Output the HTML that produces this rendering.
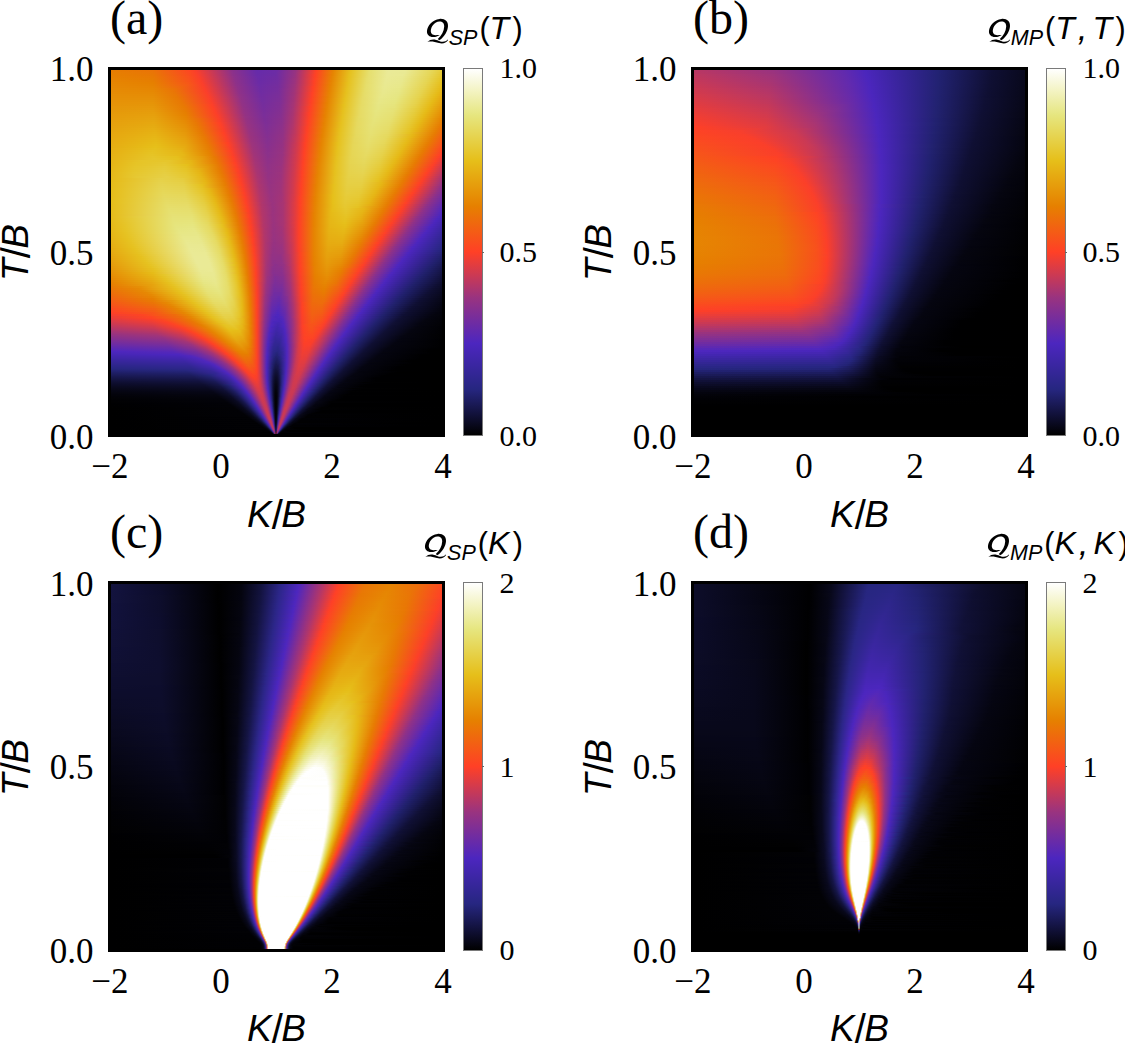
<!DOCTYPE html><html><head><meta charset="utf-8"><style>
*{margin:0;padding:0}
html,body{width:1125px;height:1044px;overflow:hidden;background:#fff}
body{position:relative;font-family:"Liberation Serif",serif;color:#000}
.hm{position:absolute;width:333px;height:368px;display:flex;flex-direction:column;filter:blur(0.5px)}
.hm i{display:block;height:2px;flex:none}
.fr{position:absolute;border:3.2px solid #000;box-sizing:border-box}
.cb{position:absolute;width:19.8px;box-sizing:border-box;border:1px solid #7a7a7a;background:linear-gradient(180deg,#ffffff 0%,#e6e680 12.5%,#e6bf1a 25%,#e68000 37.5%,#ff4026 50%,#993380 62.5%,#4c26bf 75%,#262680 87.5%,#000000 100%)}
.t{position:absolute;white-space:nowrap;line-height:1}
.yt{font-size:35px}
.xt{font-size:35px}
.ct{font-size:30px}
.pl{font-size:48px}
.al{font-family:"Liberation Sans",sans-serif;font-style:italic;font-size:37px}
.sl{font-style:normal;font-size:40px;line-height:0;position:relative;top:2px;margin:0 -1.5px 0 0}
.ti{font-family:"Liberation Sans",sans-serif;font-size:32px}
.ti i{font-style:italic}
.ti .sb{font-style:italic;font-size:21.5px;position:relative;top:6px;margin-right:2px}
.ti .pa{font-size:30.5px}
.ti .pc{font-size:30.5px;margin-left:3.5px}
.ti .cm{font-style:italic;font-size:35px;line-height:0;position:relative;top:1.5px;margin-left:3px;margin-right:5px}
.q{position:absolute}
</style></head><body><div class="hm" style="left:110px;top:68px"><i style="background:linear-gradient(90deg,#e77c02 0px,#eb7208 43px,#fd4523 80px,#f93f2c 85px,#8c318a 121px,#662aaa 146px,#6a2ba6 166px,#973381 186px,#ff4026 206px,#e68201 223px,#e6c11f 241px,#e6df6e 260px,#ebeb99 279px,#eaea96 296px,#e6d657 323px,#e6cb3a 332px)"></i><i style="background:linear-gradient(90deg,#e67d01 0px,#ea7407 43px,#fc4722 80px,#f93f2b 86px,#8c318a 122px,#662baa 147px,#6d2ca5 167px,#983380 186px,#fe4125 206px,#e68302 223px,#e6c221 241px,#e6e070 260px,#eaea98 278px,#eaea95 295px,#e6d657 322px,#e6ca35 332px)"></i><i style="background:linear-gradient(90deg,#e67f01 0px,#e97606 43px,#fb4921 80px,#fa3f2b 87px,#8b318b 123px,#672ba9 147px,#6c2ca5 166px,#963382 185px,#fe4324 206px,#e68502 223px,#e6c11e 240px,#e6df6e 259px,#eaea97 278px,#e9e993 295px,#e6d656 321px,#e6c831 332px)"></i><i style="background:linear-gradient(90deg,#e68000 0px,#e87804 43px,#fa4b1f 80px,#fa3f2b 88px,#8d3189 123px,#682ba8 147px,#6d2ca4 166px,#973381 185px,#ff4026 205px,#e68201 222px,#e6c220 240px,#e6df6f 259px,#eaea96 277px,#eaea94 293px,#e6d758 319px,#e6c62d 332px)"></i><i style="background:linear-gradient(90deg,#e68101 0px,#e87a03 43px,#f94f1d 79px,#fa3f2b 89px,#8d318a 124px,#692ba8 148px,#6f2ca2 167px,#983380 185px,#fe4125 205px,#e68402 222px,#e6c01d 239px,#e6de6d 258px,#eaea95 277px,#e9e991 293px,#e6d555 319px,#e6c528 332px)"></i><i style="background:linear-gradient(90deg,#e68301 0px,#e77c02 43px,#f8511c 79px,#fa3f2a 90px,#8c318a 125px,#692ba7 149px,#712ca0 168px,#9e347b 186px,#fe4325 205px,#e68502 222px,#e6c11f 239px,#e6de6b 257px,#eaea94 276px,#e9e990 292px,#e6d657 317px,#e6c323 332px)"></i><i style="background:linear-gradient(90deg,#e68402 0px,#e67e01 43px,#f7531a 79px,#fb3f2a 91px,#8e3189 125px,#6a2ba6 149px,#722da0 168px,#9b337e 185px,#ff4026 204px,#e68201 221px,#e6c221 239px,#e6de6c 257px,#e9e993 276px,#e8e88e 292px,#e5d553 317px,#e6c11f 332px)"></i><i style="background:linear-gradient(90deg,#e68602 0px,#e68000 43px,#f65718 78px,#fb3f2a 92px,#8d3189 126px,#6b2ba6 149px,#732d9f 168px,#9c337d 185px,#fe4125 204px,#e68402 221px,#e6c11d 238px,#e6dd69 256px,#e9e992 275px,#e8e88d 291px,#e6d552 316px,#e6bf1a 332px)"></i><i style="background:linear-gradient(90deg,#e68703 0px,#e68201 43px,#f55a17 78px,#fb3f2a 93px,#8f3188 126px,#6c2ca5 149px,#742d9e 168px,#9e347b 185px,#fe4225 204px,#e68101 220px,#e6c11f 238px,#e6de6b 256px,#e9e991 275px,#e8e88b 291px,#e6d452 315px,#e6bc18 332px)"></i><i style="background:linear-gradient(90deg,#e68804 0px,#e68402 43px,#f06510 72px,#fb3f2a 94px,#8f3188 127px,#6d2ca4 150px,#762d9c 169px,#9f347a 185px,#ff4026 203px,#e68301 220px,#e6c221 238px,#e6de6b 256px,#e9e990 274px,#e8e88a 290px,#e6d451 314px,#e6bc18 331px,#e6b917 332px)"></i><i style="background:linear-gradient(90deg,#e68a04 0px,#e68603 43px,#eb7208 65px,#fb3f2a 95px,#8e3189 128px,#6e2ca3 150px,#762d9d 168px,#a13479 185px,#ff4126 203px,#e68402 220px,#e6c11e 237px,#e6dd69 255px,#e9e98f 274px,#e7e787 290px,#e6d450 313px,#e6bb18 330px,#e6b616 332px)"></i><i style="background:linear-gradient(90deg,#e68b05 0px,#e68803 43px,#ea7506 64px,#fb3f2a 96px,#903187 128px,#6f2ca2 150px,#772d9c 168px,#9e347b 184px,#fe4225 203px,#e68101 219px,#e6c220 237px,#e6de6a 255px,#e8e88e 273px,#e7e786 289px,#e6d34f 312px,#e6bb18 329px,#e6b315 332px)"></i><i style="background:linear-gradient(90deg,#e68c05 0px,#e68a04 43px,#e97606 65px,#fb3f2a 97px,#8f3188 129px,#702ca2 151px,#792e9a 169px,#a33476 185px,#ff4027 202px,#e68301 219px,#e6c01d 236px,#e6dd68 254px,#e8e88d 273px,#e6e684 289px,#e6d34f 311px,#e6ba17 328px,#e6b013 332px)"></i><i style="background:linear-gradient(90deg,#e68e06 0px,#e68c05 43px,#e97705 66px,#fb3f2a 98px,#913286 129px,#712ca1 151px,#7a2e99 169px,#a03479 184px,#ff4126 202px,#e68402 219px,#e6c11f 236px,#e6dd69 254px,#e8e88b 272px,#e6e683 288px,#e6d34e 310px,#e6bc18 326px,#e6ad12 332px)"></i><i style="background:linear-gradient(90deg,#e68f06 0px,#e68e06 43px,#e87804 67px,#fb3f2a 99px,#913287 130px,#722ca0 151px,#7b2e99 169px,#a23478 184px,#fe4225 202px,#e68101 218px,#e6c220 236px,#e6dc67 253px,#e8e88a 271px,#e6e682 287px,#e6d34d 309px,#e6bb18 325px,#e6a911 332px)"></i><i style="background:linear-gradient(90deg,#e69007 0px,#e69007 43px,#e87904 68px,#fb3f2a 100px,#903287 131px,#722da0 152px,#7d2e97 170px,#a33477 184px,#fe4027 201px,#e68301 218px,#e6c11d 235px,#e6db65 252px,#e7e788 270px,#e6e681 286px,#e6d34f 307px,#e6ba18 324px,#e6a60f 332px)"></i><i style="background:linear-gradient(90deg,#e69207 0px,#e59208 43px,#e87904 70px,#fb3f2a 101px,#923286 131px,#732d9f 152px,#7e2f96 170px,#a43475 184px,#ff4026 201px,#e68402 218px,#e6c11f 235px,#e6dc66 252px,#e7e787 270px,#e6e57e 286px,#e6d24b 307px,#e6ba17 323px,#e6a30e 332px)"></i><i style="background:linear-gradient(90deg,#e69308 0px,#e69408 43px,#e87804 72px,#fb3f2a 102px,#913286 132px,#742d9e 153px,#812f94 171px,#a63574 184px,#fe4125 201px,#e68101 217px,#e6c221 235px,#e6dc66 252px,#e7e786 269px,#e6e57d 285px,#e6d24b 306px,#e6bc18 321px,#e69f0d 332px)"></i><i style="background:linear-gradient(90deg,#e69408 0px,#e59609 43px,#e87904 73px,#fe4027 102px,#933285 132px,#752d9d 153px,#802f94 170px,#a73573 184px,#fe4325 201px,#e68301 217px,#e6c11d 234px,#e6db64 251px,#e6e684 268px,#e6e47c 284px,#e6d14a 305px,#e6bb18 320px,#e69c0b 332px)"></i><i style="background:linear-gradient(90deg,#e69609 0px,#e6980a 43px,#e87a03 74px,#fe4027 103px,#923285 133px,#762d9d 153px,#812f94 170px,#a43476 183px,#ff4026 200px,#e68402 217px,#e6c11f 234px,#e6dc65 251px,#e6e683 268px,#e6e379 285px,#e6cf42 306px,#e6ba18 319px,#e5980a 332px)"></i><i style="background:linear-gradient(90deg,#e59709 0px,#e69a0b 43px,#e87904 76px,#fe4027 104px,#943284 133px,#772d9c 153px,#822f93 170px,#a53575 183px,#ff4126 200px,#e68101 216px,#e6c221 234px,#e6dc66 251px,#e6e682 268px,#e6e174 286px,#e5ca37 308px,#e6ba17 318px,#e69508 332px)"></i><i style="background:linear-gradient(90deg,#e5980a 0px,#e69c0c 43px,#e67d01 75px,#fd4028 105px,#933284 134px,#782d9b 154px,#843091 171px,#a73574 183px,#fe4225 200px,#e68301 216px,#e6c11d 233px,#e6db64 250px,#e6e680 266px,#e6e277 283px,#e6ce41 304px,#e6bc18 316px,#e69107 332px)"></i><i style="background:linear-gradient(90deg,#e59a0a 0px,#e69e0c 44px,#e67e01 76px,#fd3f28 106px,#953283 134px,#792e9a 154px,#853090 171px,#a83572 183px,#fe4027 199px,#e68402 216px,#e6c11f 233px,#e6db64 250px,#e6e57f 266px,#e6e174 283px,#e5cc3c 304px,#e6bb18 315px,#e68d06 332px)"></i><i style="background:linear-gradient(90deg,#e69b0b 0px,#e6a00d 44px,#e68000 76px,#fd3f28 107px,#943283 135px,#7a2e9a 154px,#86308f 171px,#a93571 183px,#ff4026 199px,#e68101 215px,#e6c221 233px,#e6db65 250px,#e6e57e 266px,#e6e072 283px,#e6cb38 304px,#e6ba17 314px,#e68a04 332px)"></i><i style="background:linear-gradient(90deg,#e69c0b 0px,#e6a20e 44px,#e68301 76px,#fc3f29 108px,#963382 135px,#7b2e99 154px,#87308f 171px,#ab3570 183px,#fe4225 199px,#e68201 215px,#e6c11d 232px,#e6db63 249px,#e6e47d 265px,#e6e071 282px,#e6ca37 303px,#e6ba17 313px,#e68603 332px)"></i><i style="background:linear-gradient(90deg,#e69d0c 0px,#e6a40f 44px,#e68502 76px,#ee690d 91px,#fc3f29 109px,#953282 136px,#7b2e98 155px,#8a308c 172px,#ac356f 183px,#fe4325 199px,#e68402 215px,#e6c11f 232px,#e5da60 248px,#e6e47b 264px,#e6e070 281px,#e5ca36 302px,#e6b917 312px,#e68201 332px)"></i><i style="background:linear-gradient(90deg,#e69f0c 0px,#e5a610 44px,#e68a04 75px,#e97606 86px,#fb3f2a 110px,#973381 136px,#7c2e97 155px,#8a318c 172px,#ad366e 183px,#ff4026 198px,#e68502 215px,#e6c221 232px,#e5da61 248px,#e6e47a 264px,#e6df6d 281px,#e6c831 302px,#e6bb18 310px,#e67f01 332px)"></i><i style="background:linear-gradient(90deg,#e6a00d 0px,#e6a810 44px,#e68c05 75px,#e97705 87px,#ff4027 110px,#963382 137px,#7d2e97 156px,#8b318b 172px,#ae366d 183px,#ff4126 198px,#e68201 214px,#e6c11d 231px,#e6d95f 247px,#e6e379 263px,#e6de6c 280px,#e6c830 301px,#e6ba17 309px,#e77b03 332px)"></i><i style="background:linear-gradient(90deg,#e6a10d 0px,#e5aa11 44px,#e68f06 75px,#e87904 87px,#fe4027 111px,#983380 137px,#7e2f96 156px,#8c318a 172px,#b0366c 183px,#fe4225 198px,#e68302 214px,#e6c11f 231px,#e6d95f 247px,#e6e378 262px,#e6de6b 279px,#e6c72f 300px,#e6b917 308px,#e77d02 330px,#e97705 332px)"></i><i style="background:linear-gradient(90deg,#e6a20e 0px,#e5ac12 44px,#e69107 75px,#e87a04 88px,#fd4028 112px,#973381 138px,#7f2f95 156px,#8d318a 172px,#b1366b 183px,#fe4027 197px,#e68502 214px,#e6c220 231px,#e5da60 247px,#e6e277 262px,#e6dd68 279px,#e6c62b 300px,#e6b917 307px,#e77c02 329px,#eb7308 332px)"></i><i style="background:linear-gradient(90deg,#e6a30e 0px,#e6ae13 44px,#e69408 75px,#e87a03 89px,#fc3f28 113px,#99337f 138px,#802f94 156px,#8e3189 172px,#b23669 183px,#ff4026 197px,#e68201 213px,#e6c11d 230px,#e5d95d 246px,#e6e275 261px,#e6dd68 278px,#e6c52a 299px,#e6b817 306px,#e77b03 328px,#ec6f0a 332px)"></i><i style="background:linear-gradient(90deg,#e5a50f 0px,#e6b013 45px,#e59508 76px,#e87804 91px,#fc3f29 114px,#983380 139px,#812f94 157px,#903287 173px,#bd3860 185px,#fe4125 197px,#e68301 213px,#e6c11e 230px,#e6d95e 246px,#e6e174 261px,#e6db65 278px,#e6c425 299px,#e6b515 306px,#e77d02 326px,#ee6b0c 332px)"></i><i style="background:linear-gradient(90deg,#e6a60f 0px,#e6b214 45px,#e6990a 75px,#e77b03 91px,#ff4026 114px,#9a337e 139px,#822f93 157px,#913286 173px,#be385f 185px,#fe4225 197px,#e68402 213px,#e6c220 230px,#e6d95e 246px,#e6e173 261px,#e6da62 278px,#e6c220 299px,#e77c02 325px,#ef670f 332px)"></i><i style="background:linear-gradient(90deg,#e6a710 0px,#e6b415 45px,#e69b0b 75px,#e87904 93px,#fe4027 115px,#99337f 140px,#832f92 157px,#923285 173px,#c53859 186px,#fe4027 196px,#e68101 212px,#e6c221 230px,#e5d95e 246px,#e6e072 261px,#e6d95e 278px,#e6b817 302px,#e77b03 324px,#f16311 332px)"></i><i style="background:linear-gradient(90deg,#e6a810 0px,#e6b616 45px,#e69e0c 75px,#e87a04 94px,#fd4028 116px,#9b337d 140px,#842f91 157px,#933285 173px,#c63958 186px,#ff4026 196px,#e68201 212px,#e6c11e 229px,#e6d85c 245px,#e6e070 260px,#e5d95d 277px,#e6ba18 300px,#e77d02 322px,#f25f13 332px)"></i><i style="background:linear-gradient(90deg,#e6a911 0px,#e6b817 45px,#e6a10d 75px,#e87a03 95px,#fc3f29 117px,#9a337e 141px,#843091 158px,#963282 174px,#d23a4e 188px,#fe4125 196px,#e68402 212px,#e6c11f 229px,#e5d75a 244px,#e6df6f 259px,#e6d95f 275px,#e6c01d 296px,#e77c02 321px,#f45b16 332px)"></i><i style="background:linear-gradient(90deg,#e6aa11 0px,#e6ba17 46px,#e6a20e 76px,#e87a03 96px,#fb3f2a 118px,#9c337d 141px,#853090 157px,#923285 172px,#be385f 184px,#fe4225 196px,#e68502 212px,#e6c221 229px,#e6d75a 244px,#e6df6d 259px,#e6d85b 275px,#e6b917 298px,#e77b03 320px,#f65718 332px)"></i><i style="background:linear-gradient(90deg,#e6ab11 0px,#e6bc18 46px,#e6a40f 76px,#e87a03 97px,#ff4026 118px,#9e347b 141px,#86308f 157px,#933284 172px,#c53859 185px,#fe4027 195px,#e68201 211px,#e6c11d 228px,#e6d657 243px,#e6de6c 258px,#e6d85a 274px,#e6bb18 296px,#e77d02 318px,#f7531b 332px)"></i><i style="background:linear-gradient(90deg,#e6ac12 0px,#e6be19 46px,#e6a710 76px,#e77b03 98px,#fe4027 119px,#9d347c 142px,#87308f 158px,#963282 173px,#d03a4f 187px,#ff4026 195px,#e68301 211px,#e6c11e 228px,#e6d758 243px,#e6de6a 258px,#e5d657 274px,#e6ba17 295px,#e77c02 317px,#f94f1d 332px)"></i><i style="background:linear-gradient(90deg,#e5ad12 0px,#e6c01a 46px,#e6ab11 75px,#e77b03 99px,#fc3f29 120px,#9f347a 142px,#88308e 157px,#943283 172px,#c73957 185px,#fe4125 195px,#e68402 211px,#e6c220 228px,#e6d758 243px,#e6dd69 258px,#e6d554 274px,#e6b917 294px,#e77b03 316px,#fb4b20 332px)"></i><i style="background:linear-gradient(90deg,#e6ae13 0px,#e6c11e 45px,#e6b014 73px,#e77b03 100px,#fb3f2a 121px,#9e347b 143px,#89308d 158px,#973381 173px,#d33a4d 187px,#fe4225 195px,#e68502 211px,#e6c221 228px,#e6d758 243px,#e6dc67 258px,#e6d450 274px,#e6b917 293px,#e77d02 314px,#fc4622 332px)"></i><i style="background:linear-gradient(90deg,#e6af13 0px,#e6c221 43px,#e6b516 71px,#e68301 98px,#ff4027 121px,#a03479 143px,#8a308c 158px,#983380 173px,#d43a4c 187px,#fe4027 194px,#e68201 210px,#e6c11d 227px,#e6d655 242px,#e6dc66 257px,#e6d34f 273px,#e6ba18 291px,#e77b02 313px,#fe4225 332px)"></i><i style="background:linear-gradient(90deg,#e6b013 0px,#e6c323 42px,#e6b716 72px,#e68301 99px,#fd4028 122px,#a23477 143px,#8b318b 157px,#973382 172px,#ca3954 185px,#ff4026 194px,#e68301 210px,#e6c11e 227px,#e6d655 242px,#e6db64 257px,#e6d24b 273px,#e6ba17 290px,#e87a03 312px,#fc3f29 332px)"></i><i style="background:linear-gradient(90deg,#e6b114 0px,#e6c426 42px,#e6b817 73px,#e68301 100px,#fc3f29 123px,#a13478 144px,#8b318b 158px,#99337f 173px,#d63b4a 187px,#ff4126 194px,#e68402 210px,#e6c11f 227px,#e6d655 242px,#e6db62 256px,#e6d24a 272px,#e6b917 289px,#e77c02 310px,#ff4026 330px,#f63f2e 332px)"></i><i style="background:linear-gradient(90deg,#e6b214 0px,#e6c529 43px,#e6c01c 67px,#e69a0a 92px,#e77b03 104px,#ff4026 123px,#a33477 144px,#8c318a 158px,#983380 172px,#cd3952 185px,#fe4225 194px,#e68502 210px,#e6c221 227px,#e6d553 241px,#e6da61 255px,#e6d149 271px,#e6bb18 287px,#e77b02 309px,#fd3f28 329px,#ef3e34 332px)"></i><i style="background:linear-gradient(90deg,#e6b314 0px,#e6c62c 44px,#e6c11e 68px,#e69c0c 92px,#e77b03 105px,#fe4027 124px,#a53475 144px,#8e3189 157px,#993380 172px,#d33a4d 186px,#fe4225 194px,#e68201 209px,#e6c222 227px,#e6d552 241px,#e5d95f 255px,#e5d045 271px,#e6ba17 286px,#e87a03 308px,#fb3f2a 328px,#e83d3a 332px)"></i><i style="background:linear-gradient(90deg,#e6b415 0px,#e6c529 32px,#e6c62c 59px,#e6b515 81px,#e87a03 106px,#fc3f29 125px,#a43476 145px,#8e3189 158px,#99337f 172px,#d43a4c 186px,#fe4027 193px,#e68301 209px,#e6c11e 226px,#e6d450 240px,#e6d95d 254px,#e5cf44 270px,#e6b917 285px,#e77c02 306px,#fe4027 326px,#e13c40 332px)"></i><i style="background:linear-gradient(90deg,#e6b415 0px,#e6c426 26px,#e6c831 55px,#e6b716 81px,#e87a03 107px,#ff4026 125px,#a63575 145px,#8f3188 158px,#9a337f 172px,#d53b4b 186px,#ff4026 193px,#e68402 209px,#e6c11f 226px,#e6d450 240px,#e6d85b 254px,#e6ce40 270px,#e6b917 284px,#e77b02 305px,#fc3f29 325px,#da3b46 332px)"></i><i style="background:linear-gradient(90deg,#e6b515 0px,#e6c427 25px,#e6c934 55px,#e6c01b 77px,#e68c05 102px,#e97705 109px,#fe4028 126px,#a73573 145px,#903287 157px,#983380 171px,#cc3953 184px,#ff4126 193px,#e68502 209px,#e6c220 226px,#e6d34f 240px,#e5d759 254px,#e6cc3c 270px,#e6ba18 282px,#e87a03 304px,#fe4027 323px,#d43a4c 332px)"></i><i style="background:linear-gradient(90deg,#e6b616 0px,#e6c529 25px,#e6cb38 55px,#e6c221 76px,#e6990a 98px,#e87a04 109px,#fc3f29 127px,#a63574 146px,#903287 158px,#9c337d 172px,#d23a4e 185px,#fe4225 193px,#e68201 208px,#e6c221 226px,#e6d34f 240px,#e6d657 254px,#e6cb38 270px,#e6ba17 281px,#e77d02 302px,#fc3f29 322px,#cd3952 332px)"></i><i style="background:linear-gradient(90deg,#e6b716 0px,#e6c52a 24px,#e6cc3b 54px,#e6c425 76px,#e6ab11 92px,#e77c02 109px,#ff4026 127px,#a83573 146px,#913286 158px,#9a337f 171px,#cd3a52 184px,#fe4225 193px,#e68301 208px,#e6c221 226px,#e6d34e 240px,#e6d555 254px,#e6c934 270px,#e6b917 280px,#e77b02 301px,#ff4026 320px,#c63958 332px)"></i><i style="background:linear-gradient(90deg,#e6b716 0px,#e6c62b 24px,#e6cd3e 54px,#e6c529 76px,#e6b415 89px,#e77c02 110px,#fd4028 128px,#aa3571 146px,#933285 157px,#9a337e 171px,#ce3a51 184px,#fe4027 192px,#e68402 208px,#e6c11e 225px,#e6d24c 239px,#e5d553 253px,#e6c933 269px,#e6bb18 278px,#e87a03 300px,#fd3f28 319px,#bf385e 332px)"></i><i style="background:linear-gradient(90deg,#e6b817 0px,#e6c72d 24px,#e6ce41 55px,#e6c72d 76px,#e6b515 90px,#e77b02 111px,#fb3f2a 129px,#a83572 147px,#923285 159px,#9e347b 172px,#d53a4b 185px,#ff4026 192px,#e68402 208px,#e6c11e 225px,#e6d24b 239px,#e6d451 253px,#e6c72e 269px,#e6b716 278px,#e77d02 298px,#ff4026 317px,#b83764 332px)"></i><i style="background:linear-gradient(90deg,#e6b817 0px,#e6c72f 24px,#e6cf44 55px,#e6c831 76px,#e6b816 90px,#e77b03 112px,#fe4027 129px,#aa3571 147px,#933284 158px,#9c337d 171px,#d03a4f 184px,#ff4126 192px,#e68101 207px,#e6c11f 225px,#e6d24a 239px,#e6d34e 253px,#e6c52a 269px,#e6b716 277px,#e77b02 297px,#fe4027 316px,#b1366a 332px)"></i><i style="background:linear-gradient(90deg,#e6b917 0px,#e6c934 27px,#e6d047 57px,#e6c831 78px,#e6b616 92px,#e87a03 113px,#fc3f29 130px,#ac356f 147px,#943284 158px,#9c337d 171px,#d13a4e 184px,#fe4125 192px,#e68201 207px,#e6c220 225px,#e6d148 238px,#e6d24d 252px,#e6c528 268px,#e6b616 276px,#e87a03 296px,#fc3f29 315px,#aa3570 332px)"></i><i style="background:linear-gradient(90deg,#e6ba17 0px,#e6d149 51px,#e6cd3e 73px,#e6b716 93px,#e87a04 114px,#ff4026 130px,#ad366e 147px,#953283 158px,#9d337c 171px,#d23a4e 184px,#fe4225 192px,#e68301 207px,#e6c220 225px,#e6d047 238px,#e6d14a 252px,#e6c324 268px,#e6b013 277px,#e77d02 294px,#fe4027 313px,#a33476 332px)"></i><i style="background:linear-gradient(90deg,#e6ba17 0px,#e6d24b 51px,#e6ce42 73px,#e6b515 95px,#e77c02 114px,#fd3f28 131px,#ac356f 148px,#953283 159px,#9e347c 171px,#d33a4d 184px,#fe4324 192px,#e68402 207px,#e6c221 225px,#e6d046 238px,#e6d047 252px,#e6c11f 268px,#e77b02 293px,#fc3f29 312px,#9c337c 332px)"></i><i style="background:linear-gradient(90deg,#e6bb18 0px,#e6d34e 51px,#e6d046 73px,#e6b817 95px,#e77c02 115px,#ff4026 131px,#aa3571 149px,#953283 160px,#a13479 172px,#d93b47 185px,#fe4027 191px,#e68402 207px,#e6c221 225px,#e6d045 238px,#e6cf44 252px,#e6b817 271px,#e87a03 292px,#ff4026 310px,#963382 332px)"></i><i style="background:linear-gradient(90deg,#e6bb18 0px,#e6d451 52px,#e6d148 74px,#e6c11e 92px,#e67e01 115px,#fe4027 132px,#af366c 148px,#963382 159px,#9f347b 171px,#cf3a50 183px,#ff4026 191px,#e68101 206px,#e6c11d 224px,#e6cf43 237px,#e6cf43 251px,#e6b816 270px,#e77d02 290px,#fd4028 309px,#913286 332px)"></i><i style="background:linear-gradient(90deg,#e6bb18 0px,#e6d553 52px,#e6d24c 74px,#e6c222 92px,#e68804 113px,#eb7208 119px,#fb3f2a 133px,#ad356e 149px,#963382 160px,#9f347a 171px,#cf3a50 183px,#ff4026 191px,#e68201 206px,#e6c11e 224px,#e6ce42 237px,#e6ce40 251px,#e6b716 269px,#e77c02 289px,#fb3f2a 308px,#8f3187 331px,#8c318a 332px)"></i><i style="background:linear-gradient(90deg,#e6bc18 0px,#e6d655 52px,#e6d34f 74px,#e6c427 92px,#e6b415 100px,#e77d02 117px,#fe4027 133px,#ae366d 149px,#973381 160px,#a0347a 171px,#d03a4f 183px,#fe4125 191px,#e68301 206px,#e6c11e 224px,#e6ce40 237px,#e6cc3d 251px,#e6b817 267px,#e87a03 288px,#fe4027 306px,#8e3189 330px,#87308e 332px)"></i><i style="background:linear-gradient(90deg,#e6bc18 0px,#e6d758 53px,#e6d452 75px,#e6c528 93px,#e6b716 100px,#e77c02 118px,#fb3f2a 134px,#b0366b 149px,#973381 160px,#a03479 171px,#d13a4f 183px,#fe4225 191px,#e68302 206px,#e6c11e 224px,#e5cd3f 237px,#e6cb39 251px,#e6b716 266px,#e77d02 286px,#fc3f29 305px,#8f3188 328px,#822f93 332px)"></i><i style="background:linear-gradient(90deg,#e6bc18 0px,#e6d85a 53px,#e6d655 75px,#e6c62c 93px,#e6b716 101px,#e87a03 119px,#fe4027 134px,#b2366a 149px,#983381 160px,#a03479 171px,#d13a4e 183px,#fe4225 191px,#e68402 206px,#e6c11e 224px,#e6cd3e 237px,#e6ca36 251px,#e6b716 265px,#e77c02 285px,#ff4026 303px,#8d3189 327px,#7d2e97 332px)"></i><i style="background:linear-gradient(90deg,#e6bc18 0px,#e6d95d 54px,#e6d759 75px,#e6c934 92px,#e6ba18 101px,#e67d01 119px,#fb3f2a 135px,#af366c 150px,#983381 161px,#a33477 172px,#d83b49 184px,#fe4324 191px,#e68502 206px,#e6c01b 223px,#e6cc3b 236px,#e6ca36 249px,#e6b616 264px,#e87a03 284px,#fd3f28 302px,#8f3188 325px,#782d9b 332px)"></i><i style="background:linear-gradient(90deg,#e6bc18 0px,#e6d95f 54px,#e6d85c 75px,#e6cb39 92px,#e6b816 103px,#e77c02 120px,#fe4027 135px,#b1366b 150px,#983380 161px,#a43476 172px,#d83b48 184px,#fe4027 190px,#e68101 205px,#e6c01b 223px,#e6cb39 236px,#e6c933 249px,#e6b515 263px,#e77d02 282px,#ff4026 300px,#8d318a 324px,#732d9f 332px)"></i><i style="background:linear-gradient(90deg,#e6bd18 0px,#e5da62 55px,#e6d95f 76px,#e6cb3a 93px,#e6b816 104px,#e77b03 121px,#fb3f2a 136px,#b2366a 150px,#993380 161px,#a43476 172px,#d93b48 184px,#ff4027 190px,#e68201 205px,#e6c01b 223px,#e6cb38 236px,#e6c72f 249px,#e6b616 261px,#e77c02 281px,#fe4027 299px,#8e3189 322px,#6e2ca3 332px)"></i><i style="background:linear-gradient(90deg,#e6bd18 0px,#e6db64 56px,#e5da61 77px,#e6cc3b 94px,#e6b816 105px,#e67d01 121px,#fe4027 136px,#b43668 150px,#993380 161px,#a43476 172px,#d93b47 184px,#ff4026 190px,#e68201 205px,#e6c01a 223px,#e6ca35 235px,#e6c72d 248px,#e6b315 261px,#e87a03 280px,#fb3f29 298px,#903187 320px,#692ba8 332px)"></i><i style="background:linear-gradient(90deg,#e6bd18 0px,#e6dc66 56px,#e6db64 77px,#e5ce40 94px,#e6bb18 105px,#e77c02 122px,#ff4126 136px,#ad366e 152px,#993380 163px,#aa3570 174px,#e63d3c 186px,#ff4026 190px,#e68301 205px,#e6c01a 223px,#e6c934 235px,#e6c52a 248px,#e6b515 259px,#e77d02 278px,#ff4027 296px,#8e3189 319px,#642aac 332px)"></i><i style="background:linear-gradient(90deg,#e6bc18 0px,#e6dd69 57px,#e6dc67 78px,#e6ce41 95px,#e6bb18 106px,#e87a03 123px,#fd4028 137px,#b23669 151px,#99337f 162px,#a73573 173px,#e03c41 185px,#ff4126 190px,#e68302 205px,#e6bf1a 223px,#e6c832 235px,#e6c426 248px,#e6ac12 261px,#e77c02 277px,#fc3f29 295px,#8f3188 317px,#5f29b0 332px)"></i><i style="background:linear-gradient(90deg,#e6bc18 0px,#e6de6b 58px,#e6dd6a 78px,#e6d045 95px,#e6ba18 107px,#e77d02 123px,#ff4126 137px,#b0366c 152px,#993380 163px,#a73573 173px,#e03c41 185px,#fe4125 190px,#e68402 205px,#e6bf1a 223px,#e6c830 235px,#e6c222 248px,#e6970a 267px,#e77b03 276px,#ff4026 293px,#8d3189 316px,#5a29b4 332px)"></i><i style="background:linear-gradient(90deg,#e6bc18 0px,#e6df6e 59px,#e6de6c 79px,#e6d149 95px,#e6ba17 108px,#e77b03 124px,#fd3f28 138px,#b1366b 152px,#99337f 163px,#a73573 173px,#e13c41 185px,#fe4125 190px,#e68402 205px,#e6bd19 222px,#e6c72e 236px,#e6b616 254px,#e77d02 274px,#fd4028 292px,#8f3188 314px,#5528b8 332px)"></i><i style="background:linear-gradient(90deg,#e6bc18 0px,#e6e070 60px,#e6df6e 80px,#e6d24a 96px,#e6ba17 109px,#e87a04 125px,#ff4026 138px,#b2366a 152px,#99337f 163px,#a73573 173px,#e13c40 185px,#fe4225 190px,#e68502 205px,#e6bd18 222px,#e6c62b 236px,#e6b516 253px,#e77c02 273px,#fb3f2a 291px,#8d318a 313px,#5027bc 332px)"></i><i style="background:linear-gradient(90deg,#e6bc18 0px,#e6e172 61px,#e6e070 81px,#e6d24b 97px,#e6b917 110px,#e77c02 125px,#fb3f29 139px,#b33669 152px,#9a337f 163px,#a73573 173px,#e13c40 185px,#fe4225 190px,#e68101 204px,#e6ba17 221px,#e6c529 236px,#e6b415 252px,#e77b03 272px,#fe4027 289px,#8f3188 311px,#4c26bf 332px)"></i><i style="background:linear-gradient(90deg,#e6bb18 0px,#e6e175 62px,#e6e172 82px,#e6d24c 98px,#e6bc18 110px,#e87a03 126px,#fe4027 139px,#b43668 152px,#9a337e 162px,#a43476 172px,#d53b4b 183px,#fe4225 190px,#e68201 204px,#e6ba17 221px,#e6c426 236px,#e6b315 251px,#e77d02 270px,#fc3f29 288px,#8d318a 310px,#4b26bd 331px,#4a26bb 332px)"></i><i style="background:linear-gradient(90deg,#e6bb18 0px,#e6cd3f 26px,#e6e277 63px,#e6e275 82px,#e6d450 98px,#e6bc18 111px,#e77d02 126px,#ff4126 139px,#b1366b 153px,#9a337f 163px,#a73573 173px,#e23c40 185px,#fe4325 190px,#e68201 204px,#e6b917 221px,#e6c323 236px,#e6b013 251px,#e77c02 269px,#ff4026 286px,#8e3188 308px,#4c26be 329px,#4726b7 332px)"></i><i style="background:linear-gradient(90deg,#e6ba18 0px,#e6c933 20px,#e6e378 63px,#e6e378 82px,#e6d555 98px,#e6bb18 112px,#e77b03 127px,#fc3f29 140px,#b2366a 153px,#9a337f 163px,#a73574 173px,#e23c40 185px,#fe4324 190px,#e68201 204px,#e6b716 220px,#e6c221 235px,#e6ad12 251px,#e77b03 268px,#fd4028 285px,#903187 306px,#4c26be 327px,#4526b3 332px)"></i><i style="background:linear-gradient(90deg,#e6ba17 0px,#e6c72f 18px,#e6e379 63px,#e6e47b 82px,#e6d85c 97px,#e6ba17 113px,#e67d01 127px,#ff4026 140px,#b33669 153px,#9a337f 163px,#a63574 173px,#dc3b45 184px,#fd4028 189px,#e68301 204px,#e6b616 220px,#e6c11e 235px,#e6a710 252px,#e87904 267px,#fb3f2a 284px,#8e3189 305px,#4c26bf 325px,#4326af 332px)"></i><i style="background:linear-gradient(90deg,#e6b917 0px,#e6c52a 16px,#e6e47b 64px,#e6e57d 83px,#e5d95d 98px,#e6b917 114px,#e77b03 128px,#fe4125 140px,#af366c 154px,#99337f 164px,#a93571 174px,#e93d3a 186px,#fe4028 189px,#e68301 204px,#e6b616 220px,#e6c01b 235px,#e6a10d 253px,#e77c02 265px,#fe4027 282px,#903187 303px,#4b26bd 324px,#4126ab 332px)"></i><i style="background:linear-gradient(90deg,#e6b817 0px,#e6c427 15px,#e6e57d 65px,#e6e680 83px,#e6da61 98px,#e6c221 112px,#e67d01 128px,#fd3f28 141px,#b43668 153px,#99337f 163px,#a63574 173px,#dc3b45 184px,#fe4027 189px,#e68301 204px,#e6b516 220px,#e6be19 235px,#e69d0c 253px,#e77b03 264px,#fc3f29 281px,#8e3189 302px,#4c26be 322px,#3e26a8 332px)"></i><i style="background:linear-gradient(90deg,#e6b816 0px,#e6c426 15px,#e6e57f 66px,#e6e683 83px,#e6da62 99px,#e6c11f 113px,#e77b03 129px,#ff4026 141px,#b53667 153px,#99337f 163px,#a23477 172px,#d53b4b 183px,#fe4027 189px,#e68302 204px,#e6b515 220px,#e6bc18 235px,#e5990a 253px,#e87904 263px,#ff4026 279px,#8f3188 300px,#4c26bf 320px,#3c26a4 332px)"></i><i style="background:linear-gradient(90deg,#e6b716 0px,#e6c426 16px,#e6e681 67px,#e7e785 84px,#e6da62 100px,#e6ba17 116px,#e67d01 129px,#fe4125 141px,#ad356e 155px,#983380 164px,#a53475 173px,#db3b45 184px,#fe4027 189px,#e68402 204px,#e6b214 219px,#e6ba18 234px,#e6980a 252px,#e77c02 261px,#fd4028 278px,#8d3189 299px,#4b26bd 319px,#3a26a0 332px)"></i><i style="background:linear-gradient(90deg,#e6b616 0px,#e6c425 16px,#e6e684 69px,#e7e787 85px,#e6db62 101px,#e6b917 117px,#e77b03 130px,#fc3f28 142px,#b2366a 154px,#993380 163px,#a13478 172px,#d53a4b 183px,#fe4027 189px,#e68402 204px,#e6b214 219px,#e6b817 234px,#e69408 252px,#e77b03 260px,#fb3f2a 277px,#8f3188 297px,#4c26be 317px,#38269d 332px)"></i><i style="background:linear-gradient(90deg,#e6b515 0px,#e6c323 16px,#e7e786 70px,#e7e789 86px,#e5db63 102px,#e6bc18 117px,#e67d01 130px,#ff4026 142px,#b23669 154px,#983380 163px,#a03479 172px,#d53a4b 183px,#fe4027 189px,#e68402 204px,#e6b114 219px,#e6b616 234px,#e69007 252px,#e87904 259px,#ff4027 275px,#8d3189 296px,#4c26bf 315px,#362699 332px)"></i><i style="background:linear-gradient(90deg,#e6b415 0px,#e6c323 17px,#e7e789 72px,#e7e789 88px,#e6db63 103px,#e6ba17 118px,#e87a03 131px,#fe4125 142px,#ae366d 155px,#973381 164px,#a33477 173px,#db3b46 184px,#fe4027 189px,#e68402 204px,#e6b013 219px,#e6b415 233px,#e68f06 251px,#e87804 258px,#fc3f29 274px,#8f3188 294px,#4d26bf 313px,#342696 332px)"></i><i style="background:linear-gradient(90deg,#e6b315 0px,#e6c323 18px,#e8e88b 73px,#e8e88c 88px,#e6db63 104px,#e6b917 119px,#e77d02 131px,#fb3f29 143px,#b33669 154px,#983381 163px,#9f347a 172px,#ce3a52 182px,#fe4027 189px,#e68402 204px,#e6af13 219px,#e6b214 233px,#e68b05 251px,#e97705 257px,#ff4026 272px,#8d318a 293px,#4c26be 312px,#322692 332px)"></i><i style="background:linear-gradient(90deg,#e6b214 0px,#e6c221 18px,#e8e88d 74px,#e8e88d 89px,#e6dc67 104px,#e6c221 117px,#e67f00 131px,#fd4028 143px,#b43668 154px,#973381 163px,#9e347b 172px,#cd3a52 182px,#fe4027 189px,#e68402 204px,#e6ae13 219px,#e6b013 233px,#e68703 251px,#ee6b0c 259px,#fe4027 271px,#8f3188 291px,#4c26be 310px,#30268f 332px)"></i><i style="background:linear-gradient(90deg,#e6b014 0px,#e6c220 19px,#e9e98f 76px,#e8e88d 91px,#e6db62 106px,#e6ba17 120px,#e77c02 132px,#ff4026 143px,#af366c 155px,#963382 164px,#a03479 173px,#da3b47 184px,#fe4027 189px,#e68402 204px,#e6ac12 218px,#e6ae13 232px,#e68502 250px,#ef670f 259px,#fb3f29 270px,#8d318a 290px,#4d26bf 308px,#2e268c 332px)"></i><i style="background:linear-gradient(90deg,#e6af13 0px,#e6c222 21px,#e9e991 77px,#e8e88e 92px,#e6da62 107px,#e6bc18 120px,#e67e01 132px,#fe4125 143px,#aa3570 156px,#953282 164px,#9f347a 173px,#d23a4d 183px,#fe4027 189px,#e68402 204px,#e6ab11 218px,#e6ac12 232px,#e68101 250px,#ff4026 268px,#8f3188 288px,#4b26be 307px,#2c2689 332px)"></i><i style="background:linear-gradient(90deg,#e6ad12 0px,#e6c221 22px,#e9e992 78px,#e9e991 92px,#e6dc65 107px,#e6ba18 121px,#e77b03 133px,#fb3f29 144px,#af366c 155px,#963282 163px,#9b337e 172px,#cb3954 182px,#fd4028 189px,#e68402 204px,#e6aa11 218px,#e6a911 232px,#e87904 251px,#fd3f28 267px,#8c318a 287px,#4c26be 305px,#2a2685 332px)"></i><i style="background:linear-gradient(90deg,#e6ac12 0px,#e6c220 23px,#e9e993 79px,#e9e992 93px,#e6db65 108px,#e6b817 122px,#e67d01 133px,#fd4028 144px,#af366c 155px,#953283 163px,#9a337f 172px,#ca3954 182px,#fd4028 189px,#e68402 204px,#e6a810 218px,#e6a60f 232px,#e77c02 249px,#ff4126 265px,#8e3188 285px,#4c26bf 303px,#282682 332px)"></i><i style="background:linear-gradient(90deg,#e6aa11 0px,#e6c11f 24px,#eaea94 80px,#e9e993 94px,#e6db64 109px,#e6bb18 122px,#e67f00 133px,#ff4026 144px,#af366c 155px,#943283 163px,#993380 172px,#ca3955 182px,#fd3f28 189px,#e68402 204px,#e5a710 218px,#e6a30e 232px,#e87a03 248px,#fe4027 264px,#8c318a 284px,#4b26bd 302px,#26267f 332px)"></i><i style="background:linear-gradient(90deg,#e6a910 0px,#e6c220 26px,#eaea95 81px,#e9e993 95px,#e6db63 110px,#e6b917 123px,#e77c02 134px,#fe4125 144px,#aa3571 156px,#943284 163px,#9a337e 173px,#d03a50 183px,#fc3f29 189px,#e68302 204px,#e6a60f 218px,#e6a00d 232px,#e87904 247px,#fc3f29 263px,#8e3188 282px,#4c26be 300px,#242479 332px)"></i><i style="background:linear-gradient(90deg,#e6a710 0px,#e6c221 28px,#eaea96 82px,#eaea94 96px,#e6dc66 110px,#e6bb18 123px,#e67e01 134px,#fe4225 144px,#aa3571 156px,#933285 163px,#99337f 173px,#cf3a50 183px,#fe4324 190px,#e68301 204px,#e6a30e 217px,#e69f0d 231px,#e77b03 245px,#ff4026 261px,#8c318a 281px,#4c26bf 298px,#232373 332px)"></i><i style="background:linear-gradient(90deg,#e6a50f 0px,#e6c11f 29px,#eaea96 83px,#eaea95 96px,#e6dd6a 110px,#e6b917 124px,#e87a03 135px,#fc3f29 145px,#af366c 155px,#933284 162px,#943284 171px,#b43668 179px,#fe4325 190px,#e68301 204px,#e6a20e 217px,#e69c0b 231px,#e87a03 244px,#fe4027 260px,#8e3188 279px,#4b26bd 297px,#21216e 332px)"></i><i style="background:linear-gradient(90deg,#e6a30e 0px,#e6c11f 31px,#eaea97 84px,#eaea96 97px,#e6dd68 111px,#e6bb18 124px,#e77c02 135px,#fd4028 145px,#af366d 155px,#933285 162px,#923285 171px,#b33669 179px,#fe4225 190px,#e68201 204px,#e6a10d 217px,#e6990a 231px,#e87904 243px,#fb3f29 259px,#8c318a 278px,#4c26be 295px,#20206b 331px,#1f1f68 332px)"></i><i style="background:linear-gradient(90deg,#e6a10d 0px,#e6c220 33px,#eaea97 85px,#eaea96 98px,#e6de6b 111px,#e6c427 122px,#e6b917 125px,#e67e01 135px,#ff4026 145px,#ae366d 155px,#923286 162px,#913286 171px,#b1366a 179px,#fe4225 190px,#e68201 204px,#e69f0d 217px,#e59509 231px,#e77b03 241px,#ff4026 257px,#8e3188 276px,#4d26bf 293px,#20206b 329px,#1e1e63 332px)"></i><i style="background:linear-gradient(90deg,#e69f0c 0px,#e6c220 35px,#eaea97 86px,#eaea95 99px,#e6dd6a 112px,#e6c323 123px,#e69f0d 130px,#e87a03 136px,#ff4126 145px,#a83572 156px,#8f3188 163px,#923285 172px,#b63766 180px,#fe4225 190px,#e68201 204px,#e69d0c 217px,#e69207 231px,#e87a03 240px,#fd4028 256px,#8c318a 275px,#4b26bd 292px,#20206b 327px,#1c1c5e 332px)"></i><i style="background:linear-gradient(90deg,#e69c0c 0px,#e6c220 37px,#eaea97 87px,#eaea95 100px,#e6dd68 113px,#e6b817 126px,#e77c02 136px,#fe4225 145px,#a73573 156px,#8e3189 163px,#913287 172px,#af366d 179px,#fe4125 190px,#e68101 204px,#e69c0b 217px,#e68f06 231px,#e87904 239px,#fb3f2a 255px,#8e3188 273px,#4c26be 290px,#20206b 325px,#1b1b59 332px)"></i><i style="background:linear-gradient(90deg,#e69a0b 0px,#e6c220 39px,#eaea96 88px,#eaea96 100px,#e6de6b 113px,#e6c323 124px,#e6a40e 130px,#e67e01 136px,#fe4325 145px,#a13479 157px,#8a308c 165px,#943283 174px,#c93956 183px,#ff4126 190px,#e68100 204px,#e69a0b 217px,#e68b05 231px,#e97705 238px,#ff4026 253px,#8c318a 272px,#4d26bf 288px,#20206b 323px,#191954 332px)"></i><i style="background:linear-gradient(90deg,#e6970a 0px,#e6c220 41px,#eaea96 89px,#eaea95 101px,#e6dd69 114px,#e6b716 127px,#e68000 136px,#fb3f2a 146px,#a63574 156px,#8b318b 163px,#8e3189 172px,#ab356f 179px,#ff4126 190px,#e68302 205px,#e6980a 217px,#e68703 231px,#eb7308 238px,#fd3f28 252px,#8f3188 270px,#4c26be 287px,#20206b 321px,#18184f 332px)"></i><i style="background:linear-gradient(90deg,#e69509 0px,#e6c11f 43px,#eaea95 90px,#eaea94 102px,#e6dc66 115px,#e6ba17 127px,#e77b03 137px,#fc3f29 146px,#a53575 156px,#8a308c 163px,#8c318a 172px,#aa3571 179px,#ff4026 190px,#e68301 205px,#e69609 217px,#e68302 231px,#ff4126 250px,#8c318a 269px,#4c26bf 285px,#20206b 319px,#16164b 332px)"></i><i style="background:linear-gradient(90deg,#e59207 0px,#e6c11f 45px,#e9e993 90px,#eaea95 102px,#e6df6e 114px,#e6c72e 124px,#e6b616 128px,#e77d02 137px,#fe4028 146px,#a43476 156px,#88308d 163px,#8a318c 172px,#a83572 179px,#ff4026 190px,#e68201 205px,#e69408 217px,#e67f00 231px,#ff4027 249px,#8a318c 268px,#4b26bd 284px,#20206b 317px,#151546 332px)"></i><i style="background:linear-gradient(90deg,#e68f06 0px,#e6bc18 43px,#e9e993 92px,#e9e991 104px,#e6dc66 116px,#e6b817 128px,#e67e01 137px,#ff4026 146px,#a33476 156px,#87308f 163px,#89308d 172px,#a63574 179px,#fe4027 190px,#e68101 205px,#e59207 217px,#e77b02 231px,#fc3f29 248px,#8d318a 266px,#4c26be 282px,#20206b 315px,#141442 332px)"></i><i style="background:linear-gradient(90deg,#e68c05 0px,#e6b817 43px,#e6c528 53px,#e9e990 92px,#e9e992 104px,#e6dd69 116px,#e6c324 126px,#e6a810 131px,#e68000 137px,#ff4026 146px,#a23477 156px,#842f91 164px,#8a308c 173px,#ab356f 180px,#fd4028 190px,#e68000 205px,#e69006 217px,#e87a03 230px,#ff4126 246px,#8a318c 265px,#4c26bf 280px,#20206b 313px,#13133e 332px)"></i><i style="background:linear-gradient(90deg,#e68904 0px,#e6b415 43px,#e6c222 53px,#e8e88d 92px,#e9e991 104px,#e6de6b 116px,#e6c427 126px,#e6b114 130px,#e77b03 138px,#fe4125 146px,#9a337e 157px,#802f94 165px,#88308e 173px,#aa3571 180px,#fc3f28 190px,#e67f00 205px,#e68d05 217px,#e87904 229px,#fe4027 245px,#8d318a 263px,#4b26bd 279px,#20206b 311px,#11113a 332px)"></i><i style="background:linear-gradient(90deg,#e68603 0px,#e6af13 42px,#e6c221 55px,#e8e88b 93px,#e9e98f 105px,#e6dd68 117px,#e6c222 127px,#e59207 135px,#e77c02 138px,#fe4225 146px,#993380 157px,#7f2f96 165px,#86308f 173px,#a83573 180px,#fc3f29 190px,#e67e01 205px,#e68b04 217px,#e97805 228px,#fc3f29 244px,#8b318b 262px,#4c26be 277px,#20206b 309px,#101036 332px)"></i><i style="background:linear-gradient(90deg,#e68301 0px,#e6ab11 42px,#e6c220 57px,#e7e787 93px,#e8e88e 105px,#e6df6e 116px,#e6c72d 126px,#e6bb18 129px,#e67e01 138px,#fe4325 146px,#983380 157px,#7d2e97 165px,#842f91 173px,#a63574 180px,#fe4325 191px,#e77b03 204px,#e68904 216px,#e97606 227px,#ff4126 242px,#8d3189 260px,#4d26bf 275px,#20206b 307px,#0f0f32 332px)"></i><i style="background:linear-gradient(90deg,#e68000 0px,#e6a610 42px,#e6c11e 59px,#e6e684 94px,#e8e88c 106px,#e6de6b 117px,#e6c830 126px,#e6b716 130px,#e68000 138px,#fe4324 146px,#d73b49 150px,#973381 157px,#7b2e99 165px,#822f93 173px,#a43476 180px,#fe4225 191px,#e87a03 204px,#e68703 215px,#ea7506 226px,#fe4027 241px,#8b318b 259px,#4b26be 274px,#20206b 305px,#0f0f32 330px,#0e0e2f 332px)"></i><i style="background:linear-gradient(90deg,#e77c02 0px,#e6a20e 42px,#e6c220 62px,#e6e57f 94px,#e8e88a 106px,#e6de6c 117px,#e6c933 126px,#e6b817 130px,#e87a03 139px,#fd4424 146px,#ee3e35 148px,#9c337d 156px,#7a2e99 164px,#7d2e97 172px,#a23478 180px,#fe4125 191px,#e87904 204px,#e68402 215px,#ed6e0b 227px,#fc3f29 240px,#8e3189 257px,#4c26bf 272px,#20206b 303px,#0f0f33 327px,#0d0d2b 332px)"></i><i style="background:linear-gradient(90deg,#e87904 0px,#e69006 31px,#e6c11f 64px,#e6e47d 95px,#e7e787 107px,#e6dd69 118px,#e6c72d 127px,#e6ba17 130px,#e77b03 139px,#fb3f2a 147px,#9b337e 156px,#782e9b 164px,#7b2e99 172px,#a0347a 180px,#ff4126 191px,#e97805 204px,#e68201 215px,#f16311 229px,#ff4126 238px,#8b318b 256px,#4b26bd 271px,#20206b 301px,#0f0f33 325px,#0c0c28 332px)"></i><i style="background:linear-gradient(90deg,#ea7506 0px,#e68904 29px,#e6c11d 66px,#e6e37a 96px,#e6e684 108px,#e6dd6a 118px,#e6c72f 127px,#e6b616 131px,#e77d02 139px,#fb3f29 147px,#99337f 156px,#762d9d 164px,#782e9b 172px,#9e347b 180px,#ff4026 191px,#ea7407 203px,#e68000 214px,#f16212 228px,#fe4027 237px,#89308d 255px,#4c26be 269px,#20206b 299px,#0f0f32 323px,#0b0b25 332px)"></i><i style="background:linear-gradient(90deg,#eb7109 0px,#e68904 33px,#e6c11f 69px,#e6e277 97px,#e6e681 109px,#e6dc66 119px,#e6c529 128px,#e6b716 131px,#e67e01 139px,#fc3f29 147px,#983380 156px,#742d9f 164px,#762d9d 172px,#9c337d 180px,#ff4026 191px,#eb7308 203px,#e77d02 214px,#f35d15 228px,#fc3f29 236px,#8c318a 253px,#4d26bf 267px,#20206b 297px,#0f0f33 320px,#0a0a22 332px)"></i><i style="background:linear-gradient(90deg,#ed6d0b 0px,#e68803 37px,#e6c11d 71px,#e6e174 98px,#e6e57e 110px,#e6dc66 119px,#e6c62b 128px,#e6b917 131px,#e68000 139px,#fd3f28 147px,#973381 156px,#712ca1 164px,#712ca1 171px,#99337f 180px,#fe4027 191px,#eb7208 203px,#e87a03 214px,#f55818 228px,#ff4126 234px,#8a308c 252px,#4b26bd 266px,#20206c 295px,#0f0f33 318px,#090920 332px)"></i><i style="background:linear-gradient(90deg,#ee690d 0px,#e68803 41px,#e6c11f 74px,#e6e071 99px,#e6e47a 111px,#e6da62 120px,#e6c324 129px,#e6ad12 133px,#e68101 139px,#fd4028 147px,#953282 156px,#6f2ca3 164px,#6f2ca3 171px,#983381 180px,#fd4028 191px,#ec7009 203px,#e97705 214px,#f7531b 228px,#fe4027 233px,#8d318a 250px,#4c26bf 264px,#20206c 293px,#0f0f32 316px,#09091d 332px)"></i><i style="background:linear-gradient(90deg,#f06510 0px,#e68502 43px,#e6c01d 76px,#e6e070 101px,#e6e277 112px,#e6d95d 121px,#e6bc18 131px,#e87a03 140px,#fe4027 147px,#9c337c 155px,#722da0 162px,#692ba8 169px,#842f91 177px,#b0366b 183px,#fc3f29 191px,#ec6f0a 203px,#ea7407 214px,#f94e1e 228px,#fc3f29 232px,#8a318c 249px,#4b26bd 263px,#20206c 291px,#101034 313px,#08081a 332px)"></i><i style="background:linear-gradient(90deg,#f26113 0px,#e67f00 43px,#e6be19 77px,#e6de6c 102px,#e6e173 113px,#e5d758 122px,#e6b716 132px,#e77b02 140px,#ff4026 147px,#9b337e 155px,#702ca2 162px,#662aaa 169px,#822f93 177px,#ae366d 183px,#fb3f29 191px,#ed6e0b 203px,#eb7109 214px,#fb4921 228px,#fa3f2b 231px,#88308e 248px,#4c26be 261px,#20206c 289px,#0f0f33 311px,#070718 332px)"></i><i style="background:linear-gradient(90deg,#f45c15 0px,#e87a04 43px,#e5990a 63px,#e6c220 82px,#e6dd68 103px,#e6df6f 114px,#e6d553 123px,#e6b817 132px,#e77d02 140px,#ff4026 147px,#99337f 155px,#6a2ba7 163px,#642aab 170px,#863090 178px,#b63766 184px,#fa3f2a 191px,#ed6d0b 203px,#ed6e0b 214px,#fe4027 229px,#8b318b 246px,#4d26bf 259px,#20206c 287px,#0f0f33 309px,#070716 332px)"></i><i style="background:linear-gradient(90deg,#f65718 0px,#ea7407 43px,#e68803 57px,#e6c11e 84px,#e6db64 104px,#e6de6b 115px,#e6d34d 124px,#e6b917 132px,#e67e01 140px,#ff4026 147px,#983381 155px,#6b2ba6 162px,#602aaf 169px,#7d2e96 177px,#ab3570 183px,#fe4225 192px,#ee690d 202px,#ed6e0b 212px,#fc4622 226px,#f63f2f 229px,#89308d 245px,#4c26be 258px,#21216d 285px,#0f0f32 307px,#060614 332px)"></i><i style="background:linear-gradient(90deg,#f7531b 0px,#ec6f0a 44px,#e68603 60px,#e6c220 87px,#e6da61 106px,#e6dc67 116px,#e6d34d 124px,#e6ba17 132px,#e67f00 140px,#ff4126 147px,#963382 155px,#682ba8 162px,#5d29b1 169px,#7b2e98 177px,#a93571 183px,#fe4125 192px,#ef680e 202px,#ee6a0d 212px,#ff4126 226px,#87308f 244px,#4d26bf 256px,#21216d 283px,#101034 304px,#050512 332px)"></i><i style="background:linear-gradient(90deg,#f94e1e 0px,#ef690e 44px,#e68502 63px,#e6c11e 89px,#e6d85d 107px,#e6da62 117px,#e6d047 125px,#e6bb18 132px,#e68000 140px,#ff4126 147px,#953283 155px,#652aab 162px,#5a29b4 169px,#732d9f 176px,#a73573 183px,#ff4126 192px,#f0660f 202px,#ef670f 212px,#ff4026 225px,#8a308c 242px,#4b26bd 255px,#21216d 281px,#0f0f33 302px,#050510 332px)"></i><i style="background:linear-gradient(90deg,#fb4921 0px,#f16311 45px,#e68602 67px,#e6c220 92px,#e6d75a 109px,#e5d85c 119px,#e6cc3b 127px,#e6bb18 132px,#e68101 140px,#fe4125 147px,#933284 155px,#622aad 162px,#5728b7 169px,#712ca1 176px,#a63574 183px,#ff4026 192px,#f06510 202px,#f16411 212px,#fd3f28 224px,#88308e 241px,#4c26bf 253px,#21216d 279px,#0f0f33 300px,#050510 330px,#04040f 332px)"></i><i style="background:linear-gradient(90deg,#fd4424 0px,#f35d15 45px,#e68703 71px,#e6c11d 94px,#e6d655 110px,#e6d758 119px,#e5cb3a 127px,#e6bc18 132px,#e68201 140px,#fe4225 147px,#923285 155px,#6029af 162px,#5327ba 168px,#682ba8 175px,#a43476 183px,#ff4026 192px,#f16311 202px,#f26013 212px,#fb3f2a 223px,#863090 240px,#4b26bd 252px,#20206a 278px,#0f0f31 299px,#04040e 330px,#04040d 332px)"></i><i style="background:linear-gradient(90deg,#fd3f28 0px,#f65519 44px,#e68602 74px,#e6c11f 97px,#e6d452 112px,#e6d451 121px,#e6c62c 129px,#e6b616 133px,#e87a03 141px,#fe4225 147px,#903287 155px,#5d29b2 162px,#4f27bd 168px,#662aaa 175px,#a23477 183px,#fe4027 192px,#f16212 202px,#f35d15 212px,#ff4026 221px,#89308d 238px,#4c26bf 250px,#20206a 276px,#0f0f32 296px,#04040f 326px,#03030c 332px)"></i><i style="background:linear-gradient(90deg,#f43e30 0px,#fd4523 33px,#ee6b0c 65px,#e68703 78px,#e6c01d 99px,#e6d24c 113px,#e6d24b 122px,#e6c62c 129px,#e6b616 133px,#e77b03 141px,#fe4225 147px,#8f3188 155px,#5928b5 162px,#4c26bf 168px,#632aac 175px,#a13479 183px,#fd4028 192px,#f26013 202px,#f55917 212px,#fd4028 220px,#87308f 237px,#4e26be 248px,#21216e 273px,#0f0f34 293px,#050510 322px,#03030a 332px)"></i><i style="background:linear-gradient(90deg,#eb3d37 0px,#fd4523 41px,#ec6f0a 71px,#e68603 81px,#e6c11e 102px,#e6d148 115px,#e6cf45 123px,#e6c324 130px,#e69508 138px,#e77b02 141px,#fe4225 147px,#8d3189 155px,#5628b7 162px,#4b26bc 166px,#5127bb 172px,#853091 180px,#fc3f29 192px,#f35e14 202px,#f65519 212px,#fb3f2a 219px,#843091 236px,#4c26be 247px,#20206b 272px,#0f0f31 292px,#04040f 321px,#030309 332px)"></i><i style="height:1px;background:linear-gradient(90deg,#e53c3d 0px,#fe4027 40px,#f06510 69px,#e68502 83px,#e6c11e 104px,#e5cf44 116px,#e6cd3f 124px,#e6b616 133px,#e77c02 141px,#fe4225 147px,#8c318b 155px,#5427b9 162px,#4a26ba 169px,#5327ba 173px,#943284 182px,#fc3f29 192px,#f35d15 202px,#f8521b 212px,#fb3f2a 218px,#843091 235px,#4c26be 246px,#21216d 270px,#101034 289px,#050510 317px,#020208 332px)"></i><i style="height:1px;background:linear-gradient(90deg,#e03c41 0px,#f83f2c 40px,#fc4722 52px,#e87904 80px,#e69b0b 92px,#e6c221 106px,#e6ce41 117px,#e6cc3a 125px,#e6b616 133px,#e77c02 141px,#fe4325 147px,#8b318b 155px,#5227bb 162px,#4926b9 169px,#5227bb 173px,#943284 182px,#fb3f29 192px,#f45c15 202px,#f9501d 212px,#fd4028 217px,#86308f 234px,#4c26bf 245px,#21216d 269px,#101034 288px,#050510 316px,#020208 332px)"></i><i style="height:1px;background:linear-gradient(90deg,#db3b46 0px,#f43e30 41px,#fd4424 53px,#ea7506 80px,#e68803 87px,#e6c220 107px,#e6cd3f 118px,#e6ca35 126px,#e6b616 133px,#e77d02 141px,#fe4325 147px,#8a318c 155px,#5027bc 162px,#4926b9 170px,#5027bc 173px,#933285 182px,#fb3f2a 192px,#f45b16 202px,#f94e1e 212px,#ff4026 216px,#822f93 234px,#4d26bf 244px,#21216e 268px,#0f0f33 287px,#05050f 315px,#020207 332px)"></i><i style="height:1px;background:linear-gradient(90deg,#d73b4a 0px,#ee3e35 41px,#fd4424 56px,#e87804 83px,#e68f06 91px,#e6c11e 108px,#e5cc3c 119px,#e6c830 127px,#e6b616 133px,#e77d02 141px,#fe4324 147px,#943283 154px,#5528b8 161px,#4926ba 164px,#4926ba 171px,#5428b9 174px,#9c337d 183px,#fb3f2a 192px,#f55a17 202px,#fa4c1f 212px,#fc3f29 216px,#842f91 233px,#4e27be 243px,#21216e 267px,#0f0f33 286px,#050510 313px,#020207 332px)"></i><i style="height:1px;background:linear-gradient(90deg,#d23a4e 0px,#ea3d39 42px,#fe4225 58px,#e97606 84px,#e68b04 91px,#e6c221 110px,#e6cb39 120px,#e6c52a 128px,#e6b616 133px,#e67d01 141px,#fe4324 147px,#933284 154px,#5327ba 161px,#4a26bb 163px,#4626b4 169px,#4d26bf 173px,#923286 182px,#fa3f2a 192px,#f55917 202px,#fb4920 212px,#fe4027 215px,#802f94 233px,#4b26bd 243px,#21216e 266px,#101035 284px,#050510 311px,#020206 332px)"></i><i style="height:1px;background:linear-gradient(90deg,#cd3952 0px,#e43c3e 42px,#fe4225 61px,#e87a03 87px,#e6b515 106px,#e6ca36 120px,#e6c528 128px,#e6b013 134px,#e67d01 141px,#fe4324 147px,#b0366b 152px,#732da0 157px,#4c26be 162px,#4426b2 168px,#5127bb 174px,#9b337e 183px,#fa3f2b 192px,#f65718 201px,#fb4a20 211px,#fa3f2b 215px,#822f93 232px,#4c26be 242px,#21216e 265px,#101035 283px,#050511 309px,#020206 332px)"></i><i style="height:1px;background:linear-gradient(90deg,#c83956 0px,#de3c43 42px,#fe4324 64px,#e67e01 90px,#e6c221 113px,#e6c933 122px,#e6c322 129px,#e6a40f 136px,#e67e01 141px,#fe4324 147px,#c0385d 151px,#87308f 155px,#5027bd 161px,#4326b0 168px,#5027bd 174px,#9a337f 183px,#fa3f2b 192px,#fa4d1e 196px,#f65519 205px,#fc3f29 214px,#832f91 231px,#4d26bf 241px,#21216f 264px,#101035 282px,#050511 308px,#020205 332px)"></i><i style="height:1px;background:linear-gradient(90deg,#c3385b 0px,#d93b47 43px,#fe4324 67px,#e68000 92px,#e6c11f 114px,#e6c72f 123px,#e6b917 132px,#e68603 140px,#ee6b0c 143px,#fe4324 147px,#c0385d 151px,#863090 155px,#4e27be 161px,#4226ae 168px,#4e27be 174px,#9a337f 183px,#f13e33 191px,#ff4126 193px,#f65519 201px,#fd4623 211px,#f83f2d 214px,#802f95 231px,#4e27be 240px,#20206b 264px,#0f0f32 282px,#05050f 309px,#020205 332px)"></i><i style="height:1px;background:linear-gradient(90deg,#be385f 0px,#d33a4c 43px,#fe4225 69px,#e68101 94px,#e6c221 116px,#e6c62b 124px,#e6b817 132px,#e68603 140px,#ed6c0c 143px,#fe4324 147px,#d13a4f 150px,#913287 154px,#4c26bf 161px,#4126ad 167px,#4d26bf 174px,#993380 183px,#f13e33 191px,#ff4126 193px,#f7541a 201px,#fd4424 211px,#f43e30 214px,#812f93 230px,#4b26bd 240px,#20206b 263px,#0f0f32 281px,#04040f 308px,#010105 332px)"></i><i style="height:1px;background:linear-gradient(90deg,#b93763 0px,#ce3a51 44px,#f93f2b 68px,#fb4921 75px,#e68301 96px,#e6c11f 117px,#e6c427 125px,#e6b315 133px,#e67e01 141px,#fe4324 147px,#d13a4f 150px,#903187 154px,#5227bb 160px,#4826b8 162px,#4026ab 168px,#4c26be 174px,#993380 183px,#f03e33 191px,#ff4026 193px,#f7531b 201px,#fc3f29 212px,#7d2e97 230px,#4c26be 239px,#20206b 262px,#0f0f32 280px,#05050f 306px,#010104 332px)"></i><i style="height:1px;background:linear-gradient(90deg,#b43668 0px,#c83956 44px,#f23e32 68px,#fd4523 75px,#e68502 98px,#e6c01c 118px,#e6c323 126px,#e6b314 133px,#e67e01 141px,#fe4324 147px,#d03a4f 150px,#8f3188 154px,#5027bc 160px,#3f26a9 167px,#4826b8 173px,#5127bc 175px,#a53475 184px,#f83f2c 192px,#fd4424 194px,#f8521b 202px,#fe4027 211px,#7f2f95 229px,#4d26bf 238px,#20206b 261px,#0f0f32 279px,#05050f 305px,#010104 332px)"></i><i style="height:1px;background:linear-gradient(90deg,#af366c 0px,#c3385a 45px,#ee3e36 69px,#fe4225 76px,#e68302 99px,#e6bf1a 119px,#e6c11e 127px,#e6a810 135px,#e67e01 141px,#fe4324 147px,#d03a4f 150px,#8e3188 154px,#4f27bd 160px,#3e26a8 167px,#4726b7 173px,#4f27bd 175px,#a43476 184px,#f83f2c 192px,#fd4424 194px,#f8511c 202px,#ff4026 210px,#a23478 223px,#4e27be 237px,#20206c 260px,#101034 277px,#050510 302px,#010104 332px)"></i><i style="height:1px;background:linear-gradient(90deg,#aa3571 0px,#bd3860 45px,#e63d3c 69px,#fe4125 78px,#e68502 101px,#e6be19 120px,#e6bb18 130px,#e69609 138px,#e67e01 141px,#fe4324 147px,#e23c40 149px,#8e3189 154px,#4d26bf 160px,#3e26a7 166px,#4426b0 172px,#4e27be 175px,#a43476 184px,#f03e34 191px,#ff4026 193px,#f9501d 201px,#fc3f29 210px,#7d2e97 228px,#4b26bd 237px,#20206c 259px,#0f0f34 276px,#050510 301px,#010103 332px)"></i><i style="height:1px;background:linear-gradient(90deg,#a43476 0px,#b83764 46px,#e23c40 70px,#fe4125 80px,#e68402 102px,#e6bb18 120px,#e6ba17 130px,#e69509 138px,#e67e01 141px,#fe4324 147px,#e13c40 149px,#8d318a 154px,#4c26be 160px,#3d26a5 166px,#4326af 172px,#4d26bf 175px,#b0366b 185px,#f73f2d 192px,#fe4324 194px,#f94e1e 202px,#fe4027 209px,#792e9a 228px,#4c26bf 236px,#20206c 258px,#0f0f33 275px,#050510 300px,#010103 332px)"></i><i style="height:1px;background:linear-gradient(90deg,#9f347a 0px,#b2366a 46px,#da3b47 70px,#fe4324 83px,#e68201 103px,#e6b917 121px,#e6b817 130px,#e59509 138px,#e67e01 141px,#fe4324 147px,#e13c40 149px,#8c318a 154px,#5327ba 159px,#4726b6 161px,#3b26a2 167px,#4526b3 173px,#4c26be 175px,#a33476 184px,#ef3e34 191px,#fe4027 193px,#fa4d1e 201px,#fa3f2b 209px,#7b2e99 227px,#4d26bf 235px,#21216d 257px,#0f0f33 274px,#050510 299px,#010103 332px)"></i><i style="height:1px;background:linear-gradient(90deg,#9a337f 0px,#ac356e 47px,#d53b4b 71px,#fe4324 85px,#e68502 105px,#e6b816 122px,#e6b415 131px,#e68e06 139px,#e67e01 141px,#fd4424 147px,#e13c40 149px,#8b318b 154px,#5127bb 159px,#3b26a1 166px,#4126ac 172px,#4b26bd 175px,#973381 183px,#ef3e34 191px,#fe4225 194px,#fa4b1f 202px,#fc3f29 208px,#772d9c 227px,#4e27be 234px,#21216d 256px,#0f0f33 273px,#05050f 298px,#010103 332px)"></i><i style="height:1px;background:linear-gradient(90deg,#953282 0px,#a53575 46px,#cb3954 70px,#fe4324 87px,#e68302 106px,#e6b415 122px,#e6b314 131px,#e68e06 139px,#e67e01 141px,#fd4424 147px,#e13c40 149px,#8b318c 154px,#5027bc 159px,#3a26a0 166px,#4026ab 172px,#4b26bc 175px,#642aac 178px,#bc3761 186px,#f63f2e 192px,#fd4523 195px,#fc4821 203px,#f83f2c 208px,#792e9a 226px,#4b26be 234px,#21216d 255px,#0f0f33 272px,#05050f 297px,#010102 332px)"></i><i style="height:1px;background:linear-gradient(90deg,#913286 0px,#a13479 48px,#c93956 72px,#ff4126 88px,#e68201 107px,#e6b314 123px,#e6af13 132px,#e68603 140px,#ed6d0b 143px,#fd4424 147px,#e13c41 149px,#8a308c 154px,#4e27be 159px,#38269e 166px,#3f26a9 172px,#5027bc 176px,#b0366b 185px,#f63f2e 192px,#fd4523 195px,#fc4722 203px,#fa3f2b 207px,#a33477 219px,#4c26bf 233px,#21216e 254px,#101035 270px,#050510 294px,#010102 332px)"></i><i style="height:1px;background:linear-gradient(90deg,#8d3189 0px,#9d347c 51px,#c63958 74px,#fe4125 90px,#e68402 109px,#e6b114 124px,#e6aa11 133px,#e68602 140px,#ed6d0b 143px,#fd4424 147px,#e13c41 149px,#89308d 154px,#4d26bf 159px,#39269e 165px,#3c26a3 171px,#4f27bd 176px,#b0366b 185px,#ee3e35 191px,#fe4125 194px,#fc4722 202px,#fc3f29 206px,#ae366d 217px,#4d26bf 232px,#21216e 253px,#101035 269px,#050511 292px,#010102 332px)"></i><i style="height:1px;background:linear-gradient(90deg,#89308d 0px,#993380 53px,#c1385c 75px,#fe4225 92px,#e68301 110px,#e6ae12 124px,#e6a911 133px,#e68502 140px,#f16311 144px,#fd4424 147px,#e13c41 149px,#88308d 154px,#4c26be 159px,#37269c 165px,#3b26a2 171px,#4e27be 176px,#b0366b 185px,#ee3e35 191px,#ff4126 194px,#fd4523 202px,#f83f2c 206px,#a13479 218px,#4f27bd 231px,#21216e 252px,#101035 268px,#050511 291px,#010102 332px)"></i><i style="height:1px;background:linear-gradient(90deg,#853090 0px,#953283 54px,#b93763 75px,#f93f2b 92px,#fa4c1f 97px,#e68201 111px,#e5ac12 125px,#e5a710 133px,#e68502 140px,#f16311 144px,#fd4424 147px,#e13c41 149px,#88308e 154px,#5428b9 158px,#4b26bd 159px,#36269a 165px,#38269d 170px,#4d26bf 176px,#b0366b 185px,#ee3e35 191px,#ff4126 194px,#fd4424 202px,#fa3f2b 205px,#ac356f 216px,#5027bc 230px,#4126ac 235px,#20206a 252px,#0f0f32 268px,#04040f 292px,#010102 332px)"></i><i style="height:1px;background:linear-gradient(90deg,#812f94 0px,#903287 55px,#af366c 74px,#ec3d37 91px,#fe4324 96px,#e68402 113px,#e6aa11 126px,#e5a30e 134px,#e67d01 141px,#fd4424 147px,#e13c41 149px,#87308f 154px,#5327ba 158px,#4a26bb 159px,#352698 165px,#37269b 170px,#4c26bf 176px,#b0366b 185px,#ee3e35 191px,#fe4225 195px,#fb3f2a 204px,#b83765 214px,#6a2ba7 225px,#4c26bf 230px,#21216f 250px,#101034 266px,#050510 289px,#000002 332px)"></i><i style="height:1px;background:linear-gradient(90deg,#7c2e97 0px,#8b318b 55px,#a73573 74px,#e33c3f 91px,#fe4125 97px,#e68301 114px,#e5a810 127px,#e69e0c 135px,#e77d02 141px,#fd4424 147px,#e13c41 149px,#86308f 154px,#5227bb 158px,#4026aa 161px,#332695 166px,#38269d 171px,#4c26be 176px,#b0366b 185px,#ee3e35 191px,#fe4225 195px,#fc3f29 203px,#c3385b 212px,#782e9b 222px,#4e26be 229px,#21216f 249px,#101034 265px,#050510 288px,#000001 332px)"></i><i style="height:1px;background:linear-gradient(90deg,#782e9b 0px,#87308e 56px,#a43476 76px,#e33c3f 93px,#fe4225 99px,#e68201 115px,#e5a40f 127px,#e69d0c 135px,#e77d02 141px,#fd4424 147px,#e03c41 149px,#863090 154px,#5027bc 158px,#332695 165px,#352698 170px,#4b26bd 176px,#b1366b 185px,#ee3e35 191px,#fe4125 195px,#f93f2b 203px,#be385f 212px,#6e2ca3 223px,#4b26bd 229px,#20206b 249px,#0f0f31 265px,#04040f 288px,#000001 332px)"></i><i style="height:1px;background:linear-gradient(90deg,#742d9e 0px,#822f93 56px,#a13478 78px,#df3c42 94px,#ff4026 100px,#e68502 117px,#e6a20e 128px,#e6980a 136px,#e77c02 141px,#fd4424 147px,#e03c41 149px,#853090 154px,#4f27bd 158px,#322693 165px,#342696 170px,#4b26bd 176px,#973382 183px,#dd3c44 189px,#fd4028 194px,#fa3f2a 202px,#c1385c 211px,#762d9c 221px,#4c26be 228px,#20206b 248px,#0f0f34 263px,#050510 285px,#000001 332px)"></i><i style="height:1px;background:linear-gradient(90deg,#702ca2 0px,#7e2e96 57px,#9f347a 80px,#e03c42 96px,#fe4125 102px,#e68302 118px,#e6a00d 129px,#e69308 137px,#e77c02 141px,#fd4424 147px,#e03c41 149px,#843091 154px,#4d26be 158px,#332694 164px,#312691 169px,#4526b3 175px,#4a26bc 176px,#6a2ba7 179px,#de3c43 189px,#fd3f28 194px,#fb3f2a 201px,#cc3953 209px,#792e9b 220px,#4d26bf 227px,#20206c 247px,#0f0f33 262px,#050510 284px,#000001 332px)"></i><i style="height:1px;background:linear-gradient(90deg,#6b2ba6 0px,#792e9a 58px,#99337f 81px,#dc3b45 97px,#fe4027 103px,#e68201 119px,#e69d0c 130px,#e69107 137px,#e77b03 141px,#fd4424 147px,#e03c41 149px,#842f91 154px,#4c26bf 158px,#322692 164px,#30268f 169px,#4526b2 175px,#5227ba 177px,#de3c43 189px,#fc3f29 194px,#fc3f29 200px,#cf3a50 208px,#742d9e 220px,#4e27be 226px,#20206c 246px,#0f0f33 261px,#050510 283px,#000001 332px)"></i><i style="height:1px;background:linear-gradient(90deg,#672ba9 0px,#752d9e 59px,#983381 83px,#d73b49 98px,#fe4125 105px,#e68502 121px,#e69b0b 131px,#e68c05 138px,#e77b03 141px,#fd4424 147px,#e03c41 149px,#832f92 154px,#4c26be 158px,#312691 164px,#2f268e 169px,#4426b2 175px,#5227bb 177px,#de3c43 189px,#fb3f2a 194px,#f93f2c 200px,#cb3954 208px,#762d9c 219px,#4b26bd 226px,#21216d 245px,#0f0f33 260px,#05050f 282px,#000001 332px)"></i><i style="height:1px;background:linear-gradient(90deg,#622aad 0px,#6f2ca2 59px,#913286 83px,#c3385b 96px,#fe4027 106px,#e68302 122px,#e6980a 132px,#e68603 139px,#ee6b0c 143px,#fd4424 147px,#e03c41 149px,#822f92 154px,#4b26bd 158px,#322693 163px,#2c268a 168px,#3f26a8 174px,#5127bb 177px,#de3c43 189px,#fa3f2b 194px,#f63f2e 200px,#c63958 208px,#722da0 219px,#4c26bf 225px,#21216d 244px,#0f0f33 259px,#05050f 281px,#000001 332px)"></i><i style="height:1px;background:linear-gradient(90deg,#5e29b1 0px,#6b2ba6 60px,#8d3189 84px,#b53667 95px,#fe4125 108px,#e68201 123px,#e69509 132px,#e68502 139px,#ee6a0d 143px,#fd4424 147px,#e03c41 149px,#822f93 154px,#5628b8 157px,#4a26bc 158px,#312692 163px,#2b2688 168px,#3a26a0 173px,#5127bc 177px,#de3c43 189px,#f93f2c 194px,#f33e30 200px,#c1385d 208px,#6e2ca4 219px,#4e26be 224px,#21216d 243px,#0f0f33 258px,#050510 279px,#000001 329px,#000001 332px)"></i><i style="height:1px;background:linear-gradient(90deg,#5a28b4 0px,#662baa 61px,#89308d 85px,#b0366b 96px,#ff4027 109px,#e68101 124px,#e69207 133px,#e67e01 140px,#fd4424 147px,#e03c41 149px,#812f93 154px,#5428b9 157px,#4a26ba 158px,#302690 163px,#2a2686 168px,#39269e 173px,#5027bc 177px,#d63b4a 188px,#f53f2f 193px,#f43e30 199px,#c4385a 207px,#772d9c 217px,#4b26bd 224px,#21216e 242px,#101035 256px,#050510 277px,#000001 325px,#000001 332px)"></i><i style="height:1px;background:linear-gradient(90deg,#5528b8 0px,#622aad 62px,#822f92 85px,#a63574 96px,#fe4225 111px,#e68301 126px,#e68f06 134px,#e97805 141px,#fd4424 147px,#e03c41 149px,#812f94 154px,#5327ba 157px,#4926b9 158px,#2f268e 163px,#292684 168px,#38269d 173px,#5027bc 177px,#d63b4a 188px,#f53e2f 193px,#f23e32 199px,#bf385e 207px,#652aab 219px,#4c26be 223px,#21216f 241px,#101035 255px,#050511 275px,#000001 321px,#000000 332px)"></i><i style="height:1px;background:linear-gradient(90deg,#5127bc 0px,#5d29b2 62px,#7e2f96 86px,#a73574 98px,#ff4026 112px,#e68201 127px,#e68b05 135px,#e97705 141px,#fd4424 147px,#e03c41 149px,#802f94 154px,#5227ba 157px,#4226ad 159px,#2b2687 164px,#2a2685 169px,#4226ae 175px,#5027bd 177px,#d63b4a 188px,#f43e30 193px,#ef3e34 199px,#ba3762 207px,#672ba9 218px,#4d26bf 222px,#21216f 240px,#101035 254px,#050511 274px,#000001 320px,#000000 332px)"></i><i style="height:1px;background:linear-gradient(90deg,#4c26bf 0px,#5828b6 63px,#782d9b 86px,#a23478 99px,#fd4028 113px,#e68000 128px,#e68803 136px,#e97606 141px,#fd4424 147px,#e03c41 149px,#802f94 154px,#5127bb 157px,#2d268a 163px,#272681 168px,#37269b 173px,#4f27bd 177px,#d73b49 188px,#f33e31 193px,#ec3d37 199px,#b53767 207px,#4f27bd 221px,#212170 239px,#101035 253px,#050511 273px,#000001 319px,#000000 332px)"></i><i style="height:1px;background:linear-gradient(90deg,#4a26bb 0px,#5327ba 63px,#732d9f 87px,#a33477 101px,#fe4225 115px,#e68101 130px,#e68402 137px,#ef680e 143px,#fd4424 147px,#e03c41 149px,#802f95 154px,#5027bc 157px,#2c2689 163px,#25257c 167px,#322692 172px,#4f27bd 177px,#d73b49 188px,#f23e32 193px,#e93d3a 199px,#b0366b 207px,#5127bc 220px,#4226ae 224px,#20206b 239px,#0f0f32 253px,#05050f 273px,#000001 322px,#000000 332px)"></i><i style="height:1px;background:linear-gradient(90deg,#4826b8 0px,#5127bb 68px,#742d9e 90px,#a43476 103px,#ff4026 116px,#e67d01 130px,#e68201 137px,#ef670e 143px,#fe4324 147px,#e03c41 149px,#7f2f95 154px,#4f27bd 157px,#2b2687 163px,#242478 167px,#362699 173px,#4f27bd 177px,#ce3a51 187px,#ef3e34 192px,#ee3e35 197px,#c53859 204px,#6e2ca3 215px,#4c26bf 220px,#20206b 238px,#0f0f31 252px,#04040f 272px,#000001 321px,#000000 332px)"></i><i style="height:1px;background:linear-gradient(90deg,#4626b4 0px,#4c26bf 68px,#6d2ca4 90px,#a03479 104px,#fe4027 117px,#e77b02 131px,#e67d01 138px,#f25f13 144px,#fe4324 147px,#e03c41 149px,#7f2f95 154px,#4e27be 157px,#2a2685 163px,#232374 167px,#352698 173px,#4f27bd 177px,#cf3a50 187px,#ee3e35 192px,#eb3d38 197px,#c0385d 204px,#622aad 216px,#4e26be 219px,#20206c 237px,#101034 250px,#050511 269px,#000001 313px,#000000 332px)"></i><i style="height:1px;background:linear-gradient(90deg,#4326b0 0px,#4a26bb 69px,#5327ba 80px,#7e2f96 98px,#a83572 107px,#fe4324 119px,#e87a04 132px,#e87904 139px,#f65719 145px,#fe4324 147px,#e13c41 149px,#7e2f96 154px,#4d26bf 157px,#292683 163px,#222271 167px,#3a26a1 174px,#4f27bd 177px,#d03a50 187px,#ed3e36 192px,#e93d3a 197px,#bb3762 204px,#5e29b1 216px,#4b26bd 219px,#20206c 236px,#101034 249px,#050510 268px,#000001 312px,#000000 332px)"></i><i style="height:1px;background:linear-gradient(90deg,#4126ac 0px,#4726b7 70px,#5027bc 82px,#7e2f96 100px,#ab356f 109px,#fe4125 120px,#e97606 132px,#e97705 139px,#f65619 145px,#fe4324 147px,#e13c41 149px,#7e2f96 154px,#4c26bf 157px,#2c2689 162px,#21216d 166px,#242476 169px,#4726b6 176px,#4f27bd 177px,#d13a4f 187px,#ec3d36 192px,#e63d3c 197px,#ad366e 205px,#4c26be 218px,#21216d 235px,#101034 248px,#050510 267px,#000001 312px,#000000 332px)"></i><i style="height:1px;background:linear-gradient(90deg,#3f26a9 0px,#4526b3 71px,#5127bc 86px,#832f92 103px,#af366c 111px,#ff4026 121px,#ea7407 133px,#eb7208 140px,#fa4d1e 146px,#fe4324 147px,#e13c41 149px,#6d2ca4 155px,#4c26be 157px,#2b2687 162px,#202069 166px,#232373 169px,#4726b6 176px,#4f27bd 177px,#d13a4e 187px,#ec3d37 192px,#e33c3f 197px,#a83573 205px,#4d26bf 217px,#21216d 234px,#0f0f34 247px,#050510 266px,#000001 311px,#000000 332px)"></i><i style="height:1px;background:linear-gradient(90deg,#3d26a5 0px,#4326af 72px,#5027bc 89px,#842f91 105px,#b33669 113px,#fe4027 122px,#eb7208 134px,#ec7009 140px,#fa4d1f 146px,#fe4324 147px,#e13c41 149px,#6d2ca5 155px,#4c26be 157px,#222271 164px,#1e1e65 167px,#2e268c 172px,#4f27bd 177px,#c83956 186px,#e93d3a 191px,#e43c3e 196px,#b53667 203px,#4f27bd 216px,#21216e 233px,#0f0f33 246px,#05050f 265px,#000001 310px,#000000 332px)"></i><i style="height:1px;background:linear-gradient(90deg,#3a26a1 0px,#4126ab 73px,#5127bc 92px,#853090 107px,#b0366b 114px,#fd3f28 123px,#ec6e0a 134px,#ec6e0a 140px,#fa4c1f 146px,#fe4324 147px,#e13c40 149px,#6c2ca5 155px,#4b26bd 157px,#21216e 164px,#1d1d62 167px,#242478 170px,#5027bd 177px,#c93955 186px,#e83d3a 191px,#e23c40 196px,#b0366c 203px,#4c26be 216px,#21216f 232px,#0f0f33 245px,#050510 263px,#000001 305px,#000000 332px)"></i><i style="height:1px;background:linear-gradient(90deg,#38269d 0px,#3e26a8 74px,#4f27bd 94px,#87308f 109px,#be385f 117px,#fb3f2a 124px,#ed6c0c 135px,#ee6a0d 141px,#fe4324 147px,#e13c40 149px,#6c2ca5 155px,#4b26bd 157px,#20206a 164px,#1c1c5e 167px,#232375 170px,#5027bc 177px,#ca3955 186px,#e53c3d 190px,#e33c3f 195px,#b43668 202px,#4d26bf 215px,#21216f 231px,#101036 243px,#050511 261px,#000001 301px,#000000 332px)"></i><i style="height:1px;background:linear-gradient(90deg,#36269a 0px,#3c26a4 75px,#5027bc 97px,#89308d 111px,#c4385a 119px,#fe4225 126px,#ee6a0d 136px,#f06410 142px,#fe4325 147px,#e13c40 149px,#6c2ba5 155px,#4b26bc 157px,#222272 163px,#1b1b5a 166px,#1f1f67 169px,#4026aa 175px,#5127bc 177px,#cb3954 186px,#e43c3e 190px,#e03c41 195px,#ae366d 202px,#4f27bd 214px,#222270 230px,#101036 242px,#050512 259px,#000001 297px,#000000 332px)"></i><i style="height:1px;background:linear-gradient(90deg,#342696 0px,#3a26a0 76px,#4f27bd 99px,#8c318b 113px,#d43a4c 122px,#fe4125 127px,#ef670f 136px,#f16311 142px,#fe4225 147px,#e23c40 149px,#5a28b4 156px,#4a26bc 157px,#21216f 163px,#1a1a57 166px,#1e1e64 169px,#38269e 174px,#5127bb 177px,#cc3953 186px,#e43c3e 190px,#de3c44 195px,#a93571 202px,#4b26bd 214px,#20206a 230px,#0f0f33 242px,#05050f 260px,#000001 303px,#000000 332px)"></i><i style="height:1px;background:linear-gradient(90deg,#322693 0px,#37269c 77px,#4a26bb 99px,#5528b8 103px,#953283 116px,#ff4126 128px,#f06510 137px,#f35d15 143px,#fe4225 147px,#e23c40 149px,#5a28b4 156px,#4a26bb 157px,#20206b 163px,#191953 166px,#1d1d61 169px,#38269e 174px,#4726b7 176px,#5227bb 177px,#c3385b 185px,#e03c41 189px,#df3c42 194px,#ad366e 201px,#4c26bf 213px,#20206b 229px,#0f0f33 241px,#04040f 259px,#000001 303px,#000000 332px)"></i><i style="height:1px;background:linear-gradient(90deg,#30268f 0px,#352699 78px,#4726b6 99px,#5127bb 104px,#933284 117px,#ff4026 129px,#f16211 138px,#f65718 144px,#fe4225 147px,#cf3a50 150px,#5928b4 156px,#4a26bb 157px,#1f1f68 163px,#18184f 166px,#1c1c5e 169px,#38269e 174px,#4826b7 176px,#5327ba 177px,#c4385a 185px,#e03c41 189px,#dc3b45 194px,#a83573 201px,#4f27bd 212px,#222272 227px,#101036 239px,#050511 256px,#000001 294px,#000000 332px)"></i><i style="height:1px;background:linear-gradient(90deg,#2d268b 0px,#332695 79px,#4526b2 100px,#4e26be 105px,#913286 118px,#ff4026 130px,#f35f14 138px,#f65619 144px,#fe4225 147px,#d03a50 150px,#5928b5 156px,#4a26bb 157px,#232375 162px,#181850 165px,#181851 168px,#38269e 174px,#4826b8 176px,#5427b9 177px,#c63958 185px,#e03c41 189px,#da3b47 194px,#a23477 201px,#4b26bd 212px,#21216c 227px,#0f0f32 239px,#05050f 256px,#000001 297px,#000000 332px)"></i><i style="height:1px;background:linear-gradient(90deg,#2b2688 0px,#312691 80px,#4326af 101px,#4e27be 107px,#963282 120px,#fe4027 131px,#f35d15 139px,#f7551a 144px,#fe4225 147px,#d03a4f 150px,#5928b5 156px,#4a26ba 157px,#222273 162px,#17174c 165px,#17174e 168px,#38269e 174px,#4826b8 176px,#5528b8 177px,#c73957 185px,#e03c42 189px,#d73b4a 194px,#4c26bf 211px,#21216d 226px,#101036 237px,#050511 253px,#000001 289px,#000000 332px)"></i><i style="height:1px;background:linear-gradient(90deg,#292684 0px,#2f268e 81px,#4126ac 102px,#4f27bd 109px,#9c337d 122px,#fe4028 132px,#f45a16 140px,#f94f1d 145px,#fe4125 147px,#d13a4f 150px,#5928b4 156px,#4926ba 157px,#222270 162px,#161649 165px,#17174b 168px,#312691 173px,#4926b9 176px,#5628b7 177px,#c83956 185px,#df3c42 189px,#d33a4c 194px,#4e27be 210px,#21216e 225px,#101035 236px,#050511 252px,#000001 288px,#000000 332px)"></i><i style="height:1px;background:linear-gradient(90deg,#272681 0px,#2d268a 82px,#3d26a6 102px,#4c26bf 110px,#933285 122px,#fd4028 133px,#f65718 140px,#f94e1e 145px,#ff4126 147px,#d13a4e 150px,#5a28b4 156px,#4926ba 157px,#21216d 162px,#151545 165px,#161648 168px,#312691 173px,#4926ba 176px,#5728b6 177px,#bf385e 184px,#dc3b45 188px,#da3b46 192px,#af366c 198px,#5127bc 209px,#4326b0 212px,#21216f 224px,#101035 235px,#050511 251px,#000001 287px,#000000 332px)"></i><i style="height:1px;background:linear-gradient(90deg,#25257c 0px,#2a2686 82px,#3b26a3 103px,#4d26be 112px,#99337f 124px,#fd3f28 134px,#f7551a 141px,#fc4722 146px,#ff4026 147px,#d23a4e 150px,#5a28b4 156px,#4926ba 157px,#272680 161px,#16164b 164px,#13133e 166px,#181850 169px,#312691 173px,#4a26bb 176px,#692ba7 178px,#c1385d 184px,#dc3b45 188px,#d83b49 192px,#aa3571 198px,#4c26bf 209px,#212170 223px,#101035 234px,#050510 250px,#000001 287px,#000000 332px)"></i><i style="height:1px;background:linear-gradient(90deg,#232375 0px,#26267e 75px,#342697 100px,#5027bd 114px,#983380 125px,#fc3f28 135px,#f8521b 142px,#ff4026 147px,#bf385e 151px,#5a29b4 156px,#4a26ba 157px,#26267f 161px,#151547 164px,#12123b 166px,#141442 168px,#222271 171px,#4b26bc 176px,#c2385b 184px,#dc3b45 188px,#d53b4b 192px,#a53475 198px,#4e27be 208px,#222271 222px,#101035 233px,#050511 248px,#000001 282px,#000000 332px)"></i><i style="height:1px;background:linear-gradient(90deg,#21216f 0px,#242478 77px,#352698 103px,#4d26bf 115px,#973381 126px,#fc3f29 136px,#f94f1d 143px,#ff4026 147px,#c0385d 151px,#5b29b3 156px,#4a26bb 157px,#25257d 161px,#151544 164px,#111137 166px,#131340 168px,#222270 171px,#4b26bd 176px,#c4385a 184px,#db3b46 188px,#cc3953 193px,#5127bc 207px,#4326af 210px,#20206a 222px,#0f0f31 233px,#04040e 249px,#000001 289px,#000000 332px)"></i><i style="height:1px;background:linear-gradient(90deg,#1f1f68 0px,#222271 78px,#342697 105px,#5027bc 117px,#a13479 128px,#fc3f29 137px,#fa4d1e 143px,#fe4027 147px,#c1385c 151px,#5c29b3 156px,#4a26bb 157px,#25257b 161px,#141441 164px,#101034 166px,#12123d 168px,#21216f 171px,#4c26be 176px,#bb3762 183px,#d93b48 187px,#d43a4c 191px,#a43476 197px,#4c26be 207px,#20206b 221px,#0f0f31 232px,#04040e 248px,#000000 288px,#000000 332px)"></i><i style="height:1px;background:linear-gradient(90deg,#1d1d62 0px,#20206a 79px,#322694 106px,#4e26be 118px,#a13479 129px,#fc3f29 138px,#fb4920 144px,#fd3f28 147px,#d53a4b 150px,#5c29b2 156px,#4a26bb 157px,#242479 161px,#13133e 164px,#0f0f31 166px,#11113a 168px,#21216f 171px,#4326b0 175px,#4d26bf 176px,#bd3760 183px,#d93b48 187px,#d23a4e 191px,#4e27be 206px,#20206c 220px,#101034 230px,#050510 245px,#000001 280px,#000000 332px)"></i><i style="height:1px;background:linear-gradient(90deg,#1c1c5c 0px,#1e1e64 80px,#2b2688 103px,#4626b5 117px,#4c26be 119px,#a13479 130px,#fc3f29 139px,#fd4623 145px,#fc3f29 147px,#d53b4b 150px,#5d29b1 156px,#4a26bc 157px,#242478 161px,#12123b 164px,#0e0e2e 166px,#111138 168px,#21216e 171px,#4426b1 175px,#4f27bd 176px,#bf385e 183px,#d63b4a 186px,#d43a4c 190px,#a33477 196px,#5127bb 205px,#4226af 208px,#21216d 219px,#101034 229px,#050510 244px,#000001 279px,#000000 332px)"></i><i style="height:1px;background:linear-gradient(90deg,#1a1a56 0px,#1c1c5e 81px,#242479 99px,#4026aa 116px,#5027bc 121px,#a13478 131px,#f43e30 139px,#fe4324 142px,#fb3f2a 147px,#d63b4a 150px,#4b26bc 157px,#242477 161px,#161648 163px,#0e0e2f 165px,#0e0e2d 167px,#141443 169px,#292684 172px,#5127bc 176px,#b43667 182px,#d13a4e 185px,#d53b4b 189px,#b23669 194px,#4c26be 205px,#21216e 218px,#101034 228px,#050511 242px,#000001 274px,#000000 332px)"></i><i style="height:1px;background:linear-gradient(90deg,#181850 0px,#1b1b58 83px,#232373 100px,#4126ac 118px,#4e27be 122px,#a23478 132px,#f43e30 140px,#fe4225 143px,#fa3f2b 147px,#d73b49 150px,#4b26bd 157px,#232376 161px,#151546 163px,#0d0d2c 165px,#0d0d2a 167px,#141442 169px,#292684 172px,#4626b4 175px,#5327ba 176px,#b73765 182px,#d23a4d 185px,#d33a4d 189px,#ad356e 194px,#4e27be 204px,#21216f 217px,#101034 227px,#050510 241px,#000001 273px,#000000 332px)"></i><i style="height:1px;background:linear-gradient(90deg,#16164b 0px,#191953 84px,#21216d 101px,#4026aa 119px,#4d26bf 123px,#a33477 133px,#ed3d36 140px,#ff4026 144px,#f83f2c 147px,#d83b49 150px,#4c26be 157px,#232375 161px,#141444 163px,#0c0c29 165px,#0c0c28 167px,#131340 169px,#292685 172px,#4726b6 175px,#5528b8 176px,#b93763 182px,#d33a4d 185px,#d13a4f 189px,#a73573 194px,#5127bb 203px,#4626b5 205px,#222270 216px,#111138 225px,#060613 238px,#000002 266px,#000000 332px)"></i><i style="height:1px;background:linear-gradient(90deg,#151545 0px,#17174d 85px,#1f1f68 102px,#3f26a9 120px,#4c26bf 124px,#a43476 134px,#ed3e36 141px,#fd3f28 145px,#f03e34 148px,#c83956 151px,#4c26bf 157px,#232374 161px,#141442 163px,#0c0c26 165px,#0b0b25 167px,#13133e 169px,#2a2685 172px,#4826b8 175px,#5828b6 176px,#bc3761 182px,#d33a4c 185px,#ce3a51 189px,#4c26be 203px,#222271 215px,#111138 224px,#060613 237px,#000001 265px,#000000 332px)"></i><i style="height:1px;background:linear-gradient(90deg,#131340 0px,#151547 86px,#1d1d62 103px,#3e26a7 121px,#4c26be 125px,#99337f 134px,#e63d3c 141px,#f93f2c 145px,#ef3e34 148px,#ca3955 151px,#4e26be 157px,#232373 161px,#131340 163px,#0b0b24 165px,#0a0a23 167px,#12123d 169px,#2a2686 172px,#4926b9 175px,#5a29b4 176px,#be385f 182px,#d43a4c 185px,#cb3954 189px,#4e27be 202px,#20206a 215px,#0f0f33 224px,#050511 237px,#000001 267px,#000000 332px)"></i><i style="height:1px;background:linear-gradient(90deg,#12123b 0px,#141443 88px,#1c1c5d 104px,#3a26a0 121px,#4b26bd 126px,#9b337e 135px,#e73d3b 142px,#f53f2f 146px,#e63d3d 149px,#b93763 152px,#4f27bd 157px,#232373 161px,#13133e 163px,#0a0a21 165px,#0a0a21 167px,#12123c 169px,#2b2687 172px,#4a26bb 175px,#b43668 181px,#d03a4f 184px,#d23a4d 187px,#ac356f 192px,#5227bb 201px,#4626b4 203px,#20206b 214px,#0f0f33 223px,#050510 236px,#000001 266px,#000000 332px)"></i><i style="height:1px;background:linear-gradient(90deg,#101036 0px,#12123e 89px,#1a1a57 105px,#36269a 121px,#4b26bd 127px,#752d9d 132px,#e83d3b 143px,#f13e33 147px,#db3b46 150px,#a63574 153px,#5127bb 157px,#2d268a 160px,#12123d 163px,#09091f 165px,#09091e 167px,#12123b 169px,#2b2688 172px,#4c26be 175px,#b73765 181px,#d13a4e 184px,#d03a4f 187px,#a63574 192px,#4c26be 201px,#20206c 213px,#0f0f33 222px,#050510 235px,#000001 266px,#000000 332px)"></i><i style="height:1px;background:linear-gradient(90deg,#0f0f31 0px,#111139 90px,#191952 106px,#322694 121px,#4b26bc 128px,#6d2ca5 132px,#e13c40 143px,#ef3e35 147px,#db3b46 150px,#a93572 153px,#5327ba 157px,#4426b1 158px,#232373 161px,#12123b 163px,#09091d 165px,#09091c 167px,#11113a 169px,#2c2689 172px,#4d26bf 175px,#ab356f 180px,#cd3a52 183px,#d23a4e 186px,#b73765 190px,#4f27bd 200px,#232376 211px,#12123d 219px,#060615 231px,#010102 255px,#000000 332px)"></i><i style="height:1px;background:linear-gradient(90deg,#0d0d2d 0px,#101034 91px,#17174e 107px,#352697 123px,#4b26bc 129px,#642aac 132px,#bb3761 140px,#e83d3a 145px,#ea3d39 148px,#cf3a50 151px,#5528b8 157px,#4526b3 158px,#232374 161px,#11113a 163px,#08081a 165px,#08081a 167px,#11113a 169px,#2d268a 172px,#5027bc 175px,#af366c 180px,#ce3a51 183px,#d03a4f 186px,#b2366a 190px,#5227ba 199px,#4626b4 201px,#21216e 211px,#0f0f33 220px,#05050f 233px,#000001 264px,#000000 332px)"></i><i style="height:1px;background:linear-gradient(90deg,#0c0c29 0px,#0e0e30 93px,#161649 108px,#242479 118px,#4b26bc 130px,#6f2ca3 134px,#dc3b44 144px,#e93d39 147px,#dc3b45 150px,#ae366d 153px,#5728b6 157px,#4626b4 158px,#232374 161px,#111139 163px,#070718 165px,#070719 167px,#111139 169px,#2d268b 172px,#4526b2 174px,#5327b9 175px,#b23669 180px,#cf3a50 183px,#ce3a51 186px,#a03479 191px,#4c26bf 199px,#21216f 210px,#111137 218px,#050512 230px,#000001 256px,#000000 332px)"></i><i style="height:1px;background:linear-gradient(90deg,#0b0b25 0px,#0d0d2c 94px,#151545 109px,#21216f 118px,#4b26bd 131px,#7b2e98 136px,#de3c43 145px,#e63d3c 148px,#d23a4e 151px,#87308f 155px,#5a28b4 157px,#4726b6 158px,#232375 161px,#111138 163px,#070716 165px,#070717 167px,#111139 169px,#2e268d 172px,#4626b4 174px,#5728b7 175px,#b63766 180px,#d03a4f 183px,#cc3953 186px,#853090 193px,#4f27bd 198px,#222270 209px,#111137 217px,#050511 229px,#000001 255px,#000000 332px)"></i><i style="height:1px;background:linear-gradient(90deg,#0a0a21 0px,#0c0c28 95px,#131340 110px,#20206b 119px,#4b26bd 132px,#9f347a 140px,#d83b48 145px,#e43c3e 148px,#d33a4d 151px,#9e347b 154px,#5d29b2 157px,#4826b8 158px,#242477 161px,#111137 163px,#060615 165px,#060615 167px,#111139 169px,#242478 171px,#4826b7 174px,#5a29b4 175px,#b93763 180px,#d03a4f 183px,#c93956 186px,#5327ba 197px,#4b26bc 198px,#222272 208px,#111137 216px,#060613 227px,#000001 251px,#000000 332px)"></i><i style="height:1px;background:linear-gradient(90deg,#09091d 0px,#0b0b25 97px,#131340 112px,#21216f 121px,#4c26be 133px,#b0366b 142px,#da3b47 146px,#e13c41 149px,#c83957 152px,#6029af 157px,#4a26ba 158px,#242478 161px,#101037 163px,#060613 165px,#060614 167px,#111139 169px,#25257a 171px,#4926ba 174px,#742d9e 176px,#bc3761 180px,#d13a4f 183px,#c63958 186px,#4c26bf 197px,#202069 208px,#0f0f32 216px,#04040f 228px,#000001 257px,#000000 332px)"></i><i style="height:1px;background:linear-gradient(90deg,#08081a 0px,#0a0a21 98px,#12123c 113px,#21216c 122px,#4c26bf 134px,#b53667 143px,#db3b46 147px,#dc3b45 150px,#ba3763 153px,#4b26bd 158px,#25257a 161px,#101037 163px,#050511 165px,#060613 167px,#111139 169px,#26267d 171px,#4b26bd 174px,#b1366a 179px,#cf3a51 182px,#c93955 185px,#5027bc 196px,#232375 206px,#12123d 213px,#070716 223px,#010102 243px,#000000 332px)"></i><i style="height:1px;background:linear-gradient(90deg,#070717 0px,#09091e 99px,#101035 113px,#1e1e62 122px,#3a26a1 131px,#4e26be 135px,#cf3a50 146px,#dd3c44 149px,#cb3953 152px,#7e2e96 156px,#4d26bf 158px,#25257c 161px,#101037 163px,#050510 165px,#03030c 166px,#0a0a21 168px,#1b1b5a 170px,#272680 171px,#4d26be 174px,#a43476 178px,#cb3954 181px,#cc3952 184px,#a63574 188px,#5427b9 195px,#4b26bc 196px,#20206c 206px,#0f0f32 214px,#050510 225px,#000001 252px,#000000 332px)"></i><i style="height:1px;background:linear-gradient(90deg,#060614 0px,#08081b 101px,#101035 115px,#1d1d60 123px,#36269a 131px,#5027bc 136px,#d23a4e 147px,#db3b46 150px,#bf385e 153px,#5027bc 158px,#26267f 161px,#101037 163px,#04040f 165px,#03030a 166px,#050510 167px,#12123b 169px,#282682 171px,#4226ad 173px,#5127bb 174px,#a83572 178px,#cc3952 181px,#ca3955 184px,#88308e 190px,#4d26bf 195px,#21216d 205px,#101037 212px,#060613 222px,#000001 244px,#000000 332px)"></i><i style="height:1px;background:linear-gradient(90deg,#050512 0px,#070718 102px,#0f0f32 116px,#1c1c5e 124px,#322693 131px,#4a26bb 136px,#5e29b1 138px,#cc3953 147px,#d93b47 150px,#c2385b 153px,#6e2ca4 157px,#5427b9 158px,#4226ae 159px,#272681 161px,#111137 163px,#09091d 164px,#04040e 165px,#030309 166px,#05050f 167px,#12123c 169px,#292684 171px,#4426b1 173px,#5628b8 174px,#ad366e 178px,#ce3a51 181px,#c73957 184px,#5127bc 194px,#282683 202px,#12123d 210px,#060615 220px,#010102 240px,#000000 332px)"></i><i style="height:1px;background:linear-gradient(90deg,#05050f 0px,#060615 103px,#0e0e30 117px,#1c1c5c 125px,#2e268d 131px,#4b26bd 137px,#923286 143px,#cf3a50 148px,#d63b4a 151px,#c53859 153px,#722ca0 157px,#5728b6 158px,#4426b1 159px,#282682 161px,#111138 163px,#09091d 164px,#04040d 165px,#020208 166px,#04040f 167px,#0a0a21 168px,#1d1d62 170px,#2a2686 171px,#4626b4 173px,#5a29b4 174px,#b2366a 178px,#ca3955 180px,#cb3954 183px,#a0347a 187px,#5528b8 193px,#4b26bd 194px,#222270 203px,#101037 210px,#050512 220px,#000001 242px,#000000 332px)"></i><i style="height:1px;background:linear-gradient(90deg,#04040d 0px,#060614 105px,#0d0d2d 118px,#1b1b5a 126px,#2e268d 132px,#4c26bf 138px,#ca3954 148px,#d63b4a 151px,#c83957 153px,#8d3189 156px,#5c29b3 158px,#4626b4 159px,#292684 161px,#111139 163px,#09091d 164px,#03030c 165px,#020207 166px,#04040e 167px,#0a0a21 168px,#2b2688 171px,#4826b8 173px,#5f29b0 174px,#b63766 178px,#cc3953 180px,#c83956 183px,#4d26be 193px,#222272 202px,#101036 209px,#050511 219px,#000001 241px,#000000 332px)"></i><i style="height:1px;background:linear-gradient(90deg,#03030b 0px,#050511 106px,#0d0d2a 119px,#1b1b59 127px,#2f268d 133px,#4f27bd 139px,#ce3a51 149px,#d23a4e 152px,#bc3761 154px,#6029af 158px,#4826b8 159px,#2a2686 161px,#11113a 163px,#09091d 164px,#03030b 165px,#020206 166px,#04040d 167px,#0a0a22 168px,#2d268b 171px,#4a26bb 173px,#a83572 177px,#c63958 179px,#cc3953 182px,#ae366d 185px,#5227bb 192px,#4326b0 194px,#232373 201px,#101036 208px,#060613 217px,#000001 237px,#000000 332px)"></i><i style="height:1px;background:linear-gradient(90deg,#030309 0px,#05050f 107px,#0c0c28 120px,#1a1a57 128px,#2f268e 134px,#4926ba 139px,#5227ba 140px,#c93955 149px,#d23a4d 152px,#c0385e 154px,#652aab 158px,#4a26bb 159px,#2c2689 161px,#12123b 163px,#09091d 164px,#03030a 165px,#010105 166px,#04040d 167px,#0a0a22 168px,#2f268d 171px,#4d26bf 173px,#ae366d 177px,#c93956 179px,#c93955 182px,#8c318b 187px,#4b26bd 192px,#232375 200px,#12123d 206px,#060615 215px,#010102 233px,#000000 332px)"></i><i style="height:1px;background:linear-gradient(90deg,#020208 0px,#04040e 109px,#0b0b26 121px,#17174e 128px,#2f268f 135px,#4b26bc 140px,#8c318a 145px,#cd3952 150px,#d23a4d 152px,#c3385b 154px,#842f91 157px,#4c26bf 159px,#2d268b 161px,#09091d 164px,#03030a 165px,#010104 166px,#04040d 167px,#0a0a23 168px,#302690 171px,#5227bb 173px,#b33669 177px,#cb3954 179px,#c63958 182px,#4e27be 191px,#20206b 200px,#101036 206px,#050512 215px,#000001 235px,#000000 332px)"></i><i style="height:1px;background:linear-gradient(90deg,#020206 0px,#04040c 110px,#0b0b24 122px,#17174d 129px,#302690 136px,#4d26bf 141px,#c83956 150px,#d23a4e 152px,#c63958 154px,#89308d 157px,#5127bc 159px,#2f268e 161px,#09091e 164px,#030309 165px,#010103 166px,#04040d 167px,#0b0b24 168px,#232375 170px,#4226ae 172px,#5728b7 173px,#a33477 176px,#c53959 178px,#ce3a51 180px,#b63766 183px,#5327ba 190px,#4926ba 191px,#21216c 199px,#101036 205px,#050511 214px,#000001 234px,#000000 332px)"></i><i style="height:1px;background:linear-gradient(90deg,#020205 0px,#03030b 111px,#0a0a22 123px,#17174c 130px,#312691 137px,#5127bc 142px,#c3385a 150px,#d13a4f 152px,#c93956 154px,#a63574 156px,#5628b7 159px,#4126ac 160px,#21216f 162px,#141441 163px,#09091e 164px,#030309 165px,#010103 166px,#04040c 167px,#0b0b25 168px,#25257a 170px,#4526b2 172px,#5c29b2 173px,#a93571 176px,#c83956 178px,#cd3952 180px,#b0366b 183px,#4b26be 190px,#21216e 198px,#101036 204px,#050511 213px,#000001 233px,#000000 332px)"></i><i style="height:1px;background:linear-gradient(90deg,#010104 0px,#03030a 113px,#0a0a21 124px,#17174b 131px,#322693 138px,#4a26bb 142px,#642aac 144px,#c83956 151px,#d03a4f 153px,#bf385e 155px,#792e9a 158px,#5b29b3 159px,#4426b0 160px,#232373 162px,#141444 163px,#09091f 164px,#030309 165px,#010102 166px,#04040d 167px,#0c0c27 168px,#26267f 170px,#4726b7 172px,#622aad 173px,#af366c 176px,#cb3954 178px,#cb3954 180px,#a93572 183px,#4f27bd 189px,#222270 197px,#101036 203px,#060612 211px,#000001 229px,#000000 332px)"></i><i style="height:1px;background:linear-gradient(90deg,#010103 0px,#030309 114px,#09091f 125px,#16164b 132px,#332694 139px,#4c26bf 143px,#c4385a 151px,#d03a50 153px,#c3385b 155px,#7f2f95 158px,#612aae 159px,#4626b5 160px,#242478 162px,#151547 163px,#0a0a20 164px,#030309 165px,#010102 166px,#04040d 167px,#0c0c28 168px,#282682 170px,#4a26bb 172px,#9d347c 175px,#c4385a 177px,#cd3a52 179px,#b1366a 182px,#5528b8 188px,#4926ba 189px,#222272 196px,#101035 202px,#050512 210px,#000001 228px,#000000 332px)"></i><i style="height:1px;background:linear-gradient(90deg,#010103 0px,#030309 116px,#0a0a22 127px,#16164a 133px,#2e268d 139px,#5127bc 144px,#c93956 152px,#ce3a51 154px,#b73766 156px,#672ba9 159px,#4926b9 160px,#26267e 162px,#16164a 163px,#0a0a22 164px,#030309 165px,#000001 166px,#04040d 167px,#0d0d2a 168px,#2a2685 170px,#4d26be 172px,#a43476 175px,#c83957 177px,#cc3953 179px,#aa3571 182px,#4c26be 188px,#232374 195px,#12123d 200px,#070717 207px,#010103 221px,#000000 332px)"></i><i style="height:1px;background:linear-gradient(90deg,#010102 0px,#020208 117px,#0a0a21 128px,#16164a 134px,#2f268f 140px,#4a26ba 144px,#5628b8 145px,#c53859 152px,#cf3a51 154px,#bc3761 156px,#6d2ca4 159px,#4c26be 160px,#282682 162px,#0b0b23 164px,#030309 165px,#000001 166px,#04040e 167px,#0d0d2c 168px,#2c2689 170px,#3e26a7 171px,#5427b9 172px,#ab3570 175px,#ca3954 177px,#ca3955 179px,#a13478 182px,#5127bc 187px,#232376 194px,#12123d 199px,#070716 206px,#010103 220px,#000000 332px)"></i><i style="height:1px;background:linear-gradient(90deg,#000002 0px,#020207 118px,#0a0a20 129px,#16164a 135px,#302691 141px,#4c26be 145px,#bf385e 152px,#ce3a51 154px,#c1385d 156px,#913286 158px,#5227bb 160px,#2a2685 162px,#0b0b25 164px,#030309 165px,#000001 166px,#04040e 167px,#0e0e2f 168px,#2e268d 170px,#4126ac 171px,#5a29b4 172px,#b1366a 175px,#cc3953 177px,#c73958 179px,#5728b7 186px,#4a26ba 187px,#20206a 194px,#101035 199px,#060613 206px,#000001 222px,#000000 332px)"></i><i style="height:1px;background:linear-gradient(90deg,#000001 0px,#020207 120px,#09091f 130px,#16164a 136px,#2c2689 141px,#5127bb 146px,#c63958 153px,#cd3a52 155px,#b33669 157px,#5828b5 160px,#3f26a9 161px,#2c2689 162px,#0c0c27 164px,#030309 165px,#000001 166px,#04040f 167px,#0f0f31 168px,#312691 170px,#4426b1 171px,#612aae 172px,#b83765 175px,#cd3a52 177px,#c2385b 179px,#4c26bf 186px,#20206c 193px,#101035 198px,#050512 205px,#000001 221px,#000000 332px)"></i><i style="height:1px;background:linear-gradient(90deg,#000001 0px,#020206 121px,#09091e 131px,#16164a 137px,#2d268b 142px,#4926ba 146px,#5728b6 147px,#c1385d 153px,#ce3a51 155px,#c83956 156px,#b93764 157px,#5f29b0 160px,#4226ae 161px,#2e268d 162px,#0c0c2a 164px,#03030a 165px,#000001 166px,#050510 167px,#101034 168px,#20206a 169px,#4726b6 171px,#682ba8 172px,#bd3860 175px,#cd3a52 177px,#bd3760 179px,#5227ba 185px,#3f26a9 187px,#21216e 192px,#101034 197px,#050511 204px,#000001 220px,#000000 332px)"></i><i style="height:1px;background:linear-gradient(90deg,#000001 0px,#020207 123px,#09091d 132px,#16164b 138px,#2e268d 143px,#4c26bf 147px,#c73957 154px,#cb3954 156px,#be385f 157px,#89308d 159px,#662baa 160px,#4626b4 161px,#312691 162px,#0d0d2c 164px,#03030a 165px,#000000 166px,#050510 167px,#111138 168px,#222271 169px,#4b26bc 171px,#ad366e 174px,#c2385b 175px,#cc3953 177px,#b63767 179px,#5928b5 184px,#4a26bb 185px,#222270 191px,#101034 196px,#050510 203px,#000001 219px,#000000 332px)"></i><i style="height:1px;background:linear-gradient(90deg,#000000 0px,#020206 124px,#08081c 133px,#131340 138px,#30268f 144px,#4726b5 147px,#5227ba 148px,#c2385b 154px,#cd3952 156px,#c4385a 157px,#903187 159px,#4926ba 161px,#342696 162px,#1f1f67 163px,#0e0e2f 164px,#03030b 165px,#000000 166px,#050512 167px,#12123b 168px,#242478 169px,#5027bc 171px,#973381 173px,#b43667 174px,#c73957 175px,#cd3a52 176px,#bf385f 178px,#4e26be 184px,#222272 190px,#12123d 194px,#070716 200px,#010102 212px,#000000 332px)"></i><i style="height:1px;background:linear-gradient(90deg,#000000 0px,#020205 125px,#08081b 134px,#131340 139px,#312692 145px,#4a26ba 148px,#5928b5 149px,#bc3761 154px,#ce3a51 156px,#c83957 157px,#b63767 158px,#762d9d 160px,#4d26bf 161px,#21216e 163px,#0f0f32 164px,#03030b 165px,#000000 166px,#060613 167px,#13133f 168px,#26267f 169px,#3c26a4 170px,#5828b6 171px,#9f347a 173px,#bb3762 174px,#ca3954 175px,#cd3a52 176px,#b73765 178px,#5428b9 183px,#4726b6 184px,#232375 189px,#12123d 193px,#060615 199px,#010102 211px,#000000 332px)"></i><i style="height:1px;background:linear-gradient(90deg,#000000 0px,#020206 127px,#08081a 135px,#131340 140px,#2c2689 145px,#4d26bf 149px,#c4385a 155px,#cd3952 156px,#cb3954 157px,#bc3761 158px,#7e2e96 160px,#5528b8 161px,#3a26a0 162px,#232376 163px,#101036 164px,#04040c 165px,#000000 166px,#060614 167px,#141444 168px,#292684 169px,#4026aa 170px,#6029af 171px,#a83572 173px,#c1385c 174px,#cc3952 175px,#c1385d 177px,#5c29b2 182px,#4a26bc 183px,#242478 188px,#12123d 192px,#070719 197px,#010103 207px,#000000 332px)"></i><i style="height:1px;background:linear-gradient(90deg,#000000 0px,#020205 128px,#080819 136px,#131340 141px,#2d268b 146px,#4626b5 149px,#5428b9 150px,#be385f 155px,#cb3954 156px,#cd3952 157px,#c2385b 158px,#86308f 160px,#5d29b1 161px,#3d26a6 162px,#26267e 163px,#11113a 164px,#04040d 165px,#000000 166px,#060616 167px,#161649 168px,#2b2688 169px,#4326b0 170px,#682ba8 171px,#b1366b 173px,#c63958 174px,#cd3a52 175px,#ba3763 177px,#4f27bd 182px,#1f1f68 188px,#0f0f33 192px,#050510 198px,#000001 212px,#000000 332px)"></i><i style="height:1px;background:linear-gradient(90deg,#000000 0px,#020206 130px,#09091e 138px,#131341 142px,#2f268e 147px,#4a26bb 150px,#722da0 152px,#c73958 156px,#cd3a52 157px,#c73957 158px,#b2366a 159px,#662baa 161px,#4126ad 162px,#282683 163px,#13133e 164px,#04040e 165px,#000000 166px,#070717 167px,#2e268d 169px,#4826b7 170px,#973381 172px,#b83764 173px,#ca3954 174px,#cd3952 175px,#b0366b 177px,#5728b7 181px,#4726b7 182px,#20206a 187px,#0f0f33 191px,#05050f 197px,#000001 211px,#000000 332px)"></i><i style="height:1px;background:linear-gradient(90deg,#000000 0px,#020205 131px,#09091d 139px,#131341 143px,#312691 148px,#4f27bd 151px,#c0385d 156px,#cc3953 157px,#cb3954 158px,#ba3763 159px,#6f2ca2 161px,#4526b4 162px,#2b2688 163px,#141443 164px,#050510 165px,#000000 166px,#080819 167px,#322693 169px,#4c26be 170px,#a13479 172px,#c0385e 173px,#cd3952 174px,#ca3954 175px,#a53575 177px,#4b26bd 181px,#21216d 186px,#0f0f32 190px,#050512 195px,#000001 207px,#000000 332px)"></i><i style="height:1px;background:linear-gradient(90deg,#000000 0px,#020206 133px,#08081c 140px,#131341 144px,#332694 149px,#4626b5 151px,#5728b6 152px,#b83764 156px,#c93956 157px,#cd3a52 158px,#c1385d 159px,#792e9a 161px,#4a26bb 162px,#2f268e 163px,#161649 164px,#050511 165px,#000000 166px,#08081c 167px,#352699 169px,#5528b9 170px,#ab3570 172px,#c63958 173px,#cd3a52 174px,#c63958 175px,#5127bb 180px,#222270 185px,#13133e 188px,#060615 193px,#010102 203px,#000000 332px)"></i><i style="height:1px;background:linear-gradient(90deg,#000000 0px,#020205 134px,#08081b 141px,#141441 145px,#2c2689 149px,#4a26bc 152px,#7a2e9a 154px,#c3385b 157px,#cd3a52 158px,#c73957 159px,#ac356f 160px,#5127bb 162px,#322694 163px,#060613 165px,#000000 166px,#09091e 167px,#1e1e64 168px,#3926a0 169px,#5e29b0 170px,#b53667 172px,#ca3954 173px,#cc3953 174px,#bf385f 175px,#5a29b4 179px,#4726b7 180px,#232373 184px,#13133e 187px,#080819 191px,#010104 199px,#000000 332px)"></i><i style="height:1px;background:linear-gradient(90deg,#000000 0px,#020206 136px,#08081a 142px,#141441 146px,#2e268c 150px,#5127bc 153px,#bb3762 157px,#cb3954 158px,#cb3954 159px,#b63766 160px,#5b29b3 162px,#36269a 163px,#060614 165px,#000000 166px,#0a0a21 167px,#21216d 168px,#3e26a7 169px,#692ba7 170px,#bd3860 172px,#cd3952 173px,#c83956 174px,#983380 176px,#4c26be 179px,#242477 183px,#13133e 186px,#070718 190px,#010103 198px,#000000 332px)"></i><i style="height:1px;background:linear-gradient(90deg,#000000 0px,#020205 137px,#070719 143px,#141442 147px,#302690 151px,#4626b5 153px,#5b29b3 154px,#c63958 158px,#cd3a52 159px,#bf385e 160px,#662baa 162px,#3b26a2 163px,#1d1d5f 164px,#070716 165px,#000000 166px,#0b0b25 167px,#242477 168px,#4326af 169px,#742d9e 170px,#a33477 171px,#c53859 172px,#cd3a52 173px,#c1385c 174px,#5427b9 178px,#4326b0 179px,#25257b 182px,#13133e 185px,#070717 189px,#010103 197px,#000000 332px)"></i><i style="height:1px;background:linear-gradient(90deg,#000000 0px,#010104 138px,#070717 144px,#0f0f33 147px,#20206b 150px,#4b26bd 154px,#be385f 158px,#cd3952 159px,#c63958 160px,#a43476 161px,#722da0 162px,#4026aa 163px,#1f1f69 164px,#070719 165px,#000001 166px,#0c0c29 167px,#272681 168px,#4826b8 169px,#af366c 171px,#ca3954 172px,#cb3954 173px,#b73765 174px,#5f29b0 177px,#4826b7 178px,#26267f 181px,#13133e 184px,#070716 188px,#010102 196px,#000000 332px)"></i><i style="height:1px;background:linear-gradient(90deg,#000000 0px,#020205 140px,#09091d 146px,#141443 149px,#352698 153px,#5427b9 155px,#b2366a 158px,#c93956 159px,#cb3954 160px,#b1366b 161px,#7e2f96 162px,#4526b3 163px,#232374 164px,#08081c 165px,#000001 166px,#0e0e2d 167px,#2b2688 168px,#4f27bd 169px,#8c318b 170px,#ba3762 171px,#cd3a52 172px,#c53859 173px,#4c26bf 177px,#282682 180px,#13133e 183px,#08081b 186px,#010105 192px,#000000 332px)"></i><i style="height:1px;background:linear-gradient(90deg,#000000 0px,#010104 141px,#060615 146px,#0f0f33 149px,#1a1a58 151px,#38269e 154px,#4626b5 155px,#6029af 156px,#c1385c 159px,#cd3a52 160px,#bc3761 161px,#8b318b 162px,#4b26be 163px,#262680 164px,#09091f 165px,#000001 166px,#0f0f33 167px,#30268f 168px,#5c29b2 169px,#983381 170px,#c4385a 171px,#cd3952 172px,#bb3762 173px,#5828b6 176px,#4326af 177px,#20206c 180px,#13133f 182px,#08081a 185px,#010104 191px,#000000 332px)"></i><i style="height:1px;background:linear-gradient(90deg,#000000 0px,#020205 143px,#08081b 148px,#141444 151px,#2f268e 154px,#4c26be 156px,#b53667 159px,#cc3953 160px,#c53959 161px,#983380 162px,#5828b6 163px,#2b2687 164px,#0b0b23 165px,#000001 166px,#111139 167px,#352698 168px,#6a2ba7 169px,#a73573 170px,#ca3954 171px,#c83956 172px,#652aab 175px,#4826b7 176px,#222270 179px,#13133f 181px,#070719 184px,#010103 190px,#000000 332px)"></i><i style="height:1px;background:linear-gradient(90deg,#000000 0px,#010104 144px,#080819 149px,#141444 152px,#26267d 154px,#4126ac 156px,#5828b6 157px,#c53959 160px,#cc3953 161px,#a83572 162px,#672ba9 163px,#302690 164px,#0c0c28 165px,#000001 166px,#131341 167px,#3b26a1 168px,#792e9a 169px,#b53767 170px,#cd3a52 171px,#bf385f 172px,#4f27bd 175px,#232375 178px,#13133f 180px,#070717 183px,#010103 189px,#000000 332px)"></i><i style="height:1px;background:linear-gradient(90deg,#000000 0px,#020205 146px,#070718 150px,#0f0f31 152px,#1d1d60 154px,#282682 155px,#4626b5 157px,#672ba9 158px,#b93764 160px,#cd3a52 161px,#b73765 162px,#772d9c 163px,#36269a 164px,#0e0e2e 165px,#000001 166px,#16164a 167px,#4126ad 168px,#89308d 169px,#c2385c 170px,#cb3953 171px,#af366c 172px,#5d29b2 174px,#4226ae 175px,#25257a 177px,#13133f 179px,#060615 182px,#010102 188px,#000000 332px)"></i><i style="height:1px;background:linear-gradient(90deg,#000000 0px,#010104 147px,#070716 151px,#0e0e30 153px,#1e1e64 155px,#3a26a0 157px,#4e26be 158px,#c93955 161px,#c4385a 162px,#87308e 163px,#3d26a5 164px,#101036 165px,#000001 166px,#1a1a55 167px,#4926ba 168px,#983380 169px,#ca3954 170px,#c3385b 171px,#6e2ca3 173px,#4826b8 174px,#272680 176px,#131340 178px,#09091d 180px,#020206 184px,#000000 278px,#000000 332px)"></i><i style="height:1px;background:linear-gradient(90deg,#000000 0px,#020205 149px,#060614 152px,#0e0e2f 154px,#151547 155px,#2d268b 157px,#3f26a9 158px,#5e29b0 159px,#bd3860 161px,#cc3953 162px,#993380 163px,#4526b3 164px,#13133f 165px,#000001 166px,#1e1e64 167px,#5828b6 168px,#ad356e 169px,#cd3a52 170px,#b33669 171px,#5327ba 173px,#292685 175px,#131340 177px,#08081c 179px,#010105 183px,#000000 332px)"></i><i style="height:1px;background:linear-gradient(90deg,#000000 0px,#010104 150px,#050512 153px,#0e0e2e 155px,#161648 156px,#312692 158px,#4626b5 159px,#732d9f 160px,#a83573 161px,#cd3952 162px,#af366d 163px,#5127bb 164px,#16164b 165px,#000002 166px,#232375 167px,#6c2ca5 168px,#be385f 169px,#c83956 170px,#662aaa 172px,#4126ab 173px,#1e1e63 175px,#131340 176px,#08081a 178px,#010103 182px,#000000 332px)"></i><i style="height:1px;background:linear-gradient(90deg,#000000 0px,#020205 152px,#08081b 155px,#0d0d2d 156px,#161649 157px,#232375 158px,#5227bb 160px,#c3385b 162px,#c1385c 163px,#672ba9 164px,#1b1b5a 165px,#010102 166px,#2a2686 167px,#832f92 168px,#cb3954 169px,#b83765 170px,#7d2e97 171px,#4826b9 172px,#1f1f68 174px,#131341 175px,#070717 177px,#010104 180px,#000000 332px)"></i><i style="height:1px;background:linear-gradient(90deg,#000000 0px,#010104 153px,#070718 156px,#0d0d2b 157px,#17174b 158px,#26267e 159px,#3d26a5 160px,#6a2ba7 161px,#ab356f 162px,#cc3953 163px,#802f94 164px,#21216e 165px,#010103 166px,#332694 167px,#9a337e 168px,#cd3952 169px,#993380 170px,#5a28b4 171px,#36269a 172px,#141442 174px,#0b0b25 175px,#03030b 177px,#000000 184px,#000000 332px)"></i><i style="height:1px;background:linear-gradient(90deg,#000000 0px,#020205 155px,#060615 157px,#0c0c29 158px,#17174d 159px,#2a2685 160px,#4626b5 161px,#88308e 162px,#ca3955 163px,#9b337e 164px,#292685 165px,#010103 166px,#3e26a7 167px,#b73765 168px,#bf385f 169px,#762d9d 170px,#3e26a7 171px,#242479 172px,#141442 173px,#0a0a23 174px,#030309 176px,#000000 185px,#000000 332px)"></i><i style="height:1px;background:linear-gradient(90deg,#000000 0px,#010103 156px,#050512 158px,#0c0c27 159px,#181851 160px,#2f268f 161px,#5b29b3 162px,#b1366a 163px,#bb3762 164px,#352698 165px,#010104 166px,#4d26bf 167px,#cb3954 168px,#9a337f 169px,#4926ba 170px,#282683 171px,#141444 172px,#0a0a20 173px,#020206 175px,#000000 195px,#000000 332px)"></i><i style="height:1px;background:linear-gradient(90deg,#000000 0px,#010102 157px,#04040e 159px,#0b0b24 160px,#1a1a55 161px,#38269d 162px,#822f93 163px,#cd3a52 164px,#4526b2 165px,#020206 166px,#732d9f 167px,#c83956 168px,#682ba8 169px,#2e268d 170px,#151545 171px,#09091c 172px,#03030b 173px,#000000 177px,#000000 332px)"></i><i style="height:1px;background:linear-gradient(90deg,#000000 0px,#010103 159px,#03030a 160px,#090920 161px,#1c1c5d 162px,#4626b4 163px,#bb3762 164px,#692ba7 165px,#030309 166px,#a0347a 167px,#9b337e 168px,#39269e 169px,#151548 170px,#070718 171px,#020207 172px,#000000 180px,#000000 332px)"></i><i style="height:1px;background:linear-gradient(90deg,#000000 0px,#000001 160px,#020206 161px,#08081a 162px,#20206a 163px,#742d9e 164px,#a33477 165px,#050510 166px,#cc3953 167px,#4c26bf 168px,#17174c 169px,#050512 170px,#010104 171px,#000000 332px)"></i><i style="height:1px;background:linear-gradient(90deg,#000000 0px,#010102 162px,#050512 163px,#282682 164px,#cc3953 165px,#0a0a20 166px,#9e347b 167px,#191954 168px,#03030a 169px,#000000 171px,#000000 332px)"></i><i style="height:1px;background:linear-gradient(90deg,#000000 0px,#000000 163px,#020207 164px,#4526b3 165px,#1c1c5d 166px,#20206c 167px,#010102 168px,#000000 332px)"></i><i style="height:1px;background:linear-gradient(90deg,#000000 0px,#000000 165px,#c3385b 166px,#000000 167px,#000000 332px)"></i></div><div class="fr" style="left:108.25px;top:66.80px;width:336.25px;height:370.60px"></div><div class="cb" style="left:463.10px;top:67.90px;height:368.20px"></div><div class="t yt" style="right:1031.5px;top:419.6px">0.0</div><div class="t yt" style="right:1031.5px;top:235.9px">0.5</div><div class="t yt" style="right:1031.5px;top:52.2px">1.0</div><div class="t xt" style="left:9.8px;width:200px;text-align:center;top:449.0px">−2</div><div class="t xt" style="left:120.9px;width:200px;text-align:center;top:449.0px">0</div><div class="t xt" style="left:231.9px;width:200px;text-align:center;top:449.0px">2</div><div class="t xt" style="left:342.9px;width:200px;text-align:center;top:449.0px">4</div><div class="t ct" style="left:499.5px;top:420.8px">0.0</div><div style="position:absolute;left:481.6px;top:251.6px;width:2px;height:1px;background:#666"></div><div class="t ct" style="left:499.5px;top:237.1px">0.5</div><div class="t ct" style="left:499.5px;top:53.4px">1.0</div><div class="t pl" style="left:110.0px;top:-6.5px">(a)</div><div class="t al" style="left:247.0px;top:495.5px">K<span class="sl">/</span>B</div><div class="t al" style="left:-13.5px;top:234.0px;transform:rotate(-90deg);transform-origin:50% 50%">T<span class="sl">/</span>B</div><svg class="q" style="left:424.0px;top:14.0px" width="28" height="34" viewBox="0 0 28 34"><path d="M15.8,21.0C13.5,22.6 10.5,23.4 7.6,22.9C4.5,22.4 2.6,20 3.0,16.8C3.4,11.5 8.5,5.6 15.5,4.9C20.8,4.4 24.3,7.5 24.0,12.2C23.7,17 20.6,22.6 15.3,26.3L13.8,25.1C17.6,21.9 20.0,17.3 20.2,12.6C20.4,9 18.3,7.3 15.3,7.4C10.5,7.6 7.0,12.5 6.8,16.6C6.6,19.6 8.6,21.2 11.3,21.2C12.8,21.2 14.4,21.0 15.8,21.0Z"/><path d="M3.4,27.9C6.5,24.8 10.5,24.7 15.0,26.9C18.5,28.6 21.6,28.0 23.8,25.6L24.1,26.0C22.2,29.0 18.8,30.2 15.0,29.1C10.8,27.8 7.0,27.1 3.4,27.9Z"/></svg><div class="t ti" style="left:448.7px;top:11.5px"><span class="sb">SP</span><span class="pa">(</span><i>T</i><span class="pc">)</span></div><div class="hm" style="left:693px;top:68px"><i style="background:linear-gradient(90deg,#b73765 0px,#943283 86px,#5a28b4 157px,#4b26bc 172px,#222273 245px,#0f0f33 300px,#09091e 332px)"></i><i style="background:linear-gradient(90deg,#b93763 0px,#993380 81px,#612aae 151px,#4b26bd 172px,#222273 245px,#0f0f34 299px,#09091e 332px)"></i><i style="background:linear-gradient(90deg,#bb3761 0px,#9b337d 80px,#612aae 152px,#4b26bc 173px,#222273 245px,#0f0f33 299px,#09091e 332px)"></i><i style="background:linear-gradient(90deg,#be385f 0px,#9e347b 80px,#612aae 153px,#4b26bd 173px,#222272 245px,#0f0f34 298px,#09091d 332px)"></i><i style="background:linear-gradient(90deg,#c0385d 0px,#a13479 79px,#612aae 154px,#4b26bd 174px,#222272 245px,#0f0f33 298px,#09091d 332px)"></i><i style="background:linear-gradient(90deg,#c3385b 0px,#a33477 79px,#612aae 155px,#4b26bc 175px,#222272 245px,#0f0f33 298px,#09091d 332px)"></i><i style="background:linear-gradient(90deg,#c53859 0px,#a53575 79px,#612aae 156px,#4b26bd 175px,#222272 245px,#0f0f33 297px,#08081c 332px)"></i><i style="background:linear-gradient(90deg,#c73957 0px,#a83572 78px,#622aae 156px,#4b26bc 176px,#222272 245px,#0f0f33 297px,#08081c 332px)"></i><i style="background:linear-gradient(90deg,#ca3955 0px,#aa3570 78px,#622aae 157px,#4b26bd 176px,#222272 245px,#0f0f33 296px,#08081c 332px)"></i><i style="background:linear-gradient(90deg,#cc3953 0px,#ad356e 78px,#612aae 158px,#4b26bd 177px,#222271 245px,#0f0f33 296px,#08081b 332px)"></i><i style="background:linear-gradient(90deg,#cf3a51 0px,#b0366c 77px,#622aad 158px,#4b26bd 177px,#222271 245px,#0f0f33 295px,#08081b 332px)"></i><i style="background:linear-gradient(90deg,#d13a4e 0px,#b23669 77px,#632aac 158px,#4b26bd 178px,#222271 245px,#0f0f33 295px,#08081a 332px)"></i><i style="background:linear-gradient(90deg,#d33a4c 0px,#b53667 77px,#632aac 159px,#4b26bd 178px,#222271 245px,#0f0f32 295px,#08081a 332px)"></i><i style="background:linear-gradient(90deg,#d63b4a 0px,#b73765 77px,#632aad 160px,#4b26bd 179px,#222270 245px,#0f0f33 294px,#08081a 332px)"></i><i style="background:linear-gradient(90deg,#d83b48 0px,#ba3763 76px,#652aab 159px,#4b26bd 179px,#222272 244px,#0f0f33 293px,#080819 332px)"></i><i style="background:linear-gradient(90deg,#db3b46 0px,#bc3760 76px,#652aab 160px,#4b26bd 180px,#222271 244px,#101034 292px,#080819 332px)"></i><i style="background:linear-gradient(90deg,#dd3c44 0px,#bf385e 76px,#662aaa 160px,#4b26bd 180px,#222271 244px,#0f0f33 292px,#070719 332px)"></i><i style="background:linear-gradient(90deg,#e03c41 0px,#c1385c 76px,#6b2ba6 157px,#4b26bc 181px,#222271 244px,#0f0f33 292px,#070718 332px)"></i><i style="background:linear-gradient(90deg,#e23c3f 0px,#c53859 75px,#742d9e 151px,#4b26bd 181px,#222271 244px,#0f0f33 291px,#070718 332px)"></i><i style="background:linear-gradient(90deg,#e53c3d 0px,#c73957 75px,#7a2e99 147px,#4b26be 181px,#222270 244px,#0f0f33 291px,#070718 332px)"></i><i style="background:linear-gradient(90deg,#e83d3b 0px,#ca3955 75px,#7f2f95 144px,#4b26bd 182px,#222270 244px,#0f0f32 291px,#070717 332px)"></i><i style="background:linear-gradient(90deg,#ea3d39 0px,#cc3953 75px,#863090 140px,#4b26bd 182px,#222271 243px,#0f0f34 289px,#070717 332px)"></i><i style="background:linear-gradient(90deg,#ed3d36 0px,#cf3a50 74px,#923285 131px,#4b26bc 183px,#222271 243px,#0f0f33 289px,#070716 332px)"></i><i style="background:linear-gradient(90deg,#ef3e34 0px,#d23a4e 74px,#9b337e 125px,#4b26bd 183px,#222270 243px,#0f0f33 288px,#070716 332px)"></i><i style="background:linear-gradient(90deg,#f23e32 0px,#d43a4c 74px,#9e347b 124px,#4b26bd 183px,#222270 243px,#0f0f33 288px,#070716 332px)"></i><i style="background:linear-gradient(90deg,#f43e30 0px,#d73b49 74px,#a13479 124px,#4b26bd 184px,#212170 243px,#0f0f32 288px,#060615 332px)"></i><i style="background:linear-gradient(90deg,#f73f2d 0px,#da3b46 73px,#a43476 123px,#4b26bd 184px,#21216f 243px,#0f0f33 287px,#060615 332px)"></i><i style="background:linear-gradient(90deg,#fa3f2b 0px,#dd3b44 73px,#a83573 122px,#4b26bd 184px,#222271 242px,#0f0f33 286px,#060615 332px)"></i><i style="background:linear-gradient(90deg,#fc3f29 0px,#df3c42 73px,#aa3571 122px,#4c26be 184px,#222270 242px,#0f0f33 286px,#060614 332px)"></i><i style="background:linear-gradient(90deg,#ff4026 0px,#e23c40 73px,#ac356f 122px,#4b26bd 185px,#212170 242px,#0f0f33 285px,#060614 332px)"></i><i style="background:linear-gradient(90deg,#fe4125 0px,#eb3d38 64px,#ba3763 114px,#4b26bd 185px,#21216f 242px,#0f0f32 285px,#060613 332px)"></i><i style="background:linear-gradient(90deg,#fe4324 0px,#f63f2e 48px,#cc3953 102px,#4c26be 185px,#21216f 242px,#0f0f32 285px,#060613 332px)"></i><i style="background:linear-gradient(90deg,#fd4423 0px,#f83f2c 48px,#ce3a51 102px,#4c26be 185px,#222270 241px,#0f0f33 283px,#060613 332px)"></i><i style="background:linear-gradient(90deg,#fc4622 0px,#f93f2b 52px,#ce3a51 104px,#4b26bd 186px,#21216f 241px,#0f0f33 283px,#060612 332px)"></i><i style="background:linear-gradient(90deg,#fc4821 0px,#fa3f2b 56px,#cd3952 107px,#4b26bd 186px,#21216f 241px,#0f0f32 283px,#050512 332px)"></i><i style="background:linear-gradient(90deg,#fb4920 0px,#fa3f2a 60px,#cd3952 109px,#4c26be 186px,#21216e 241px,#0f0f32 282px,#050512 332px)"></i><i style="background:linear-gradient(90deg,#fb4b20 0px,#fa3f2b 65px,#ca3955 113px,#4c26be 186px,#212170 240px,#0f0f33 281px,#050511 332px)"></i><i style="background:linear-gradient(90deg,#fa4d1f 0px,#fb3f2a 68px,#c93956 115px,#4b26bd 187px,#21216f 240px,#0f0f33 280px,#050511 332px)"></i><i style="background:linear-gradient(90deg,#f94e1e 0px,#fa3f2a 72px,#c73958 118px,#4b26bd 187px,#222270 239px,#0f0f34 279px,#050511 332px)"></i><i style="background:linear-gradient(90deg,#f9501d 0px,#fb3f2a 75px,#c63958 120px,#4b26bd 187px,#222270 239px,#0f0f33 279px,#050510 332px)"></i><i style="background:linear-gradient(90deg,#f8511c 0px,#fa3f2a 79px,#c3385b 123px,#4c26be 187px,#21216f 239px,#0f0f33 278px,#050510 332px)"></i><i style="background:linear-gradient(90deg,#f7531b 0px,#fa3f2a 82px,#c2385c 125px,#4c26be 187px,#222270 238px,#0f0f34 277px,#050510 331px,#05050f 332px)"></i><i style="background:linear-gradient(90deg,#f7551a 0px,#fa3f2a 85px,#c0385d 127px,#4c26be 187px,#222270 238px,#0f0f33 277px,#05050f 331px,#05050f 332px)"></i><i style="background:linear-gradient(90deg,#f65619 0px,#fb3f2a 87px,#be385f 129px,#4b26bd 188px,#21216f 238px,#0f0f33 276px,#050510 329px,#04040f 332px)"></i><i style="background:linear-gradient(90deg,#f55818 0px,#fe4125 83px,#d53a4b 118px,#4b26bd 188px,#21216e 238px,#0f0f33 276px,#05050f 329px,#04040e 332px)"></i><i style="background:linear-gradient(90deg,#f55917 0px,#fe4324 83px,#f13e32 100px,#ac356f 140px,#4b26bd 188px,#212170 237px,#0f0f33 275px,#05050f 328px,#04040e 332px)"></i><i style="background:linear-gradient(90deg,#f45b16 0px,#fd4423 83px,#f63f2e 98px,#b2366a 138px,#4b26bd 188px,#21216f 237px,#0f0f33 274px,#050510 326px,#04040e 332px)"></i><i style="background:linear-gradient(90deg,#f35d15 0px,#fc4622 83px,#f93f2c 98px,#b63766 137px,#4b26bd 188px,#21216e 237px,#0f0f33 274px,#05050f 326px,#04040d 332px)"></i><i style="background:linear-gradient(90deg,#f35e14 0px,#fc4821 83px,#fa3f2a 99px,#b63766 138px,#4c26be 188px,#21216f 236px,#0f0f33 273px,#05050f 325px,#04040d 332px)"></i><i style="background:linear-gradient(90deg,#f26013 0px,#fb4a20 82px,#fa3f2a 101px,#b53767 139px,#4c26be 188px,#21216f 236px,#0f0f33 272px,#050510 323px,#04040d 332px)"></i><i style="background:linear-gradient(90deg,#f26112 0px,#fa4c1f 82px,#fa3f2b 103px,#b23669 141px,#4c26be 188px,#21216e 236px,#0f0f32 272px,#05050f 323px,#04040c 332px)"></i><i style="background:linear-gradient(90deg,#f16311 0px,#fa4d1e 82px,#fb3f2a 104px,#b43668 141px,#4c26be 188px,#21216f 235px,#0f0f33 271px,#050510 321px,#04040c 332px)"></i><i style="background:linear-gradient(90deg,#f06410 0px,#f94f1d 82px,#fb3f2a 106px,#b1366a 143px,#4c26be 188px,#21216e 235px,#0f0f32 271px,#05050f 321px,#03030c 332px)"></i><i style="background:linear-gradient(90deg,#f0660f 0px,#f8501c 82px,#fa3f2b 108px,#ae366d 145px,#4c26be 188px,#21216f 234px,#0f0f34 269px,#050510 318px,#03030b 332px)"></i><i style="background:linear-gradient(90deg,#ef670f 0px,#f8521b 82px,#fb3f2a 109px,#af366c 145px,#4c26be 188px,#21216e 234px,#0f0f33 269px,#05050f 318px,#03030b 332px)"></i><i style="background:linear-gradient(90deg,#ef690e 0px,#f7541a 82px,#fc3f29 110px,#ae366d 146px,#4c26be 188px,#21216d 234px,#0f0f32 269px,#04040f 318px,#03030b 332px)"></i><i style="background:linear-gradient(90deg,#ee6a0d 0px,#f65519 82px,#fb3f2a 112px,#aa3570 148px,#4c26be 188px,#21216f 233px,#0f0f33 267px,#050510 315px,#03030a 332px)"></i><i style="background:linear-gradient(90deg,#ed6c0c 0px,#f65719 82px,#fb3f29 113px,#a93571 149px,#4c26be 188px,#21216e 233px,#0f0f32 267px,#05050f 315px,#03030a 332px)"></i><i style="background:linear-gradient(90deg,#ed6d0b 0px,#f55818 82px,#fc3f29 114px,#ab3570 149px,#4c26be 188px,#21216d 233px,#0f0f32 267px,#04040f 315px,#03030a 332px)"></i><i style="background:linear-gradient(90deg,#ec6e0a 0px,#f55a17 82px,#fb3f2a 116px,#a63574 151px,#4c26be 188px,#21216e 232px,#0f0f33 265px,#050510 312px,#030309 332px)"></i><i style="background:linear-gradient(90deg,#ec7009 0px,#f45b16 82px,#fb3f2a 117px,#a53475 152px,#4c26be 188px,#21216d 232px,#0f0f32 265px,#05050f 312px,#030309 332px)"></i><i style="background:linear-gradient(90deg,#eb7109 0px,#f35d15 82px,#fb3f2a 118px,#a33477 153px,#4c26be 188px,#21216e 231px,#0f0f33 264px,#05050f 311px,#030309 332px)"></i><i style="background:linear-gradient(90deg,#eb7208 0px,#f35e14 82px,#fb3f29 119px,#a43476 153px,#4c26be 188px,#212170 230px,#101034 262px,#050510 307px,#020208 332px)"></i><i style="background:linear-gradient(90deg,#ea7407 0px,#f26013 82px,#fb3f29 120px,#a23477 154px,#4c26be 188px,#21216e 230px,#0f0f33 262px,#050510 307px,#020208 332px)"></i><i style="background:linear-gradient(90deg,#ea7506 0px,#f26112 82px,#fb3f29 121px,#a03479 155px,#4c26be 188px,#222270 229px,#0f0f33 261px,#050510 306px,#020208 332px)"></i><i style="background:linear-gradient(90deg,#e97606 0px,#f16211 82px,#fb3f29 122px,#9e347b 156px,#4c26be 188px,#20206c 230px,#0f0f31 262px,#04040e 308px,#020207 332px)"></i><i style="background:linear-gradient(90deg,#e97705 0px,#f16411 82px,#fb3f2a 123px,#9c337d 157px,#4b26bd 188px,#21216d 229px,#0f0f33 260px,#050510 304px,#020207 332px)"></i><i style="background:linear-gradient(90deg,#e87804 0px,#f06510 82px,#fb3f2a 124px,#9d337c 157px,#4b26bd 188px,#21216e 228px,#0f0f33 259px,#050510 303px,#020207 332px)"></i><i style="background:linear-gradient(90deg,#e87a04 0px,#f0660f 82px,#fb3f2a 125px,#4f27bd 186px,#222270 227px,#101035 257px,#050510 300px,#020207 332px)"></i><i style="background:linear-gradient(90deg,#e77b03 0px,#ef680e 82px,#fc3f29 125px,#4f27bd 186px,#222271 226px,#101035 256px,#050511 298px,#020206 332px)"></i><i style="background:linear-gradient(90deg,#e77c02 0px,#ef690e 82px,#fc3f29 126px,#5427b9 184px,#4926ba 189px,#21216d 227px,#0f0f33 257px,#05050f 300px,#020206 332px)"></i><i style="background:linear-gradient(90deg,#e77d02 0px,#ee6a0d 82px,#fb3f2a 127px,#5928b5 182px,#4b26bc 188px,#21216e 226px,#0f0f33 256px,#050510 298px,#020206 332px)"></i><i style="background:linear-gradient(90deg,#e67e01 0px,#ee6b0c 82px,#fe4324 124px,#ed3e36 133px,#6a2ba7 176px,#4c26be 187px,#21216d 226px,#0f0f32 256px,#04040f 299px,#020206 332px)"></i><i style="background:linear-gradient(90deg,#e67e01 0px,#ed6c0b 82px,#fd4424 124px,#f73f2d 130px,#612aae 179px,#4c26be 187px,#21216e 225px,#0f0f33 254px,#050510 295px,#020205 332px)"></i><i style="background:linear-gradient(90deg,#e67f00 0px,#ed6e0b 82px,#fd4523 124px,#f63f2e 131px,#642aac 178px,#4b26bd 187px,#21216d 225px,#0f0f32 254px,#04040f 296px,#020205 332px)"></i><i style="background:linear-gradient(90deg,#e68000 0px,#ec6f0a 82px,#fd4623 124px,#fa3f2b 130px,#612aaf 179px,#4b26bd 187px,#21216e 224px,#0f0f32 253px,#05050f 294px,#010105 332px)"></i><i style="background:linear-gradient(90deg,#e68101 0px,#ec700a 82px,#fc4821 123px,#f93f2c 131px,#662baa 177px,#4b26bc 187px,#20206c 224px,#0f0f33 252px,#05050f 293px,#010105 332px)"></i><i style="background:linear-gradient(90deg,#e68101 0px,#ec7009 83px,#fc4821 124px,#fa3f2b 131px,#662aaa 177px,#4c26be 186px,#21216d 223px,#0f0f33 251px,#050510 291px,#010104 332px)"></i><i style="background:linear-gradient(90deg,#e68201 0px,#eb7109 83px,#fb4921 124px,#f93f2c 132px,#692ba8 176px,#4c26be 186px,#20206c 223px,#0f0f32 251px,#04040f 291px,#010104 332px)"></i><i style="background:linear-gradient(90deg,#e68301 0px,#eb7208 83px,#fa4b1f 123px,#fa3f2b 132px,#682ba8 176px,#4b26bd 186px,#21216d 222px,#0f0f32 250px,#04040f 290px,#010104 332px)"></i><i style="background:linear-gradient(90deg,#e68301 0px,#eb7308 83px,#fa4c1f 123px,#fb3f2a 132px,#682ba8 176px,#4b26bd 186px,#21216e 221px,#0f0f34 248px,#050510 287px,#010104 332px)"></i><i style="background:linear-gradient(90deg,#e68402 0px,#ea7307 83px,#fa4d1e 123px,#fc3f29 132px,#672ba9 176px,#4c26bf 185px,#21216d 221px,#0f0f32 248px,#05050f 287px,#010104 332px)"></i><i style="background:linear-gradient(90deg,#e68402 0px,#ea7307 84px,#fa4c1f 124px,#fa3f2a 133px,#6a2ba7 175px,#4c26be 185px,#21216e 220px,#0f0f32 247px,#05050f 285px,#010103 332px)"></i><i style="background:linear-gradient(90deg,#e68402 0px,#ea7407 84px,#f94e1e 123px,#fb3f2a 133px,#6a2ba7 175px,#4b26bd 185px,#21216f 219px,#101034 245px,#050510 282px,#010103 332px)"></i><i style="background:linear-gradient(90deg,#e68502 0px,#ea7507 84px,#f94f1d 123px,#fc3f29 133px,#692ba7 175px,#4b26bd 185px,#21216d 219px,#0f0f33 245px,#050510 282px,#010103 332px)"></i><i style="background:linear-gradient(90deg,#e68502 0px,#ea7506 84px,#f94f1d 123px,#fd3f28 133px,#692ba8 175px,#4c26bf 184px,#20206b 219px,#0f0f31 245px,#04040f 283px,#010103 332px)"></i><i style="background:linear-gradient(90deg,#e68502 0px,#ea7506 85px,#f94e1d 124px,#fb3f2a 134px,#6b2ba6 174px,#4c26be 184px,#21216f 217px,#101035 242px,#050510 278px,#010103 332px)"></i><i style="background:linear-gradient(90deg,#e68502 0px,#ea7506 85px,#f8501c 123px,#fb3f2a 134px,#6b2ba6 174px,#4b26bd 184px,#21216d 217px,#0f0f33 242px,#050510 278px,#010103 332px)"></i><i style="background:linear-gradient(90deg,#e68502 0px,#e97606 85px,#f8511c 123px,#fc3f29 134px,#6a2ba7 174px,#4b26bc 184px,#21216f 216px,#0f0f34 241px,#050510 277px,#010102 332px)"></i><i style="background:linear-gradient(90deg,#e68402 0px,#e97606 85px,#f8511c 123px,#fc3f29 134px,#692ba7 174px,#4c26be 183px,#21216c 216px,#0f0f32 241px,#04040f 277px,#010102 332px)"></i><i style="background:linear-gradient(90deg,#e68402 0px,#ea7506 86px,#f9501d 124px,#fd3f28 134px,#682ba8 174px,#4b26bd 183px,#21216e 215px,#0f0f32 240px,#05050f 275px,#010102 332px)"></i><i style="background:linear-gradient(90deg,#e68402 0px,#ea7506 86px,#f8521b 123px,#fd3f28 134px,#642aac 175px,#4b26bc 183px,#21216f 214px,#101034 238px,#050510 272px,#010102 332px)"></i><i style="background:linear-gradient(90deg,#e68302 0px,#ea7506 87px,#f8501c 124px,#fd4028 134px,#632aac 175px,#4c26be 182px,#21216d 214px,#0f0f32 238px,#05050f 273px,#010102 332px)"></i><i style="background:linear-gradient(90deg,#e68301 0px,#ea7507 87px,#f8501c 124px,#fa3f2b 135px,#622aad 175px,#4b26bd 182px,#21216e 213px,#0f0f33 237px,#05050f 271px,#010102 332px)"></i><i style="background:linear-gradient(90deg,#e68201 0px,#ea7407 87px,#f8501c 124px,#fd4028 134px,#612aae 175px,#4b26bc 182px,#21216f 212px,#101034 235px,#050510 268px,#000002 332px)"></i><i style="background:linear-gradient(90deg,#e68101 0px,#ea7307 88px,#f8501c 124px,#fd3f28 134px,#602aaf 175px,#4c26be 181px,#21216c 212px,#0f0f33 235px,#050510 268px,#000001 332px)"></i><i style="background:linear-gradient(90deg,#e68000 0px,#eb7308 88px,#f8501c 124px,#fd3f28 134px,#5f29b0 175px,#4b26bd 181px,#21216d 211px,#0f0f33 234px,#05050f 267px,#000001 332px)"></i><i style="background:linear-gradient(90deg,#e68000 0px,#eb7208 89px,#f94e1e 125px,#fc3f29 134px,#5a29b4 176px,#4a26bc 181px,#21216e 210px,#0f0f33 233px,#050510 265px,#000001 332px)"></i><i style="background:linear-gradient(90deg,#e67e01 0px,#eb7109 89px,#f94e1e 125px,#fc3f29 134px,#5528b8 177px,#4a26bb 181px,#20206c 210px,#0f0f31 233px,#04040f 266px,#000001 332px)"></i><i style="background:linear-gradient(90deg,#e67d01 0px,#ec7009 90px,#f94e1e 125px,#fb3f2a 134px,#5427b9 177px,#4b26bc 180px,#222271 208px,#101035 230px,#050511 261px,#000001 332px)"></i><i style="background:linear-gradient(90deg,#e77c02 0px,#ec6f0a 90px,#fa4d1e 125px,#fa3f2a 134px,#5227ba 177px,#4826b8 181px,#21216e 208px,#0f0f33 230px,#050510 261px,#000001 332px)"></i><i style="background:linear-gradient(90deg,#e87a03 0px,#ed6d0b 91px,#fb4b20 126px,#fd3f28 133px,#a13479 156px,#4d26bf 178px,#21216f 207px,#0f0f33 229px,#050510 260px,#000001 332px)"></i><i style="background:linear-gradient(90deg,#e87904 0px,#ed6c0c 91px,#fb4a20 126px,#fb3f29 133px,#9f347a 156px,#4c26be 178px,#222270 206px,#101035 227px,#050511 257px,#000001 327px,#000001 332px)"></i><i style="background:linear-gradient(90deg,#e97705 0px,#ee6b0d 92px,#fb4921 126px,#fa3f2a 133px,#9e347b 156px,#4b26bd 178px,#21216d 206px,#0f0f33 227px,#050510 257px,#000001 330px,#000001 332px)"></i><i style="background:linear-gradient(90deg,#ea7506 0px,#ee690d 92px,#fc4821 126px,#fc3f29 132px,#a63574 154px,#4c26bf 177px,#21216e 205px,#0f0f33 226px,#050510 256px,#000001 329px,#000001 332px)"></i><i style="background:linear-gradient(90deg,#ea7307 0px,#ef670f 93px,#fd4623 127px,#f73f2d 133px,#9f347a 155px,#4b26bd 177px,#21216f 204px,#0f0f33 225px,#050510 254px,#000001 324px,#000001 332px)"></i><i style="background:linear-gradient(90deg,#eb7109 0px,#f06510 94px,#fd4523 127px,#f93f2c 132px,#a23478 154px,#4c26bf 176px,#222270 203px,#101035 223px,#050511 251px,#000001 316px,#000001 332px)"></i><i style="background:linear-gradient(90deg,#ec6f0a 0px,#f16311 94px,#fe4324 127px,#f43e30 133px,#9b337d 155px,#4b26bd 176px,#21216d 203px,#0f0f33 223px,#050510 252px,#000001 323px,#000000 332px)"></i><i style="background:linear-gradient(90deg,#ed6c0c 0px,#f26112 95px,#fa3f2a 130px,#ac356f 151px,#4c26bf 175px,#21216e 202px,#0f0f33 222px,#050510 250px,#000001 318px,#000000 332px)"></i><i style="background:linear-gradient(90deg,#ee6a0d 0px,#f35e14 96px,#fb3f2a 129px,#ae366d 150px,#4b26bd 175px,#21216f 201px,#0f0f33 221px,#050510 249px,#000001 317px,#000000 332px)"></i><i style="background:linear-gradient(90deg,#ef670f 0px,#f45c15 96px,#fb3f2a 128px,#b1366b 149px,#4c26be 174px,#212170 200px,#0f0f33 220px,#05050f 248px,#000001 316px,#000000 332px)"></i><i style="background:linear-gradient(90deg,#f06410 0px,#f55917 97px,#fb3f2a 127px,#b73765 147px,#4d26bf 173px,#222270 199px,#101035 218px,#050511 245px,#000001 308px,#000000 332px)"></i><i style="background:linear-gradient(90deg,#f26112 0px,#f65619 98px,#fc3f29 125px,#bd3760 145px,#4c26be 173px,#21216d 199px,#0f0f33 218px,#050510 245px,#000001 311px,#000000 332px)"></i><i style="background:linear-gradient(90deg,#f35e14 0px,#f7531b 99px,#fb3f2a 124px,#be385f 144px,#4d26bf 172px,#222272 197px,#101035 216px,#050511 242px,#000001 303px,#000000 332px)"></i><i style="background:linear-gradient(90deg,#f45b16 0px,#f9501d 100px,#fc3f29 122px,#c3385b 142px,#4b26bd 172px,#21216f 197px,#0f0f33 216px,#050510 242px,#000001 306px,#000000 332px)"></i><i style="background:linear-gradient(90deg,#f65718 0px,#fa4d1e 100px,#fb3f29 120px,#c3385b 141px,#4c26bf 171px,#21216f 196px,#0f0f32 215px,#05050f 241px,#000001 305px,#000000 332px)"></i><i style="background:linear-gradient(90deg,#f7531b 0px,#fb4921 101px,#fa3f2a 118px,#c73958 139px,#4d26bf 170px,#222270 195px,#101035 213px,#050511 238px,#000001 297px,#000000 332px)"></i><i style="background:linear-gradient(90deg,#f94f1d 0px,#fd4523 102px,#f93f2c 116px,#c93955 137px,#4c26be 170px,#222271 194px,#101034 212px,#050510 237px,#000001 296px,#000000 332px)"></i><i style="background:linear-gradient(90deg,#fa4b1f 0px,#fe4125 103px,#e63d3c 124px,#ad356e 144px,#4c26bf 169px,#222271 193px,#101034 211px,#050510 236px,#000001 295px,#000000 332px)"></i><i style="background:linear-gradient(90deg,#fc4722 0px,#fa3f2a 105px,#d73b49 129px,#842f91 154px,#4d26bf 168px,#222272 192px,#101034 210px,#050510 234px,#000001 291px,#000000 332px)"></i><i style="background:linear-gradient(90deg,#fe4324 0px,#fa3f2b 97px,#da3b46 125px,#a43476 144px,#4b26bd 168px,#222273 191px,#101036 208px,#050512 231px,#000001 283px,#000000 332px)"></i><i style="background:linear-gradient(90deg,#fd3f28 0px,#f23e31 98px,#d53a4b 125px,#a0347a 144px,#4c26be 167px,#21216e 191px,#0f0f33 208px,#050510 232px,#000001 290px,#000000 332px)"></i><i style="background:linear-gradient(90deg,#f53f2f 0px,#eb3d38 99px,#cd3a52 126px,#8b318b 149px,#4c26bf 166px,#21216f 190px,#0f0f33 207px,#050510 230px,#000001 285px,#000000 332px)"></i><i style="background:linear-gradient(90deg,#ed3e36 0px,#e33c3e 100px,#c63959 127px,#772d9c 154px,#4d26bf 165px,#21216f 189px,#0f0f33 206px,#050510 229px,#000001 285px,#000000 332px)"></i><i style="background:linear-gradient(90deg,#e53d3d 0px,#dc3b45 101px,#bd3860 128px,#692ba8 157px,#4b26bd 165px,#222270 188px,#0f0f33 205px,#05050f 228px,#000001 284px,#000000 332px)"></i><i style="background:linear-gradient(90deg,#dd3b44 0px,#d33a4c 102px,#b53767 129px,#652aab 157px,#4b26bd 164px,#232375 186px,#101035 203px,#050511 225px,#000001 276px,#000000 332px)"></i><i style="background:linear-gradient(90deg,#d43a4c 0px,#cb3954 103px,#af366d 129px,#692ba8 155px,#4c26be 163px,#232375 185px,#111137 201px,#050512 222px,#000001 268px,#000000 332px)"></i><i style="background:linear-gradient(90deg,#cb3954 0px,#c2385b 104px,#a63574 130px,#682ba8 154px,#4c26be 162px,#232376 184px,#101037 200px,#050512 221px,#000001 268px,#000000 332px)"></i><i style="background:linear-gradient(90deg,#c2385c 0px,#b93764 106px,#9b337e 132px,#672ba9 153px,#4c26be 161px,#232376 183px,#101036 199px,#050511 220px,#000001 267px,#000000 332px)"></i><i style="background:linear-gradient(90deg,#b83764 0px,#b0366c 107px,#8e3189 136px,#5528b8 157px,#4a26ba 161px,#232376 182px,#101036 198px,#050511 219px,#000001 266px,#000000 332px)"></i><i style="background:linear-gradient(90deg,#af366d 0px,#a63574 108px,#832f92 139px,#4b26bd 159px,#232376 181px,#101035 197px,#050511 217px,#000001 262px,#000000 332px)"></i><i style="background:linear-gradient(90deg,#a53475 0px,#9c337d 109px,#802f95 138px,#4b26bd 158px,#232376 180px,#101035 196px,#050511 216px,#000001 262px,#000000 332px)"></i><i style="background:linear-gradient(90deg,#9a337e 0px,#923285 115px,#742d9e 141px,#4c26bf 156px,#232376 179px,#101034 195px,#050510 215px,#000001 261px,#000000 332px)"></i><i style="background:linear-gradient(90deg,#923285 0px,#8a318c 116px,#6f2ca3 141px,#4b26bd 155px,#232375 178px,#101034 194px,#05050f 214px,#000001 261px,#000000 332px)"></i><i style="background:linear-gradient(90deg,#8a318c 0px,#822f93 118px,#652aab 143px,#4b26bc 154px,#232375 177px,#0f0f33 193px,#04040f 213px,#000001 261px,#000000 332px)"></i><i style="background:linear-gradient(90deg,#822f93 0px,#7a2e99 119px,#5d29b2 144px,#4b26bd 152px,#232374 176px,#0f0f32 192px,#04040e 212px,#000001 261px,#000000 332px)"></i><i style="background:linear-gradient(90deg,#7a2e9a 0px,#722da0 120px,#5528b8 145px,#4a26ba 151px,#242479 174px,#101035 190px,#050510 209px,#000001 252px,#000000 332px)"></i><i style="background:linear-gradient(90deg,#712ca1 0px,#692ba7 122px,#4a26bc 148px,#242478 173px,#101034 189px,#05050f 208px,#000001 252px,#000000 332px)"></i><i style="background:linear-gradient(90deg,#692ba8 0px,#612aae 123px,#4b26bc 145px,#25257c 171px,#0f0f33 188px,#04040f 207px,#000001 252px,#000000 332px)"></i><i style="background:linear-gradient(90deg,#6029af 0px,#5828b6 125px,#4b26bc 141px,#2d268a 165px,#20206b 173px,#0d0d2c 189px,#03030b 209px,#000000 269px,#000000 332px)"></i><i style="background:linear-gradient(90deg,#5728b6 0px,#5027bd 126px,#4726b5 142px,#272681 167px,#0f0f31 186px,#04040e 204px,#000001 248px,#000000 332px)"></i><i style="background:linear-gradient(90deg,#4e27be 0px,#4926ba 129px,#38269c 154px,#242477 168px,#0e0e30 185px,#04040e 203px,#000000 249px,#000000 332px)"></i><i style="background:linear-gradient(90deg,#4926b9 0px,#4526b2 131px,#342696 155px,#232375 167px,#0d0d2c 185px,#03030b 204px,#000000 262px,#000000 332px)"></i><i style="background:linear-gradient(90deg,#4426b2 0px,#4026ab 133px,#2e268d 157px,#222272 166px,#0d0d2b 184px,#03030b 203px,#000000 264px,#000000 332px)"></i><i style="background:linear-gradient(90deg,#4026aa 0px,#3c26a4 134px,#2a2686 158px,#1c1c5d 169px,#0a0a21 186px,#020207 207px,#000000 332px)"></i><i style="background:linear-gradient(90deg,#3c26a3 0px,#37269c 136px,#262680 159px,#0b0b25 183px,#020208 203px,#000000 306px,#000000 332px)"></i><i style="background:linear-gradient(90deg,#37269c 0px,#332695 137px,#25257b 158px,#0b0b24 182px,#020207 202px,#000000 326px,#000000 332px)"></i><i style="background:linear-gradient(90deg,#332694 0px,#2f268e 139px,#242478 156px,#09091e 183px,#010105 205px,#000000 332px)"></i><i style="background:linear-gradient(90deg,#2e268d 0px,#2a2686 141px,#232375 154px,#08081a 183px,#010104 206px,#000000 332px)"></i><i style="background:linear-gradient(90deg,#2a2686 0px,#262680 142px,#1b1b5a 160px,#070717 183px,#010102 208px,#000000 332px)"></i><i style="background:linear-gradient(90deg,#26267f 0px,#242479 136px,#1c1c5c 156px,#060614 183px,#000002 210px,#000000 332px)"></i><i style="background:linear-gradient(90deg,#222272 0px,#20206c 138px,#18184f 158px,#050511 183px,#000001 213px,#000000 332px)"></i><i style="background:linear-gradient(90deg,#1e1e65 0px,#1c1c5f 140px,#141442 160px,#04040d 184px,#000000 221px,#000000 332px)"></i><i style="background:linear-gradient(90deg,#1b1b59 0px,#191953 142px,#101036 162px,#03030a 185px,#000000 237px,#000000 332px)"></i><i style="background:linear-gradient(90deg,#17174d 0px,#151547 144px,#0c0c26 166px,#020206 188px,#000000 332px)"></i><i style="background:linear-gradient(90deg,#141442 0px,#12123c 146px,#060614 173px,#000002 198px,#000000 332px)"></i><i style="background:linear-gradient(90deg,#111138 0px,#0f0f33 148px,#010104 188px,#000000 332px)"></i><i style="background:linear-gradient(90deg,#0e0e2f 0px,#0c0c29 151px,#010103 188px,#000000 332px)"></i><i style="background:linear-gradient(90deg,#0c0c27 0px,#0a0a21 153px,#010102 189px,#000000 332px)"></i><i style="background:linear-gradient(90deg,#09091f 0px,#080819 155px,#000001 191px,#000000 332px)"></i><i style="background:linear-gradient(90deg,#070719 0px,#060612 158px,#000000 195px,#000000 332px)"></i><i style="background:linear-gradient(90deg,#060613 0px,#04040d 161px,#000000 203px,#000000 332px)"></i><i style="background:linear-gradient(90deg,#04040e 0px,#020208 164px,#000000 235px,#000000 332px)"></i><i style="background:linear-gradient(90deg,#03030a 0px,#010104 168px,#000000 332px)"></i><i style="background:linear-gradient(90deg,#020207 0px,#000001 179px,#000000 332px)"></i><i style="background:linear-gradient(90deg,#010105 0px,#000000 332px)"></i><i style="background:linear-gradient(90deg,#010103 0px,#000000 332px)"></i><i style="background:linear-gradient(90deg,#010102 0px,#000000 332px)"></i><i style="background:linear-gradient(90deg,#000001 0px,#000000 332px)"></i><i style="background:linear-gradient(90deg,#000000 0px,#000000 332px)"></i><i style="background:linear-gradient(90deg,#000000 0px,#000000 332px)"></i><i style="background:linear-gradient(90deg,#000000 0px,#000000 332px)"></i><i style="background:linear-gradient(90deg,#000000 0px,#000000 332px)"></i><i style="background:linear-gradient(90deg,#000000 0px,#000000 332px)"></i><i style="background:linear-gradient(90deg,#000000 0px,#000000 332px)"></i><i style="background:linear-gradient(90deg,#000000 0px,#000000 332px)"></i><i style="background:linear-gradient(90deg,#000000 0px,#000000 332px)"></i><i style="background:linear-gradient(90deg,#000000 0px,#000000 332px)"></i><i style="background:linear-gradient(90deg,#000000 0px,#000000 332px)"></i><i style="background:linear-gradient(90deg,#000000 0px,#000000 332px)"></i><i style="background:linear-gradient(90deg,#000000 0px,#000000 332px)"></i><i style="background:linear-gradient(90deg,#000000 0px,#000000 332px)"></i><i style="background:linear-gradient(90deg,#000000 0px,#000000 332px)"></i><i style="background:linear-gradient(90deg,#000000 0px,#000000 332px)"></i></div><div class="fr" style="left:691.25px;top:66.80px;width:336.25px;height:370.60px"></div><div class="cb" style="left:1046.10px;top:67.90px;height:368.20px"></div><div class="t yt" style="right:448.5px;top:419.6px">0.0</div><div class="t yt" style="right:448.5px;top:235.9px">0.5</div><div class="t yt" style="right:448.5px;top:52.2px">1.0</div><div class="t xt" style="left:592.9px;width:200px;text-align:center;top:449.0px">−2</div><div class="t xt" style="left:703.9px;width:200px;text-align:center;top:449.0px">0</div><div class="t xt" style="left:814.9px;width:200px;text-align:center;top:449.0px">2</div><div class="t xt" style="left:925.9px;width:200px;text-align:center;top:449.0px">4</div><div class="t ct" style="left:1082.5px;top:420.8px">0.0</div><div style="position:absolute;left:1064.6px;top:251.6px;width:2px;height:1px;background:#666"></div><div class="t ct" style="left:1082.5px;top:237.1px">0.5</div><div class="t ct" style="left:1082.5px;top:53.4px">1.0</div><div class="t pl" style="left:693.0px;top:-6.5px">(b)</div><div class="t al" style="left:830.0px;top:495.5px">K<span class="sl">/</span>B</div><div class="t al" style="left:569.5px;top:234.0px;transform:rotate(-90deg);transform-origin:50% 50%">T<span class="sl">/</span>B</div><svg class="q" style="left:986.1px;top:14.0px" width="28" height="34" viewBox="0 0 28 34"><path d="M15.8,21.0C13.5,22.6 10.5,23.4 7.6,22.9C4.5,22.4 2.6,20 3.0,16.8C3.4,11.5 8.5,5.6 15.5,4.9C20.8,4.4 24.3,7.5 24.0,12.2C23.7,17 20.6,22.6 15.3,26.3L13.8,25.1C17.6,21.9 20.0,17.3 20.2,12.6C20.4,9 18.3,7.3 15.3,7.4C10.5,7.6 7.0,12.5 6.8,16.6C6.6,19.6 8.6,21.2 11.3,21.2C12.8,21.2 14.4,21.0 15.8,21.0Z"/><path d="M3.4,27.9C6.5,24.8 10.5,24.7 15.0,26.9C18.5,28.6 21.6,28.0 23.8,25.6L24.1,26.0C22.2,29.0 18.8,30.2 15.0,29.1C10.8,27.8 7.0,27.1 3.4,27.9Z"/></svg><div class="t ti" style="left:1010.8px;top:11.5px"><span class="sb">MP</span><span class="pa">(</span><i>T</i><span class="cm">,</span><i>T</i><span class="pc">)</span></div><div class="hm" style="left:110px;top:582.5px"><i style="background:linear-gradient(90deg,#13133f 0px,#0c0c28 53px,#000000 108px,#05050f 132px,#131341 152px,#2b2688 170px,#4e26be 189px,#b43668 213px,#ff4126 229px,#e97606 255px,#e68301 281px,#ef670f 313px,#fb4920 332px)"></i><i style="background:linear-gradient(90deg,#13133f 0px,#0c0c28 53px,#000000 108px,#04040e 131px,#13133e 151px,#2d268b 171px,#4f27bd 189px,#b2366a 212px,#ff4026 228px,#e97606 254px,#e68402 280px,#ed6d0b 308px,#fc4821 332px)"></i><i style="background:linear-gradient(90deg,#13133f 0px,#0c0c28 53px,#000000 108px,#04040e 131px,#13133f 151px,#2c2689 170px,#4d26bf 188px,#b0366b 211px,#ff4026 227px,#e97606 253px,#e68402 279px,#eb7109 305px,#fc4722 332px)"></i><i style="background:linear-gradient(90deg,#13133f 0px,#0c0c29 52px,#000000 108px,#04040e 131px,#12123c 150px,#2b2687 169px,#4f27bd 188px,#b33669 211px,#fe4225 227px,#e97805 253px,#e68502 279px,#eb7109 304px,#fd4523 332px)"></i><i style="background:linear-gradient(90deg,#13133f 0px,#0c0c2a 52px,#000000 108px,#04040e 131px,#12123d 150px,#2b2688 169px,#4c26bf 187px,#b1366a 210px,#ff4126 226px,#e97805 252px,#e68603 277px,#ea7407 301px,#fd4424 332px)"></i><i style="background:linear-gradient(90deg,#13133e 0px,#0c0c2a 52px,#000000 108px,#04040e 131px,#12123d 150px,#2c2689 169px,#4e27be 187px,#af366c 209px,#ff4026 225px,#e87804 251px,#e68703 276px,#ea7506 300px,#fe4225 332px)"></i><i style="background:linear-gradient(90deg,#13133e 0px,#0d0d2a 52px,#000000 108px,#04040f 131px,#13133e 150px,#2b2687 168px,#5027bc 187px,#b2366a 209px,#ff4027 224px,#e87804 250px,#e68703 275px,#e97606 299px,#ff4126 332px)"></i><i style="background:linear-gradient(90deg,#13133e 0px,#0d0d2a 52px,#000000 108px,#04040f 131px,#13133f 150px,#2b2688 168px,#4e26be 186px,#b0366b 208px,#fe4225 224px,#e87904 249px,#e68803 274px,#e97705 298px,#fe4027 332px)"></i><i style="background:linear-gradient(90deg,#13133e 0px,#0d0d2b 51px,#000000 108px,#04040f 131px,#13133f 150px,#2c2689 168px,#4f27bd 186px,#b33669 208px,#ff4126 223px,#e87904 248px,#e68904 273px,#e97606 298px,#fb3f2a 332px)"></i><i style="background:linear-gradient(90deg,#13133e 0px,#0d0d2b 51px,#000000 108px,#05050f 131px,#131340 150px,#2c268a 168px,#4d26bf 185px,#b1366b 207px,#ff4026 222px,#e87904 247px,#e68a04 271px,#e97705 297px,#fc3f29 331px,#f93f2c 332px)"></i><i style="background:linear-gradient(90deg,#12123d 0px,#0d0d2b 51px,#000000 109px,#05050f 131px,#131341 150px,#2b2688 167px,#4f27bd 185px,#af366d 206px,#fe4027 221px,#e87904 246px,#e68b04 270px,#e97605 297px,#fc3f29 330px,#f63f2e 332px)"></i><i style="background:linear-gradient(90deg,#12123d 0px,#0d0d2b 51px,#000000 109px,#05050f 131px,#13133e 149px,#2c2689 167px,#4c26bf 184px,#b2366a 206px,#fe4225 221px,#e77b03 246px,#e68b05 270px,#e97705 296px,#fd3f28 329px,#f33e31 332px)"></i><i style="background:linear-gradient(90deg,#12123d 0px,#0d0d2b 51px,#000000 109px,#050510 131px,#13133f 149px,#2c268a 167px,#4e27be 184px,#b0366c 205px,#ff4126 220px,#e77c02 245px,#e68c05 269px,#e87804 295px,#fd4028 328px,#f03e33 332px)"></i><i style="background:linear-gradient(90deg,#12123d 0px,#0d0d2b 51px,#000000 109px,#050510 131px,#131340 149px,#2b2688 166px,#4c26bf 183px,#ad366e 204px,#ff4026 219px,#e77c02 244px,#e68d05 268px,#e97805 295px,#fe4027 327px,#ee3e36 332px)"></i><i style="background:linear-gradient(90deg,#12123d 0px,#0d0d2b 51px,#000000 109px,#050510 131px,#131340 149px,#2c2689 166px,#4d26be 183px,#b1366b 204px,#fe4027 218px,#e77c02 243px,#e68e06 266px,#e87804 294px,#fb3f2a 327px,#eb3d38 332px)"></i><i style="background:linear-gradient(90deg,#12123c 0px,#0d0d2c 51px,#000000 109px,#050510 131px,#141441 149px,#2c2689 166px,#4f27bd 183px,#ae366d 203px,#fe4225 218px,#e77c02 242px,#e68f06 265px,#e87904 293px,#fb3f29 326px,#e83d3b 332px)"></i><i style="background:linear-gradient(90deg,#12123c 0px,#0d0d2c 50px,#000000 109px,#050510 131px,#141442 149px,#2b2687 165px,#4d26bf 182px,#b2366a 203px,#ff4126 217px,#e77d02 241px,#e69006 264px,#e77b02 291px,#fc3f29 325px,#e53c3d 332px)"></i><i style="background:linear-gradient(90deg,#12123c 0px,#0d0d2d 50px,#000000 109px,#04040f 130px,#13133f 148px,#2c2688 165px,#4f27bd 182px,#af366c 202px,#ff4026 216px,#e77d02 240px,#e69107 263px,#e77c02 290px,#fc3f29 324px,#e23c40 332px)"></i><i style="background:linear-gradient(90deg,#12123c 0px,#0d0d2d 50px,#000000 109px,#04040f 130px,#131340 148px,#2c2689 165px,#4c26bf 181px,#ad356e 201px,#fe4027 215px,#e67f00 240px,#e69207 263px,#e77c02 290px,#fd3f28 323px,#df3c43 332px)"></i><i style="background:linear-gradient(90deg,#12123b 0px,#0d0d2d 50px,#000000 109px,#05050f 130px,#131340 148px,#2d268a 165px,#4e27be 181px,#b1366b 201px,#fe4125 215px,#e67f00 239px,#e69208 262px,#e77d02 289px,#fd4028 322px,#db3b45 332px)"></i><i style="background:linear-gradient(90deg,#12123b 0px,#0d0d2d 50px,#000000 109px,#05050f 130px,#12123d 147px,#2b2688 164px,#4c26be 180px,#ae366d 200px,#ff4126 214px,#e68000 238px,#e59308 260px,#e68100 286px,#fb3f2a 322px,#d83b48 332px)"></i><i style="background:linear-gradient(90deg,#12123b 0px,#0d0d2d 50px,#000000 109px,#05050f 130px,#13133e 147px,#2c2689 164px,#4d26bf 180px,#b2366a 200px,#ff4026 213px,#e68000 237px,#e59408 259px,#e68201 285px,#fb3f2a 321px,#d53a4b 332px)"></i><i style="background:linear-gradient(90deg,#12123a 0px,#0d0d2d 50px,#000000 109px,#050510 130px,#13133f 147px,#2d268a 164px,#4f27bd 180px,#af366c 199px,#fe4225 213px,#e68000 236px,#e69509 258px,#e68301 284px,#fc3f29 320px,#d23a4e 332px)"></i><i style="background:linear-gradient(90deg,#11113a 0px,#0e0e2d 50px,#000000 109px,#050510 130px,#131340 147px,#2b2688 163px,#4d26bf 179px,#ac356e 198px,#fe4125 212px,#e68000 235px,#e69609 257px,#e68502 282px,#f16212 302px,#fc3f29 319px,#ce3a51 332px)"></i><i style="background:linear-gradient(90deg,#11113a 0px,#0e0e2d 50px,#000000 109px,#050510 130px,#131341 147px,#2c2689 163px,#4f27bd 179px,#b0366b 198px,#ff4026 211px,#e68101 234px,#e6970a 256px,#e68603 281px,#ed6d0b 296px,#fd3f28 318px,#cb3954 332px)"></i><i style="background:linear-gradient(90deg,#111139 0px,#0e0e2d 50px,#000000 109px,#04040e 129px,#12123d 146px,#2c268a 163px,#4c26bf 178px,#ad366e 197px,#fe4027 210px,#e68101 233px,#e6980a 254px,#e68804 279px,#ea7506 291px,#fd4028 317px,#c73957 332px)"></i><i style="background:linear-gradient(90deg,#111139 0px,#0e0e2d 50px,#000000 110px,#050510 130px,#141442 147px,#2b2688 162px,#4e26be 178px,#b1366a 197px,#fe4225 210px,#e68101 232px,#e6990a 253px,#e68b05 277px,#e97606 290px,#fe4027 316px,#c4385a 332px)"></i><i style="background:linear-gradient(90deg,#111139 0px,#0e0e2d 50px,#000000 110px,#050511 130px,#141443 147px,#2c2689 162px,#5027bc 178px,#af366d 196px,#ff4126 209px,#e68201 231px,#e69a0b 252px,#e68c05 276px,#e97705 289px,#fb3f2a 316px,#c0385d 332px)"></i><i style="background:linear-gradient(90deg,#111138 0px,#0e0e2d 50px,#000000 110px,#050511 130px,#141444 147px,#2c268a 162px,#4d26bf 177px,#ac356f 195px,#ff4026 208px,#e68201 230px,#e69b0b 251px,#e68d05 275px,#e87804 288px,#fc3f29 315px,#bd3760 332px)"></i><i style="background:linear-gradient(90deg,#111138 0px,#0e0e2d 50px,#000000 110px,#050511 130px,#131341 146px,#2d268b 162px,#4f27bd 177px,#b0366c 195px,#fd4028 207px,#e68201 229px,#e69c0b 250px,#e68e06 274px,#e87904 287px,#fc3f29 314px,#b93763 332px)"></i><i style="background:linear-gradient(90deg,#111138 0px,#0e0e2e 49px,#000000 110px,#050511 130px,#141441 146px,#2c2688 161px,#4c26bf 176px,#ad356e 194px,#fe4125 207px,#e68201 228px,#e69d0c 248px,#e69207 271px,#e87a03 286px,#fd3f28 313px,#b53767 332px)"></i><i style="background:linear-gradient(90deg,#111137 0px,#0e0e2e 49px,#000000 110px,#050511 130px,#141442 146px,#2c2689 161px,#4e27be 176px,#b1366b 194px,#ff4026 206px,#e68301 227px,#e69e0c 247px,#e69308 270px,#e87904 286px,#fd4028 312px,#b2366a 332px)"></i><i style="background:linear-gradient(90deg,#101037 0px,#0e0e2e 49px,#000000 110px,#050510 129px,#13133f 145px,#2d268a 161px,#4c26be 175px,#ae366d 193px,#fe4027 205px,#e68301 226px,#e69f0d 246px,#e69609 268px,#e87a03 285px,#fe4027 311px,#ae366d 332px)"></i><i style="background:linear-gradient(90deg,#101037 0px,#0e0e2e 49px,#000000 110px,#050510 129px,#131340 145px,#2b2688 160px,#4e26be 175px,#ab3570 192px,#fe4225 205px,#e68301 225px,#e6a00d 245px,#e69709 267px,#e87904 285px,#fb3f2a 311px,#aa3571 332px)"></i><i style="background:linear-gradient(90deg,#101036 0px,#0e0e2e 49px,#000000 110px,#050510 129px,#131341 145px,#2c2689 160px,#5027bd 175px,#af366c 192px,#fe4125 204px,#e68301 224px,#e6a10d 244px,#e5980a 266px,#e87a03 284px,#fb3f29 310px,#a63574 332px)"></i><i style="background:linear-gradient(90deg,#101036 0px,#0e0e2e 49px,#000000 110px,#050510 129px,#141441 145px,#2d268a 160px,#4d26bf 174px,#ac356f 191px,#ff4026 203px,#e68302 223px,#e6a20e 243px,#e69a0b 265px,#e87904 284px,#fc3f29 309px,#a23477 332px)"></i><i style="background:linear-gradient(90deg,#101035 0px,#0e0e2e 49px,#000000 110px,#050510 129px,#141442 145px,#2d268b 160px,#4f27bd 174px,#b0366b 191px,#fd4028 202px,#e68101 221px,#e6a20e 240px,#e69f0c 261px,#e87a03 283px,#fd3f28 308px,#9e347b 332px)"></i><i style="background:linear-gradient(90deg,#101035 0px,#0e0e2e 50px,#000000 110px,#050511 129px,#141443 145px,#2c2689 159px,#4c26bf 173px,#ad366e 190px,#fe4225 202px,#e68402 221px,#e6a40f 240px,#e69f0d 261px,#e87904 283px,#fd4028 307px,#9a337e 332px)"></i><i style="background:linear-gradient(90deg,#101034 0px,#0e0e2e 50px,#000000 110px,#050511 129px,#131340 144px,#2c268a 159px,#4e27be 173px,#aa3571 189px,#ff4026 201px,#e68101 219px,#e6a40f 238px,#e6a10e 259px,#e87a03 282px,#fe4027 306px,#973381 332px)"></i><i style="background:linear-gradient(90deg,#101034 0px,#0e0e2e 50px,#000000 110px,#050511 129px,#131341 144px,#2d268b 159px,#4c26be 172px,#a73574 188px,#fe4027 200px,#e68101 218px,#e6a50f 237px,#e6a40f 257px,#e87904 282px,#fb3f2a 306px,#943284 332px)"></i><i style="background:linear-gradient(90deg,#0f0f33 0px,#0e0e2e 50px,#000000 111px,#050511 129px,#141442 144px,#2c2688 158px,#4d26bf 172px,#ab3570 188px,#fe4225 200px,#e68101 217px,#e6a710 236px,#e6a50f 256px,#e87a03 281px,#fb3f29 305px,#913286 332px)"></i><i style="background:linear-gradient(90deg,#0f0f33 0px,#0e0e2e 50px,#000000 111px,#050511 129px,#141442 144px,#2c2689 158px,#4f27bd 172px,#af366c 188px,#ff4126 199px,#e68101 216px,#e6a810 235px,#e5a710 255px,#e77b02 280px,#fc3f29 304px,#8e3189 332px)"></i><i style="background:linear-gradient(90deg,#0f0f32 0px,#0e0e2e 50px,#000000 111px,#050512 129px,#141443 144px,#2d268b 158px,#4c26bf 171px,#ac356f 187px,#ff4026 198px,#e68101 215px,#e6a810 233px,#e6aa11 252px,#e68101 277px,#fd3f28 303px,#8e3189 331px,#8b318b 332px)"></i><i style="background:linear-gradient(90deg,#0f0f32 0px,#0e0e2e 50px,#000000 111px,#050512 129px,#141444 144px,#2b2688 157px,#4f27be 171px,#a93572 186px,#fd3f28 197px,#e68101 214px,#e6a911 232px,#e6ac12 251px,#e68201 276px,#fe4028 302px,#8d3189 330px,#88308e 332px)"></i><i style="background:linear-gradient(90deg,#0f0f31 0px,#0e0e2e 50px,#000000 111px,#050512 129px,#151545 144px,#2c2689 157px,#4c26be 170px,#ad366e 186px,#fe4125 197px,#e68101 213px,#e6aa11 231px,#e6ad12 250px,#e68402 275px,#fe4027 301px,#8d318a 329px,#843091 332px)"></i><i style="background:linear-gradient(90deg,#0f0f31 0px,#0e0e2d 50px,#000000 111px,#050512 129px,#151546 144px,#2b2687 156px,#4e26be 170px,#aa3571 185px,#ff4026 196px,#e68101 212px,#e6ab11 230px,#e6af13 249px,#e68703 273px,#ec6e0a 283px,#ff4026 300px,#8d318a 328px,#812f93 332px)"></i><i style="background:linear-gradient(90deg,#0f0f30 0px,#0e0e2d 50px,#000000 111px,#060613 129px,#141442 143px,#2d268b 157px,#5027bc 170px,#ae366d 185px,#fd4028 195px,#e68101 211px,#e6ac12 229px,#e6b114 248px,#e68904 272px,#ea7506 280px,#fb3f29 300px,#8c318a 327px,#7e2e96 332px)"></i><i style="background:linear-gradient(90deg,#0e0e30 0px,#0e0e2d 50px,#000000 111px,#060613 129px,#141443 143px,#2c2689 156px,#4d26bf 169px,#ab3570 184px,#fe4225 195px,#e68101 210px,#e6ae12 228px,#e6b315 246px,#e68f06 269px,#e87904 278px,#fc3f29 299px,#8c318a 326px,#7b2e99 332px)"></i><i style="background:linear-gradient(90deg,#0e0e2f 0px,#0e0e2d 50px,#000000 111px,#050511 128px,#131340 142px,#2c268a 156px,#4f27bd 169px,#af366c 184px,#ff4026 194px,#e68101 209px,#e6af13 227px,#e6b515 245px,#e69007 268px,#e87a03 277px,#fd3f28 298px,#8f3188 324px,#772d9b 332px)"></i><i style="background:linear-gradient(90deg,#0e0e2f 0px,#0e0e2d 50px,#000000 111px,#050511 128px,#131341 142px,#2b2687 155px,#4c26bf 168px,#ac356f 183px,#fe4027 193px,#e68101 208px,#e6ae13 225px,#e6b716 243px,#e69709 265px,#e77b03 276px,#fe4027 297px,#8e3188 323px,#742d9e 332px)"></i><i style="background:linear-gradient(90deg,#0e0e2e 0px,#0e0e2d 50px,#000000 111px,#050511 128px,#141441 142px,#2e268c 156px,#4e26be 168px,#a83572 182px,#fe4225 193px,#e68402 208px,#e6b114 225px,#e6b917 243px,#e69609 265px,#e87a04 276px,#ff4027 296px,#8e3189 322px,#712ca1 332px)"></i><i style="background:linear-gradient(90deg,#0e0e2e 0px,#0d0d2d 51px,#000000 111px,#050511 128px,#141442 142px,#2c268a 155px,#4c26be 167px,#a43476 181px,#ff4126 192px,#e68402 207px,#e6b214 224px,#e6bb18 241px,#e69a0b 263px,#e77b03 275px,#ff4026 295px,#8e3189 321px,#6e2ca4 332px)"></i><i style="background:linear-gradient(90deg,#0e0e2d 0px,#0d0d2c 51px,#000000 111px,#050512 128px,#141443 142px,#2b2687 154px,#4d26bf 167px,#a93572 181px,#fe4027 191px,#e68402 206px,#e6b415 223px,#e6bd19 240px,#e69e0c 261px,#e87904 275px,#fc3f29 295px,#8e3189 320px,#6a2ba7 332px)"></i><i style="background:linear-gradient(90deg,#0d0d2d 0px,#0d0d2c 51px,#000000 112px,#060614 129px,#161649 143px,#2b2688 154px,#4f27bd 167px,#ae366d 181px,#fb3f29 190px,#e68402 205px,#e6b515 222px,#e6bf19 239px,#e6a00d 260px,#e77b03 274px,#fc3f29 294px,#8d3189 319px,#672ba9 332px)"></i><i style="background:linear-gradient(90deg,#0d0d2c 0px,#0d0d2c 51px,#000000 112px,#060615 129px,#151545 142px,#2c2689 154px,#4c26bf 166px,#aa3571 180px,#fe4125 190px,#e68402 204px,#e6b616 221px,#e6c01c 238px,#e5a40f 258px,#e87904 274px,#fd4028 293px,#8d3189 318px,#632aac 332px)"></i><i style="background:linear-gradient(90deg,#0d0d2b 0px,#0d0d2c 51px,#000000 112px,#060612 128px,#141441 141px,#2d268a 154px,#4e27be 166px,#af366d 180px,#fe4027 189px,#e68302 203px,#e6b716 220px,#e6c220 237px,#e6aa11 255px,#e87a03 273px,#fe4027 292px,#8d318a 317px,#602aaf 332px)"></i><i style="background:linear-gradient(90deg,#0d0d2b 0px,#0d0d2c 51px,#000000 112px,#060613 128px,#141442 141px,#2b2687 153px,#4c26be 165px,#ab3570 179px,#fb3f29 188px,#e68301 202px,#e6b716 218px,#e6c324 234px,#e6b314 251px,#e77c02 272px,#ff4026 291px,#903187 315px,#5d29b2 332px)"></i><i style="background:linear-gradient(90deg,#0d0d2a 0px,#0d0d2b 52px,#000000 112px,#060613 128px,#141443 141px,#2c2689 153px,#4d26bf 165px,#a73574 178px,#fe4125 188px,#e68301 201px,#e6b817 217px,#e6c427 234px,#e6b515 250px,#e87a03 272px,#fb3f2a 291px,#8f3187 314px,#5928b5 332px)"></i><i style="background:linear-gradient(90deg,#0c0c29 0px,#0d0d2b 52px,#000000 112px,#060613 128px,#141444 141px,#2c268a 153px,#5027bd 165px,#ac356f 178px,#ff4027 187px,#e68201 200px,#e6b917 216px,#e6c62b 232px,#e6b716 249px,#e77c02 271px,#fc3f29 290px,#8f3188 313px,#5628b7 332px)"></i><i style="background:linear-gradient(90deg,#0c0c29 0px,#0d0d2b 52px,#000000 112px,#060613 128px,#151545 141px,#2b2687 152px,#4c26bf 164px,#a73573 177px,#fb3f29 186px,#e68201 199px,#e6ba18 215px,#e6c72e 230px,#e6c01b 244px,#e68302 268px,#fd3f28 289px,#8f3188 312px,#5327ba 332px)"></i><i style="background:linear-gradient(90deg,#0c0c28 0px,#0d0d2b 52px,#000000 112px,#060614 128px,#151546 141px,#2b2688 152px,#4e27be 164px,#ac356e 177px,#fe4125 186px,#e68101 198px,#e6bc18 214px,#e6c831 228px,#e6c324 241px,#e5a810 255px,#e77b03 270px,#fe4027 288px,#8f3188 311px,#4f27bd 332px)"></i><i style="background:linear-gradient(90deg,#0c0c28 0px,#0d0d2b 52px,#000000 112px,#060614 128px,#151547 141px,#2c2689 152px,#4c26be 163px,#a83572 176px,#ff4027 185px,#e68101 197px,#e6bd19 213px,#e6ca35 227px,#e6c528 240px,#e6b214 251px,#e77d02 269px,#ff4027 287px,#8e3188 310px,#4c26bf 332px)"></i><i style="background:linear-gradient(90deg,#0c0c27 0px,#0d0d2a 53px,#000000 112px,#060614 128px,#161649 141px,#2d268b 152px,#4d26bf 163px,#ad366e 176px,#fb3f29 184px,#e68000 196px,#e6be19 212px,#e6cb38 225px,#e6c72e 238px,#e6b515 250px,#e77b03 269px,#ff4026 286px,#8e3189 309px,#4c26be 331px,#4a26bc 332px)"></i><i style="background:linear-gradient(90deg,#0b0b26 0px,#0d0d2a 53px,#000000 112px,#060614 128px,#16164a 141px,#2b2688 151px,#5027bd 163px,#a93572 175px,#fe4125 184px,#e68502 196px,#e6bf1a 211px,#e6cc3a 223px,#e6c934 236px,#e6b415 250px,#e77c02 268px,#fb3f2a 286px,#8e3189 308px,#4b26bd 330px,#4926b9 332px)"></i><i style="background:linear-gradient(90deg,#0b0b26 0px,#0d0d2a 53px,#000000 112px,#050512 127px,#151545 140px,#2c2689 151px,#4c26bf 162px,#a43476 174px,#fe4027 183px,#e68402 195px,#e6c01c 210px,#e6cc3d 221px,#e6cc3c 233px,#e6b716 249px,#e87a03 268px,#fc3f29 285px,#8e3189 307px,#4c26bf 328px,#4726b6 332px)"></i><i style="background:linear-gradient(90deg,#0b0b25 0px,#0c0c2a 53px,#000000 112px,#060612 127px,#131341 139px,#2d268a 151px,#4e27be 162px,#aa3571 174px,#fb3f2a 182px,#e68302 194px,#e6c11e 209px,#e6ce40 220px,#e6ce40 232px,#e6b616 249px,#e77c02 267px,#fd4028 284px,#8d3189 306px,#4c26be 327px,#4526b3 332px)"></i><i style="background:linear-gradient(90deg,#0b0b24 0px,#0c0c29 54px,#000000 112px,#060613 127px,#141442 139px,#2b2687 150px,#4b26bd 161px,#a53475 173px,#fe4125 182px,#e68301 193px,#e6c01b 207px,#e6ce42 218px,#e6d046 230px,#e6c220 244px,#e67d01 266px,#fe4027 283px,#913286 304px,#4c26be 326px,#4426b0 332px)"></i><i style="background:linear-gradient(90deg,#0b0b23 0px,#0c0c29 54px,#000000 113px,#060616 128px,#161649 140px,#2b2688 150px,#4d26bf 161px,#aa3570 173px,#fe4027 181px,#e68201 192px,#e6c01c 206px,#e5d045 217px,#e6d14a 229px,#e6c324 243px,#e6af13 251px,#e77b02 266px,#ff4026 282px,#913287 303px,#4d26bf 324px,#4226ae 332px)"></i><i style="background:linear-gradient(90deg,#0a0a23 0px,#0c0c29 54px,#000000 113px,#070716 128px,#16164a 140px,#2c2689 150px,#5027bd 161px,#a63575 172px,#fa3f2a 180px,#f16311 186px,#e68101 191px,#e6c11e 205px,#e6d149 216px,#e6d450 227px,#e6c831 240px,#e6b817 248px,#e77d02 265px,#ff4126 281px,#8d318a 303px,#4c26bf 323px,#4026ab 332px)"></i><i style="background:linear-gradient(90deg,#0a0a22 0px,#0c0c28 55px,#000000 113px,#070716 128px,#16164b 140px,#2d268b 150px,#4c26be 160px,#ab3570 172px,#fe4125 180px,#e68000 190px,#e6c220 204px,#e6d24d 215px,#e6d554 226px,#e6ca35 239px,#e6b816 248px,#e77b03 265px,#fc3f29 281px,#903287 301px,#4c26be 322px,#3f26a8 332px)"></i><i style="background:linear-gradient(90deg,#0a0a21 0px,#0c0c28 55px,#000000 113px,#070716 128px,#17174c 140px,#2b2687 149px,#4e27be 160px,#a63574 171px,#fd4028 179px,#e67f00 189px,#e6c01c 202px,#e6d34e 213px,#e6d75a 224px,#e6cd3e 237px,#e6ba17 247px,#e77c02 264px,#fd3f28 280px,#903187 300px,#4b26bd 321px,#3d26a5 332px)"></i><i style="background:linear-gradient(90deg,#0a0a21 0px,#0c0c28 55px,#000000 113px,#060614 127px,#151547 139px,#2c2689 149px,#4b26bd 159px,#a13479 170px,#f93f2b 178px,#f8511c 181px,#e68402 189px,#e6c11d 201px,#e6d451 212px,#e6d95e 223px,#e6d046 235px,#e6ba17 247px,#e87a03 264px,#fe4027 279px,#903187 299px,#4c26bf 319px,#3b26a3 332px)"></i><i style="background:linear-gradient(90deg,#0a0a20 0px,#0c0c27 56px,#000000 113px,#060614 127px,#161648 139px,#2d268a 149px,#4d26bf 159px,#a73574 170px,#ff4126 178px,#e68301 188px,#e6c11f 200px,#e6d655 211px,#e6db63 222px,#e6d24b 234px,#e6b917 247px,#e77c02 263px,#ff4026 278px,#8f3188 298px,#4c26be 318px,#3a26a0 332px)"></i><i style="background:linear-gradient(90deg,#09091f 0px,#0c0c27 56px,#000000 113px,#060615 127px,#141444 138px,#2d268b 149px,#4f27bd 159px,#ac356e 170px,#fc3f29 177px,#e68201 187px,#e6c220 199px,#e6d655 209px,#e6dd68 219px,#e6d657 231px,#e6bc18 246px,#e67e01 262px,#ff4126 277px,#8f3188 297px,#4c26be 317px,#38269d 332px)"></i><i style="background:linear-gradient(90deg,#09091e 0px,#0c0c26 56px,#000000 113px,#060615 127px,#151545 138px,#2b2688 148px,#4c26be 158px,#a73573 169px,#fe4325 177px,#e68101 186px,#e6c221 198px,#e6d759 208px,#e6df6d 218px,#e6d95f 229px,#e6c323 243px,#e6b013 249px,#e77b03 262px,#fb3f2a 277px,#8f3188 296px,#4d26bf 315px,#36269a 332px)"></i><i style="background:linear-gradient(90deg,#09091e 0px,#0b0b26 57px,#000000 113px,#060615 127px,#151546 138px,#2c2689 148px,#4e26be 158px,#ad366e 169px,#ff4026 176px,#e68000 185px,#e6c323 197px,#e6d85d 207px,#e6e173 217px,#e6db65 228px,#e6c528 242px,#e6b616 247px,#e77d02 261px,#fc3f29 276px,#8f3188 295px,#4c26bf 314px,#352698 332px)"></i><i style="background:linear-gradient(90deg,#09091d 0px,#0b0b25 57px,#000000 113px,#060615 127px,#151547 138px,#2d268b 148px,#4b26bc 157px,#792e9a 163px,#b33669 169px,#fb3f2a 175px,#e67e01 184px,#e6c01c 195px,#e6d85c 205px,#e6e277 215px,#e6df6d 226px,#e5cb38 239px,#e6b917 246px,#e87a03 261px,#fe4028 275px,#8e3188 294px,#4c26be 313px,#332695 332px)"></i><i style="background:linear-gradient(90deg,#08081c 0px,#0b0b25 58px,#000000 113px,#070716 127px,#161648 138px,#2b2687 147px,#4c26bf 157px,#a23478 167px,#fe4225 175px,#e68402 184px,#e6c01d 194px,#e6d95f 204px,#e6e47c 214px,#e6e173 225px,#e6cd3e 238px,#e6bc18 245px,#e77c02 260px,#ff4026 274px,#923285 292px,#4b26bd 312px,#312692 332px)"></i><i style="background:linear-gradient(90deg,#08081c 0px,#0b0b25 58px,#000000 113px,#070716 127px,#161649 138px,#2c2688 147px,#4f27bd 157px,#a83573 167px,#fe4027 174px,#e68201 183px,#e6c11e 193px,#e5db63 203px,#e6e682 213px,#e6e47c 223px,#e6d34e 235px,#e6bb18 245px,#e67e01 259px,#ff4026 273px,#8e3189 292px,#4c26bf 310px,#302690 332px)"></i><i style="background:linear-gradient(90deg,#08081b 0px,#0b0b24 58px,#000000 113px,#070716 127px,#16164b 138px,#2c268a 147px,#4b26bd 156px,#a23478 166px,#f93f2c 173px,#fa4c1f 175px,#e68101 182px,#e6c11e 192px,#e6dc66 202px,#e7e789 212px,#e7e785 221px,#e6d554 234px,#e6ba17 245px,#e77b02 259px,#fe4125 272px,#8e3189 291px,#4c26bf 309px,#2e268d 332px)"></i><i style="background:linear-gradient(90deg,#08081a 0px,#0b0b24 59px,#000000 113px,#070717 127px,#17174c 138px,#2d268b 147px,#4d26bf 156px,#a83572 166px,#ff4126 173px,#e67f00 181px,#e6c11f 191px,#e6dd6a 201px,#e9e990 211px,#e8e88d 220px,#e6d75a 233px,#e6bd19 244px,#e67d01 258px,#fc3f29 272px,#923285 289px,#4c26be 308px,#2d268a 332px)"></i><i style="background:linear-gradient(90deg,#080819 0px,#0b0b23 59px,#000000 113px,#060614 126px,#151546 137px,#2b2688 146px,#5027bc 156px,#a23478 165px,#fc3f29 172px,#e67d01 180px,#e6c11f 190px,#e6df6d 200px,#eaea97 210px,#eaea95 219px,#e6d85a 233px,#e6bc18 244px,#e87a03 258px,#fd4028 271px,#923286 288px,#4b26bd 307px,#2b2688 332px)"></i><i style="background:linear-gradient(90deg,#070719 0px,#0a0a23 60px,#000000 113px,#060614 126px,#151548 137px,#2c2689 146px,#4c26be 155px,#a83572 165px,#fe4325 172px,#e68302 180px,#e6c220 189px,#e6e071 199px,#ebeb9c 208px,#ececa1 216px,#e6e57f 226px,#e6c72e 240px,#e6ba17 244px,#e77c02 257px,#ff4027 270px,#923286 287px,#4c26bf 305px,#2a2685 332px)"></i><i style="background:linear-gradient(90deg,#070718 0px,#0a0a22 60px,#000000 113px,#060614 126px,#141442 136px,#2d268a 146px,#4e27be 155px,#a23478 164px,#fe4027 171px,#e68101 179px,#e6c220 188px,#e6df6e 197px,#ededa3 207px,#eeeeaa 215px,#e8e88d 224px,#e6c62c 240px,#e6b917 244px,#e67e01 256px,#ff4026 269px,#913286 286px,#4c26be 304px,#282683 332px)"></i><i style="background:linear-gradient(90deg,#070717 0px,#0a0a22 61px,#000000 113px,#060615 126px,#141443 136px,#2e268c 146px,#4b26bc 154px,#6b2ba6 158px,#a83572 164px,#f93f2c 170px,#fa4d1e 172px,#e68000 178px,#e6c220 187px,#e6e071 196px,#ededa7 205px,#f0f0b3 213px,#ebeb9a 222px,#e6c832 239px,#e6bc18 243px,#e77b02 256px,#fe4125 268px,#913286 285px,#4c26be 303px,#272680 332px)"></i><i style="background:linear-gradient(90deg,#070716 0px,#0a0a21 61px,#000001 114px,#070718 127px,#17174b 137px,#2b2688 145px,#4c26bf 154px,#a13478 163px,#fe4125 170px,#e67d01 177px,#e6c220 186px,#e6e174 195px,#efefae 204px,#f2f2bc 212px,#ededa4 221px,#e6cd3f 237px,#e6ba17 243px,#e67d01 255px,#fb3f29 268px,#913286 284px,#4d26bf 301px,#25257c 332px)"></i><i style="background:linear-gradient(90deg,#060616 0px,#0a0a21 62px,#000001 114px,#070719 127px,#17174d 137px,#2c2689 145px,#4f27bd 154px,#a83573 163px,#fc3f29 169px,#e68402 177px,#e6c220 185px,#e6e378 194px,#efefb1 202px,#f3f3c5 210px,#f0f0b6 218px,#e6dd69 231px,#e6be19 242px,#e87a03 255px,#fd3f28 267px,#913286 283px,#4c26bf 300px,#242477 332px)"></i><i style="background:linear-gradient(90deg,#060615 0px,#0a0a20 62px,#000001 114px,#070719 127px,#17174e 137px,#2d268b 145px,#4b26bd 153px,#8b318c 160px,#fe4324 169px,#e68201 176px,#e6c11f 184px,#e6e684 194px,#f1f1b8 201px,#f5f5ce 209px,#f2f2c0 217px,#e7e785 227px,#e6bc18 242px,#e77c02 254px,#fe4027 266px,#913286 282px,#4c26be 299px,#222272 332px)"></i><i style="background:linear-gradient(90deg,#060614 0px,#0a0a20 63px,#000001 114px,#070716 126px,#161648 136px,#2e268c 145px,#4d26bf 153px,#a83573 162px,#fe4027 168px,#e67f00 175px,#e6c11f 183px,#e9e992 194px,#f3f3c5 201px,#f7f7d8 208px,#f4f4ca 216px,#e8e88e 226px,#e6bf19 241px,#e67e01 253px,#ff4026 265px,#913287 281px,#4c26be 298px,#21216e 332px)"></i><i style="background:linear-gradient(90deg,#060613 0px,#09091f 64px,#000001 114px,#070716 126px,#161649 136px,#2b2688 144px,#5027bd 153px,#a03479 161px,#f83f2d 167px,#f94e1e 169px,#e77d02 174px,#e6c11e 182px,#eaea97 193px,#f5f5cc 200px,#f9f9e1 207px,#f7f7d5 215px,#ececa0 224px,#e6c11f 240px,#e77b03 253px,#fe4125 264px,#903287 280px,#4d26bf 296px,#20206c 331px,#202069 332px)"></i><i style="background:linear-gradient(90deg,#060613 0px,#09091f 64px,#000001 114px,#070716 126px,#16164b 136px,#2c2689 144px,#4b26bd 152px,#993380 160px,#ff4126 167px,#e68302 174px,#e6c11d 181px,#ebeb9b 192px,#f6f6d4 199px,#fbfbeb 206px,#f9f9e0 214px,#eeeeab 223px,#e6d148 235px,#e6bb18 241px,#e67d01 252px,#fb3f2a 264px,#903287 279px,#4c26bf 295px,#21216d 329px,#1e1e65 332px)"></i><i style="background:linear-gradient(90deg,#050512 0px,#09091e 65px,#000001 114px,#070717 126px,#17174c 136px,#2d268b 144px,#4d26bf 152px,#9f347a 160px,#fa3f2b 166px,#f16411 170px,#e68100 173px,#e6c01c 180px,#ececa0 191px,#f8f8dc 198px,#fdfdf5 205px,#fbfbeb 213px,#f0f0b6 222px,#e5d657 233px,#e6bf19 240px,#e67f00 251px,#fc3f29 263px,#903287 278px,#4c26be 294px,#20206b 328px,#1d1d60 332px)"></i><i style="background:linear-gradient(90deg,#050511 0px,#09091e 65px,#000001 114px,#070717 126px,#151546 135px,#2e268c 144px,#5127bc 152px,#a63574 160px,#fe4225 166px,#e67e01 172px,#e6c01a 179px,#ebeb99 189px,#f8f8dd 196px,#fffffe 203px,#fefefa 211px,#f6f6d0 219px,#e6d95f 232px,#e6bd18 240px,#e77c02 251px,#fe4027 262px,#903187 277px,#4b26be 293px,#20206c 326px,#1c1c5c 332px)"></i><i style="background:linear-gradient(90deg,#050511 0px,#09091d 66px,#000001 114px,#070717 126px,#151547 135px,#2f268e 144px,#4b26be 151px,#9e347b 159px,#fc3f29 165px,#e68502 172px,#e6bf19 178px,#ebeb9d 188px,#fafae5 195px,#ffffff 200px,#fefefa 213px,#f1f1bb 222px,#e6d95d 232px,#e6c01b 239px,#e67e01 250px,#ff4026 261px,#903187 276px,#4d26bf 291px,#21216d 324px,#1a1a58 332px)"></i><i style="background:linear-gradient(90deg,#050510 0px,#08081c 67px,#000001 114px,#070718 126px,#161648 135px,#2c268a 143px,#4e26be 151px,#a53575 159px,#f53e2f 164px,#fd4424 165px,#e68201 171px,#e6bd19 177px,#ececa1 187px,#fbfbed 194px,#ffffff 197px,#fefefc 214px,#f0f0b4 223px,#e5d85b 232px,#e6be19 239px,#e87a03 250px,#fe4125 260px,#903187 275px,#4c26bf 290px,#20206b 323px,#191953 332px)"></i><i style="background:linear-gradient(90deg,#05050f 0px,#08081c 67px,#000001 114px,#070718 126px,#16164a 135px,#2a2685 142px,#4a26bb 150px,#5b29b3 152px,#ad356e 159px,#fe4027 164px,#e67e01 170px,#e6bc18 176px,#eaea96 185px,#fbfbec 192px,#ffffff 195px,#fefefc 215px,#ececa1 225px,#e6c832 236px,#e6bb18 239px,#e77d02 249px,#fe4225 259px,#8f3188 274px,#4c26be 289px,#20206c 321px,#18184f 332px)"></i><i style="background:linear-gradient(90deg,#04040f 0px,#08081b 68px,#000001 114px,#070718 126px,#16164b 135px,#2e268c 143px,#4c26be 150px,#a43476 158px,#f63f2e 163px,#fd4523 164px,#e77b03 169px,#e6ba17 175px,#ebeb99 184px,#fdfdf3 191px,#ffffff 193px,#fefefa 216px,#eaea96 226px,#e6bf19 238px,#e67f00 248px,#fc3f29 259px,#953283 272px,#4c26be 288px,#21216d 319px,#17174b 332px)"></i><i style="background:linear-gradient(90deg,#04040e 0px,#08081a 69px,#000001 114px,#070719 126px,#17174c 135px,#2f268e 143px,#4e27be 150px,#9b337d 157px,#ff4026 163px,#e68201 169px,#e6c11f 175px,#ebeb9c 183px,#fefefa 190px,#ffffff 216px,#eaea96 226px,#e6bd18 238px,#e77b03 248px,#fd4028 258px,#943283 271px,#4e26be 286px,#20206b 318px,#151548 332px)"></i><i style="background:linear-gradient(90deg,#04040d 0px,#08081a 69px,#000001 114px,#080819 126px,#17174d 135px,#2c2689 142px,#4a26bb 149px,#5c29b3 151px,#a33477 157px,#f83f2c 162px,#f8521c 164px,#e67f01 168px,#e6c01c 174px,#ecec9e 182px,#fdfdf6 188px,#ffffff 190px,#fefefb 217px,#e6dc67 230px,#e6c01b 237px,#e67d01 247px,#ff4026 257px,#943283 270px,#4d26bf 285px,#20206c 316px,#141444 332px)"></i><i style="background:linear-gradient(90deg,#04040d 0px,#080819 70px,#000001 114px,#060616 125px,#151547 134px,#2d268b 142px,#4c26be 149px,#9a337f 156px,#fe4125 162px,#e77b03 167px,#e6bf19 173px,#ececa0 181px,#fffffd 187px,#ffffff 217px,#e6db65 230px,#e6be19 237px,#e68000 246px,#fe4125 256px,#8f3188 270px,#4c26bf 284px,#20206a 315px,#131340 332px)"></i><i style="background:linear-gradient(90deg,#04040c 0px,#070719 71px,#000001 114px,#070716 125px,#161648 134px,#2a2686 141px,#4e27be 149px,#a13479 156px,#f93f2b 161px,#f35f14 164px,#e68201 167px,#e6bd18 172px,#e9e98f 179px,#fdfdf5 185px,#ffffff 187px,#ffffff 217px,#ececa0 225px,#e6c11d 236px,#e77c02 246px,#fe4225 255px,#8f3188 269px,#4c26be 283px,#20206b 313px,#12123d 332px)"></i><i style="background:linear-gradient(90deg,#03030b 0px,#070718 72px,#000001 114px,#070716 125px,#161649 134px,#2f268e 142px,#4a26bb 148px,#5c29b2 150px,#a83572 156px,#fe4225 161px,#e67e01 166px,#e6ba17 171px,#e9e990 178px,#fefefb 184px,#fefefa 218px,#e6de6b 229px,#e6bf19 236px,#e67e01 245px,#fb3f2a 255px,#943284 267px,#4e26be 281px,#20206c 311px,#111139 332px)"></i><i style="background:linear-gradient(90deg,#03030b 0px,#070718 72px,#000001 114px,#070716 125px,#16164a 134px,#2c2689 141px,#4c26be 148px,#9f347b 155px,#fa3f2b 160px,#ed6d0b 164px,#e68603 166px,#e6c220 171px,#e9e990 177px,#ffffff 183px,#fffffd 218px,#e6dd68 229px,#e6bb18 236px,#e68101 244px,#fd3f28 254px,#943284 266px,#4d26bf 280px,#21216e 309px,#101036 332px)"></i><i style="background:linear-gradient(90deg,#03030a 0px,#070717 73px,#000001 114px,#070717 125px,#141444 133px,#2d268b 141px,#4e27be 148px,#a63574 155px,#fe4324 160px,#e68201 165px,#e6c01b 170px,#e9e98f 176px,#fdfdf4 181px,#ffffff 182px,#ffffff 218px,#e6db64 229px,#e6bf1a 235px,#e77c02 244px,#ff4026 253px,#943284 265px,#4c26bf 279px,#20206b 308px,#101034 331px,#0f0f32 332px)"></i><i style="background:linear-gradient(90deg,#03030a 0px,#070716 74px,#000001 114px,#070717 125px,#151545 133px,#2a2686 140px,#4a26ba 147px,#5d29b2 149px,#9c337d 154px,#fb3f2a 159px,#e77d02 164px,#e6bd19 169px,#e9e98f 175px,#fefef8 180px,#ffffff 183px,#ffffff 218px,#e6df6d 228px,#e6bc18 235px,#e67f00 243px,#ff4126 252px,#943284 264px,#4c26be 278px,#21216d 306px,#101034 329px,#0e0e2f 332px)"></i><i style="background:linear-gradient(90deg,#030309 0px,#060615 75px,#000001 114px,#070717 125px,#151546 133px,#2b2687 140px,#4b26bd 147px,#933284 153px,#fe4324 159px,#e68502 164px,#e6ba17 168px,#e8e88d 174px,#fefefc 179px,#ffffff 218px,#e6dd69 228px,#e6c01b 234px,#e68201 242px,#fe4225 251px,#8e3189 264px,#4b26bd 277px,#20206a 305px,#0f0f33 328px,#0d0d2c 332px)"></i><i style="background:linear-gradient(90deg,#030309 0px,#060615 75px,#010102 115px,#08081c 126px,#181850 134px,#30268f 141px,#4e26be 147px,#993380 153px,#fb3f2a 158px,#e68000 163px,#e6c221 168px,#ededa4 174px,#ffffff 178px,#ffffff 218px,#e6dc65 228px,#e6bc18 234px,#e77d02 242px,#fe4324 250px,#e53d3d 253px,#8e3189 263px,#4e26be 275px,#20206c 303px,#101034 325px,#0c0c29 332px)"></i><i style="background:linear-gradient(90deg,#020208 0px,#060614 76px,#010102 115px,#070718 125px,#161648 133px,#2c268a 140px,#4926ba 146px,#5127bb 147px,#a03479 153px,#f03e33 157px,#fd4424 158px,#e87a03 162px,#e6c01b 167px,#ededa3 173px,#ffffff 177px,#ffffff 218px,#e6df6f 227px,#e6c01c 233px,#e67f00 241px,#fc3f29 250px,#943284 261px,#4d26bf 274px,#21216d 301px,#101034 323px,#0c0c27 332px)"></i><i style="background:linear-gradient(90deg,#020208 0px,#060613 77px,#010102 115px,#070718 125px,#161649 133px,#2d268b 140px,#4b26bc 146px,#7b2e99 150px,#a83572 153px,#fb3f2a 157px,#e68301 162px,#e6bc18 166px,#ececa1 172px,#fbfbed 175px,#ffffff 176px,#ffffff 218px,#e6de6a 227px,#e6bd19 233px,#e87a03 241px,#fe4027 249px,#943284 260px,#4c26be 273px,#20206b 300px,#0f0f33 322px,#0b0b24 332px)"></i><i style="background:linear-gradient(90deg,#020207 0px,#060613 78px,#010102 115px,#070718 125px,#16164b 133px,#2a2686 139px,#4d26bf 146px,#9d337c 152px,#ef3e34 156px,#fd4424 157px,#e77d02 161px,#e6b816 165px,#e6cc3d 167px,#ecec9e 171px,#fcfcee 174px,#ffffff 175px,#ffffff 218px,#e6dc66 227px,#e6c11d 232px,#e67d01 240px,#ff4026 248px,#943284 259px,#4b26be 272px,#20206c 298px,#101035 319px,#0a0a21 332px)"></i><i style="background:linear-gradient(90deg,#020207 0px,#050512 79px,#010102 115px,#070719 125px,#17174c 133px,#2b2687 139px,#5027bc 146px,#a53475 152px,#fa3f2b 156px,#e97605 160px,#e69408 162px,#e6c11e 165px,#ebeb9a 170px,#fcfcee 173px,#ffffff 174px,#ffffff 218px,#e6df6f 226px,#e6bd19 232px,#e68000 239px,#fe4225 247px,#943284 258px,#4e27be 270px,#21216d 296px,#101035 317px,#09091f 332px)"></i><i style="background:linear-gradient(90deg,#020206 0px,#050512 79px,#010102 115px,#070719 125px,#17174d 133px,#2c2689 139px,#4a26bb 145px,#602aaf 147px,#993380 151px,#fe4324 156px,#e67f00 160px,#e6bd19 164px,#eaea96 169px,#fbfbed 172px,#ffffff 173px,#ffffff 218px,#e6dd6a 226px,#e6c11e 231px,#e87a03 239px,#fe4324 246px,#d73b49 250px,#8d318a 258px,#4d26bf 269px,#20206b 295px,#0f0f33 316px,#09091d 332px)"></i><i style="background:linear-gradient(90deg,#020206 0px,#050511 80px,#010102 115px,#080819 125px,#151545 132px,#312692 140px,#4c26be 145px,#a03479 151px,#f83f2c 155px,#f55917 157px,#e87804 159px,#e6a810 162px,#e6b817 163px,#e6ce41 165px,#efefb0 169px,#fbfbec 171px,#ffffff 172px,#ffffff 218px,#e6e174 225px,#e6bd19 231px,#e67d01 238px,#fb3f2a 246px,#933284 256px,#4c26bf 268px,#21216d 293px,#101035 313px,#08081a 332px)"></i><i style="background:linear-gradient(90deg,#020205 0px,#050510 81px,#010102 115px,#080819 125px,#151546 132px,#2e268c 139px,#4f27bd 145px,#a83572 151px,#fe4325 155px,#e68101 159px,#e6c11f 163px,#e8e88b 167px,#fbfbe9 170px,#ffffff 171px,#fefefc 218px,#e6df6f 225px,#e6c11e 230px,#e68000 237px,#fd4028 245px,#933284 255px,#4c26be 267px,#20206a 292px,#0f0f33 312px,#070718 332px)"></i><i style="background:linear-gradient(90deg,#010105 0px,#05050f 82px,#010102 115px,#08081a 125px,#151547 132px,#2a2686 138px,#4926ba 144px,#5227ba 145px,#9b337e 150px,#f63f2e 154px,#fb4a20 155px,#e87a04 158px,#e6bd19 162px,#e6e683 166px,#fafae6 169px,#ffffff 170px,#ffffff 217px,#fefef9 218px,#e6dd68 225px,#e6bd19 230px,#e87a03 237px,#ff4026 244px,#933284 254px,#4f27bd 265px,#212170 289px,#111137 308px,#070716 332px)"></i><i style="height:1px;background:linear-gradient(90deg,#010105 0px,#04040f 83px,#010102 115px,#08081a 125px,#161648 132px,#2b2687 138px,#4a26bc 144px,#632aad 146px,#a13478 150px,#ff4027 154px,#e68000 158px,#e6b415 161px,#e6c323 162px,#eaea97 166px,#fefefc 169px,#ffffff 217px,#fdfdf6 218px,#e6e175 224px,#e6c220 229px,#e67f00 236px,#fe4324 243px,#8e3189 254px,#4b26bd 265px,#20206b 289px,#0f0f33 309px,#060615 332px)"></i><i style="height:1px;background:linear-gradient(90deg,#010104 0px,#04040f 83px,#010102 115px,#08081a 125px,#161649 132px,#2b2688 138px,#4b26bd 144px,#923285 149px,#fe4324 154px,#e68502 158px,#e6b917 161px,#e6dc65 164px,#fbfbe9 168px,#ffffff 169px,#ffffff 217px,#fdfdf4 218px,#e6e071 224px,#e6c01c 229px,#e77c02 236px,#ff4026 243px,#993380 252px,#4c26bf 264px,#20206b 288px,#101035 307px,#060614 332px)"></i><i style="height:1px;background:linear-gradient(90deg,#010104 0px,#04040e 84px,#010102 115px,#08081a 125px,#161649 132px,#2c2688 138px,#4c26bf 144px,#953283 149px,#f13e33 153px,#fc4722 154px,#e87804 157px,#e6ad12 160px,#e6bf19 161px,#e9e98f 165px,#fefef8 168px,#ffffff 171px,#ffffff 217px,#f8f8db 219px,#e6df6e 224px,#e6be19 229px,#e68201 235px,#fd4423 242px,#ed3e36 244px,#953283 252px,#4e27be 263px,#20206c 287px,#101035 306px,#060613 332px)"></i><i style="height:1px;background:linear-gradient(90deg,#010104 0px,#04040e 84px,#010102 115px,#08081a 125px,#16164a 132px,#2c2689 138px,#4d26be 144px,#983381 149px,#f63f2e 153px,#fb4a20 154px,#e77d02 157px,#e6b214 160px,#e6c222 161px,#ebeb9d 165px,#fafae4 167px,#ffffff 168px,#ffffff 217px,#f3f3c1 220px,#e6de6a 224px,#e6bb18 229px,#e67f00 235px,#fe4125 242px,#913286 252px,#4c26be 263px,#21216d 286px,#101035 305px,#050512 332px)"></i><i style="height:1px;background:linear-gradient(90deg,#010104 0px,#04040e 84px,#010102 115px,#08081a 125px,#16164a 132px,#2c268a 138px,#4f27bd 144px,#9b337e 149px,#fc3f29 153px,#e68201 157px,#e6b817 160px,#e6d149 162px,#eeeeaa 165px,#fdfdf3 167px,#ffffff 168px,#ffffff 217px,#e6dc67 224px,#e6c11f 228px,#e77c02 235px,#fc3f29 242px,#953283 251px,#4d26bf 262px,#21216e 285px,#101035 304px,#050511 332px)"></i><i style="height:1px;background:linear-gradient(90deg,#010104 0px,#04040d 85px,#010102 115px,#08081a 125px,#16164b 132px,#322692 139px,#5127bb 144px,#9f347a 149px,#fe4125 153px,#e68603 157px,#e6bd19 160px,#e9e993 164px,#ffffff 167px,#ffffff 217px,#e6e275 223px,#e6c01b 228px,#e68201 234px,#fe4325 241px,#913286 251px,#4f27bd 261px,#222273 283px,#111139 301px,#060613 328px,#050510 332px)"></i><i style="height:1px;background:linear-gradient(90deg,#010103 0px,#04040d 85px,#010102 115px,#08081a 125px,#17174b 132px,#2d268b 138px,#4926b9 143px,#5327ba 144px,#a33477 149px,#ed3d36 152px,#fd4523 153px,#e87904 156px,#e6b014 159px,#e6c220 160px,#e6e47c 163px,#fbfbed 166px,#ffffff 167px,#ffffff 217px,#e6e072 223px,#e6bd19 228px,#e67f01 234px,#fe4027 241px,#953283 250px,#4c26bf 261px,#20206b 284px,#0f0f33 303px,#050510 332px)"></i><i style="height:1px;background:linear-gradient(90deg,#010103 0px,#04040c 86px,#010103 116px,#08081b 125px,#17174c 132px,#2e268c 138px,#4a26bb 143px,#632aac 145px,#a73573 149px,#f23e31 152px,#fb4921 153px,#e67e01 156px,#e6b616 159px,#e6c529 160px,#e7e789 163px,#fefefc 166px,#fffffd 217px,#e6df6e 223px,#e6c323 227px,#e6af13 229px,#e77b03 234px,#fd4424 240px,#eb3d37 242px,#913286 250px,#4e27be 260px,#20206c 283px,#101035 301px,#050511 329px,#04040f 332px)"></i><i style="height:1px;background:linear-gradient(90deg,#010103 0px,#04040c 86px,#010103 116px,#08081b 125px,#17174c 132px,#2e268c 138px,#4b26bc 143px,#742d9e 146px,#ac356f 149px,#f83f2d 152px,#f35e14 154px,#e68201 156px,#e6bc18 159px,#eaea97 163px,#fafae5 165px,#ffffff 166px,#ffffff 216px,#fefefa 217px,#e6dd6a 223px,#e6c11f 227px,#e68201 233px,#ff4126 240px,#953283 249px,#4c26be 260px,#21216d 282px,#101035 300px,#050511 327px,#04040e 332px)"></i><i style="height:1px;background:linear-gradient(90deg,#010103 0px,#03030c 87px,#010103 116px,#08081b 125px,#17174d 132px,#2e268d 138px,#4c26be 143px,#983380 148px,#fd4028 152px,#ea7407 155px,#e68703 156px,#e6c11d 159px,#e6e57d 162px,#fdfdf5 165px,#ffffff 167px,#ffffff 216px,#fdfdf6 217px,#e6e379 222px,#e6bf1a 227px,#e67e01 233px,#fb3f2a 240px,#913286 249px,#4d26bf 259px,#21216e 281px,#101035 299px,#050511 326px,#04040d 332px)"></i><i style="height:1px;background:linear-gradient(90deg,#010103 0px,#03030b 87px,#010103 116px,#08081b 125px,#17174e 132px,#2a2686 137px,#4c26bf 143px,#9c337d 148px,#fe4225 152px,#e87904 155px,#e6b315 158px,#e6c426 159px,#e8e88b 162px,#ffffff 165px,#ffffff 216px,#fdfdf3 217px,#e6e275 222px,#e6bc18 227px,#e77b03 233px,#fe4225 239px,#953283 248px,#4f27bd 258px,#232373 279px,#11113a 296px,#060613 322px,#04040d 332px)"></i><i style="height:1px;background:linear-gradient(90deg,#010103 0px,#03030b 88px,#010103 116px,#08081b 125px,#17174e 132px,#2b2687 137px,#4e27be 143px,#a03479 148px,#ed3e36 151px,#fc4622 152px,#e67d01 155px,#e6b917 158px,#e6d451 160px,#f3f3c3 163px,#fbfbec 164px,#ffffff 165px,#ffffff 216px,#fcfcf0 217px,#e6e071 222px,#e6c322 226px,#e6a20e 229px,#e68201 232px,#fd3f28 239px,#993380 247px,#4c26bf 258px,#20206b 280px,#0f0f33 298px,#050510 325px,#04040c 332px)"></i><i style="height:1px;background:linear-gradient(90deg,#010103 0px,#03030b 88px,#010103 116px,#08081b 125px,#18184f 132px,#2b2687 137px,#5027bd 143px,#a43476 148px,#f33e31 151px,#fb4a20 152px,#e68201 155px,#e6bf19 158px,#e6e57e 161px,#fefefc 164px,#ffffff 216px,#f6f6d1 218px,#e6de6d 222px,#e6c11d 226px,#e67e01 232px,#fd4424 238px,#dc3b45 241px,#8d318a 248px,#4e27be 257px,#20206c 279px,#0f0f33 297px,#050510 324px,#03030b 332px)"></i><i style="height:1px;background:linear-gradient(90deg,#010102 0px,#03030a 89px,#010103 116px,#08081b 125px,#18184f 132px,#2b2688 137px,#4826b8 142px,#5227bb 143px,#a83572 148px,#f83f2c 151px,#f26013 153px,#e68703 155px,#e6c322 158px,#e8e88c 161px,#f9f9e2 163px,#ffffff 164px,#ffffff 216px,#e6dd68 222px,#e6be19 226px,#e87a03 232px,#ff4026 238px,#993380 246px,#4c26be 257px,#21216d 278px,#101036 295px,#050511 321px,#03030b 332px)"></i><i style="height:1px;background:linear-gradient(90deg,#010102 0px,#03030a 89px,#010103 116px,#08081b 125px,#181850 132px,#2c2688 137px,#4926b9 142px,#5327ba 143px,#953283 147px,#fe4027 151px,#e87804 154px,#e6a10d 156px,#e6b616 157px,#e6c62c 158px,#ebeb9a 161px,#fcfcf2 163px,#ffffff 164px,#ffffff 216px,#e6e378 221px,#e6bb18 226px,#e68101 231px,#fd4523 237px,#f93f2b 238px,#953283 246px,#4d26bf 256px,#21216e 277px,#101036 294px,#050511 320px,#03030a 332px)"></i><i style="height:1px;background:linear-gradient(90deg,#010102 0px,#03030a 89px,#010103 116px,#08081b 125px,#181850 132px,#2c2689 137px,#4a26ba 142px,#5528b8 143px,#983380 147px,#fe4324 151px,#e77d02 154px,#e6bb18 157px,#e6e57d 160px,#ffffff 163px,#fefefc 216px,#e6e174 221px,#e6c221 225px,#e68904 230px,#eb7308 232px,#fe4125 237px,#903287 246px,#4f27bd 255px,#232373 275px,#12123b 291px,#060615 315px,#03030a 332px)"></i><i style="height:1px;background:linear-gradient(90deg,#010102 0px,#030309 90px,#010103 116px,#08081b 125px,#181851 132px,#2c268a 137px,#4a26bc 142px,#672baa 144px,#9c337d 147px,#ed3d36 150px,#fc4722 151px,#e68201 154px,#e6c11d 157px,#e8e88b 160px,#fafae6 162px,#ffffff 163px,#ffffff 215px,#fdfdf7 216px,#e6df6f 221px,#e6c01b 225px,#e68502 230px,#fc3f29 237px,#953283 245px,#4c26bf 255px,#20206b 276px,#0f0f34 293px,#050510 319px,#030309 332px)"></i><i style="height:1px;background:linear-gradient(90deg,#010102 0px,#030309 90px,#010103 116px,#08081b 125px,#151547 131px,#2d268a 137px,#4b26bd 142px,#8b318b 146px,#d53b4b 149px,#f23e32 150px,#fb4a20 151px,#e68603 154px,#e6b114 156px,#e6c427 157px,#ebeb9a 160px,#fdfdf7 162px,#ffffff 164px,#ffffff 215px,#fdfdf3 216px,#e6e680 220px,#e6bd19 225px,#e68101 230px,#fe4324 236px,#903287 245px,#4e27be 254px,#20206c 275px,#101034 292px,#050510 318px,#030309 332px)"></i><i style="height:1px;background:linear-gradient(90deg,#010102 0px,#030309 91px,#010103 116px,#08081c 125px,#151547 131px,#322694 138px,#4c26bf 142px,#a43476 147px,#f83f2d 150px,#f16212 152px,#e97605 153px,#e6a10d 155px,#e6b716 156px,#e6c831 157px,#e6e47b 159px,#f7f7d8 161px,#ffffff 162px,#ffffff 215px,#fcfcee 216px,#e6e47b 220px,#e6c324 224px,#e6ad12 226px,#e67d01 230px,#fe4027 236px,#943283 244px,#4b26be 254px,#21216d 274px,#101036 290px,#050512 315px,#020208 332px)"></i><i style="height:1px;background:linear-gradient(90deg,#010102 0px,#030308 91px,#010103 116px,#08081c 125px,#151548 131px,#2e268c 137px,#4d26bf 142px,#913286 146px,#fd4028 150px,#e77b03 153px,#e6bd19 156px,#e7e789 159px,#fbfbe9 161px,#ffffff 162px,#ffffff 215px,#f5f5cb 217px,#e6da60 221px,#e6c11f 224px,#e68502 229px,#fd4523 235px,#e93d3a 237px,#903187 244px,#4d26bf 253px,#21216e 273px,#101036 289px,#050511 314px,#020208 332px)"></i><i style="height:1px;background:linear-gradient(90deg,#000002 0px,#020208 92px,#010103 116px,#08081c 125px,#161648 131px,#2e268c 137px,#4f27bd 142px,#943284 146px,#fe4225 150px,#e68000 153px,#e6c220 156px,#eaea98 159px,#fefefa 161px,#ffffff 174px,#ffffff 215px,#e6e071 220px,#e6bf19 224px,#e68100 229px,#ff4126 235px,#943283 243px,#4f27bd 252px,#232374 271px,#111139 287px,#060613 311px,#020207 332px)"></i><i style="height:1px;background:linear-gradient(90deg,#000002 0px,#020208 92px,#010104 117px,#0a0a21 126px,#191953 132px,#2e268d 137px,#5127bc 142px,#963382 146px,#ea3d39 149px,#fc4622 150px,#e68502 153px,#e6b214 155px,#e6c52a 156px,#e6e378 158px,#f7f7d9 160px,#ffffff 161px,#fffffe 215px,#e6e684 219px,#e6c528 223px,#e6bb18 224px,#e77c02 229px,#fc4622 234px,#fa3f2b 235px,#993380 242px,#4c26be 252px,#20206b 272px,#101034 288px,#050510 313px,#020207 332px)"></i><i style="height:1px;background:linear-gradient(90deg,#000001 0px,#020207 93px,#010104 117px,#0a0a21 126px,#191953 132px,#2f268e 137px,#4826b8 141px,#5227ba 142px,#99337f 146px,#f03e34 149px,#fb4a20 150px,#ea7407 152px,#e68a04 153px,#e6b817 155px,#e6d85c 157px,#f1f1b7 159px,#fbfbea 160px,#ffffff 161px,#ffffff 214px,#fefef9 215px,#e6e57d 219px,#e6c222 223px,#e69007 227px,#e87804 229px,#fe4225 234px,#943284 242px,#4e27be 251px,#20206c 271px,#101034 287px,#050511 311px,#020206 332px)"></i><i style="height:1px;background:linear-gradient(90deg,#000001 0px,#020207 93px,#010104 117px,#08081c 125px,#161649 131px,#2f268e 137px,#4926b9 141px,#5428b9 142px,#9d347c 146px,#f53f2f 149px,#f94e1e 150px,#e87804 152px,#e6a60f 154px,#e6be19 155px,#eaea94 158px,#fefefb 160px,#ffffff 214px,#fdfdf3 215px,#e6e378 219px,#e6c01b 223px,#e68000 228px,#fc3f29 234px,#993380 241px,#5127bc 250px,#4226ae 254px,#1f1f68 271px,#0f0f32 287px,#05050f 312px,#020206 332px)"></i><i style="height:1px;background:linear-gradient(90deg,#000001 0px,#020207 94px,#010104 117px,#08081c 125px,#161649 131px,#2f268f 137px,#4926ba 141px,#5628b7 142px,#a13478 146px,#fb3f2a 149px,#e67d01 152px,#e6ac12 154px,#e6c222 155px,#e6e172 157px,#f7f7d8 159px,#ffffff 160px,#ffffff 214px,#fcfcee 215px,#e6e072 219px,#e6bc18 223px,#e77c02 228px,#fd4424 233px,#d63b4a 236px,#943284 241px,#4d26bf 250px,#21216e 269px,#101037 284px,#060612 307px,#020205 332px)"></i><i style="height:1px;background:linear-gradient(90deg,#000001 0px,#020206 94px,#010104 117px,#08081c 125px,#16164a 131px,#2b2687 136px,#4a26bb 141px,#692ba8 143px,#a53575 146px,#ff4126 149px,#e68201 152px,#e6b214 154px,#e6c62c 155px,#e6e57e 157px,#fbfbe9 159px,#ffffff 160px,#ffffff 214px,#f4f4c7 216px,#e6de6c 219px,#e6c425 222px,#e6ab11 224px,#e68402 227px,#ff4027 233px,#993380 240px,#4f27bd 249px,#232374 267px,#11113a 282px,#060614 304px,#020205 332px)"></i><i style="height:1px;background:linear-gradient(90deg,#000001 0px,#020206 95px,#010104 117px,#08081c 125px,#16164a 131px,#2b2687 136px,#4b26bd 141px,#7d2e97 144px,#aa3571 146px,#fd4424 149px,#e68703 152px,#e6b816 154px,#e6ca36 155px,#e8e88d 157px,#fefefa 159px,#ffffff 214px,#e6e57f 218px,#e6c11e 222px,#e67f00 227px,#fd4523 232px,#f83f2d 233px,#943284 240px,#4c26be 249px,#20206b 268px,#101035 283px,#050511 306px,#010105 332px)"></i><i style="height:1px;background:linear-gradient(90deg,#000001 0px,#020206 95px,#010104 117px,#08081c 125px,#16164a 131px,#2b2688 136px,#4c26be 141px,#933284 145px,#eb3d38 148px,#fc4821 149px,#ea7407 151px,#e68c05 152px,#e6be19 154px,#e6de6b 156px,#f6f6d4 158px,#ffffff 159px,#fffffd 214px,#e6e379 218px,#e6be19 222px,#e77b03 227px,#fe4125 232px,#983380 239px,#4e26be 248px,#20206c 267px,#101035 282px,#050511 305px,#010104 332px)"></i><i style="height:1px;background:linear-gradient(90deg,#000001 0px,#020205 96px,#010104 117px,#08081c 125px,#16164b 131px,#2b2688 136px,#4c26bf 141px,#963382 145px,#f13e33 148px,#fa4c1f 149px,#e87904 151px,#e6aa11 153px,#e6c221 154px,#e6e277 156px,#fafae5 158px,#ffffff 159px,#ffffff 213px,#fdfdf7 214px,#e6e173 218px,#e6c528 221px,#e6ba17 222px,#e68301 226px,#fc4722 231px,#fa3f2b 232px,#943284 239px,#5127bc 247px,#4226ad 251px,#1f1f68 267px,#0f0f32 282px,#05050f 306px,#010104 332px)"></i><i style="height:1px;background:linear-gradient(90deg,#000001 0px,#010105 97px,#010104 117px,#08081c 125px,#16164b 131px,#2c2689 136px,#4e26be 141px,#993380 145px,#f63f2e 148px,#f9501d 149px,#e67e01 151px,#e6b013 153px,#e6c62b 154px,#e6e684 156px,#fdfdf7 158px,#ffffff 160px,#ffffff 213px,#fcfcf0 214px,#e6de6c 218px,#e6c221 221px,#e68b05 225px,#e67e01 226px,#fe4325 231px,#983380 238px,#4c26bf 247px,#282682 261px,#131340 276px,#070718 296px,#010104 332px)"></i><i style="height:1px;background:linear-gradient(90deg,#000001 0px,#010105 97px,#020205 118px,#0a0a21 126px,#1a1a57 132px,#2c2689 136px,#5027bd 141px,#9d337c 145px,#fc3f29 148px,#e68301 151px,#e6b616 153px,#e6ca36 154px,#eaea94 156px,#ffffff 158px,#ffffff 213px,#fbfbe9 214px,#e6e680 217px,#e6bf1a 221px,#e68603 225px,#f7541a 229px,#fc3f29 231px,#933284 238px,#4f27bd 246px,#232374 263px,#12123b 277px,#060614 298px,#010103 332px)"></i><i style="height:1px;background:linear-gradient(90deg,#000001 0px,#010104 98px,#020205 118px,#0a0a21 126px,#1a1a57 132px,#2c268a 136px,#5127bb 141px,#a13479 145px,#fe4125 148px,#e68803 151px,#e6bc18 153px,#e6df6e 155px,#f9f9df 157px,#ffffff 158px,#ffffff 213px,#e6e379 217px,#e6c62b 220px,#e6bb18 221px,#e68201 225px,#fd4424 230px,#e43c3e 232px,#8e3189 238px,#4c26be 246px,#20206b 264px,#0f0f33 279px,#050510 302px,#010103 332px)"></i><i style="height:1px;background:linear-gradient(90deg,#000001 0px,#010104 98px,#020205 118px,#0a0a21 126px,#1a1a57 132px,#2d268a 136px,#4726b7 140px,#5327ba 141px,#a43476 145px,#fd4523 148px,#ea7407 150px,#e68d05 151px,#e6c11f 153px,#e6e37a 155px,#fcfcf1 157px,#ffffff 158px,#ffffff 213px,#e6e172 217px,#e6c324 220px,#e6a710 222px,#e77d02 225px,#ff4027 230px,#933285 237px,#4e26be 245px,#20206c 263px,#101035 277px,#050511 299px,#010103 332px)"></i><i style="height:1px;background:linear-gradient(90deg,#000001 0px,#010104 99px,#020205 118px,#0a0a21 126px,#1a1a58 132px,#2d268b 136px,#4826b8 140px,#5428b9 141px,#8e3188 144px,#e93d39 147px,#fc4821 148px,#e87804 150px,#e6ad12 152px,#e6c529 153px,#e7e788 155px,#ffffff 157px,#ffffff 212px,#fefef8 213px,#e7e789 216px,#e6c01c 220px,#e68502 224px,#fc4622 229px,#f73f2d 230px,#983380 236px,#5127bc 244px,#3e26a7 249px,#1f1f67 263px,#0f0f33 277px,#050510 299px,#010103 332px)"></i><i style="height:1px;background:linear-gradient(90deg,#000001 0px,#010104 99px,#020205 118px,#0a0a21 126px,#1a1a58 132px,#2d268b 136px,#4926b9 140px,#5628b8 141px,#913286 144px,#ef3e35 147px,#fa4c1f 148px,#e67d01 150px,#e6b315 152px,#e6c933 153px,#eaea98 155px,#f7f7d6 156px,#ffffff 157px,#ffffff 212px,#fcfcf0 213px,#e6e680 216px,#e6bc18 220px,#e68000 224px,#fe4125 229px,#933285 236px,#4c26bf 244px,#282683 257px,#13133f 272px,#070717 291px,#010103 330px,#010103 332px)"></i><i style="height:1px;background:linear-gradient(90deg,#000001 0px,#010103 100px,#020205 118px,#0a0a21 126px,#1a1a58 132px,#2e268c 136px,#4926ba 140px,#5728b6 141px,#933284 144px,#f43e30 147px,#f9501d 148px,#e68201 150px,#e6b917 152px,#e6df6e 154px,#fafae7 156px,#ffffff 157px,#ffffff 212px,#fafae8 213px,#e6e379 216px,#e6c426 219px,#e5a710 221px,#e77b03 224px,#fc4821 228px,#f93f2b 229px,#983381 235px,#4f27bd 243px,#232375 259px,#12123c 272px,#060615 292px,#010102 332px)"></i><i style="height:1px;background:linear-gradient(90deg,#000001 0px,#010103 101px,#020207 119px,#0a0a21 126px,#17174c 131px,#2e268c 136px,#4a26bb 140px,#6c2ba5 142px,#963382 144px,#f93f2b 147px,#ed6d0b 149px,#e68703 150px,#e6bf19 152px,#e6e37a 154px,#fefefa 156px,#ffffff 167px,#ffffff 212px,#e6e071 216px,#e6c11e 219px,#e68402 223px,#fe4324 228px,#923285 235px,#4b26be 243px,#20206a 260px,#0f0f33 274px,#050511 295px,#010102 332px)"></i><i style="height:1px;background:linear-gradient(90deg,#000000 0px,#010103 101px,#020207 119px,#0a0a21 126px,#17174d 131px,#2e268d 136px,#4b26bc 140px,#6e2ca4 142px,#993380 144px,#ff4026 147px,#eb7109 149px,#e68c05 150px,#e6c323 152px,#e7e788 154px,#f4f4c9 155px,#ffffff 156px,#ffffff 212px,#e7e789 215px,#e6bd19 219px,#e67f00 223px,#fb3f29 228px,#983381 234px,#4d26bf 242px,#20206b 259px,#0f0f33 273px,#050510 294px,#010102 332px)"></i><i style="height:1px;background:linear-gradient(90deg,#000000 0px,#010102 102px,#020207 119px,#0a0a21 126px,#17174d 131px,#2e268d 136px,#4b26bd 140px,#853090 143px,#bd3760 145px,#fe4324 147px,#e97606 149px,#e69107 150px,#e6ae12 151px,#e6c72d 152px,#eaea98 154px,#f8f8db 155px,#ffffff 156px,#ffffff 211px,#fdfdf6 212px,#e6e57f 215px,#e6c528 218px,#e6b716 219px,#e87a04 223px,#fd4424 227px,#e13c41 229px,#923285 234px,#5027bc 241px,#242479 256px,#12123c 269px,#060615 288px,#010102 328px,#010102 332px)"></i><i style="height:1px;background:linear-gradient(90deg,#000000 0px,#010102 103px,#020207 119px,#0a0a21 126px,#17174d 131px,#2f268d 136px,#4c26be 140px,#a0347a 144px,#e43c3e 146px,#fc4722 147px,#e87a03 149px,#e6b415 151px,#e5cb38 152px,#eeeea8 154px,#fbfbec 155px,#ffffff 156px,#ffffff 211px,#fbfbed 212px,#e6e277 215px,#e6c220 218px,#e68301 222px,#fe4027 227px,#973381 233px,#4c26bf 241px,#21216e 257px,#101036 270px,#050512 290px,#000002 332px)"></i><i style="height:1px;background:linear-gradient(90deg,#000000 0px,#010102 103px,#020207 119px,#0a0a21 126px,#17174d 131px,#2f268e 136px,#4d26bf 140px,#a33477 144px,#e93d39 146px,#fb4a20 147px,#e67f00 149px,#e6ba17 151px,#e6e277 153px,#ffffff 155px,#ffffff 211px,#f9f9e3 212px,#e6df6e 215px,#e6be19 218px,#e67d01 222px,#fc4622 226px,#f53f2f 227px,#913286 233px,#4f27bd 240px,#232375 255px,#12123d 267px,#070716 285px,#010103 322px,#000001 332px)"></i><i style="height:1px;background:linear-gradient(90deg,#000000 0px,#000001 104px,#020206 119px,#0a0a21 126px,#17174d 131px,#2f268e 136px,#4e26be 140px,#8b318b 143px,#c93955 145px,#ee3e35 146px,#f94e1e 147px,#e68402 149px,#e6bf1a 151px,#e6e684 153px,#f4f4ca 154px,#ffffff 155px,#ffffff 211px,#e7e787 214px,#e6c52a 217px,#e6b817 218px,#e68703 221px,#ff4126 226px,#973381 232px,#5227bb 239px,#4726b7 241px,#20206a 256px,#101034 269px,#050511 289px,#000001 332px)"></i><i style="height:1px;background:linear-gradient(90deg,#000000 0px,#000001 105px,#030309 120px,#0c0c27 127px,#1b1b5a 132px,#362699 137px,#4f27bd 140px,#8e3189 143px,#ce3a52 145px,#f33e31 146px,#f8511c 147px,#e68804 149px,#e6c324 151px,#eaea94 153px,#f8f8db 154px,#ffffff 155px,#fefefb 211px,#e6e47d 214px,#e6c221 217px,#e68101 221px,#fc4821 225px,#f73f2d 226px,#913286 232px,#4d26bf 239px,#20206b 255px,#101034 268px,#050510 288px,#000001 332px)"></i><i style="height:1px;background:linear-gradient(90deg,#000000 0px,#000001 106px,#030308 120px,#0c0c27 127px,#1b1b5a 132px,#36269a 137px,#5027bc 140px,#903187 143px,#f83f2c 146px,#ec7009 148px,#e68d06 149px,#e6ac12 150px,#e6c72e 151px,#ededa4 153px,#fbfbed 154px,#ffffff 155px,#ffffff 210px,#fcfcf1 211px,#e6e174 214px,#e6be19 217px,#e77b03 221px,#fe4225 225px,#963382 231px,#5027bc 238px,#242479 252px,#12123e 264px,#070716 282px,#010102 319px,#000001 332px)"></i><i style="height:1px;background:linear-gradient(90deg,#000000 0px,#000000 107px,#030308 120px,#0c0c27 127px,#1b1b5a 132px,#36269a 137px,#5227bb 140px,#923285 143px,#fd4028 146px,#ea7506 148px,#e69208 149px,#e6b214 150px,#e6cb39 151px,#e6e070 152px,#ffffff 154px,#ffffff 210px,#fafae6 211px,#e9e98f 213px,#e6c62c 216px,#e6b817 217px,#e68502 220px,#fb4a20 224px,#fa3f2b 225px,#9d347c 230px,#5427b9 237px,#4c26be 238px,#21216e 253px,#111137 265px,#050512 284px,#000001 327px,#000001 332px)"></i><i style="height:1px;background:linear-gradient(90deg,#000000 0px,#010105 118px,#0a0a20 126px,#17174d 131px,#302690 136px,#4726b5 139px,#5327ba 140px,#953283 143px,#fe4225 146px,#e87904 148px,#e6b816 150px,#e5cf43 151px,#e6e47c 152px,#f3f3c5 153px,#ffffff 154px,#ffffff 210px,#efefae 212px,#e6da61 214px,#e6c222 216px,#e68f06 219px,#e67f01 220px,#fd4424 224px,#963282 230px,#4e27be 237px,#21216f 252px,#111137 264px,#060613 282px,#000002 323px,#000001 332px)"></i><i style="height:1px;background:linear-gradient(90deg,#000000 0px,#010104 118px,#0a0a20 126px,#17174d 131px,#302690 136px,#4726b6 139px,#5428b9 140px,#973381 143px,#fd4523 146px,#e67e01 148px,#e6bd19 150px,#e8e88a 152px,#f7f7d6 153px,#ffffff 154px,#fffffe 210px,#e6e379 213px,#e6be19 216px,#e68904 219px,#ef690e 221px,#fc3f29 224px,#9d337c 229px,#5227bb 236px,#4726b6 238px,#20206a 252px,#101034 264px,#050511 283px,#000001 328px,#000001 332px)"></i><i style="height:1px;background:linear-gradient(90deg,#000000 0px,#010104 118px,#0a0a20 126px,#17174d 131px,#302690 136px,#4726b7 139px,#5528b8 140px,#99337f 143px,#e33c3e 145px,#fc4821 146px,#e68201 148px,#e6c220 150px,#ebeb9a 152px,#fafae8 153px,#ffffff 154px,#ffffff 209px,#fdfdf3 210px,#e6df6f 213px,#e6c62d 215px,#e6b817 216px,#e68201 219px,#fd4523 223px,#dd3c44 225px,#953283 229px,#4c26bf 236px,#292683 247px,#13133f 260px,#070716 277px,#010103 311px,#000001 332px)"></i><i style="height:1px;background:linear-gradient(90deg,#000000 0px,#010104 118px,#0a0a20 126px,#17174d 131px,#302690 136px,#4826b8 139px,#5628b7 140px,#9c337d 143px,#e83d3b 145px,#fa4c1f 146px,#e68703 148px,#e6a710 149px,#e6c52a 150px,#e6db64 151px,#eeeeaa 152px,#fefefa 153px,#ffffff 168px,#ffffff 209px,#fafae7 210px,#e8e88a 212px,#e6c322 215px,#e68d05 218px,#e77c02 219px,#fe4027 223px,#9c337d 228px,#5027bd 235px,#25257a 248px,#13133f 259px,#070718 275px,#010103 307px,#000001 332px)"></i><i style="height:1px;background:linear-gradient(90deg,#000000 0px,#010104 118px,#090920 126px,#17174d 131px,#312691 136px,#4826b8 139px,#5728b6 140px,#9f347a 143px,#ec3d37 145px,#f94f1d 146px,#ed6c0c 147px,#e68b05 148px,#e6ad12 149px,#e6c934 150px,#e6e070 151px,#ffffff 153px,#ffffff 209px,#f8f8da 210px,#e6e57d 212px,#e6be19 215px,#e68603 218px,#fc4722 222px,#f43e30 223px,#953283 228px,#4b26bd 235px,#21216e 249px,#101035 261px,#050511 279px,#000001 322px,#000001 332px)"></i><i style="height:1px;background:linear-gradient(90deg,#000000 0px,#010104 118px,#09091f 126px,#17174c 131px,#312691 136px,#4926b9 139px,#5928b5 140px,#a23477 143px,#f13e33 145px,#f8521b 146px,#ec7009 147px,#e69007 148px,#e6b214 149px,#e6cd3e 150px,#e6e47b 151px,#f5f5cb 152px,#ffffff 153px,#ffffff 209px,#e6e173 212px,#e6c72d 214px,#e6b716 215px,#e67f00 218px,#ff4026 222px,#9b337d 227px,#4e26be 234px,#21216f 248px,#111138 259px,#060613 276px,#000002 314px,#000000 332px)"></i><i style="height:1px;background:linear-gradient(90deg,#000000 0px,#010104 118px,#09091f 126px,#17174c 131px,#312691 136px,#4926ba 139px,#5a28b4 140px,#a53575 143px,#f53f2f 145px,#f65619 146px,#ea7407 147px,#e69509 148px,#e6b816 149px,#e6d149 150px,#e7e789 151px,#f8f8dc 152px,#ffffff 153px,#ffffff 208px,#fdfdf3 209px,#e9e990 211px,#e6c222 214px,#e68a04 217px,#e87904 218px,#fc4821 221px,#f63f2e 222px,#943284 227px,#5127bb 233px,#4226ae 236px,#20206a 248px,#101035 259px,#050512 276px,#000001 316px,#000000 332px)"></i><i style="height:1px;background:linear-gradient(90deg,#000000 0px,#010104 118px,#09091f 126px,#17174c 131px,#312691 136px,#4926ba 139px,#5b29b3 140px,#a83572 143px,#fa3f2b 145px,#e87804 147px,#e6bd19 149px,#e6d553 150px,#eaea98 151px,#fbfbed 152px,#ffffff 153px,#ffffff 208px,#fafae5 209px,#e6e682 211px,#e6bd19 214px,#e68301 217px,#fe4225 221px,#9b337e 226px,#4c26be 233px,#20206b 247px,#101035 258px,#050512 275px,#000001 315px,#000000 332px)"></i><i style="height:1px;background:linear-gradient(90deg,#000000 0px,#010104 118px,#09091e 126px,#17174c 131px,#312691 136px,#4a26bb 139px,#5c29b3 140px,#8b318b 142px,#d33a4d 144px,#fe4027 145px,#e77c02 147px,#e6c220 149px,#e6d95e 150px,#eeeea8 151px,#ffffff 152px,#ffffff 208px,#f7f7d7 209px,#e6e276 211px,#e6c72d 213px,#e6b616 214px,#e77c02 217px,#fb4a20 220px,#f83f2d 221px,#933284 226px,#4f27bd 232px,#232373 245px,#111139 256px,#060614 272px,#010102 307px,#000000 332px)"></i><i style="height:1px;background:linear-gradient(90deg,#000000 0px,#010104 118px,#09091e 126px,#17174b 131px,#312691 136px,#4a26bb 139px,#732d9f 141px,#ae366d 143px,#fe4225 145px,#e68100 147px,#e6a30e 148px,#e6c529 149px,#e6dd69 150px,#ffffff 152px,#fffffe 208px,#eaea96 210px,#e6c221 213px,#e68703 216px,#fe4324 220px,#9a337f 225px,#5327ba 231px,#4626b5 233px,#21216d 245px,#101036 256px,#050511 273px,#000001 313px,#000000 332px)"></i><i style="height:1px;background:linear-gradient(90deg,#000000 0px,#020205 119px,#09091e 126px,#16164b 131px,#312691 136px,#4a26bc 139px,#752d9e 141px,#b1366b 143px,#fd4523 145px,#e68502 147px,#e6a810 148px,#e6c932 149px,#e6e174 150px,#f4f4c8 151px,#ffffff 152px,#ffffff 207px,#fcfcf0 208px,#e7e787 210px,#e6bc18 213px,#e68000 216px,#fa4c1f 219px,#f93f2b 220px,#923285 225px,#4d26bf 231px,#21216f 244px,#101036 255px,#050512 271px,#000001 308px,#000000 332px)"></i><i style="height:1px;background:linear-gradient(90deg,#000000 0px,#020205 119px,#09091d 126px,#16164a 131px,#312691 136px,#4b26bc 139px,#762d9d 141px,#b33668 143px,#de3c44 144px,#fc4822 145px,#e68904 147px,#e5ad12 148px,#e6cc3c 149px,#e6e57f 150px,#f7f7d8 151px,#ffffff 152px,#ffffff 207px,#f9f9e1 208px,#e6e379 210px,#e6c62c 212px,#e6b515 213px,#e68b05 215px,#e87804 216px,#fd4523 219px,#d73b49 221px,#993380 224px,#5027bc 230px,#262680 241px,#141442 251px,#08081a 265px,#010104 293px,#000000 332px)"></i><i style="height:1px;background:linear-gradient(90deg,#000000 0px,#020205 119px,#09091d 126px,#16164a 131px,#312691 136px,#4b26bd 139px,#772d9c 141px,#923286 142px,#e13c40 144px,#fb4a20 145px,#ee6a0d 146px,#e68d05 147px,#e6b214 148px,#e5d045 149px,#e8e88d 150px,#fbfbe9 151px,#ffffff 152px,#ffffff 207px,#e6de6c 210px,#e6c11f 212px,#e68302 215px,#fb3f2a 219px,#a23478 223px,#5428b9 229px,#4b26bd 230px,#20206a 243px,#101036 253px,#050512 269px,#000001 306px,#000000 332px)"></i><i style="height:1px;background:linear-gradient(90deg,#000000 0px,#020205 119px,#09091d 126px,#161649 131px,#312691 136px,#4b26bd 139px,#933284 142px,#e43c3d 144px,#fa4d1e 145px,#ed6e0b 146px,#e69107 147px,#e6b816 148px,#e6d34f 149px,#ebeb9c 150px,#fefefa 151px,#ffffff 167px,#fefefa 207px,#e8e88b 209px,#e6cb38 211px,#e6bb18 212px,#e77c02 215px,#fd4623 218px,#ef3e34 219px,#983381 223px,#4e26be 229px,#232373 241px,#11113a 251px,#060614 266px,#010102 298px,#000000 332px)"></i><i style="height:1px;background:linear-gradient(90deg,#000000 0px,#010105 119px,#09091c 126px,#161649 131px,#312691 136px,#4b26bd 139px,#943283 142px,#e83d3a 144px,#f9501d 145px,#eb7109 146px,#e59509 147px,#e6bd18 148px,#e6d759 149px,#ffffff 151px,#ffffff 206px,#fbfbea 207px,#e6e47b 209px,#e6c62a 211px,#e6b214 212px,#e68703 214px,#f94f1d 217px,#fd3f28 218px,#a13479 222px,#5227bb 228px,#4526b3 230px,#21216d 241px,#101036 251px,#060613 266px,#000002 300px,#000000 332px)"></i><i style="height:1px;background:linear-gradient(90deg,#000000 0px,#010105 119px,#08081c 126px,#161648 131px,#312691 136px,#4c26be 139px,#963282 142px,#eb3d38 144px,#f8521b 145px,#ea7507 146px,#e59a0a 147px,#e6c11e 148px,#e6db63 149px,#f1f1b9 150px,#ffffff 151px,#ffffff 206px,#f7f7d9 207px,#e6df6d 209px,#e6c01d 211px,#e67f00 214px,#fc4722 217px,#f13e33 218px,#973382 222px,#4c26be 228px,#292684 237px,#13133f 248px,#070717 262px,#010103 290px,#000000 332px)"></i><i style="height:1px;background:linear-gradient(90deg,#000000 0px,#010105 119px,#08081c 126px,#151548 131px,#312691 136px,#4c26be 139px,#973381 142px,#ee3e35 144px,#f65519 145px,#e97805 146px,#e69e0c 147px,#e6c426 148px,#e6df6d 149px,#f4f4c8 150px,#ffffff 151px,#ffffff 206px,#e8e88e 208px,#e6ca36 210px,#e6b817 211px,#e68b05 213px,#e97705 214px,#fe4027 217px,#9f347a 221px,#4f27bd 227px,#242478 238px,#13133f 247px,#070717 261px,#010103 289px,#000000 332px)"></i><i style="height:1px;background:linear-gradient(90deg,#000000 0px,#010105 119px,#08081b 126px,#151547 131px,#312691 136px,#4c26be 139px,#983380 142px,#f23e32 144px,#f55818 145px,#e77b03 146px,#e6a20e 147px,#e6c72e 148px,#e6e277 149px,#f7f7d7 150px,#ffffff 151px,#ffffff 205px,#fcfcf2 206px,#e6e47c 208px,#e6c427 210px,#e6af13 211px,#e68301 213px,#fb4921 216px,#f23e32 217px,#953283 221px,#5327ba 226px,#4b26bc 227px,#20206a 239px,#0f0f33 249px,#050511 264px,#000001 301px,#000000 332px)"></i><i style="height:1px;background:linear-gradient(90deg,#000000 0px,#010104 119px,#08081b 126px,#151546 131px,#302690 136px,#4c26be 139px,#9a337f 142px,#f53e2f 144px,#f45a16 145px,#e67f01 146px,#e5a60f 147px,#e6ca37 148px,#e6e682 149px,#fafae7 150px,#ffffff 151px,#ffffff 205px,#f9f9df 206px,#e6df6d 208px,#e6bf19 210px,#e87a03 213px,#ff4026 216px,#9e347b 220px,#4c26bf 226px,#20206b 238px,#0f0f33 248px,#050511 263px,#000001 300px,#000000 332px)"></i><i style="height:1px;background:linear-gradient(90deg,#000000 0px,#010104 119px,#08081a 126px,#151545 131px,#302690 136px,#4c26be 139px,#9b337e 142px,#f83f2d 144px,#e68201 146px,#e6aa11 147px,#e6cd3f 148px,#e9e98f 149px,#fdfdf6 150px,#ffffff 152px,#ffffff 205px,#f5f5cc 206px,#e9e98f 207px,#e6c933 209px,#e6b515 210px,#e68603 212px,#fb4a20 215px,#f33e31 216px,#943284 220px,#5027bc 225px,#26267e 235px,#131340 244px,#070718 257px,#010103 283px,#000000 332px)"></i><i style="height:1px;background:linear-gradient(90deg,#000000 0px,#010104 119px,#08081a 126px,#151545 131px,#302690 136px,#4c26be 139px,#9c337d 142px,#fa3f2a 144px,#e68502 146px,#e6af13 147px,#e6d047 148px,#ebeb9c 149px,#ffffff 150px,#ffffff 204px,#fefef9 205px,#e6e47c 207px,#e6c323 209px,#e59408 211px,#e67d01 212px,#fe4125 215px,#9c337d 219px,#5528b8 224px,#4b26bd 225px,#21216e 236px,#111138 245px,#060613 259px,#000002 290px,#000000 332px)"></i><i style="height:1px;background:linear-gradient(90deg,#000000 0px,#010104 119px,#080819 126px,#141444 131px,#30268f 136px,#4c26be 139px,#9d347c 142px,#fd4028 144px,#e68803 146px,#e6b314 147px,#e6d450 148px,#ffffff 150px,#ffffff 204px,#fafae5 205px,#e6de6c 207px,#e6bb18 209px,#e68a04 211px,#f35f14 213px,#fa4b1f 214px,#f43e30 215px,#923285 219px,#4d26be 224px,#222270 235px,#111138 244px,#060613 258px,#000002 289px,#000000 332px)"></i><i style="height:1px;background:linear-gradient(90deg,#000000 0px,#020205 120px,#09091e 127px,#181850 132px,#2f268f 136px,#4c26be 139px,#7e2f96 141px,#9e347b 142px,#ff4026 144px,#e68b05 146px,#e6b716 147px,#e5d758 148px,#f0f0b6 149px,#ffffff 150px,#ffffff 204px,#f6f6d0 205px,#e9e990 206px,#e6c72e 208px,#e6b114 209px,#e68000 211px,#fe4225 214px,#9a337f 218px,#5227bb 223px,#4426b1 225px,#1f1f69 235px,#101034 244px,#050511 258px,#000001 292px,#000000 332px)"></i><i style="height:1px;background:linear-gradient(90deg,#000000 0px,#020205 120px,#09091e 127px,#18184f 132px,#2f268e 136px,#4b26be 139px,#7e2f96 141px,#9f347a 142px,#fe4225 144px,#f0660f 145px,#e68e06 146px,#e6bb18 147px,#e6da60 148px,#f3f3c3 149px,#ffffff 150px,#ffffff 204px,#e6e47b 206px,#e6c11d 208px,#e68e06 210px,#e97605 211px,#fa4c1f 213px,#f43e30 214px,#a43476 217px,#5628b7 222px,#4b26bd 223px,#20206a 234px,#101034 243px,#050511 257px,#000001 291px,#000000 332px)"></i><i style="height:1px;background:linear-gradient(90deg,#000000 0px,#020205 120px,#09091d 127px,#17174e 132px,#2f268e 136px,#4b26bd 139px,#7f2f96 141px,#a0347a 142px,#fe4324 144px,#ef680e 145px,#e69107 146px,#e6bf19 147px,#e6dd68 148px,#f6f6d0 149px,#ffffff 150px,#ffffff 203px,#fbfbe9 204px,#e6dd6a 206px,#e6cb39 207px,#e6b716 208px,#e68402 210px,#fe4324 213px,#983381 217px,#4e27be 222px,#232375 232px,#12123d 240px,#070717 252px,#010103 277px,#000000 332px)"></i><i style="height:1px;background:linear-gradient(90deg,#000000 0px,#010105 120px,#09091c 127px,#17174d 132px,#2e268d 136px,#4b26bd 139px,#7e2f96 141px,#a03479 142px,#fd4424 144px,#ee6a0d 145px,#e69408 146px,#e6c11f 147px,#e6e070 148px,#f8f8dd 149px,#ffffff 150px,#ffffff 203px,#f6f6d2 204px,#e8e88e 205px,#e6c528 207px,#e6ac12 208px,#e87904 210px,#fa4d1e 212px,#f53e2f 213px,#a23478 216px,#5327ba 221px,#4426b1 223px,#21216e 232px,#111139 240px,#060613 253px,#000002 282px,#000000 332px)"></i><i style="height:1px;background:linear-gradient(90deg,#000000 0px,#010105 120px,#08081c 127px,#17174b 132px,#2e268c 136px,#4b26bc 139px,#7e2f96 141px,#a13479 142px,#fd4523 144px,#ed6c0c 145px,#e69709 146px,#e6c324 147px,#e6e378 148px,#fbfbea 149px,#ffffff 150px,#ffffff 203px,#e6e378 205px,#e6bd19 207px,#e68703 209px,#fe4324 212px,#963282 216px,#4c26be 221px,#21216f 231px,#111139 239px,#060615 251px,#010102 277px,#000000 332px)"></i><i style="height:1px;background:linear-gradient(90deg,#000000 0px,#010105 120px,#08081b 127px,#16164a 132px,#2d268b 136px,#4a26bb 139px,#612aae 140px,#a13479 142px,#fc4622 144px,#ed6e0b 145px,#e6990a 146px,#e6c62a 147px,#e6e680 148px,#fdfdf6 149px,#ffffff 151px,#ffffff 202px,#fbfbeb 203px,#ededa3 204px,#e6dc65 205px,#e6c932 206px,#e6b114 207px,#e77c02 209px,#f94e1e 211px,#f53e2f 212px,#a0347a 215px,#4f27bd 220px,#25257b 229px,#13133e 237px,#070716 249px,#010103 273px,#000000 332px)"></i><i style="height:1px;background:linear-gradient(90deg,#000000 0px,#010104 120px,#08081a 127px,#161649 132px,#2d268a 136px,#4a26bb 139px,#602aaf 140px,#a03479 142px,#fc4722 144px,#ec6f0a 145px,#e69c0b 146px,#e6c830 147px,#e8e88a 148px,#ffffff 149px,#ffffff 202px,#f6f6d2 203px,#e8e88a 204px,#e6c11f 206px,#e68a04 208px,#f55917 210px,#fd4424 211px,#933284 215px,#5428b9 219px,#4a26bb 220px,#202069 230px,#101035 238px,#050511 251px,#000001 282px,#000000 332px)"></i><i style="height:1px;background:linear-gradient(90deg,#000000 0px,#010104 120px,#08081a 127px,#151547 132px,#2c2689 136px,#4926ba 139px,#6029af 140px,#a03479 142px,#fc4821 144px,#ec7009 145px,#e69e0c 146px,#e6ca35 147px,#e9e993 148px,#ffffff 149px,#ffffff 202px,#e6e173 204px,#e6cd3e 205px,#e6b716 206px,#e67f00 208px,#f94f1d 210px,#f53e2f 211px,#9d337c 214px,#4c26be 219px,#2a2685 226px,#13133f 235px,#070718 246px,#010103 268px,#000000 332px)"></i><i style="height:1px;background:linear-gradient(90deg,#000000 0px,#020205 121px,#09091f 128px,#151546 132px,#2c2688 136px,#4926b9 139px,#5f29b0 140px,#9f347a 142px,#d33a4d 143px,#fb4921 144px,#eb7208 145px,#e6a00d 146px,#e6cc3a 147px,#ebeb9c 148px,#ffffff 149px,#ffffff 201px,#fbfbeb 202px,#ecec9e 203px,#e6d95f 204px,#e6c529 205px,#e6aa11 206px,#e68e06 207px,#ea7307 208px,#fd4424 210px,#913286 214px,#5027bc 218px,#272680 226px,#151545 233px,#08081c 243px,#010105 262px,#000000 332px)"></i><i style="height:1px;background:linear-gradient(90deg,#000000 0px,#020205 121px,#09091e 128px,#141444 132px,#332695 137px,#4826b8 139px,#5d29b1 140px,#9f347b 142px,#d33a4d 143px,#fb4921 144px,#eb7308 145px,#e6a20e 146px,#e6cd3f 147px,#ededa5 148px,#ffffff 149px,#ffffff 201px,#f6f6d0 202px,#e6e683 203px,#e6bc18 205px,#e68101 207px,#f94f1d 209px,#f43e30 210px,#99337f 213px,#5528b8 217px,#4a26bb 218px,#21216e 227px,#11113a 234px,#060615 245px,#010102 269px,#000000 332px)"></i><i style="height:1px;background:linear-gradient(90deg,#000000 0px,#010105 121px,#09091d 128px,#141442 132px,#332694 137px,#4726b7 139px,#5c29b2 140px,#9d347c 142px,#d23a4e 143px,#fb4921 144px,#ea7407 145px,#e6a40e 146px,#e6cf44 147px,#efefae 148px,#ffffff 149px,#ffffff 201px,#e6de6c 203px,#e6c934 204px,#e6af13 205px,#e69107 206px,#ea7506 207px,#fd4424 209px,#a53575 212px,#5a29b4 216px,#4c26bf 217px,#222270 226px,#12123a 233px,#060615 244px,#010102 268px,#000000 332px)"></i><i style="height:1px;background:linear-gradient(90deg,#000000 0px,#010105 121px,#08081c 128px,#131341 132px,#322693 137px,#4626b5 139px,#5a29b4 140px,#9c337d 142px,#d13a4e 143px,#fb4921 144px,#ea7407 145px,#e6a50f 146px,#e6d148 147px,#f0f0b6 148px,#ffffff 149px,#ffffff 200px,#fafae8 201px,#eaea96 202px,#e6c11e 204px,#e68402 206px,#f94f1d 208px,#f33e31 209px,#963382 212px,#5127bc 216px,#25257d 224px,#131340 231px,#070719 241px,#010104 261px,#000000 332px)"></i><i style="height:1px;background:linear-gradient(90deg,#000000 0px,#010104 121px,#08081b 128px,#13133f 132px,#312691 137px,#4626b4 139px,#5928b5 140px,#9a337e 142px,#fb4921 144px,#ea7507 145px,#e6a610 146px,#e6d24c 147px,#f2f2bd 148px,#ffffff 149px,#ffffff 200px,#f4f4ca 201px,#e6e37a 202px,#e6cd3e 203px,#e6b415 204px,#e97705 206px,#fe4324 208px,#a13478 211px,#5628b7 215px,#4a26bb 216px,#232374 224px,#12123b 231px,#070716 241px,#010103 262px,#000000 332px)"></i><i style="height:1px;background:linear-gradient(90deg,#000000 0px,#010104 121px,#08081a 128px,#12123d 132px,#302690 137px,#4526b2 139px,#5728b7 140px,#983380 142px,#fc4821 144px,#ea7507 145px,#e6a710 146px,#e6d34f 147px,#f3f3c4 148px,#ffffff 149px,#ffffff 200px,#eeeeab 201px,#e6da62 202px,#e6c427 203px,#e5a50f 204px,#e68603 205px,#f94f1d 207px,#f13e32 208px,#933285 211px,#4c26bf 215px,#2b2687 221px,#141441 229px,#070718 239px,#010103 259px,#000000 332px)"></i><i style="height:1px;background:linear-gradient(90deg,#000000 0px,#020205 122px,#09091f 129px,#161649 133px,#2f268e 137px,#4426b0 139px,#5528b8 140px,#973382 142px,#fc4722 144px,#ea7407 145px,#e6a810 146px,#e6d452 147px,#f5f5cb 148px,#ffffff 149px,#ffffff 199px,#f9f9e1 200px,#e8e88b 201px,#e6d149 202px,#e6b817 203px,#e87804 205px,#fe4324 207px,#9d337c 210px,#5127bb 214px,#282682 221px,#141442 228px,#08081a 237px,#010104 255px,#000000 332px)"></i><i style="height:1px;background:linear-gradient(90deg,#000000 0px,#020205 122px,#09091e 129px,#151546 133px,#2e268d 137px,#5327ba 140px,#943283 142px,#fc4622 144px,#ea7407 145px,#e5a810 146px,#e6d554 147px,#f6f6d1 148px,#ffffff 149px,#ffffff 199px,#f2f2c0 200px,#e6df6f 201px,#e6c830 202px,#e6a911 203px,#e68804 204px,#f94f1d 206px,#ef3e34 207px,#aa3571 209px,#682ba9 212px,#5728b7 213px,#4a26bb 214px,#21216e 222px,#101036 229px,#060613 239px,#010102 262px,#000000 332px)"></i><i style="height:1px;background:linear-gradient(90deg,#000000 0px,#010105 122px,#09091d 129px,#141444 133px,#2d268b 137px,#5027bc 140px,#923285 142px,#fd4523 144px,#ea7307 145px,#e6a810 146px,#e6d656 147px,#f7f7d6 148px,#ffffff 149px,#fefefa 199px,#ecec9e 200px,#e6d554 201px,#e6bd19 202px,#e87a03 204px,#fe4225 206px,#983380 209px,#4c26bf 213px,#222270 221px,#12123c 227px,#060615 237px,#010102 258px,#000000 332px)"></i><i style="height:1px;background:linear-gradient(90deg,#000000 0px,#010105 122px,#08081b 129px,#141442 133px,#2c2689 137px,#4d26be 140px,#903187 142px,#fe4324 144px,#eb7208 145px,#e6a810 146px,#e6d657 147px,#f8f8db 148px,#ffffff 149px,#ffffff 198px,#f7f7d6 199px,#e6e47c 200px,#e6cb39 201px,#e6ad12 202px,#e68a04 203px,#f94e1e 205px,#ed3d36 206px,#a53475 208px,#632aad 211px,#5127bb 212px,#26267e 219px,#141443 225px,#080819 234px,#010104 251px,#000000 332px)"></i><i style="height:1px;background:linear-gradient(90deg,#000000 0px,#010104 122px,#08081a 129px,#13133f 133px,#342696 138px,#4c26be 140px,#8d318a 142px,#c0385d 143px,#fe4125 144px,#eb7109 145px,#e5a710 146px,#e6d758 147px,#f8f8de 148px,#ffffff 149px,#ffffff 198px,#e6d95f 200px,#e6c11e 201px,#e77b03 203px,#ff4026 205px,#943284 208px,#5728b7 211px,#4926ba 212px,#232374 219px,#12123c 225px,#070717 234px,#010103 253px,#000000 332px)"></i><i style="height:1px;background:linear-gradient(90deg,#000000 0px,#020205 123px,#09091f 130px,#17174b 134px,#322694 138px,#4a26bb 140px,#662aaa 141px,#89308c 142px,#bc3761 143px,#fe4027 144px,#ec6f0a 145px,#e6a60f 146px,#e6d758 147px,#f9f9e1 148px,#ffffff 149px,#ffffff 197px,#fbfbed 198px,#e8e88c 199px,#e6cf42 200px,#e6b014 201px,#e68c05 202px,#ee6b0c 203px,#fa4d1e 204px,#e93d39 205px,#9f347a 207px,#5d29b2 210px,#4c26be 211px,#20206a 219px,#101036 225px,#050512 235px,#000001 258px,#000000 332px)"></i><i style="height:1px;background:linear-gradient(90deg,#000000 0px,#010105 123px,#09091e 130px,#161648 134px,#312692 138px,#4826b8 140px,#622aad 141px,#86308f 142px,#b83765 143px,#fa3f2b 144px,#ed6d0b 145px,#e6a50f 146px,#e6d657 147px,#f9f9e3 148px,#ffffff 149px,#ffffff 197px,#f3f3c5 198px,#e6de6a 199px,#e6c325 200px,#e69f0d 201px,#e77b03 202px,#fc3f28 204px,#ad366e 206px,#782d9b 208px,#5127bc 210px,#282683 216px,#141444 222px,#08081b 230px,#010105 245px,#000000 332px)"></i><i style="height:1px;background:linear-gradient(90deg,#000000 0px,#010105 123px,#08081c 130px,#151545 134px,#30268f 138px,#4726b5 140px,#5f29b0 141px,#822f93 142px,#b33669 143px,#f53e2f 144px,#ee6a0d 145px,#e6a30e 146px,#e6d655 147px,#f9f9e3 148px,#ffffff 149px,#ffffff 197px,#ebeb9d 198px,#e6d24b 199px,#e6b415 200px,#e68d05 201px,#ee6b0d 202px,#fa4b1f 203px,#e53c3d 204px,#983380 206px,#5728b7 209px,#4926b9 210px,#21216d 217px,#101036 223px,#060613 232px,#000002 253px,#000000 332px)"></i><i style="height:1px;background:linear-gradient(90deg,#000000 0px,#010104 123px,#08081b 130px,#141442 134px,#2e268d 138px,#4526b2 140px,#5b29b3 141px,#7e2e96 142px,#ad356e 143px,#ef3e34 144px,#ef670f 145px,#e6a00d 146px,#e6d553 147px,#f9f9e3 148px,#ffffff 149px,#ffffff 196px,#f8f8da 197px,#e6e276 198px,#e6c62b 199px,#e6a10d 200px,#e77b02 201px,#f83f2c 203px,#a63574 205px,#5d29b1 208px,#4c26be 209px,#21216f 216px,#101037 222px,#060613 231px,#000001 252px,#000000 332px)"></i><i style="height:1px;background:linear-gradient(90deg,#000000 0px,#020205 124px,#080819 130px,#13133f 134px,#2c268a 138px,#4326af 140px,#5628b7 141px,#792e9a 142px,#a73573 143px,#e93d39 144px,#f16311 145px,#e69d0c 146px,#e6d34f 147px,#f9f9e1 148px,#ffffff 149px,#ffffff 196px,#e6d554 198px,#e6b616 199px,#e68e06 200px,#ee6a0d 201px,#fb4921 202px,#df3c42 203px,#933285 205px,#5027bc 208px,#26267f 214px,#151546 219px,#09091e 226px,#020206 239px,#000000 332px)"></i><i style="height:1px;background:linear-gradient(90deg,#000000 0px,#010105 124px,#09091e 131px,#16164b 135px,#352698 139px,#5227bb 141px,#a03479 143px,#e23c3f 144px,#f25f13 145px,#e6990a 146px,#e6d24b 147px,#f8f8de 148px,#ffffff 149px,#ffffff 195px,#fcfcef 196px,#e6e681 197px,#e6c832 198px,#e6a20e 199px,#e77b03 200px,#f55818 201px,#f33e31 202px,#9f347b 204px,#5628b7 207px,#4826b8 208px,#232373 214px,#13133e 219px,#070717 227px,#010103 243px,#000000 332px)"></i><i style="height:1px;background:linear-gradient(90deg,#000000 0px,#010104 124px,#08081c 131px,#151547 135px,#332694 139px,#4d26bf 141px,#993380 143px,#db3b46 144px,#f45b16 145px,#e69509 146px,#e6d045 147px,#f7f7d9 148px,#ffffff 149px,#ffffff 195px,#f2f2bf 196px,#e6d85c 197px,#e6b917 198px,#e68e06 199px,#ef680e 200px,#fd4623 201px,#ae366d 203px,#732d9f 205px,#4b26bc 207px,#232375 213px,#13133e 218px,#070716 226px,#010103 242px,#000000 332px)"></i><i style="height:1px;background:linear-gradient(90deg,#000000 0px,#020205 125px,#08081a 131px,#141443 135px,#312691 139px,#4a26bc 141px,#6a2ba7 142px,#933284 143px,#d33a4d 144px,#f65619 145px,#e69007 146px,#e6cd3e 147px,#f6f6d3 148px,#ffffff 149px,#ffffff 195px,#e8e88e 196px,#e6ca37 197px,#e6a30e 198px,#e87a04 199px,#f7551a 200px,#ed3d36 201px,#973382 203px,#4f27be 206px,#242477 212px,#13133e 217px,#070719 224px,#010104 238px,#000000 332px)"></i><i style="height:1px;background:linear-gradient(90deg,#000000 0px,#010105 125px,#070718 131px,#13133f 135px,#2f268e 139px,#4826b7 141px,#642aab 142px,#8d318a 143px,#ca3954 144px,#f9501d 145px,#e68b05 146px,#e6ca36 147px,#f5f5cb 148px,#ffffff 149px,#ffffff 194px,#f6f6d0 195px,#e6db64 196px,#e6bb18 197px,#e68d06 198px,#f06510 199px,#fe4225 200px,#a53475 202px,#6b2ba6 204px,#5528b8 205px,#4726b6 206px,#20206b 212px,#101037 217px,#060613 225px,#000002 243px,#000000 332px)"></i><i style="height:1px;background:linear-gradient(90deg,#000000 0px,#010104 125px,#09091d 132px,#12123c 135px,#2d268a 139px,#4526b3 141px,#5e29b1 142px,#86308f 143px,#c1385d 144px,#fb4a20 145px,#e68502 146px,#e6c72d 147px,#f3f3c1 148px,#ffffff 149px,#ffffff 194px,#ebeb9b 195px,#e6cc3c 196px,#e5a30e 197px,#e97805 198px,#f8511c 199px,#e53c3d 200px,#8f3188 202px,#5b29b3 204px,#4926ba 205px,#21216d 211px,#101037 216px,#050512 224px,#000001 242px,#000000 332px)"></i><i style="height:1px;background:linear-gradient(90deg,#000000 0px,#020205 126px,#08081b 132px,#151547 136px,#352698 140px,#4226ae 141px,#5828b6 142px,#7f2f95 143px,#b73766 144px,#fe4324 145px,#e67e01 146px,#e6c323 147px,#f0f0b6 148px,#ffffff 149px,#ffffff 193px,#f9f9e0 194px,#e6de6a 195px,#e6bb18 196px,#e68c05 197px,#f16212 198px,#fb3f2a 199px,#9a337e 201px,#4c26bf 204px,#2c2689 208px,#13133f 214px,#070717 221px,#010103 235px,#000000 332px)"></i><i style="height:1px;background:linear-gradient(90deg,#000000 0px,#010105 126px,#070719 132px,#141442 136px,#322694 140px,#5127bc 142px,#782d9b 143px,#ac356f 144px,#f93f2c 145px,#e97705 146px,#e6be19 147px,#eeeea8 148px,#ffffff 149px,#ffffff 193px,#ededa6 194px,#e6cd3f 195px,#e6a20e 196px,#ea7407 197px,#fa4c1f 198px,#db3b45 199px,#ab3570 200px,#6b2ba6 202px,#5227ba 203px,#2d268b 207px,#13133f 213px,#070717 220px,#010103 234px,#000000 332px)"></i><i style="height:1px;background:linear-gradient(90deg,#000000 0px,#010104 126px,#070716 132px,#12123d 136px,#30268f 140px,#4b26bd 142px,#702ca2 143px,#a03479 144px,#ec3d37 145px,#ec6e0a 146px,#e6b516 147px,#eaea98 148px,#ffffff 149px,#ffffff 192px,#fcfcf0 193px,#e6e070 194px,#e6bb18 195px,#e68904 196px,#f35d15 197px,#f13e32 198px,#913286 200px,#5928b5 202px,#4826b7 203px,#222272 208px,#13133f 212px,#08081a 218px,#010104 230px,#000000 332px)"></i><i style="height:1px;background:linear-gradient(90deg,#000000 0px,#020205 127px,#08081a 133px,#111139 136px,#2d268b 140px,#4826b7 142px,#672ba9 143px,#953283 144px,#df3c42 145px,#f06510 146px,#e6ac12 147px,#e7e786 148px,#ffffff 149px,#ffffff 192px,#efefb1 193px,#e6ce41 194px,#e6a00d 195px,#ec7009 196px,#fc4622 197px,#9e347b 199px,#612aaf 201px,#4a26bc 202px,#232375 207px,#13133f 211px,#080819 217px,#010104 229px,#000000 332px)"></i><i style="height:1px;background:linear-gradient(90deg,#000000 0px,#010104 127px,#070718 133px,#101034 136px,#21216e 139px,#4426b1 142px,#5f29b0 143px,#8b318b 144px,#d13a4f 145px,#f45c15 146px,#e6a20e 147px,#e6e174 148px,#ffffff 149px,#fffffe 192px,#e6e174 193px,#e6ba17 194px,#e68502 195px,#f65718 196px,#e63d3c 197px,#af366c 198px,#87308f 199px,#4f27bd 201px,#242477 206px,#131340 210px,#070719 216px,#010104 228px,#000000 332px)"></i><i style="height:1px;background:linear-gradient(90deg,#000000 0px,#020205 128px,#08081c 134px,#12123e 137px,#322693 141px,#5628b7 143px,#812f93 144px,#c1385c 145px,#f8511c 146px,#e69709 147px,#e5db62 148px,#ffffff 149px,#ffffff 191px,#f1f1b9 192px,#e6ce40 193px,#e69d0c 194px,#ee6a0d 195px,#fe4027 196px,#c3385b 197px,#923285 198px,#5628b8 200px,#4526b3 201px,#1f1f67 206px,#101036 210px,#060614 216px,#010102 230px,#000000 332px)"></i><i style="height:1px;background:linear-gradient(90deg,#000000 0px,#010105 128px,#080819 134px,#111138 137px,#1c1c5e 139px,#3c26a4 142px,#4d26bf 143px,#772d9c 144px,#b1366a 145px,#fc4622 146px,#e68b05 147px,#e6d34e 148px,#ffffff 149px,#ffffff 191px,#e6e275 192px,#e6b716 193px,#e68000 194px,#f9501d 195px,#d83b48 196px,#a03479 197px,#5d29b2 199px,#4826b8 200px,#1f1f69 205px,#101036 209px,#060614 215px,#010102 229px,#000000 332px)"></i><i style="height:1px;background:linear-gradient(90deg,#000000 0px,#020205 129px,#09091e 135px,#141442 138px,#38269d 142px,#4826b7 143px,#6c2ba5 144px,#a13479 145px,#f73f2e 146px,#e67e01 147px,#e5cb38 148px,#fefef8 149px,#ffffff 152px,#ffffff 190px,#f2f2be 191px,#e6cd3d 192px,#e6980a 193px,#f16311 194px,#f03e34 195px,#b33669 196px,#863090 197px,#4b26bd 199px,#20206b 204px,#101036 208px,#060613 214px,#000002 228px,#000000 332px)"></i><i style="height:1px;background:linear-gradient(90deg,#000000 0px,#010105 129px,#08081a 135px,#12123c 138px,#282682 141px,#4326af 143px,#602aaf 144px,#923286 145px,#e33c3f 146px,#ec7009 147px,#e6c220 148px,#f7f7d9 149px,#ffffff 150px,#ffffff 190px,#e6e174 191px,#e6b314 192px,#e87804 193px,#fc4722 194px,#923286 196px,#5027bc 198px,#272680 202px,#17174c 205px,#09091f 210px,#020206 219px,#000000 332px)"></i><i style="height:1px;background:linear-gradient(90deg,#000000 0px,#020205 130px,#070717 135px,#101036 138px,#1c1c5d 140px,#30268f 142px,#5528b9 144px,#842f91 145px,#ce3a51 146px,#f26112 147px,#e6b315 148px,#f0f0b6 149px,#ffffff 150px,#ffffff 189px,#f2f2c0 190px,#e5ca37 191px,#e69007 192px,#f55917 193px,#de3c43 194px,#a13479 195px,#5728b6 197px,#4426b2 198px,#21216e 202px,#131340 205px,#080819 210px,#010104 220px,#000000 332px)"></i><i style="height:1px;background:linear-gradient(90deg,#000000 0px,#010104 130px,#08081b 136px,#13133f 139px,#39269f 143px,#4b26bc 144px,#762d9d 145px,#b83764 146px,#f8521b 147px,#e6a20e 148px,#e9e990 149px,#ffffff 150px,#ffffff 189px,#e6e070 190px,#e6ac12 191px,#ec6f0a 192px,#f83f2c 193px,#b43668 194px,#832f92 195px,#5f29af 196px,#4726b7 197px,#222270 201px,#13133f 204px,#070718 209px,#010104 219px,#000000 332px)"></i><i style="height:1px;background:linear-gradient(90deg,#000000 0px,#020205 131px,#070717 136px,#111138 139px,#1e1e63 141px,#342696 143px,#4526b2 144px,#682ba9 145px,#a13478 146px,#fe4125 147px,#e68f06 148px,#e6de6c 149px,#ffffff 150px,#ffffff 188px,#f2f2bd 189px,#e6c62d 190px,#e68703 191px,#f94e1e 192px,#ca3955 193px,#8f3188 194px,#682ba8 195px,#4a26bc 196px,#222272 200px,#13133f 203px,#070718 208px,#010103 218px,#000000 332px)"></i><i style="height:1px;background:linear-gradient(90deg,#000000 0px,#010104 131px,#08081b 137px,#141442 140px,#2f268e 143px,#3e26a8 144px,#5928b5 145px,#8e3189 146px,#e63d3c 147px,#e77b02 148px,#e6d149 149px,#ffffff 150px,#ffffff 188px,#e6dc67 189px,#e6a20e 190px,#f16211 191px,#e33c3f 192px,#9e347b 193px,#4f27bd 195px,#2b2687 198px,#13133f 202px,#070717 207px,#010103 217px,#000000 332px)"></i><i style="height:1px;background:linear-gradient(90deg,#000000 0px,#010105 132px,#070717 137px,#11113a 140px,#1f1f69 142px,#4b26bd 145px,#7c2e98 146px,#ca3954 147px,#ef670f 148px,#e6c323 149px,#ffffff 150px,#ffffff 187px,#f0f0b5 188px,#e6c11d 189px,#e87a03 190px,#fe4027 191px,#b2366a 192px,#7d2e97 193px,#5728b6 194px,#4226ae 195px,#1d1d5f 199px,#0f0f33 202px,#050512 207px,#000001 219px,#000000 332px)"></i><i style="height:1px;background:linear-gradient(90deg,#000000 0px,#020205 133px,#08081b 138px,#141444 141px,#25257c 143px,#4426b1 145px,#6a2ba7 146px,#ad366e 147px,#f8511c 148px,#e6ac12 149px,#f4f4c8 150px,#ffffff 151px,#ffffff 187px,#e6d758 188px,#e69509 189px,#f7531b 190px,#c93956 191px,#89308d 192px,#6029af 193px,#4526b3 194px,#1d1d60 198px,#0f0f32 201px,#050511 206px,#000001 218px,#000000 332px)"></i><i style="height:1px;background:linear-gradient(90deg,#000000 0px,#010104 133px,#070716 138px,#11113a 141px,#21216d 143px,#3d26a5 145px,#5828b6 146px,#923285 147px,#f73f2d 148px,#e69207 149px,#e8e88b 150px,#ffffff 151px,#ffffff 186px,#ededa4 187px,#e6b415 188px,#ee6a0d 189px,#e33c3f 190px,#973381 191px,#692ba7 192px,#4826b8 193px,#25257a 196px,#12123e 199px,#070719 203px,#010104 211px,#000000 332px)"></i><i style="height:1px;background:linear-gradient(90deg,#000000 0px,#010105 134px,#08081a 139px,#141444 142px,#272681 144px,#4926ba 146px,#7c2e98 147px,#d33a4d 148px,#e97606 149px,#e5d655 150px,#ffffff 151px,#ffffff 186px,#e5cf43 187px,#e68402 188px,#ff4126 189px,#ab3570 190px,#742d9f 191px,#4c26be 192px,#25257c 195px,#17174d 197px,#0b0b26 200px,#030309 206px,#000000 232px,#000000 332px)"></i><i style="height:1px;background:linear-gradient(90deg,#000000 0px,#020205 135px,#09091d 140px,#111139 142px,#21216f 144px,#4026ab 146px,#652aab 147px,#ae366d 148px,#f45a16 149px,#e6c11f 150px,#ffffff 151px,#ffffff 185px,#e8e88a 186px,#e6a30e 187px,#f65619 188px,#c2385b 189px,#7f2f95 190px,#5327ba 191px,#312691 193px,#12123c 197px,#070716 201px,#010103 209px,#000000 332px)"></i><i style="height:1px;background:linear-gradient(90deg,#000000 0px,#010104 135px,#070718 140px,#0e0e2f 142px,#1c1c5e 144px,#38269d 146px,#4f27bd 147px,#8d3189 148px,#fb3f2a 149px,#e6a00d 150px,#f5f5cf 151px,#ffffff 152px,#ffffff 184px,#fcfcf0 185px,#e6c425 186px,#ec6f0a 187px,#dd3c44 188px,#8d318a 189px,#5b29b3 190px,#4126ac 191px,#272680 193px,#17174d 195px,#0b0b23 198px,#03030a 203px,#000000 224px,#000000 332px)"></i><i style="height:1px;background:linear-gradient(90deg,#000000 0px,#010104 136px,#08081b 141px,#101037 143px,#21216f 145px,#4326b0 147px,#722ca0 148px,#cd3a52 149px,#e77c02 150px,#e6e379 151px,#ffffff 152px,#ffffff 184px,#e6dd69 185px,#e68c05 186px,#fc3f29 187px,#9d337c 188px,#652aab 189px,#4426b1 190px,#272682 192px,#17174c 194px,#0a0a22 197px,#030309 202px,#000000 227px,#000000 332px)"></i><i style="height:1px;background:linear-gradient(90deg,#000000 0px,#010105 137px,#060615 141px,#0d0d2c 143px,#1c1c5c 145px,#282682 146px,#39269f 147px,#5728b6 148px,#9f347a 149px,#f65718 150px,#e6c831 151px,#ffffff 152px,#ffffff 183px,#f4f4ca 184px,#e6ae13 185px,#f7551a 186px,#b43668 187px,#702ca2 188px,#4726b6 189px,#282683 191px,#17174c 193px,#0a0a20 196px,#020208 201px,#000000 232px,#000000 332px)"></i><i style="height:1px;background:linear-gradient(90deg,#000000 0px,#010105 138px,#070717 142px,#0f0f32 144px,#16164a 145px,#2f268f 147px,#4526b3 148px,#7c2e98 149px,#eb3d38 150px,#e6a00d 151px,#fefef8 152px,#ffffff 155px,#ffffff 183px,#e6cd3f 184px,#ec6f0a 185px,#cf3a51 186px,#7c2e98 187px,#4a26bc 188px,#292684 190px,#17174b 192px,#09091f 195px,#020207 200px,#000000 245px,#000000 332px)"></i><i style="height:1px;background:linear-gradient(90deg,#000000 0px,#020205 139px,#08081a 143px,#11113a 145px,#1a1a56 146px,#262680 147px,#39269f 148px,#5c29b2 149px,#b23669 150px,#eb7208 151px,#e6e682 152px,#ffffff 153px,#ffffff 182px,#e9e993 183px,#e68f06 184px,#ee3e35 185px,#8a308c 186px,#5027bc 187px,#2a2685 189px,#16164a 191px,#09091d 194px,#020206 199px,#000000 289px,#000000 332px)"></i><i style="height:1px;background:linear-gradient(90deg,#000000 0px,#020205 140px,#09091d 144px,#141443 146px,#2e268c 148px,#4526b3 149px,#832f92 150px,#fd4424 151px,#e6c322 152px,#ffffff 153px,#ffffff 182px,#e6b515 183px,#fa4c1f 184px,#9b337e 185px,#5928b5 186px,#3b26a3 187px,#1f1f66 189px,#101034 191px,#060613 194px,#010102 201px,#000000 332px)"></i><i style="height:1px;background:linear-gradient(90deg,#000000 0px,#010104 140px,#060615 144px,#0f0f32 146px,#17174e 147px,#242478 148px,#37269c 149px,#5c29b2 150px,#c0385d 151px,#e68a04 152px,#fcfcee 153px,#ffffff 154px,#ffffff 181px,#e6d553 182px,#ef680e 183px,#b43668 184px,#632aac 185px,#3e26a7 186px,#1f1f66 188px,#0f0f32 190px,#050511 193px,#000001 200px,#000000 332px)"></i><i style="height:1px;background:linear-gradient(90deg,#000000 0px,#010104 141px,#070717 145px,#111139 147px,#1b1b5a 148px,#2b2687 149px,#4326af 150px,#853090 151px,#f8511c 152px,#e6d95d 153px,#ffffff 154px,#ffffff 180px,#f2f2bd 181px,#e68a04 182px,#d23a4d 183px,#6f2ca2 184px,#4126ac 185px,#1f1f66 187px,#0f0f30 189px,#050510 192px,#000001 199px,#000000 332px)"></i><i style="height:1px;background:linear-gradient(90deg,#000000 0px,#010104 142px,#080819 146px,#141442 148px,#332695 150px,#5828b6 151px,#c53959 152px,#e69f0d 153px,#ffffff 154px,#ffffff 180px,#e6b415 181px,#f83f2d 182px,#7e2e96 183px,#4426b1 184px,#1f1f66 186px,#151545 187px,#09091f 189px,#020206 193px,#000000 242px,#000000 332px)"></i><i style="height:1px;background:linear-gradient(90deg,#000000 0px,#010104 143px,#050511 146px,#0e0e2e 148px,#17174c 149px,#26267d 150px,#3e26a7 151px,#802f94 152px,#f55917 153px,#ebeb9a 154px,#ffffff 155px,#ffffff 179px,#e6d95f 180px,#f55818 181px,#8f3188 182px,#4826b8 183px,#1f1f67 185px,#141443 186px,#09091d 188px,#020205 192px,#000000 332px)"></i><i style="height:1px;background:linear-gradient(90deg,#000000 0px,#010104 144px,#050512 147px,#101034 149px,#1b1b58 150px,#2d268b 151px,#4d26bf 152px,#c1385c 153px,#e6af13 154px,#ffffff 155px,#ffffff 178px,#fafae6 179px,#e67d01 180px,#a93571 181px,#4d26bf 182px,#312691 183px,#141441 185px,#08081a 187px,#010104 191px,#000000 332px)"></i><i style="height:1px;background:linear-gradient(90deg,#000000 0px,#010103 145px,#060613 148px,#0a0a22 149px,#12123b 150px,#1f1f68 151px,#37269b 152px,#752d9e 153px,#f45a16 154px,#f8f8db 155px,#ffffff 156px,#ffffff 178px,#e6af13 179px,#d03a4f 180px,#5a28b4 181px,#332695 182px,#131340 184px,#070718 186px,#010103 190px,#000000 332px)"></i><i style="height:1px;background:linear-gradient(90deg,#000000 0px,#010103 146px,#060615 149px,#0b0b26 150px,#151545 151px,#26267e 152px,#4526b3 153px,#b53767 154px,#e6bc18 155px,#ffffff 156px,#ffffff 177px,#e6e071 178px,#fd4424 179px,#6c2ba5 180px,#37269b 181px,#131340 183px,#0b0b26 184px,#04040d 186px,#000000 193px,#000000 332px)"></i><i style="height:1px;background:linear-gradient(90deg,#000000 0px,#010103 147px,#070717 150px,#0d0d2c 151px,#191953 152px,#2f268e 153px,#662baa 154px,#f45b16 155px,#ffffff 156px,#ffffff 177px,#e97606 178px,#87308f 179px,#3c26a4 180px,#222272 181px,#131341 182px,#0b0b25 183px,#04040c 185px,#000000 192px,#000000 332px)"></i><i style="height:1px;background:linear-gradient(90deg,#000000 0px,#010103 148px,#04040d 150px,#08081b 151px,#101035 152px,#1f1f68 153px,#3e26a7 154px,#ad356e 155px,#e6cb38 156px,#ffffff 157px,#ffffff 176px,#e6c221 177px,#b93763 178px,#4526b3 179px,#26267e 180px,#151545 181px,#0b0b25 182px,#03030b 184px,#000000 191px,#000000 332px)"></i><i style="height:1px;background:linear-gradient(90deg,#000000 0px,#010104 149px,#050510 151px,#0a0a21 152px,#141444 153px,#2a2686 154px,#612aae 155px,#ee6b0c 156px,#ffffff 157px,#ffffff 176px,#f8511c 177px,#5e29b0 178px,#2d268a 179px,#17174e 180px,#0c0c29 181px,#03030b 183px,#000000 190px,#000000 332px)"></i><i style="height:1px;background:linear-gradient(90deg,#000000 0px,#010104 150px,#060615 152px,#0d0d2d 153px,#1d1d61 154px,#3e26a8 155px,#cc3953 156px,#f2f2c0 157px,#ffffff 158px,#ffffff 175px,#e6c11e 176px,#9c337c 177px,#3a26a1 178px,#1d1d61 179px,#0f0f31 180px,#070718 181px,#020206 183px,#000000 216px,#000000 332px)"></i><i style="height:1px;background:linear-gradient(90deg,#000000 0px,#010103 150px,#04040e 152px,#09091f 153px,#151545 154px,#2e268d 155px,#822f92 156px,#e6c01a 157px,#ffffff 158px,#ffffff 175px,#ef680e 176px,#5f29b0 177px,#292685 178px,#141443 179px,#0a0a20 180px,#020207 182px,#000000 195px,#000000 332px)"></i><i style="height:1px;background:linear-gradient(90deg,#000000 0px,#010104 151px,#070717 153px,#101036 154px,#25257b 155px,#5c29b2 156px,#e68201 157px,#ffffff 158px,#fefefb 175px,#e63d3c 176px,#4426b0 177px,#20206a 178px,#0f0f32 179px,#070717 180px,#020205 182px,#000000 332px)"></i><i style="height:1px;background:linear-gradient(90deg,#000000 0px,#010104 151px,#060613 153px,#0e0e2d 154px,#202069 155px,#4a26bb 156px,#f25f13 157px,#ffffff 158px,#ffffff 174px,#e7e787 175px,#b43668 176px,#3a26a0 177px,#1b1b59 178px,#0c0c29 179px,#060613 180px,#010102 183px,#000000 332px)"></i><i style="height:1px;background:linear-gradient(90deg,#000000 0px,#010103 151px,#050511 153px,#0c0c29 154px,#1d1d61 155px,#4426b2 156px,#fa4d1e 157px,#ffffff 158px,#ffffff 174px,#e6d657 175px,#9b337d 176px,#352698 177px,#181850 178px,#0b0b25 179px,#050511 180px,#000002 183px,#000000 332px)"></i><i style="height:1px;background:linear-gradient(90deg,#000000 0px,#010103 151px,#050511 153px,#0c0c27 154px,#1c1c5d 155px,#4226ae 156px,#fc4622 157px,#ffffff 158px,#ffffff 174px,#e6cf44 175px,#933284 176px,#332695 177px,#17174d 178px,#0b0b23 179px,#050510 180px,#000001 183px,#000000 332px)"></i><i style="height:1px;background:linear-gradient(90deg,#000000 0px,#010103 151px,#050510 153px,#0c0c27 154px,#1c1c5d 155px,#4226ad 156px,#fd4424 157px,#ffffff 158px,#ffffff 174px,#e6cd3f 175px,#913286 176px,#322694 177px,#17174c 178px,#0a0a23 179px,#050510 180px,#000001 184px,#000000 332px)"></i><i style="height:1px;background:linear-gradient(90deg,#000000 0px,#010103 151px,#050510 153px,#0c0c27 154px,#1c1c5c 155px,#4226ad 156px,#fd4424 157px,#ffffff 158px,#ffffff 174px,#e6cd3f 175px,#913286 176px,#322694 177px,#17174c 178px,#0a0a23 179px,#050510 180px,#000001 184px,#000000 332px)"></i></div><div class="fr" style="left:108.25px;top:581.30px;width:336.25px;height:370.60px"></div><div class="cb" style="left:463.10px;top:582.40px;height:368.20px"></div><div class="t yt" style="right:1031.5px;top:934.1px">0.0</div><div class="t yt" style="right:1031.5px;top:750.4px">0.5</div><div class="t yt" style="right:1031.5px;top:566.7px">1.0</div><div class="t xt" style="left:9.8px;width:200px;text-align:center;top:963.5px">−2</div><div class="t xt" style="left:120.9px;width:200px;text-align:center;top:963.5px">0</div><div class="t xt" style="left:231.9px;width:200px;text-align:center;top:963.5px">2</div><div class="t xt" style="left:342.9px;width:200px;text-align:center;top:963.5px">4</div><div class="t ct" style="left:499.5px;top:935.3px">0</div><div style="position:absolute;left:481.6px;top:766.1px;width:2px;height:1px;background:#666"></div><div class="t ct" style="left:499.5px;top:751.6px">1</div><div class="t ct" style="left:499.5px;top:567.9px">2</div><div class="t pl" style="left:110.0px;top:508.0px">(c)</div><div class="t al" style="left:247.0px;top:1010.0px">K<span class="sl">/</span>B</div><div class="t al" style="left:-13.5px;top:748.5px;transform:rotate(-90deg);transform-origin:50% 50%">T<span class="sl">/</span>B</div><svg class="q" style="left:422.4px;top:529.0px" width="28" height="34" viewBox="0 0 28 34"><path d="M15.8,21.0C13.5,22.6 10.5,23.4 7.6,22.9C4.5,22.4 2.6,20 3.0,16.8C3.4,11.5 8.5,5.6 15.5,4.9C20.8,4.4 24.3,7.5 24.0,12.2C23.7,17 20.6,22.6 15.3,26.3L13.8,25.1C17.6,21.9 20.0,17.3 20.2,12.6C20.4,9 18.3,7.3 15.3,7.4C10.5,7.6 7.0,12.5 6.8,16.6C6.6,19.6 8.6,21.2 11.3,21.2C12.8,21.2 14.4,21.0 15.8,21.0Z"/><path d="M3.4,27.9C6.5,24.8 10.5,24.7 15.0,26.9C18.5,28.6 21.6,28.0 23.8,25.6L24.1,26.0C22.2,29.0 18.8,30.2 15.0,29.1C10.8,27.8 7.0,27.1 3.4,27.9Z"/></svg><div class="t ti" style="left:447.1px;top:526.5px"><span class="sb">SP</span><span class="pa">(</span><i>K</i><span class="pc">)</span></div><div class="hm" style="left:693px;top:582.5px"><i style="background:linear-gradient(90deg,#0d0d2a 0px,#05050f 75px,#000001 117px,#08081a 138px,#26267f 176px,#282682 205px,#0d0d2b 288px,#060614 332px)"></i><i style="background:linear-gradient(90deg,#0d0d2a 0px,#050510 74px,#000001 117px,#08081a 138px,#26267f 175px,#292684 203px,#1d1d61 235px,#0c0c27 293px,#060614 332px)"></i><i style="background:linear-gradient(90deg,#0d0d2a 0px,#050510 74px,#000001 117px,#08081a 138px,#272680 175px,#292684 203px,#1f1f66 232px,#0d0d2a 289px,#060613 332px)"></i><i style="background:linear-gradient(90deg,#0d0d2a 0px,#050510 73px,#000001 117px,#08081b 138px,#272680 174px,#2a2686 201px,#222270 225px,#0e0e2d 284px,#060613 332px)"></i><i style="background:linear-gradient(90deg,#0d0d2a 0px,#050511 73px,#000001 116px,#070719 137px,#272681 174px,#2a2686 201px,#222270 225px,#0e0e2e 283px,#060613 332px)"></i><i style="background:linear-gradient(90deg,#0d0d2a 0px,#050511 72px,#000001 116px,#080819 137px,#272680 173px,#2b2688 199px,#222272 224px,#0e0e2f 281px,#060613 332px)"></i><i style="background:linear-gradient(90deg,#0d0d2a 0px,#050511 72px,#000001 116px,#080819 137px,#272681 173px,#2c2688 199px,#222273 224px,#0e0e30 280px,#060613 332px)"></i><i style="background:linear-gradient(90deg,#0d0d2a 0px,#050511 72px,#000001 116px,#070717 136px,#282682 173px,#2c2689 199px,#232374 224px,#0e0e30 280px,#060613 332px)"></i><i style="background:linear-gradient(90deg,#0d0d2a 0px,#050512 71px,#000001 116px,#070718 136px,#282682 172px,#2d268a 197px,#232374 224px,#0f0f31 279px,#050512 332px)"></i><i style="background:linear-gradient(90deg,#0d0d2a 0px,#050512 71px,#000001 116px,#070718 136px,#282683 172px,#2d268b 197px,#232375 224px,#0f0f31 278px,#050512 332px)"></i><i style="background:linear-gradient(90deg,#0d0d2a 0px,#050512 71px,#000001 116px,#070718 136px,#282682 171px,#2e268c 196px,#232375 224px,#0f0f32 277px,#050512 332px)"></i><i style="background:linear-gradient(90deg,#0d0d2a 0px,#060613 70px,#000001 116px,#070718 136px,#282683 171px,#2f268d 195px,#232376 224px,#0f0f33 276px,#050512 332px)"></i><i style="background:linear-gradient(90deg,#0d0d2a 0px,#060613 70px,#000001 116px,#070719 136px,#282683 170px,#2f268e 194px,#242476 224px,#0f0f32 276px,#050511 332px)"></i><i style="background:linear-gradient(90deg,#0d0d2a 0px,#060614 69px,#000001 115px,#070717 135px,#1c1c5c 157px,#292684 170px,#30268f 194px,#232375 225px,#0f0f32 276px,#050511 332px)"></i><i style="background:linear-gradient(90deg,#0d0d2a 0px,#060614 69px,#000001 115px,#070717 135px,#1c1c5e 157px,#282683 169px,#302690 192px,#242477 224px,#101034 274px,#050511 332px)"></i><i style="background:linear-gradient(90deg,#0d0d2a 0px,#060614 69px,#000001 115px,#070717 135px,#1c1c5f 157px,#292684 169px,#312691 192px,#242476 225px,#101034 274px,#050511 332px)"></i><i style="background:linear-gradient(90deg,#0d0d2a 0px,#060615 68px,#000001 115px,#070718 135px,#1c1c5c 156px,#292683 168px,#322692 190px,#242479 224px,#101034 273px,#050511 332px)"></i><i style="background:linear-gradient(90deg,#0c0c2a 0px,#060615 68px,#000001 115px,#070718 135px,#1c1c5d 156px,#292684 168px,#322693 190px,#242479 224px,#101035 272px,#050511 331px,#050510 332px)"></i><i style="background:linear-gradient(90deg,#0c0c2a 0px,#060615 68px,#000001 115px,#070716 134px,#1a1a57 154px,#292684 167px,#332694 189px,#24247a 224px,#101036 271px,#050511 330px,#050510 332px)"></i><i style="background:linear-gradient(90deg,#0c0c2a 0px,#060615 67px,#000001 115px,#070716 134px,#191954 153px,#282683 166px,#332695 188px,#25257a 224px,#101036 271px,#050511 329px,#050510 332px)"></i><i style="background:linear-gradient(90deg,#0c0c29 0px,#060615 67px,#000001 115px,#070716 134px,#191955 153px,#292684 166px,#342696 187px,#25257d 223px,#111138 269px,#050512 326px,#050510 332px)"></i><i style="background:linear-gradient(90deg,#0c0c29 0px,#060616 67px,#000001 115px,#070717 134px,#1a1a56 153px,#292685 166px,#352697 187px,#26267d 223px,#111139 268px,#050512 324px,#050510 332px)"></i><i style="background:linear-gradient(90deg,#0c0c29 0px,#060616 67px,#000001 115px,#070717 134px,#1a1a57 153px,#292684 165px,#352698 186px,#262680 222px,#111139 267px,#060613 322px,#05050f 332px)"></i><i style="background:linear-gradient(90deg,#0c0c29 0px,#070716 66px,#000001 115px,#070717 134px,#191954 152px,#292685 165px,#362699 186px,#26267e 223px,#111139 267px,#060613 321px,#05050f 332px)"></i><i style="background:linear-gradient(90deg,#0c0c29 0px,#070716 66px,#000001 115px,#070717 134px,#1a1a55 152px,#292684 164px,#36269a 185px,#272681 221px,#111138 268px,#050512 323px,#04040f 332px)"></i><i style="background:linear-gradient(90deg,#0c0c29 0px,#070716 66px,#000001 115px,#070718 134px,#1a1a56 152px,#292685 164px,#37269b 184px,#2a2685 217px,#101034 271px,#050510 327px,#04040f 332px)"></i><i style="background:linear-gradient(90deg,#0c0c29 0px,#070717 65px,#000001 115px,#070718 134px,#1a1a58 152px,#292684 163px,#37269c 183px,#2d268a 213px,#20206a 234px,#0e0e2f 276px,#04040e 332px)"></i><i style="background:linear-gradient(90deg,#0c0c29 0px,#070717 65px,#000001 115px,#070716 133px,#181850 150px,#292685 163px,#38269d 183px,#2d268a 213px,#1f1f68 235px,#0e0e2f 276px,#04040e 332px)"></i><i style="background:linear-gradient(90deg,#0c0c29 0px,#070717 65px,#000001 115px,#070716 133px,#181851 150px,#292684 162px,#39269e 182px,#2f268e 210px,#21216e 232px,#0f0f31 273px,#04040f 330px,#04040e 332px)"></i><i style="background:linear-gradient(90deg,#0c0c28 0px,#070717 65px,#000000 114px,#070716 133px,#191952 150px,#292685 162px,#39269f 182px,#2f268f 210px,#21216e 232px,#0f0f32 272px,#04040f 328px,#04040e 332px)"></i><i style="background:linear-gradient(90deg,#0c0c28 0px,#070718 64px,#000000 114px,#060614 132px,#16164a 148px,#292683 161px,#3a26a0 181px,#322692 207px,#222271 231px,#101034 270px,#050510 324px,#04040d 332px)"></i><i style="background:linear-gradient(90deg,#0c0c28 0px,#070718 64px,#000000 114px,#060614 132px,#17174b 148px,#292684 161px,#3a26a1 180px,#332695 205px,#222273 230px,#101035 269px,#050511 322px,#04040d 332px)"></i><i style="background:linear-gradient(90deg,#0c0c28 0px,#070718 64px,#000000 114px,#060615 132px,#17174c 148px,#2a2685 161px,#3b26a2 180px,#342697 204px,#232373 230px,#101035 268px,#050511 320px,#04040d 332px)"></i><i style="background:linear-gradient(90deg,#0c0c28 0px,#070718 64px,#000000 114px,#060615 132px,#17174d 148px,#292684 160px,#3c26a3 179px,#36269a 202px,#232373 230px,#101035 268px,#050511 320px,#04040d 332px)"></i><i style="background:linear-gradient(90deg,#0c0c28 0px,#070718 64px,#000000 114px,#060615 132px,#17174e 148px,#292685 160px,#3c26a4 179px,#36269b 202px,#222271 231px,#101035 268px,#050510 320px,#04040d 332px)"></i><i style="background:linear-gradient(90deg,#0c0c27 0px,#070719 63px,#000000 114px,#060615 132px,#16164a 147px,#2a2686 160px,#3d26a6 179px,#37269b 202px,#232374 230px,#101036 267px,#050511 318px,#04040c 332px)"></i><i style="background:linear-gradient(90deg,#0c0c27 0px,#070719 63px,#000000 114px,#060616 132px,#17174b 147px,#292684 159px,#3e26a6 178px,#39269e 200px,#232374 230px,#101036 266px,#050511 316px,#04040c 332px)"></i><i style="background:linear-gradient(90deg,#0c0c27 0px,#070719 63px,#000000 114px,#070716 132px,#17174c 147px,#2a2685 159px,#3e26a8 178px,#3a26a0 199px,#232374 230px,#101036 266px,#050511 316px,#04040c 332px)"></i><i style="background:linear-gradient(90deg,#0c0c27 0px,#080819 63px,#000000 114px,#070716 132px,#17174e 147px,#2a2687 159px,#3f26a9 178px,#3a26a1 199px,#232374 230px,#101037 265px,#050512 314px,#03030c 332px)"></i><i style="background:linear-gradient(90deg,#0c0c27 0px,#080819 63px,#000000 114px,#070716 132px,#18184f 147px,#292685 158px,#4026aa 177px,#3c26a4 197px,#232374 230px,#101036 265px,#050512 313px,#03030b 332px)"></i><i style="background:linear-gradient(90deg,#0c0c26 0px,#08081a 62px,#000000 114px,#060614 131px,#16164b 146px,#2a2686 158px,#4026ab 176px,#3e26a7 195px,#232374 230px,#111137 264px,#050512 312px,#03030b 332px)"></i><i style="background:linear-gradient(90deg,#0b0b26 0px,#08081a 62px,#000000 114px,#060614 131px,#151547 145px,#292684 157px,#4126ac 176px,#3f26a8 195px,#232374 230px,#101037 264px,#050512 311px,#03030b 332px)"></i><i style="background:linear-gradient(90deg,#0b0b26 0px,#08081a 62px,#000000 114px,#060615 131px,#161648 145px,#2a2685 157px,#4126ad 175px,#4126ab 193px,#232375 230px,#111138 263px,#060613 309px,#03030b 332px)"></i><i style="background:linear-gradient(90deg,#0b0b26 0px,#08081a 62px,#000000 114px,#060615 131px,#161649 145px,#2a2686 157px,#4226ae 175px,#4126ad 193px,#232375 230px,#111137 263px,#050512 309px,#03030a 332px)"></i><i style="background:linear-gradient(90deg,#0b0b25 0px,#08081a 62px,#000000 114px,#060615 131px,#16164a 145px,#2b2687 157px,#4326b0 175px,#4226ae 193px,#222272 231px,#101036 264px,#050511 311px,#03030a 332px)"></i><i style="background:linear-gradient(90deg,#0b0b25 0px,#08081a 62px,#000000 114px,#060615 131px,#16164b 145px,#2a2685 156px,#4426b1 174px,#4426b1 191px,#232375 230px,#111138 262px,#060613 307px,#03030a 332px)"></i><i style="background:linear-gradient(90deg,#0b0b25 0px,#08081a 62px,#000000 114px,#060615 131px,#17174c 145px,#2a2686 156px,#4526b2 174px,#4526b2 191px,#232375 230px,#111137 262px,#050512 307px,#03030a 332px)"></i><i style="background:linear-gradient(90deg,#0b0b25 0px,#08081b 61px,#000000 114px,#070716 131px,#151548 144px,#2b2688 156px,#4626b4 174px,#4526b4 191px,#232375 230px,#111138 261px,#060613 305px,#030309 332px)"></i><i style="background:linear-gradient(90deg,#0b0b24 0px,#08081b 61px,#000000 114px,#070716 131px,#161649 144px,#2a2685 155px,#4626b5 173px,#4726b7 189px,#232374 230px,#111138 261px,#060612 305px,#030309 332px)"></i><i style="background:linear-gradient(90deg,#0b0b24 0px,#08081b 61px,#000000 114px,#070716 131px,#16164a 144px,#2a2687 155px,#4726b6 173px,#4826b8 189px,#232374 230px,#111139 260px,#060613 303px,#030309 332px)"></i><i style="background:linear-gradient(90deg,#0b0b24 0px,#08081b 61px,#000000 114px,#060614 130px,#151545 143px,#2b2688 155px,#4826b8 173px,#4926ba 189px,#232374 230px,#111138 260px,#060613 303px,#030309 332px)"></i><i style="background:linear-gradient(90deg,#0b0b23 0px,#08081b 61px,#000000 114px,#060614 130px,#151546 143px,#2a2685 154px,#4926b9 172px,#4b26bd 187px,#232374 230px,#111138 260px,#050512 303px,#030309 332px)"></i><i style="background:linear-gradient(90deg,#0b0b23 0px,#08081b 61px,#000000 114px,#060614 130px,#151547 143px,#2a2686 154px,#4a26bb 172px,#4b26bd 189px,#232374 230px,#111138 259px,#060613 301px,#030308 332px)"></i><i style="background:linear-gradient(90deg,#0a0a23 0px,#08081b 61px,#000000 114px,#060615 130px,#161648 143px,#2b2688 154px,#4b26bd 172px,#4f27bd 186px,#3c26a4 205px,#222271 231px,#101036 260px,#050512 302px,#020208 332px)"></i><i style="background:linear-gradient(90deg,#0a0a22 0px,#08081b 61px,#000000 114px,#060615 130px,#161649 143px,#2c2689 154px,#4c26bf 172px,#5227bb 185px,#4926ba 193px,#222271 231px,#101036 260px,#050512 302px,#020208 332px)"></i><i style="background:linear-gradient(90deg,#0a0a22 0px,#08081b 61px,#000000 114px,#060615 130px,#151545 142px,#2a2686 153px,#4c26bf 171px,#5528b8 184px,#4a26bb 193px,#222271 231px,#101037 259px,#050512 300px,#020208 332px)"></i><i style="background:linear-gradient(90deg,#0a0a22 0px,#08081b 61px,#000001 114px,#060615 130px,#151546 142px,#2b2687 153px,#4d26bf 170px,#5828b6 182px,#4b26bd 193px,#222270 231px,#101036 259px,#050512 300px,#020207 332px)"></i><i style="background:linear-gradient(90deg,#0a0a21 0px,#08081b 61px,#000001 114px,#060615 130px,#151547 142px,#2c2689 153px,#4c26bf 169px,#5b29b3 181px,#4b26bc 194px,#222270 231px,#101036 259px,#050511 300px,#020207 332px)"></i><i style="background:linear-gradient(90deg,#0a0a21 0px,#08081b 61px,#000001 114px,#070716 130px,#151548 142px,#2a2686 152px,#4c26bf 168px,#5e29b1 180px,#4b26bd 194px,#212170 231px,#101035 259px,#050511 300px,#020207 332px)"></i><i style="background:linear-gradient(90deg,#0a0a21 0px,#08081b 61px,#000001 114px,#070716 130px,#161649 142px,#2b2687 152px,#4c26bf 167px,#602aaf 179px,#4b26bd 195px,#21216f 231px,#101036 258px,#050512 298px,#020207 332px)"></i><i style="background:linear-gradient(90deg,#0a0a20 0px,#08081b 61px,#000001 114px,#070716 130px,#16164a 142px,#2b2688 152px,#4e27be 167px,#632aad 178px,#5027bd 193px,#3b26a1 208px,#20206c 232px,#0f0f34 259px,#050510 300px,#020207 332px)"></i><i style="background:linear-gradient(90deg,#0a0a20 0px,#08081b 61px,#000001 114px,#070716 130px,#16164b 142px,#2c2689 152px,#4e26be 166px,#652aab 177px,#5628b7 191px,#4b26bd 196px,#21216e 231px,#101034 258px,#050511 298px,#020206 332px)"></i><i style="background:linear-gradient(90deg,#09091f 0px,#08081b 61px,#000001 114px,#060614 129px,#151546 141px,#2a2686 151px,#4c26bf 165px,#672ba9 176px,#5c29b2 189px,#4a26bc 197px,#21216e 231px,#101035 257px,#050511 296px,#020206 332px)"></i><i style="background:linear-gradient(90deg,#09091f 0px,#08081a 61px,#000001 115px,#070717 130px,#151547 141px,#2b2688 151px,#4c26be 164px,#692ba7 175px,#622aad 187px,#4b26bd 197px,#21216d 231px,#101034 257px,#050511 296px,#020206 332px)"></i><i style="background:linear-gradient(90deg,#09091e 0px,#08081a 61px,#000001 115px,#070717 130px,#151548 141px,#2c2689 151px,#4e26be 164px,#6d2ca5 175px,#652aab 187px,#4c26be 197px,#21216d 231px,#101034 257px,#050511 296px,#020206 332px)"></i><i style="background:linear-gradient(90deg,#09091e 0px,#08081a 61px,#000001 115px,#070717 130px,#161649 141px,#2d268a 151px,#4c26bf 163px,#6f2ca3 174px,#692ba8 186px,#4b26bd 198px,#20206c 231px,#101035 256px,#050511 294px,#020206 332px)"></i><i style="background:linear-gradient(90deg,#09091e 0px,#08081a 61px,#000001 115px,#070718 130px,#16164a 141px,#2b2687 150px,#4f27bd 163px,#722ca0 174px,#6d2ca4 185px,#4b26bd 198px,#20206c 231px,#101034 256px,#050511 294px,#020205 332px)"></i><i style="background:linear-gradient(90deg,#09091d 0px,#08081a 61px,#000001 115px,#070718 130px,#16164b 141px,#2b2688 150px,#4d26bf 162px,#742d9f 173px,#722ca0 184px,#4c26be 198px,#20206b 231px,#0f0f33 256px,#050510 294px,#020205 332px)"></i><i style="background:linear-gradient(90deg,#09091d 0px,#08081a 61px,#000001 115px,#070718 130px,#17174c 141px,#2c2689 150px,#4c26be 161px,#752d9d 172px,#772d9b 182px,#4b26bd 199px,#20206a 231px,#0f0f32 256px,#050510 294px,#010105 332px)"></i><i style="background:linear-gradient(90deg,#08081c 0px,#08081a 61px,#000001 115px,#060615 129px,#151546 140px,#2d268a 150px,#4d26be 161px,#792e9a 172px,#7a2e99 182px,#4b26be 199px,#21216d 230px,#101035 254px,#050511 291px,#010105 332px)"></i><i style="background:linear-gradient(90deg,#08081c 0px,#08081a 61px,#000001 115px,#070716 129px,#151547 140px,#2b2687 149px,#4c26be 160px,#7a2e99 171px,#7f2f95 181px,#4c26be 199px,#20206c 230px,#101034 254px,#050510 291px,#010105 332px)"></i><i style="background:linear-gradient(90deg,#08081b 0px,#08081a 61px,#000001 115px,#070716 129px,#161648 140px,#2b2688 149px,#4e26be 160px,#7e2f96 171px,#822f93 181px,#4c26bf 199px,#20206b 230px,#0f0f33 254px,#050510 291px,#010104 332px)"></i><i style="background:linear-gradient(90deg,#08081b 0px,#08081a 61px,#000001 115px,#070716 129px,#161649 140px,#2c2689 149px,#4b26bd 159px,#7f2f95 170px,#88308e 179px,#642aac 193px,#4b26bd 200px,#21216e 229px,#101035 252px,#050512 287px,#010104 332px)"></i><i style="background:linear-gradient(90deg,#08081a 0px,#08081a 61px,#000001 115px,#070716 129px,#141444 139px,#2d268a 149px,#4d26bf 159px,#832f92 170px,#8b318b 179px,#652aab 193px,#4c26be 200px,#21216d 229px,#101034 252px,#050511 287px,#010104 332px)"></i><i style="background:linear-gradient(90deg,#08081a 0px,#080819 62px,#000001 115px,#070717 129px,#151545 139px,#2e268c 149px,#4b26bd 158px,#843091 169px,#8f3187 178px,#6e2ca3 191px,#4c26be 200px,#20206c 229px,#0f0f34 252px,#050511 287px,#010104 332px)"></i><i style="background:linear-gradient(90deg,#080819 0px,#080819 62px,#000001 115px,#070717 129px,#151546 139px,#2b2688 148px,#4d26bf 158px,#88308d 169px,#933284 178px,#702ca1 191px,#4c26bf 200px,#20206b 229px,#101034 251px,#050511 285px,#010104 332px)"></i><i style="background:linear-gradient(90deg,#070719 0px,#080819 62px,#000001 115px,#070717 129px,#151546 139px,#2c2689 148px,#5027bd 158px,#89308d 168px,#983381 177px,#7a2e99 189px,#4d26bf 200px,#21216e 228px,#101035 250px,#050511 284px,#010104 332px)"></i><i style="background:linear-gradient(90deg,#070718 0px,#070719 62px,#000001 115px,#070717 129px,#151547 139px,#2d268a 148px,#4c26be 157px,#8d3189 168px,#9d347c 176px,#842f91 187px,#4b26bd 201px,#21216d 228px,#101034 250px,#050511 284px,#010103 332px)"></i><i style="background:linear-gradient(90deg,#070718 0px,#070719 62px,#000001 115px,#070718 129px,#161648 139px,#2d268c 148px,#4f27be 157px,#923286 168px,#a33477 176px,#832f92 188px,#4b26bd 201px,#20206b 228px,#101035 249px,#050511 282px,#010103 332px)"></i><i style="background:linear-gradient(90deg,#070717 0px,#070718 63px,#000001 115px,#070718 129px,#161649 139px,#2e268d 148px,#4b26bd 156px,#923285 167px,#a93572 175px,#943283 184px,#4c26be 201px,#20206a 228px,#101034 249px,#050511 282px,#010103 332px)"></i><i style="background:linear-gradient(90deg,#070716 0px,#070718 63px,#000001 115px,#070718 129px,#16164a 139px,#2c2689 147px,#4d26bf 156px,#973382 167px,#ae366d 174px,#a0347a 182px,#4c26be 201px,#21216d 227px,#101035 248px,#050511 280px,#010103 332px)"></i><i style="background:linear-gradient(90deg,#070716 0px,#070718 63px,#000001 115px,#070718 129px,#17174b 139px,#2c268a 147px,#5027bc 156px,#a23478 168px,#b53667 175px,#a03479 183px,#4c26bf 201px,#20206c 227px,#101034 248px,#050511 280px,#010103 332px)"></i><i style="background:linear-gradient(90deg,#060615 0px,#070718 63px,#000001 115px,#070718 129px,#17174c 139px,#2d268b 147px,#4c26be 155px,#a93572 168px,#bb3762 175px,#a53475 183px,#4c26bf 201px,#20206b 227px,#101034 247px,#050511 278px,#010103 332px)"></i><i style="background:linear-gradient(90deg,#060615 0px,#070717 64px,#000001 115px,#060615 128px,#151546 138px,#2e268c 147px,#4e26be 155px,#b0366c 168px,#c2385c 174px,#b33669 181px,#4d26bf 201px,#21216d 226px,#101035 246px,#050511 277px,#010102 332px)"></i><i style="background:linear-gradient(90deg,#060614 0px,#070717 64px,#000001 115px,#060616 128px,#151547 138px,#2f268d 147px,#4a26bc 154px,#622aad 157px,#bc3761 169px,#c83956 175px,#ae366d 183px,#4d26bf 201px,#20206c 226px,#101034 246px,#050511 277px,#010102 332px)"></i><i style="background:linear-gradient(90deg,#060614 0px,#070717 64px,#000001 115px,#070716 128px,#131341 137px,#2f268f 147px,#4c26be 154px,#be385f 168px,#d03a50 174px,#bd3860 181px,#4e26be 201px,#20206b 226px,#0f0f33 246px,#050510 277px,#010102 332px)"></i><i style="background:linear-gradient(90deg,#060613 0px,#070717 65px,#000001 115px,#070716 128px,#141442 137px,#2d268a 146px,#4e27be 154px,#c53959 168px,#d73b49 174px,#c3385b 181px,#4e26be 201px,#21216d 225px,#101036 244px,#050512 273px,#010102 332px)"></i><i style="background:linear-gradient(90deg,#060613 0px,#070716 65px,#000001 115px,#070716 128px,#141442 137px,#2d268b 146px,#4a26bc 153px,#642aac 156px,#cd3a52 168px,#de3c43 174px,#c83956 181px,#5928b5 199px,#4b26bc 202px,#20206c 225px,#101034 244px,#050511 274px,#010102 332px)"></i><i style="background:linear-gradient(90deg,#050512 0px,#070716 65px,#000001 115px,#070716 128px,#141443 137px,#2e268c 146px,#4c26be 153px,#cf3a50 167px,#e63d3c 173px,#d93b48 179px,#5427b9 200px,#4826b8 203px,#20206a 225px,#0f0f33 244px,#050510 274px,#010102 332px)"></i><i style="background:linear-gradient(90deg,#050511 0px,#060616 66px,#000001 115px,#070717 128px,#141444 137px,#2f268e 146px,#4e26be 153px,#d73b49 167px,#ed3d36 172px,#e43c3e 178px,#a73573 187px,#4e27be 201px,#21216d 224px,#101036 242px,#050512 270px,#010102 332px)"></i><i style="background:linear-gradient(90deg,#050511 0px,#060615 66px,#000002 116px,#08081a 129px,#17174c 138px,#30268f 146px,#4a26bb 152px,#5b29b3 154px,#df3c42 167px,#f53f2f 172px,#ea3d38 178px,#ab3570 187px,#4e27be 201px,#20206b 224px,#101035 242px,#050512 270px,#000002 332px)"></i><i style="background:linear-gradient(90deg,#050510 0px,#060615 67px,#000002 116px,#08081a 129px,#17174d 138px,#2c268a 145px,#4b26bd 152px,#ab3570 161px,#e83d3a 167px,#fe4027 172px,#f13e32 178px,#ae366d 187px,#5427b9 200px,#4b26bc 202px,#21216e 223px,#101036 241px,#050512 269px,#000002 332px)"></i><i style="background:linear-gradient(90deg,#050510 0px,#060615 67px,#000002 116px,#070717 128px,#151546 137px,#2d268b 145px,#4d26bf 152px,#b23669 161px,#f13e32 167px,#fe4225 170px,#fe4028 177px,#c4385a 185px,#7a2e99 194px,#4e27be 201px,#20206c 223px,#101036 240px,#050512 267px,#000001 331px,#000001 332px)"></i><i style="background:linear-gradient(90deg,#05050f 0px,#060614 68px,#000002 116px,#070717 128px,#151547 137px,#2e268c 145px,#5027bc 152px,#ba3763 161px,#fb3f2a 167px,#fb4a20 174px,#fa3f2b 179px,#822f92 193px,#4e26be 201px,#20206a 223px,#101035 240px,#050512 267px,#000001 332px)"></i><i style="background:linear-gradient(90deg,#04040e 0px,#060614 68px,#000002 116px,#070717 128px,#161648 137px,#2f268d 145px,#4a26bc 151px,#692ba7 154px,#b43668 160px,#fc3f29 166px,#f8501c 173px,#ff4126 179px,#b93764 187px,#7c2e98 194px,#4e26be 201px,#21216d 222px,#101036 239px,#050512 265px,#000001 328px,#000001 332px)"></i><i style="background:linear-gradient(90deg,#04040e 0px,#060613 69px,#000002 116px,#070718 128px,#161649 137px,#2f268f 145px,#4c26be 151px,#ac356e 159px,#fc3f29 165px,#f65619 172px,#fd4523 179px,#f83f2d 181px,#843091 193px,#4d26bf 201px,#20206b 222px,#101034 239px,#050511 266px,#000001 332px)"></i><i style="background:linear-gradient(90deg,#04040d 0px,#060613 69px,#000002 116px,#070718 128px,#16164a 137px,#302690 145px,#4e27be 151px,#a43476 158px,#fb3f2a 164px,#f45c15 171px,#f94f1d 178px,#fe4027 181px,#853090 193px,#4d26bf 201px,#21216e 221px,#111137 237px,#060613 262px,#010102 321px,#000001 332px)"></i><i style="background:linear-gradient(90deg,#04040d 0px,#060613 70px,#000002 116px,#070718 128px,#141443 136px,#312691 145px,#4926ba 150px,#5127bc 151px,#ab356f 158px,#f83f2c 163px,#fb4b20 165px,#f16211 171px,#f55818 177px,#fa3f2a 182px,#8e3189 192px,#4c26bf 201px,#282683 216px,#131340 233px,#070719 255px,#010104 301px,#000001 332px)"></i><i style="background:linear-gradient(90deg,#04040c 0px,#060612 70px,#000002 116px,#070718 128px,#141443 136px,#2d268b 144px,#4a26bc 150px,#6c2ca5 153px,#b33669 158px,#fe4225 163px,#f06510 169px,#f06510 175px,#ff4026 182px,#8f3188 192px,#4c26bf 201px,#20206a 221px,#101034 237px,#050512 262px,#000001 324px,#000001 332px)"></i><i style="background:linear-gradient(90deg,#04040c 0px,#050512 71px,#000002 116px,#070718 128px,#141444 136px,#2e268c 144px,#4c26be 150px,#a93572 157px,#fe4027 162px,#ee690d 168px,#ed6e0b 174px,#fa3f2b 183px,#903187 192px,#4c26be 201px,#21216c 220px,#101035 236px,#050511 261px,#000001 322px,#000001 332px)"></i><i style="height:1px;background:linear-gradient(90deg,#03030b 0px,#050512 71px,#000002 116px,#070718 128px,#151544 136px,#2e268d 144px,#4d26bf 150px,#9c337d 156px,#f53f2f 161px,#fd4424 162px,#ec6f0a 168px,#ea7506 173px,#f7551a 180px,#fe4027 183px,#903287 192px,#4b26bd 201px,#20206b 220px,#101036 235px,#060612 259px,#000002 317px,#000001 332px)"></i><i style="height:1px;background:linear-gradient(90deg,#03030b 0px,#050511 72px,#000002 116px,#070718 128px,#151545 136px,#2f268e 144px,#4f27bd 150px,#9f347a 156px,#fa3f2a 161px,#eb7308 168px,#e87804 173px,#f65718 180px,#ff4126 183px,#913286 192px,#4b26bd 201px,#20206a 220px,#101035 235px,#050512 259px,#000001 318px,#000001 332px)"></i><i style="height:1px;background:linear-gradient(90deg,#03030b 0px,#050511 72px,#000002 116px,#070719 128px,#151545 136px,#2f268e 144px,#5027bc 150px,#a33477 156px,#ff4026 161px,#eb7208 167px,#e67d01 172px,#ef670f 178px,#fe4225 183px,#913286 192px,#5027bc 200px,#242478 217px,#13133f 231px,#070718 252px,#010103 296px,#000001 332px)"></i><i style="height:1px;background:linear-gradient(90deg,#03030a 0px,#050511 72px,#000002 116px,#070719 128px,#151545 136px,#2f268f 144px,#4926b9 149px,#5127bb 150px,#a73574 156px,#f33e31 160px,#fe4324 161px,#e97606 167px,#e68101 172px,#ee6a0d 178px,#fd4424 183px,#eb3d38 185px,#913286 192px,#5027bc 200px,#242477 217px,#13133e 231px,#070717 253px,#010103 300px,#000001 332px)"></i><i style="height:1px;background:linear-gradient(90deg,#03030a 0px,#050511 72px,#000002 116px,#070719 128px,#151546 136px,#30268f 144px,#4a26ba 149px,#5327ba 150px,#aa3571 156px,#f73f2d 160px,#f8511c 162px,#e67e01 168px,#e68301 173px,#f06510 179px,#fb3f2a 184px,#923286 192px,#4f27bd 200px,#232376 217px,#12123d 231px,#070716 253px,#010103 300px,#000001 332px)"></i><i style="height:1px;background:linear-gradient(90deg,#03030a 0px,#050510 73px,#000002 116px,#070719 128px,#151546 136px,#302690 144px,#4a26bc 149px,#612aae 151px,#ae366d 156px,#fc3f29 160px,#e97805 166px,#e68904 171px,#e77b03 176px,#fd3f28 184px,#923286 192px,#4f27bd 200px,#232374 217px,#12123c 231px,#060616 253px,#010102 301px,#000001 332px)"></i><i style="height:1px;background:linear-gradient(90deg,#03030a 0px,#050510 73px,#000002 116px,#070719 128px,#151546 136px,#302690 144px,#4b26bd 149px,#7f2f95 153px,#c63958 157px,#fe4125 160px,#e77c02 166px,#e68d05 171px,#e87804 177px,#ff4026 184px,#923285 192px,#4e27be 200px,#232373 217px,#12123b 231px,#060615 253px,#010102 302px,#000001 332px)"></i><i style="height:1px;background:linear-gradient(90deg,#030309 0px,#050510 73px,#000002 116px,#070719 128px,#151547 136px,#312691 144px,#4c26be 149px,#a13479 155px,#f33e31 159px,#fd4523 160px,#e68000 166px,#e69107 171px,#e77b03 177px,#fe4125 184px,#923285 192px,#4e26be 200px,#222272 217px,#11113a 231px,#060615 253px,#010102 302px,#000001 332px)"></i><i style="height:1px;background:linear-gradient(90deg,#030309 0px,#050510 74px,#000002 116px,#070719 128px,#151547 136px,#312691 144px,#4c26bf 149px,#a43476 155px,#f83f2d 159px,#f7541a 161px,#e77d02 165px,#e69508 170px,#e68a04 175px,#e97705 178px,#fe4325 184px,#923285 192px,#4d26bf 200px,#20206b 218px,#101036 232px,#050512 255px,#000001 310px,#000001 332px)"></i><i style="height:1px;background:linear-gradient(90deg,#030309 0px,#050510 74px,#000002 116px,#070719 128px,#151547 136px,#312692 144px,#4d26bf 149px,#a83573 155px,#fd3f28 159px,#e68101 165px,#e6990a 170px,#e68e06 175px,#e87a03 178px,#fd4424 184px,#e73d3b 186px,#923285 192px,#4d26bf 200px,#292683 213px,#141441 228px,#070719 248px,#010104 289px,#000001 332px)"></i><i style="height:1px;background:linear-gradient(90deg,#030309 0px,#05050f 75px,#000002 116px,#080819 128px,#151548 136px,#2d268b 143px,#4f27be 149px,#973381 154px,#fe4125 159px,#e77c02 164px,#e69c0b 169px,#e69609 174px,#e77d02 178px,#fd4523 184px,#f83f2c 185px,#923285 192px,#4c26bf 200px,#282683 213px,#131340 228px,#070718 248px,#010103 290px,#000001 332px)"></i><i style="height:1px;background:linear-gradient(90deg,#030308 0px,#05050f 75px,#000002 116px,#080819 128px,#161648 136px,#2d268b 143px,#5027bc 149px,#99337f 154px,#f13e33 158px,#fd4523 159px,#e68100 164px,#e6a00d 169px,#e59a0b 174px,#e68000 178px,#fc4722 184px,#fa3f2b 185px,#923285 192px,#4c26be 200px,#282682 213px,#141442 227px,#08081a 246px,#010104 285px,#000000 332px)"></i><i style="height:1px;background:linear-gradient(90deg,#020208 0px,#04040f 75px,#010102 117px,#080819 128px,#161648 136px,#2e268c 143px,#4826b8 148px,#5127bb 149px,#9c337d 154px,#f63f2e 158px,#fc4821 159px,#e77b03 163px,#e6a10e 168px,#e6a20e 173px,#e87a04 179px,#fc3f29 185px,#923285 192px,#4c26be 200px,#20206b 217px,#101035 231px,#050512 253px,#000001 307px,#000000 332px)"></i><i style="height:1px;background:linear-gradient(90deg,#020208 0px,#04040f 76px,#010102 117px,#080819 128px,#161648 136px,#2e268c 143px,#4926b9 148px,#5327ba 149px,#a0347a 154px,#fb3f2a 158px,#e67f00 163px,#e6a60f 168px,#e6a610 173px,#e77c02 179px,#fd4028 185px,#923285 192px,#5227bb 199px,#4726b7 201px,#20206a 217px,#101034 231px,#050512 253px,#000001 308px,#000000 332px)"></i><i style="height:1px;background:linear-gradient(90deg,#020208 0px,#04040e 76px,#010102 117px,#080819 128px,#161649 136px,#2e268d 143px,#4a26ba 148px,#5427b9 149px,#a33477 154px,#ff4026 158px,#e68301 163px,#e6ab11 168px,#e5ab11 173px,#e67f00 179px,#ff4026 185px,#923285 192px,#5127bc 199px,#4026ab 203px,#1f1f68 217px,#0f0f33 231px,#050511 253px,#000001 309px,#000000 332px)"></i><i style="height:1px;background:linear-gradient(90deg,#020207 0px,#04040e 76px,#010102 117px,#080819 128px,#161649 136px,#2f268d 143px,#4a26bb 148px,#632aac 150px,#a63574 154px,#ed3d36 157px,#fe4324 158px,#e77b02 162px,#e6ab11 167px,#e6b415 171px,#e69c0c 176px,#e68101 179px,#ff4126 185px,#923285 192px,#5027bc 199px,#242478 214px,#13133e 227px,#070717 247px,#010103 290px,#000000 332px)"></i><i style="height:1px;background:linear-gradient(90deg,#020207 0px,#04040e 77px,#010102 117px,#080819 128px,#161649 136px,#2a2686 142px,#4b26bc 148px,#742d9e 151px,#aa3571 154px,#f23e32 157px,#fc4722 158px,#e68000 162px,#e6b013 167px,#e6b917 171px,#e6a00d 176px,#e87904 180px,#fe4225 185px,#923286 192px,#4f27bd 199px,#242477 214px,#12123d 227px,#070716 247px,#010103 290px,#000000 332px)"></i><i style="height:1px;background:linear-gradient(90deg,#020207 0px,#04040e 77px,#010102 117px,#080819 128px,#16164a 136px,#2b2687 142px,#4b26bd 148px,#973381 153px,#f63f2e 157px,#fb4a20 158px,#e68402 162px,#e6b515 167px,#e6be19 171px,#e6a40e 176px,#e77c02 180px,#fe4325 185px,#913286 192px,#4e27be 199px,#232375 214px,#12123c 227px,#060615 247px,#010102 291px,#000000 332px)"></i><i style="height:1px;background:linear-gradient(90deg,#020207 0px,#04040d 78px,#010102 117px,#080819 128px,#16164a 136px,#2b2687 142px,#4c26be 148px,#99337f 153px,#fb3f2a 157px,#e77b03 161px,#e6b415 166px,#e6c220 170px,#e6b616 174px,#e67e01 180px,#fd4424 185px,#cf3a50 188px,#913286 192px,#4e26be 199px,#21216e 215px,#111137 228px,#060613 249px,#010102 298px,#000000 332px)"></i><i style="height:1px;background:linear-gradient(90deg,#020207 0px,#04040d 78px,#010102 117px,#080819 128px,#16164a 136px,#30268f 143px,#4d26bf 148px,#9c337d 153px,#ff4026 157px,#e67f00 161px,#e6b917 166px,#e6c529 170px,#e6bb18 174px,#e68000 180px,#fd4423 185px,#e13c40 187px,#913286 192px,#4d26bf 199px,#282683 211px,#131340 225px,#070718 244px,#010103 284px,#000000 332px)"></i><i style="height:1px;background:linear-gradient(90deg,#020206 0px,#04040d 78px,#010102 117px,#080819 128px,#16164a 136px,#302690 143px,#4e26be 148px,#9f347a 153px,#fe4324 157px,#e68301 161px,#e6be19 166px,#e6c830 169px,#e6c62b 172px,#e6b716 175px,#e68201 180px,#fd4523 185px,#f53e2f 186px,#903287 192px,#4c26bf 199px,#282682 211px,#141442 224px,#08081a 242px,#010104 279px,#000000 332px)"></i><i style="height:1px;background:linear-gradient(90deg,#020206 0px,#04040d 79px,#010102 117px,#080819 128px,#16164b 136px,#302690 143px,#4f27bd 148px,#a33477 153px,#ef3e34 156px,#fc4722 157px,#e87804 160px,#e6b014 164px,#e6c62c 167px,#e6cb3a 170px,#e6c62b 173px,#e6b214 176px,#e68502 180px,#fc4622 185px,#f63f2e 186px,#903187 192px,#4c26be 199px,#21216f 214px,#11113a 226px,#060615 245px,#010102 288px,#000000 332px)"></i><i style="height:1px;background:linear-gradient(90deg,#020206 0px,#04040c 79px,#010102 117px,#08081a 128px,#16164b 136px,#302690 143px,#5027bc 148px,#a63574 153px,#f43e30 156px,#fb4a20 157px,#e77c02 160px,#e6c01b 165px,#e6cd3d 168px,#e6ce40 171px,#e6c427 174px,#e6b616 176px,#e87a03 181px,#fc4722 185px,#f63f2e 186px,#8f3187 192px,#5227ba 198px,#4726b6 200px,#21216d 214px,#111139 226px,#060615 245px,#010102 289px,#000000 332px)"></i><i style="height:1px;background:linear-gradient(90deg,#020206 0px,#04040c 80px,#010102 117px,#08081a 128px,#16164b 136px,#312691 143px,#5127bb 148px,#923285 152px,#f83f2c 156px,#f35e14 158px,#e68000 160px,#e6bb18 164px,#e6d046 168px,#e6d149 171px,#e6c72e 174px,#e6ae13 177px,#e77c02 181px,#fc4822 185px,#f73f2d 186px,#9c337d 191px,#5127bb 198px,#4326af 201px,#20206c 214px,#111138 226px,#060613 246px,#010102 293px,#000000 332px)"></i><i style="height:1px;background:linear-gradient(90deg,#020206 0px,#04040c 80px,#010102 117px,#08081a 128px,#141443 135px,#312691 143px,#4826b9 147px,#5327ba 148px,#953283 152px,#fd4028 156px,#e68502 160px,#e6c01c 164px,#e6d148 167px,#e6d555 170px,#e6ce42 173px,#e6bd19 176px,#e67e01 181px,#fc4821 185px,#f83f2c 186px,#9b337e 191px,#5027bc 198px,#26267e 211px,#141444 222px,#08081b 239px,#010105 273px,#000000 332px)"></i><i style="height:1px;background:linear-gradient(90deg,#020205 0px,#04040c 80px,#010102 117px,#08081a 128px,#141443 135px,#312692 143px,#4926b9 147px,#5427b9 148px,#973381 152px,#fe4225 156px,#e97805 159px,#e6aa11 162px,#e6c325 164px,#e6d452 167px,#e5d95e 170px,#e6d14a 173px,#e6c01c 176px,#e68000 181px,#fb4921 185px,#f93f2c 186px,#9a337e 191px,#4f27bd 198px,#232375 212px,#12123c 224px,#070716 242px,#010103 282px,#000000 332px)"></i><i style="height:1px;background:linear-gradient(90deg,#020205 0px,#03030b 81px,#010102 117px,#08081a 128px,#141443 135px,#312692 143px,#4926ba 147px,#5528b8 148px,#993380 152px,#ea3d39 155px,#fd4523 156px,#e77c02 159px,#e6be19 163px,#e6d450 166px,#e6dc67 169px,#e5d85c 172px,#e6b917 177px,#e68201 181px,#fb4920 185px,#f93f2b 186px,#9a337f 191px,#4e27be 198px,#232373 212px,#12123b 224px,#070716 242px,#010103 282px,#000000 332px)"></i><i style="height:1px;background:linear-gradient(90deg,#010105 0px,#03030b 81px,#010102 117px,#08081a 128px,#141443 135px,#322693 143px,#4a26bb 147px,#662aaa 149px,#9c337d 152px,#ee3e35 155px,#fc4822 156px,#e68000 159px,#e6c221 163px,#e6d75a 166px,#e6e071 169px,#e6dc65 172px,#e6cc3b 175px,#e6bc18 177px,#e68302 181px,#fb4a20 185px,#fa3f2b 186px,#993380 191px,#4d26bf 198px,#282683 209px,#131340 222px,#070719 239px,#010104 275px,#000000 332px)"></i><i style="height:1px;background:linear-gradient(90deg,#010105 0px,#03030b 82px,#010102 117px,#08081a 128px,#141443 135px,#322693 143px,#4a26bc 147px,#672ba9 149px,#9f347b 152px,#f33e31 155px,#fb4b20 156px,#e68402 159px,#e6ba17 162px,#e6db64 166px,#e6e47b 169px,#e6df6e 172px,#e6cf42 175px,#e6bf1a 177px,#e68502 181px,#fa3f2b 186px,#983380 191px,#4c26bf 198px,#282682 209px,#141442 221px,#08081a 238px,#010104 272px,#000000 332px)"></i><i style="height:1px;background:linear-gradient(90deg,#010105 0px,#03030b 82px,#010102 117px,#08081a 128px,#141443 135px,#322693 143px,#4b26bd 147px,#7a2e9a 150px,#bd3760 153px,#f73f2d 155px,#f94e1e 156px,#ea7506 158px,#e68804 159px,#e6bf1a 162px,#e6d95e 165px,#e6e683 168px,#e7e786 170px,#e6de6b 173px,#e6c11f 177px,#e68703 181px,#f55917 184px,#fa3f2a 186px,#973381 191px,#5427b9 197px,#4b26bd 198px,#21216e 212px,#101037 224px,#060613 243px,#010102 288px,#000000 332px)"></i><i style="height:1px;background:linear-gradient(90deg,#010104 0px,#03030a 83px,#010103 118px,#09091e 129px,#17174c 136px,#322694 143px,#4b26bd 147px,#8e3189 151px,#fb3f29 155px,#e87904 158px,#e6b315 161px,#e6c323 162px,#e6dd69 165px,#e9e990 168px,#e9e993 170px,#e6e173 173px,#e6b716 178px,#e68804 181px,#ee690d 183px,#fb3f2a 186px,#973381 191px,#5227ba 197px,#4626b5 199px,#20206c 212px,#101036 224px,#050512 243px,#000002 289px,#000000 332px)"></i><i style="height:1px;background:linear-gradient(90deg,#010104 0px,#03030a 83px,#010103 118px,#09091e 129px,#17174c 136px,#332694 143px,#4c26be 147px,#903187 151px,#ff4026 155px,#e77d02 158px,#e6b917 161px,#e6e173 165px,#ecec9e 168px,#ececa0 170px,#e6e47c 173px,#e6ba18 178px,#e87a03 182px,#fb3f2a 186px,#963282 191px,#5127bb 197px,#4226ad 200px,#20206a 212px,#101034 224px,#050512 243px,#000001 290px,#000000 332px)"></i><i style="height:1px;background:linear-gradient(90deg,#010104 0px,#03030a 84px,#010103 118px,#09091e 129px,#17174d 136px,#332695 143px,#4c26bf 147px,#923286 151px,#fe4324 155px,#e68101 158px,#e6be19 161px,#e6dd69 164px,#ececa2 167px,#efefaf 169px,#ededa5 171px,#e6d95f 175px,#e6bd19 178px,#e77b03 182px,#fb3f2a 186px,#953283 191px,#5027bd 197px,#25257d 209px,#151545 219px,#08081b 235px,#010105 267px,#000000 332px)"></i><i style="height:1px;background:linear-gradient(90deg,#010104 0px,#03030a 84px,#010103 118px,#09091e 129px,#17174d 136px,#2e268c 142px,#4d26bf 147px,#933284 151px,#e93d3a 154px,#fd4623 155px,#e68502 158px,#e6c221 161px,#e8e88c 165px,#efefb1 167px,#f2f2bd 169px,#f0f0b2 171px,#e6e47b 174px,#e6c01b 178px,#e77c02 182px,#fb3f2a 186px,#943284 191px,#4e27be 197px,#232374 210px,#12123c 221px,#070716 238px,#010103 276px,#000000 332px)"></i><i style="height:1px;background:linear-gradient(90deg,#010104 0px,#030309 84px,#010103 118px,#09091e 129px,#17174d 136px,#2e268d 142px,#4e27be 147px,#953283 151px,#ed3d36 154px,#fb4921 155px,#ea7307 157px,#e68904 158px,#e6b515 160px,#e6c52a 161px,#ebeb9a 165px,#f2f2bf 167px,#f5f5cc 169px,#f2f2bf 171px,#e6e684 174px,#e6c220 178px,#e67d01 182px,#fa3f2a 186px,#933285 191px,#4d26bf 197px,#292684 207px,#141442 219px,#080819 235px,#010104 268px,#000000 332px)"></i><i style="height:1px;background:linear-gradient(90deg,#010104 0px,#030309 85px,#010103 118px,#09091e 129px,#17174d 136px,#2e268d 142px,#4f27bd 147px,#973381 151px,#f13e33 154px,#fa4c1f 155px,#e97705 157px,#e6a40f 159px,#e6ba17 160px,#e8e88d 164px,#f2f2bf 166px,#f7f7d8 168px,#f7f7d6 170px,#f2f2bc 172px,#e6d85b 176px,#e6c324 178px,#e6a20e 180px,#e67e01 182px,#fa3f2b 186px,#923286 191px,#4c26be 197px,#282683 207px,#131340 219px,#070719 235px,#010104 268px,#000000 332px)"></i><i style="height:1px;background:linear-gradient(90deg,#010103 0px,#030309 85px,#010103 118px,#09091e 129px,#17174d 136px,#2e268d 142px,#5027bc 147px,#99337f 151px,#f53e2f 154px,#f94f1d 155px,#e77b03 157px,#e6bf19 160px,#ebeb9b 164px,#f5f5ce 166px,#fafae7 168px,#fafae5 170px,#f4f4c9 172px,#e6da61 176px,#e6c529 178px,#e6b616 179px,#e67f00 182px,#fa4c1f 185px,#fa3f2b 186px,#a13479 190px,#5427b9 196px,#4b26bd 197px,#21216e 210px,#111137 221px,#060614 238px,#010102 278px,#000000 332px)"></i><i style="height:1px;background:linear-gradient(90deg,#010103 0px,#030308 86px,#010103 118px,#09091e 129px,#17174d 136px,#2f268d 142px,#5127bc 147px,#9c337d 151px,#f93f2c 154px,#ef680e 156px,#e67f00 157px,#e6c222 160px,#eeeeaa 164px,#f8f8de 166px,#fdfdf7 168px,#fdfdf3 170px,#f7f7d6 172px,#e6dd68 176px,#e6b917 179px,#e68000 182px,#fa4c1f 185px,#f93f2b 186px,#9f347a 190px,#5227ba 196px,#4626b4 198px,#20206b 210px,#101036 221px,#050512 239px,#000001 283px,#000000 332px)"></i><i style="height:1px;background:linear-gradient(90deg,#010103 0px,#020208 86px,#010103 118px,#09091e 129px,#17174d 136px,#2f268e 142px,#4726b7 146px,#5227bb 147px,#9e347b 151px,#fd4028 154px,#e68301 157px,#e6b314 159px,#e6c62b 160px,#eaea96 163px,#f7f7d6 165px,#fffffe 167px,#ffffff 170px,#f9f9e3 172px,#e8e88d 175px,#e6bb18 179px,#e68101 182px,#fa4c1f 185px,#f83f2c 186px,#9d347c 190px,#5127bc 196px,#262680 207px,#141444 217px,#08081b 232px,#010105 262px,#000000 332px)"></i><i style="height:1px;background:linear-gradient(90deg,#010103 0px,#020208 87px,#010103 118px,#09091e 129px,#17174d 136px,#2f268e 142px,#4826b7 146px,#5327ba 147px,#a13479 151px,#fe4125 154px,#e68703 157px,#e6b816 159px,#e6e47d 162px,#f4f4c8 164px,#fffffe 166px,#ffffff 171px,#fcfcf0 172px,#eaea96 175px,#e6bd19 179px,#e68201 182px,#fa4c1f 185px,#f83f2d 186px,#9c337d 190px,#4f27bd 196px,#232376 208px,#13133e 218px,#070717 234px,#010103 268px,#000000 332px)"></i><i style="height:1px;background:linear-gradient(90deg,#010103 0px,#020208 87px,#010103 118px,#09091e 129px,#17174d 136px,#2f268e 142px,#4826b8 146px,#5427b9 147px,#a33477 151px,#fd4424 154px,#eb7208 156px,#e68b04 157px,#e6bd19 159px,#e8e88a 162px,#f7f7d8 164px,#fdfdf7 165px,#ffffff 167px,#fffffd 172px,#ececa0 175px,#e6bf19 179px,#e68201 182px,#fa4b1f 185px,#f73f2d 186px,#9a337f 190px,#4d26bf 196px,#232373 208px,#12123c 218px,#070716 234px,#010103 269px,#000000 332px)"></i><i style="height:1px;background:linear-gradient(90deg,#010103 0px,#020207 88px,#010103 118px,#09091e 129px,#17174d 136px,#2f268e 142px,#4926b9 146px,#5428b9 147px,#a53575 151px,#e63d3c 153px,#fc4622 154px,#e97606 156px,#e68f06 157px,#e6c11e 159px,#eaea98 162px,#fafae8 164px,#ffffff 165px,#ffffff 172px,#fcfcef 173px,#e6e682 176px,#e6c01c 179px,#e68301 182px,#fb4b20 185px,#f63f2e 186px,#983380 190px,#4c26be 196px,#292685 205px,#141443 216px,#08081c 230px,#010105 259px,#000000 332px)"></i><i style="height:1px;background:linear-gradient(90deg,#010103 0px,#020207 88px,#010103 118px,#09091d 129px,#17174d 136px,#2f268e 142px,#4926b9 146px,#5528b8 147px,#8e3189 150px,#e93d39 153px,#fb4921 154px,#e87904 156px,#e6ad12 158px,#e6c426 159px,#e6e378 161px,#fefef8 164px,#ffffff 168px,#fefefb 173px,#e6dc65 177px,#e6c11f 179px,#e68302 182px,#fb4a20 185px,#f53e2f 186px,#973382 190px,#5428b9 195px,#4b26bd 196px,#292683 205px,#141441 216px,#080819 231px,#010104 262px,#000000 332px)"></i><i style="height:1px;background:linear-gradient(90deg,#010102 0px,#020207 89px,#010104 119px,#09091d 129px,#17174d 136px,#2f268f 142px,#4926ba 146px,#5628b7 147px,#903187 150px,#ed3d36 153px,#fa4b1f 154px,#e77d02 156px,#e6b214 158px,#e6c72f 159px,#e6e684 161px,#f9f9e2 163px,#ffffff 164px,#ffffff 173px,#fafae4 174px,#e6de6b 177px,#e6c322 179px,#e68402 182px,#fb4a20 185px,#f33e31 186px,#953283 190px,#5227ba 195px,#4526b3 197px,#21216c 208px,#111138 218px,#060614 234px,#010102 272px,#000000 332px)"></i><i style="height:1px;background:linear-gradient(90deg,#010102 0px,#020207 89px,#010104 119px,#09091d 129px,#17174d 136px,#2f268f 142px,#4926ba 146px,#5728b7 147px,#913286 150px,#f03e33 153px,#f94e1e 154px,#e68000 156px,#e6b616 158px,#e6cb38 159px,#e9e992 161px,#fcfcf2 163px,#ffffff 164px,#ffffff 173px,#fcfcef 174px,#e6e070 177px,#e6c425 179px,#e59a0a 181px,#e68402 182px,#fb4921 185px,#f23e32 186px,#933284 190px,#5127bc 195px,#272681 205px,#141442 215px,#08081b 229px,#010104 258px,#000000 332px)"></i><i style="height:1px;background:linear-gradient(90deg,#010102 0px,#020206 90px,#010104 119px,#09091d 129px,#17174d 136px,#2f268f 142px,#4a26bb 146px,#5728b6 147px,#923285 150px,#f43e30 153px,#f8501c 154px,#e68402 156px,#e6bb18 158px,#ececa0 161px,#ffffff 163px,#fefefa 174px,#e6e175 177px,#e6c528 179px,#e6b114 180px,#e68402 182px,#fc4821 185px,#f03e33 186px,#913286 190px,#4f27be 195px,#242477 206px,#131341 215px,#08081a 229px,#010104 258px,#000000 332px)"></i><i style="height:1px;background:linear-gradient(90deg,#010102 0px,#020206 90px,#010104 119px,#09091d 129px,#17174d 136px,#30268f 142px,#4a26bb 146px,#6a2ba6 148px,#943284 150px,#f73f2d 153px,#f7531b 154px,#e68803 156px,#e6c01b 158px,#e6e378 160px,#f9f9e3 162px,#ffffff 163px,#ffffff 174px,#eeeea9 176px,#e6d452 178px,#e6c62b 179px,#e6b214 180px,#e68402 182px,#fc4722 185px,#ee3e35 186px,#8f3187 190px,#4d26bf 195px,#282683 204px,#141443 214px,#08081a 228px,#010105 256px,#000000 332px)"></i><i style="height:1px;background:linear-gradient(90deg,#010102 0px,#020206 91px,#010104 119px,#09091d 129px,#17174d 136px,#30268f 142px,#4a26bc 146px,#6b2ba6 148px,#953283 150px,#fb3f2a 153px,#ec7009 155px,#e68b05 156px,#e6c323 158px,#e6e683 160px,#fdfdf3 162px,#ffffff 163px,#ffffff 174px,#f9f9e1 175px,#e6e57e 177px,#e6c72d 179px,#e6b315 180px,#e68402 182px,#fc4622 185px,#ed3d36 186px,#a0347a 189px,#5628b7 194px,#4b26be 195px,#2a2686 203px,#141441 214px,#08081a 228px,#010104 257px,#000000 332px)"></i><i style="height:1px;background:linear-gradient(90deg,#010102 0px,#020205 92px,#010104 119px,#09091d 129px,#17174d 136px,#30268f 142px,#4b26bc 146px,#6c2ca5 148px,#963382 150px,#fe4027 153px,#eb7308 155px,#e68f06 156px,#e6ac12 157px,#e6c62b 158px,#e9e990 160px,#ffffff 162px,#ffffff 174px,#fbfbeb 175px,#e6e684 177px,#e6c830 179px,#e6b415 180px,#e68402 182px,#fd4523 185px,#cf3a50 187px,#8b318b 190px,#5427b9 194px,#4a26bc 195px,#292685 203px,#131340 214px,#070719 228px,#010104 258px,#000000 332px)"></i><i style="height:1px;background:linear-gradient(90deg,#010102 0px,#020205 92px,#010104 119px,#09091d 129px,#17174d 136px,#30268f 142px,#4b26bc 146px,#6d2ca4 148px,#983380 150px,#fe4125 153px,#e97606 155px,#e69208 156px,#e6b014 157px,#e6c933 158px,#ebeb9d 160px,#f8f8da 161px,#ffffff 162px,#ffffff 174px,#fdfdf4 175px,#e7e789 177px,#e6c832 179px,#e6b515 180px,#e68402 182px,#fd4424 185px,#9a337e 189px,#5227bb 194px,#3f26a9 197px,#1e1e65 207px,#0f0f32 217px,#050511 233px,#000001 275px,#000000 332px)"></i><i style="height:1px;background:linear-gradient(90deg,#000002 0px,#010105 93px,#020205 120px,#0a0a21 130px,#17174d 136px,#30268f 142px,#4b26bd 146px,#822f92 149px,#99337f 150px,#fe4324 153px,#e87904 155px,#e6b515 157px,#e6cc3b 158px,#eeeeab 160px,#fbfbe9 161px,#ffffff 162px,#fffffd 175px,#e9e98f 177px,#e6c934 179px,#e6b515 180px,#e68402 182px,#fe4324 185px,#983381 189px,#4f27bd 194px,#25257b 204px,#131340 213px,#070718 227px,#010104 256px,#000000 332px)"></i><i style="height:1px;background:linear-gradient(90deg,#000002 0px,#010105 93px,#020205 120px,#0a0a21 130px,#17174d 136px,#30268f 142px,#4b26bd 146px,#832f92 149px,#9b337e 150px,#fd4523 153px,#e77c02 155px,#e6b917 157px,#e6e378 159px,#fefef9 161px,#ffffff 167px,#ffffff 175px,#e5db62 178px,#e6ca35 179px,#e6b616 180px,#e68301 182px,#fe4125 185px,#963282 189px,#4d26bf 194px,#2a2686 202px,#141443 212px,#08081b 225px,#010105 251px,#000000 332px)"></i><i style="height:1px;background:linear-gradient(90deg,#000001 0px,#010104 94px,#010105 120px,#0a0a21 130px,#17174c 136px,#30268f 142px,#4b26bd 146px,#843091 149px,#be385f 151px,#e33c3f 152px,#fc4722 153px,#e67f00 155px,#e6be19 157px,#e6e683 159px,#f4f4c7 160px,#ffffff 161px,#ffffff 175px,#f7f7d5 176px,#e6dc65 178px,#e6ca37 179px,#e6b616 180px,#e68201 182px,#ff4026 185px,#aa3571 188px,#732da0 191px,#4c26be 194px,#292684 202px,#141441 212px,#08081a 225px,#010104 252px,#000000 332px)"></i><i style="height:1px;background:linear-gradient(90deg,#000001 0px,#010104 94px,#010105 120px,#0a0a21 130px,#17174c 136px,#30268f 142px,#4b26be 146px,#853090 149px,#c0385d 151px,#e63d3c 152px,#fb4921 153px,#e68201 155px,#e6c11e 157px,#e9e98f 159px,#f7f7d5 160px,#ffffff 161px,#ffffff 175px,#f8f8db 176px,#e6dc67 178px,#e6cb38 179px,#e6b616 180px,#e68201 182px,#fd3f28 185px,#a63574 188px,#622aae 192px,#4a26bc 194px,#20206a 205px,#101037 214px,#060613 229px,#010102 265px,#000000 332px)"></i><i style="height:1px;background:linear-gradient(90deg,#000001 0px,#010104 95px,#010105 120px,#0a0a21 130px,#17174c 136px,#30268f 142px,#4c26be 146px,#86308f 149px,#c2385c 151px,#e83d3a 152px,#fa4b1f 153px,#e68502 155px,#e6c425 157px,#ebeb9c 159px,#f9f9e3 160px,#ffffff 161px,#ffffff 175px,#f9f9e2 176px,#e6dd6a 178px,#e6cb39 179px,#e6b616 180px,#e68100 182px,#fa3f2b 185px,#a33477 188px,#5f29b0 192px,#5227bb 193px,#4426b0 195px,#222270 204px,#111139 213px,#060615 227px,#010102 259px,#000000 332px)"></i><i style="height:1px;background:linear-gradient(90deg,#000001 0px,#010104 96px,#010105 120px,#0a0a21 130px,#17174c 136px,#30268f 142px,#4c26be 146px,#87308f 149px,#c4385a 151px,#ea3d38 152px,#fa4d1e 153px,#e68803 155px,#e5a910 156px,#e6c62c 157px,#eeeea8 159px,#fcfcf2 160px,#ffffff 161px,#ffffff 175px,#fafae8 176px,#e6de6c 178px,#e5cc3a 179px,#e6b616 180px,#e68000 182px,#f9501d 184px,#f73f2d 185px,#9f347a 188px,#5c29b2 192px,#4f27bd 193px,#26267f 202px,#151545 210px,#09091d 222px,#020205 246px,#000000 332px)"></i><i style="height:1px;background:linear-gradient(90deg,#000001 0px,#010103 96px,#010105 120px,#0a0a21 130px,#17174b 136px,#30268f 142px,#4c26be 146px,#87308e 149px,#c63958 151px,#ed3d36 152px,#f94f1d 153px,#ed6c0c 154px,#e68b05 155px,#e6ac12 156px,#e6c933 157px,#e6df6e 158px,#ffffff 160px,#ffffff 175px,#fcfcee 176px,#e6df6e 178px,#e5cc3b 179px,#e6b616 180px,#e67e01 182px,#f94e1e 184px,#f43e30 185px,#9c337d 188px,#4d26bf 193px,#2c2688 200px,#13133e 211px,#070718 224px,#010103 252px,#000000 332px)"></i><i style="height:1px;background:linear-gradient(90deg,#000001 0px,#010103 97px,#020206 121px,#0a0a20 130px,#17174b 136px,#30268f 142px,#4c26be 146px,#88308e 149px,#c73957 151px,#ef3e34 152px,#f8511c 153px,#ec6e0a 154px,#e68e06 155px,#e6b013 156px,#e6cc3a 157px,#e6e277 158px,#f3f3c2 159px,#ffffff 160px,#ffffff 175px,#fdfdf4 176px,#e6df6f 178px,#e6cc3b 179px,#e6b516 180px,#e77d02 182px,#fa4c1f 184px,#f03e33 185px,#983380 188px,#5728b7 192px,#4b26bd 193px,#2a2687 200px,#131341 210px,#08081a 222px,#010105 247px,#000000 332px)"></i><i style="height:1px;background:linear-gradient(90deg,#000001 0px,#010103 98px,#020206 121px,#0a0a20 130px,#16164b 136px,#30268f 142px,#4c26be 146px,#89308d 149px,#c93956 151px,#f13e32 152px,#f7531b 153px,#ec7009 154px,#e69107 155px,#e6b315 156px,#e6ce41 157px,#e6e57f 158px,#f5f5cf 159px,#ffffff 160px,#fefefa 176px,#e6e070 178px,#e5cc3b 179px,#e6b515 180px,#e77b02 182px,#fb4a20 184px,#ed3d36 185px,#953283 188px,#5428b9 192px,#4a26bb 193px,#292685 200px,#141444 209px,#08081b 221px,#010105 245px,#000000 332px)"></i><i style="height:1px;background:linear-gradient(90deg,#000001 0px,#010103 98px,#020206 121px,#0a0a20 130px,#16164b 136px,#2f268f 142px,#4c26be 146px,#89308d 149px,#ca3954 151px,#f33e31 152px,#f7541a 153px,#eb7308 154px,#e69408 155px,#e6b716 156px,#e6d149 157px,#e8e88a 158px,#f8f8dc 159px,#ffffff 160px,#ffffff 176px,#e6e071 178px,#e6cc3b 179px,#e6b415 180px,#e87a03 182px,#fc4821 184px,#e93d3a 185px,#923285 188px,#5127bb 192px,#282683 200px,#141441 209px,#08081a 221px,#010104 246px,#000000 332px)"></i><i style="height:1px;background:linear-gradient(90deg,#000001 0px,#010102 99px,#020206 121px,#0b0b25 131px,#191955 137px,#2f268f 142px,#4c26be 146px,#8a308c 149px,#cc3953 151px,#f53f2f 152px,#f65619 153px,#ea7506 154px,#e59609 155px,#e6bb18 156px,#e6d450 157px,#eaea95 158px,#fbfbe9 159px,#ffffff 160px,#ffffff 176px,#e6e072 178px,#e6cc3a 179px,#e6b315 180px,#e97805 182px,#fd4523 184px,#8f3188 188px,#4e27be 192px,#242479 201px,#13133f 209px,#080819 221px,#010104 247px,#000000 332px)"></i><i style="height:1px;background:linear-gradient(90deg,#000001 0px,#010102 100px,#020207 122px,#0b0b25 131px,#191954 137px,#2f268e 142px,#4c26be 146px,#8a318c 149px,#cd3a52 151px,#f73f2d 152px,#f65718 153px,#e97705 154px,#e6be19 156px,#e6d657 157px,#ececa0 158px,#fdfdf6 159px,#ffffff 161px,#ffffff 176px,#e6e172 178px,#e6cb39 179px,#e6b214 180px,#e69308 181px,#e97606 182px,#fe4324 184px,#a23477 187px,#5928b5 191px,#4c26be 192px,#2a2685 199px,#141442 208px,#08081a 220px,#010104 245px,#000000 332px)"></i><i style="height:1px;background:linear-gradient(90deg,#000001 0px,#010102 101px,#020207 122px,#0b0b24 131px,#191954 137px,#2f268e 142px,#4c26be 146px,#8a318c 149px,#ce3a51 151px,#f93f2c 152px,#e87904 154px,#e69c0b 155px,#e6c11d 156px,#e5d95e 157px,#ffffff 159px,#ffffff 176px,#e6e172 178px,#e6cb38 179px,#e6b014 180px,#e69107 181px,#ea7407 182px,#ff4026 184px,#9e347b 187px,#5628b7 191px,#4a26bc 192px,#1f1f69 202px,#101036 210px,#060614 223px,#010102 254px,#000000 332px)"></i><i style="height:1px;background:linear-gradient(90deg,#000001 0px,#010102 101px,#020207 122px,#0b0b24 131px,#191953 137px,#2f268e 142px,#4c26be 146px,#8b318b 149px,#cf3a50 151px,#fa3f2a 152px,#e77b03 154px,#e69e0c 155px,#e6c323 156px,#e6db65 157px,#ffffff 159px,#ffffff 176px,#f2f2be 177px,#e6e072 178px,#e6ca37 179px,#e6af13 180px,#e68f06 181px,#eb7109 182px,#fb3f29 184px,#99337f 187px,#5327ba 191px,#4326af 193px,#21216e 201px,#111139 209px,#060614 222px,#010102 252px,#000000 332px)"></i><i style="height:1px;background:linear-gradient(90deg,#000001 0px,#000001 102px,#020207 122px,#0b0b24 131px,#191953 137px,#352698 143px,#4c26be 146px,#8b318b 149px,#d03a4f 151px,#fc3f29 152px,#e77d02 154px,#e6a10d 155px,#e6c528 156px,#e6de6c 157px,#f3f3c1 158px,#ffffff 159px,#ffffff 176px,#f2f2bf 177px,#e6e071 178px,#e6c935 179px,#e6ad12 180px,#e68c05 181px,#ec6f0a 182px,#f7531b 183px,#f73f2e 184px,#953283 187px,#4f27bd 191px,#26267f 199px,#151546 206px,#09091d 217px,#020205 239px,#000000 332px)"></i><i style="height:1px;background:linear-gradient(90deg,#000001 0px,#000001 103px,#030309 123px,#0c0c29 132px,#1c1c5e 138px,#352698 143px,#4c26be 146px,#8b318b 149px,#d13a4e 151px,#fd4028 152px,#e67f01 154px,#e5a30e 155px,#e6c72d 156px,#e6e172 157px,#f5f5cb 158px,#ffffff 159px,#ffffff 176px,#f2f2bf 177px,#e6e070 178px,#e6c932 179px,#e6ab11 180px,#e68a04 181px,#f8501c 183px,#f23e32 184px,#923286 187px,#4c26bf 191px,#2c2689 197px,#13133e 207px,#070717 219px,#010103 245px,#000000 332px)"></i><i style="height:1px;background:linear-gradient(90deg,#000001 0px,#000001 104px,#030309 123px,#0c0c29 132px,#1c1c5d 138px,#342697 143px,#4b26bd 146px,#8b318b 149px,#d23a4e 151px,#fe4027 152px,#e68000 154px,#e6a60f 155px,#e6c832 156px,#e6e379 157px,#f7f7d6 158px,#ffffff 159px,#ffffff 176px,#f2f2bf 177px,#e6df6f 178px,#e6c72f 179px,#e6a910 180px,#e68703 181px,#fa4d1e 183px,#ec3d37 184px,#a73573 186px,#682ba9 189px,#4b26bc 191px,#2b2687 197px,#141441 206px,#08081a 217px,#010104 240px,#000000 332px)"></i><i style="height:1px;background:linear-gradient(90deg,#000000 0px,#000000 106px,#03030b 124px,#0c0c28 132px,#1c1c5c 138px,#342697 143px,#4b26bd 146px,#8b318b 149px,#d23a4d 151px,#ff4026 152px,#e68201 154px,#e6a810 155px,#e6ca37 156px,#e6e680 157px,#f9f9e1 158px,#ffffff 159px,#ffffff 176px,#f2f2bf 177px,#e6de6d 178px,#e6c62c 179px,#e6a60f 180px,#e68402 181px,#fb4a20 183px,#e73d3b 184px,#a23478 186px,#642aac 189px,#5427b9 190px,#4926b9 191px,#20206a 200px,#101035 208px,#050512 221px,#000002 253px,#000000 332px)"></i><i style="height:1px;background:linear-gradient(90deg,#000000 0px,#000000 107px,#03030a 124px,#0c0c28 132px,#1c1c5c 138px,#342696 143px,#4b26bd 146px,#722da0 148px,#aa3570 150px,#ff4026 152px,#e68301 154px,#e6aa11 155px,#e5cc3c 156px,#e7e788 157px,#fbfbeb 158px,#ffffff 159px,#ffffff 176px,#f2f2bd 177px,#e6de6a 178px,#e6c529 179px,#e6a30e 180px,#e68101 181px,#fc4622 183px,#9c337d 186px,#5027bc 190px,#282683 197px,#141442 205px,#08081a 216px,#010104 239px,#000000 332px)"></i><i style="height:1px;background:linear-gradient(90deg,#000000 0px,#020205 121px,#0a0a22 131px,#181850 137px,#342696 143px,#4b26bc 146px,#722da0 148px,#aa3571 150px,#ff4126 152px,#e68502 154px,#e5ac12 155px,#e6ce40 156px,#e9e990 157px,#fdfdf6 158px,#ffffff 160px,#ffffff 176px,#f2f2bc 177px,#e6dc67 178px,#e6c325 179px,#e6a00d 180px,#e67e01 181px,#fe4325 183px,#973381 186px,#4c26bf 190px,#2b2687 196px,#13133f 205px,#070719 216px,#010104 239px,#000000 332px)"></i><i style="height:1px;background:linear-gradient(90deg,#000000 0px,#020205 121px,#0a0a22 131px,#18184f 137px,#332695 143px,#4a26bc 146px,#722ca0 148px,#aa3571 150px,#fe4125 152px,#e68603 154px,#e6ae13 155px,#e6cf45 156px,#eaea97 157px,#ffffff 158px,#ffffff 176px,#f1f1b9 177px,#e6db64 178px,#e6c220 179px,#e69d0c 180px,#e87a03 181px,#fd4028 183px,#b1366b 185px,#7d2e97 187px,#5828b6 189px,#4a26bc 190px,#2a2685 196px,#141442 204px,#08081c 214px,#010105 235px,#000000 332px)"></i><i style="height:1px;background:linear-gradient(90deg,#000000 0px,#020205 121px,#0a0a21 131px,#17174e 137px,#332695 143px,#4a26bb 146px,#5b29b3 147px,#8a308c 149px,#d33a4d 151px,#fe4125 152px,#e68703 154px,#e6b013 155px,#e6d149 156px,#ecec9f 157px,#ffffff 158px,#ffffff 176px,#f0f0b6 177px,#e6da60 178px,#e6c01b 179px,#e6990a 180px,#e97605 181px,#f65718 182px,#f73f2d 183px,#ab3570 185px,#792e9b 187px,#5428b9 189px,#4926b9 190px,#21216f 198px,#11113a 205px,#070716 216px,#010103 241px,#000000 332px)"></i><i style="height:1px;background:linear-gradient(90deg,#000000 0px,#020205 121px,#0a0a21 131px,#17174e 137px,#332694 143px,#4a26bb 146px,#5a29b4 147px,#89308d 149px,#a93572 150px,#fe4125 152px,#e68803 154px,#e6b114 155px,#e6d24d 156px,#ededa6 157px,#ffffff 158px,#ffffff 176px,#f0f0b2 177px,#e6d85b 178px,#e6bd19 179px,#e69609 180px,#eb7208 181px,#f7531b 182px,#f03e33 183px,#a43476 185px,#612aae 188px,#5027bc 189px,#272681 196px,#141443 203px,#08081b 213px,#010105 234px,#000000 332px)"></i><i style="height:1px;background:linear-gradient(90deg,#000000 0px,#020205 121px,#0a0a21 131px,#17174d 137px,#2c268a 142px,#4926ba 146px,#5928b4 147px,#88308e 149px,#a83572 150px,#fe4125 152px,#e68804 154px,#e6b314 155px,#e6d450 156px,#eeeeac 157px,#ffffff 158px,#ffffff 176px,#e5d657 178px,#e6b917 179px,#e59207 180px,#ec6e0a 181px,#f94e1d 182px,#e93d39 183px,#9e347c 185px,#5d29b2 188px,#4c26bf 189px,#292685 195px,#131340 203px,#08081a 213px,#010104 234px,#000000 332px)"></i><i style="height:1px;background:linear-gradient(90deg,#000000 0px,#010105 121px,#0a0a20 131px,#17174c 137px,#2c2689 142px,#4926b9 146px,#5828b5 147px,#87308e 149px,#a73573 150px,#fe4125 152px,#e68904 154px,#e6b415 155px,#e6d554 156px,#f0f0b3 157px,#ffffff 158px,#ffffff 176px,#e6d451 178px,#e6b515 179px,#e68d05 180px,#ee6a0d 181px,#fb4a20 182px,#e23c40 183px,#973381 185px,#5828b6 188px,#4a26bb 189px,#21216d 197px,#111138 204px,#060615 215px,#010102 241px,#000000 332px)"></i><i style="height:1px;background:linear-gradient(90deg,#000000 0px,#010105 121px,#0a0a20 131px,#17174b 137px,#2b2688 142px,#4826b8 146px,#5728b6 147px,#86308f 149px,#a63574 150px,#ff4126 152px,#e68904 154px,#e6b515 155px,#e6d657 156px,#f1f1b9 157px,#ffffff 158px,#ffffff 176px,#ececa2 177px,#e6d24b 178px,#e6b114 179px,#e68904 180px,#fd4523 182px,#923285 185px,#5327b9 188px,#4826b7 189px,#232374 196px,#131340 202px,#080819 212px,#010104 233px,#000000 332px)"></i><i style="height:1px;background:linear-gradient(90deg,#000000 0px,#010105 121px,#09091f 131px,#16164a 137px,#312691 143px,#4826b7 146px,#5628b7 147px,#853090 149px,#a43476 150px,#ff4026 152px,#e68a04 154px,#e6b616 155px,#e6d759 156px,#f2f2be 157px,#ffffff 158px,#ffffff 176px,#ebeb9c 177px,#e6cf44 178px,#e6ac12 179px,#e68402 180px,#ff4026 182px,#ab356f 184px,#752d9d 186px,#4f27bd 188px,#25257b 195px,#141444 201px,#09091d 210px,#020205 229px,#000000 332px)"></i><i style="height:1px;background:linear-gradient(90deg,#000000 0px,#010105 121px,#09091f 131px,#161649 137px,#302690 143px,#4726b6 146px,#5528b8 147px,#a33477 150px,#ff4027 152px,#e68a04 154px,#e6b616 155px,#e6d85c 156px,#f3f3c4 157px,#ffffff 158px,#ffffff 176px,#eaea94 177px,#e6cd3d 178px,#e6a710 179px,#e67f01 180px,#f45b16 181px,#f73f2d 182px,#a43476 184px,#5c29b2 187px,#4b26bd 188px,#2c2689 193px,#131341 201px,#070719 211px,#010104 232px,#000000 332px)"></i><i style="height:1px;background:linear-gradient(90deg,#000000 0px,#010105 121px,#09091e 131px,#161648 137px,#302690 143px,#4626b5 146px,#5427b9 147px,#a13479 150px,#fd4028 152px,#e68904 154px,#e6b716 155px,#e6d95e 156px,#f4f4c8 157px,#ffffff 158px,#ffffff 176px,#e8e88b 177px,#e6ca35 178px,#e6a20e 179px,#e87904 180px,#f65519 181px,#ef3e34 182px,#9c337d 184px,#5728b6 187px,#4926b9 188px,#222272 195px,#13133e 201px,#070717 211px,#010103 233px,#000000 332px)"></i><i style="height:1px;background:linear-gradient(90deg,#000000 0px,#010105 121px,#09091e 131px,#151547 137px,#2f268f 143px,#5227ba 147px,#9f347a 150px,#fc3f29 152px,#e68904 154px,#e6b716 155px,#e6d95f 156px,#f5f5cc 157px,#ffffff 158px,#ffffff 175px,#fefef9 176px,#e6e682 177px,#e6c62d 178px,#e69c0c 179px,#ea7307 180px,#f9501d 181px,#e63d3c 182px,#953283 184px,#5227bb 187px,#2d268b 192px,#131341 200px,#08081b 209px,#010105 228px,#000000 332px)"></i><i style="height:1px;background:linear-gradient(90deg,#000000 0px,#010104 121px,#09091d 131px,#151546 137px,#2f268e 143px,#5127bc 147px,#9d337c 150px,#fa3f2b 152px,#e68804 154px,#e6b716 155px,#e5da60 156px,#f6f6d0 157px,#ffffff 158px,#ffffff 175px,#fcfcf1 176px,#e6e379 177px,#e6c323 178px,#e59709 179px,#ed6d0b 180px,#fb4a20 181px,#dd3b44 182px,#8f3188 184px,#4d26bf 187px,#2b2688 192px,#151545 199px,#08081c 208px,#020205 226px,#000000 332px)"></i><i style="height:1px;background:linear-gradient(90deg,#000000 0px,#020205 122px,#0a0a22 132px,#18184f 138px,#352697 144px,#4f27bd 147px,#9a337e 150px,#f73f2d 152px,#e68703 154px,#e6b616 155px,#e5da61 156px,#f6f6d3 157px,#ffffff 158px,#ffffff 175px,#fafae7 176px,#e6e070 177px,#e6bf1a 178px,#e69007 179px,#ef670f 180px,#fd4424 181px,#a93572 183px,#702ca2 185px,#5a29b4 186px,#4a26bb 187px,#21216f 194px,#12123b 200px,#060615 210px,#010103 233px,#000000 332px)"></i><i style="height:1px;background:linear-gradient(90deg,#000000 0px,#020205 122px,#0a0a21 132px,#17174e 138px,#342696 144px,#4d26bf 147px,#983380 150px,#f53e2f 152px,#f35d15 153px,#e68603 154px,#e6b616 155px,#e5da61 156px,#f7f7d5 157px,#ffffff 158px,#ffffff 175px,#f8f8dc 176px,#e6dc66 177px,#e6b917 178px,#e68a04 179px,#fb3f2a 181px,#9f347a 183px,#5528b8 186px,#4726b7 187px,#20206a 194px,#111138 200px,#060614 210px,#010102 234px,#000000 332px)"></i><i style="height:1px;background:linear-gradient(90deg,#000000 0px,#020205 122px,#0a0a20 132px,#17174c 138px,#2d268a 143px,#4c26be 147px,#963282 150px,#f23e32 152px,#f45b16 153px,#e68502 154px,#e6b415 155px,#e6da60 156px,#f7f7d6 157px,#ffffff 158px,#ffffff 175px,#f6f6d0 176px,#e6d85c 177px,#e6b214 178px,#e68301 179px,#f45a16 180px,#f13e33 181px,#973381 183px,#4f27bd 186px,#26267f 192px,#161649 197px,#09091f 205px,#020206 221px,#000000 332px)"></i><i style="height:1px;background:linear-gradient(90deg,#000000 0px,#020205 122px,#090920 132px,#17174b 138px,#2c2689 143px,#4b26bd 147px,#772d9c 149px,#933284 150px,#ee3e35 152px,#f55917 153px,#e68301 154px,#e6b315 155px,#e6d95f 156px,#f7f7d7 157px,#ffffff 158px,#ffffff 175px,#f3f3c3 176px,#e6d450 177px,#e6ab11 178px,#e77c02 179px,#f7531b 180px,#e63d3c 181px,#903187 183px,#5e29b1 185px,#4b26bd 186px,#21216c 193px,#111138 199px,#060614 209px,#010102 233px,#000000 332px)"></i><i style="height:1px;background:linear-gradient(90deg,#000000 0px,#010105 122px,#09091f 132px,#16164a 138px,#2b2688 143px,#4a26bb 147px,#5c29b2 148px,#913286 150px,#eb3d38 152px,#f65718 153px,#e68101 154px,#e6b114 155px,#e6d95d 156px,#f7f7d7 157px,#ffffff 158px,#ffffff 175px,#f0f0b5 176px,#e6cf44 177px,#e6a30e 178px,#ea7407 179px,#fa4c1f 180px,#db3b46 181px,#ac356f 182px,#6e2ca3 184px,#5828b6 185px,#4826b8 186px,#232374 192px,#141441 197px,#08081c 205px,#020205 222px,#000000 332px)"></i><i style="height:1px;background:linear-gradient(90deg,#000000 0px,#010105 122px,#09091e 132px,#161648 138px,#312691 144px,#4926b9 147px,#5a28b4 148px,#8e3189 150px,#b53667 151px,#e73d3c 152px,#f7551a 153px,#e67f01 154px,#e6af13 155px,#e6d85b 156px,#f7f7d6 157px,#ffffff 158px,#ffffff 175px,#ededa6 176px,#e6cb38 177px,#e69b0b 178px,#ed6c0b 179px,#fd4423 180px,#a13478 182px,#682ba9 184px,#5127bb 185px,#2a2686 190px,#151545 196px,#09091d 204px,#020206 220px,#000000 332px)"></i><i style="height:1px;background:linear-gradient(90deg,#000000 0px,#010105 122px,#09091e 132px,#151547 138px,#30268f 144px,#4826b7 147px,#5728b6 148px,#8b318b 150px,#b1366b 151px,#e23c3f 152px,#f8521b 153px,#e77c02 154px,#e6ad12 155px,#e6d758 156px,#f6f6d4 157px,#ffffff 158px,#ffffff 175px,#eaea95 176px,#e6c52a 177px,#e59308 178px,#f06410 179px,#fa3f2a 180px,#973381 182px,#4c26be 185px,#2d268b 189px,#141441 196px,#08081b 204px,#010105 221px,#000000 332px)"></i><i style="height:1px;background:linear-gradient(90deg,#000000 0px,#010105 122px,#09091d 132px,#151545 138px,#2f268e 144px,#4626b5 147px,#5528b8 148px,#88308e 150px,#ac356f 151px,#dd3c44 152px,#f94f1d 153px,#e87904 154px,#e5aa11 155px,#e6d554 156px,#f6f6d1 157px,#ffffff 158px,#ffffff 175px,#e6e684 176px,#e6c01c 177px,#e68a04 178px,#f45c15 179px,#ee3e35 180px,#b93764 181px,#8f3188 182px,#5a28b4 184px,#4926b9 185px,#222270 191px,#13133e 196px,#080819 204px,#010104 222px,#000000 332px)"></i><i style="height:1px;background:linear-gradient(90deg,#000000 0px,#010104 122px,#08081c 132px,#141443 138px,#2e268c 144px,#5227bb 148px,#843091 150px,#a73573 151px,#d83b48 152px,#fa4b1f 153px,#ea7506 154px,#e5a710 155px,#e6d450 156px,#f5f5cc 157px,#ffffff 158px,#ffffff 175px,#e6e174 176px,#e6b716 177px,#e68101 178px,#f7531a 179px,#e13c41 180px,#ad356e 181px,#6b2ba6 183px,#5327ba 184px,#2f268e 188px,#141441 195px,#08081a 203px,#010104 220px,#000000 332px)"></i><i style="height:1px;background:linear-gradient(90deg,#000000 0px,#020205 123px,#0a0a20 133px,#17174c 139px,#2d268b 144px,#4f27bd 148px,#812f94 150px,#a23478 151px,#fc4821 153px,#eb7208 154px,#e6a30e 155px,#e6d24a 156px,#f4f4c7 157px,#ffffff 158px,#ffffff 174px,#fdfdf7 175px,#e6db64 176px,#e6ae12 177px,#e97805 178px,#fb4b20 179px,#d43a4c 180px,#a13479 181px,#632aac 183px,#4c26bf 184px,#2c268a 188px,#151545 194px,#09091e 201px,#020207 215px,#000000 332px)"></i><i style="height:1px;background:linear-gradient(90deg,#000000 0px,#020205 123px,#09091f 133px,#16164a 139px,#2c2689 144px,#4c26be 148px,#9d337c 151px,#fd4424 153px,#ed6e0b 154px,#e69f0d 155px,#e6cf44 156px,#f3f3c1 157px,#ffffff 158px,#ffffff 174px,#f9f9e2 175px,#e6d553 176px,#e6a30e 177px,#ed6e0b 178px,#fe4225 179px,#963282 181px,#5c29b2 183px,#4926b9 184px,#20206c 190px,#11113a 195px,#070716 203px,#010103 222px,#000000 332px)"></i><i style="height:1px;background:linear-gradient(90deg,#000000 0px,#020205 123px,#09091e 133px,#161648 139px,#312692 145px,#4a26bc 148px,#5f29b0 149px,#973381 151px,#ff4026 153px,#ee690d 154px,#e69b0b 155px,#e6cd3d 156px,#f1f1b9 157px,#ffffff 158px,#ffffff 174px,#f5f5cc 175px,#e6ce42 176px,#e6990a 177px,#f06410 178px,#f33e31 179px,#b93763 180px,#8d318a 181px,#5428b9 183px,#4626b4 184px,#232374 189px,#12123d 194px,#070717 202px,#010103 220px,#000000 332px)"></i><i style="height:1px;background:linear-gradient(90deg,#000000 0px,#010105 123px,#09091d 133px,#151546 139px,#302690 145px,#4926b9 148px,#5b29b3 149px,#933285 151px,#c0385e 152px,#f83f2d 153px,#f06410 154px,#e69609 155px,#e6ca35 156px,#efefb0 157px,#ffffff 158px,#ffffff 174px,#f0f0b4 175px,#e6c72f 176px,#e68e06 177px,#f55a17 178px,#e43c3e 179px,#ab356f 180px,#832f92 181px,#4d26bf 183px,#2b2688 187px,#131341 193px,#08081b 200px,#010105 215px,#000000 332px)"></i><i style="height:1px;background:linear-gradient(90deg,#000000 0px,#010105 123px,#09091c 133px,#141444 139px,#2f268e 145px,#4726b6 148px,#5728b7 149px,#8e3189 151px,#b93764 152px,#f03e34 153px,#f25f13 154px,#e69007 155px,#e6c62c 156px,#ededa5 157px,#ffffff 158px,#ffffff 174px,#ebeb9b 175px,#e6c01c 176px,#e68201 177px,#f94f1d 178px,#d53a4b 179px,#9e347b 180px,#5d29b1 182px,#4926b9 183px,#1f1f67 189px,#101035 194px,#060614 202px,#010102 222px,#000000 332px)"></i><i style="height:1px;background:linear-gradient(90deg,#000000 0px,#010105 123px,#08081b 133px,#141442 139px,#2d268b 145px,#5327ba 149px,#89308d 151px,#b1366a 152px,#e83d3b 153px,#f55a17 154px,#e68a04 155px,#e6c323 156px,#ebeb99 157px,#ffffff 158px,#ffffff 174px,#e6e681 175px,#e6b415 176px,#e97705 177px,#fd4523 178px,#923285 180px,#5528b8 182px,#4526b3 183px,#21216f 188px,#111138 193px,#060615 201px,#010102 220px,#000000 332px)"></i><i style="height:1px;background:linear-gradient(90deg,#000000 0px,#020205 124px,#09091f 134px,#161649 140px,#2c2689 145px,#4f27be 149px,#832f91 151px,#a93571 152px,#df3c42 153px,#f7541a 154px,#e68402 155px,#e6be19 156px,#e8e88c 157px,#ffffff 158px,#ffffff 174px,#e6de6b 175px,#e6a710 176px,#ee6b0c 177px,#f63f2e 178px,#b63766 179px,#88308e 180px,#4d26bf 182px,#2a2685 186px,#151545 191px,#09091f 197px,#020206 210px,#000000 332px)"></i><i style="height:1px;background:linear-gradient(90deg,#000000 0px,#020205 124px,#09091e 134px,#151547 140px,#312692 146px,#4b26bd 149px,#7e2e96 151px,#a13478 152px,#d63b4a 153px,#f94e1e 154px,#e67d01 155px,#e6b716 156px,#e6e57e 157px,#ffffff 158px,#ffffff 174px,#e6d554 175px,#e69a0b 176px,#f35f14 177px,#e43c3e 178px,#a63574 179px,#7d2e97 180px,#5e29b1 181px,#4826b8 182px,#222270 187px,#131340 191px,#080819 198px,#010104 213px,#000000 332px)"></i><i style="height:1px;background:linear-gradient(90deg,#000000 0px,#020205 124px,#09091d 134px,#141444 140px,#2f268f 146px,#4926b9 149px,#5d29b2 150px,#993380 152px,#fc4722 154px,#e97606 155px,#e6af13 156px,#e6e071 157px,#ffffff 158px,#ffffff 173px,#f9f9e1 174px,#e5cc3c 175px,#e68c05 176px,#f8521b 177px,#d33a4d 178px,#973381 179px,#5528b8 181px,#4426b2 182px,#1f1f69 187px,#12123b 191px,#070717 198px,#010103 214px,#000000 332px)"></i><i style="height:1px;background:linear-gradient(90deg,#000000 0px,#010105 124px,#08081c 134px,#141442 140px,#2e268c 146px,#4726b6 149px,#5728b6 150px,#923285 152px,#c2385c 153px,#ff4026 154px,#ec6e0a 155px,#e6a710 156px,#e6db63 157px,#ffffff 158px,#ffffff 173px,#f2f2c0 174px,#e6c323 175px,#e67e01 176px,#fd4623 177px,#c1385d 178px,#8b318b 179px,#4c26bf 181px,#2f268d 184px,#13133f 190px,#070718 197px,#010104 212px,#000000 332px)"></i><i style="height:1px;background:linear-gradient(90deg,#000000 0px,#010105 124px,#09091f 135px,#161649 141px,#2c2689 146px,#5227bb 150px,#8b318b 152px,#b83765 153px,#f43e30 154px,#f0660f 155px,#e69e0c 156px,#e6d554 157px,#fdfdf6 158px,#ffffff 160px,#ffffff 173px,#ebeb9d 174px,#e6b515 175px,#ec7009 176px,#f43e30 177px,#af366c 178px,#802f95 179px,#5e29b1 180px,#4826b7 181px,#20206a 186px,#11113a 190px,#070716 197px,#010103 213px,#000000 332px)"></i><i style="height:1px;background:linear-gradient(90deg,#000000 0px,#020205 125px,#09091d 135px,#151546 141px,#312692 147px,#4c26bf 150px,#842f91 152px,#ad356e 153px,#e73d3b 154px,#f35e14 155px,#e69508 156px,#e6cf43 157px,#f9f9e0 158px,#ffffff 159px,#ffffff 173px,#e6e47a 174px,#e5a50f 175px,#f26112 176px,#e03c41 177px,#9d347c 178px,#5427b9 180px,#30268f 183px,#161648 188px,#09091e 194px,#020206 206px,#000000 332px)"></i><i style="height:1px;background:linear-gradient(90deg,#000000 0px,#020205 125px,#08081c 135px,#141443 141px,#2f268e 147px,#4a26ba 150px,#5f29b0 151px,#a13478 153px,#da3b46 154px,#f7551a 155px,#e68b04 156px,#e6c831 157px,#f4f4c9 158px,#ffffff 159px,#ffffff 173px,#e6d85d 174px,#e69408 175px,#f7531b 176px,#cc3953 177px,#8f3188 178px,#692ba8 179px,#4b26bd 180px,#2c268a 183px,#141443 188px,#08081c 194px,#020206 206px,#000000 332px)"></i><i style="height:1px;background:linear-gradient(90deg,#000000 0px,#010105 125px,#09091f 136px,#16164a 142px,#2d268b 147px,#4726b5 150px,#5828b5 151px,#973381 153px,#cd3a52 154px,#fa4b1f 155px,#e68000 156px,#e6c11f 157px,#efefaf 158px,#ffffff 159px,#ffffff 173px,#e6cd3e 174px,#e68302 175px,#fd4424 176px,#b73765 177px,#822f93 178px,#5d29b1 179px,#4626b5 180px,#232374 184px,#12123d 188px,#080819 194px,#010104 207px,#000000 332px)"></i><i style="height:1px;background:linear-gradient(90deg,#000000 0px,#010105 125px,#09091e 136px,#151546 142px,#322693 148px,#5127bb 151px,#8e3189 153px,#c0385e 154px,#fe4125 155px,#ea7506 156px,#e6b616 157px,#eaea94 158px,#ffffff 159px,#ffffff 172px,#f8f8db 173px,#e6c11e 174px,#eb7208 175px,#ee3e35 176px,#a33477 177px,#752d9e 178px,#5227bb 179px,#2d268c 182px,#141441 187px,#08081a 193px,#010104 206px,#000000 332px)"></i><i style="height:1px;background:linear-gradient(90deg,#000000 0px,#020205 126px,#0a0a21 137px,#17174d 143px,#30268f 148px,#4b26be 151px,#843091 153px,#b1366a 154px,#f23e32 155px,#ee690d 156px,#e6a911 157px,#e6e378 158px,#ffffff 159px,#ffffff 172px,#efefae 173px,#e6ae13 174px,#f26112 175px,#d73b4a 176px,#913286 177px,#682ba9 178px,#4a26bb 179px,#232375 183px,#151546 186px,#0a0a20 191px,#020208 201px,#000000 275px,#000000 332px)"></i><i style="height:1px;background:linear-gradient(90deg,#000000 0px,#020205 126px,#09091f 137px,#161649 143px,#2d268b 148px,#4826b8 151px,#5d29b2 152px,#a33477 154px,#e13c41 155px,#f35e14 156px,#e59b0b 157px,#e6da60 158px,#ffffff 159px,#ffffff 172px,#e6e57f 173px,#e69a0b 174px,#f9501d 175px,#bf385e 176px,#832f92 177px,#5b29b3 178px,#4426b2 179px,#20206c 183px,#131340 186px,#09091d 191px,#020206 202px,#000000 332px)"></i><i style="height:1px;background:linear-gradient(90deg,#000000 0px,#010105 126px,#09091d 137px,#151545 143px,#322693 149px,#4426b2 151px,#5428b9 152px,#963282 154px,#d03a4f 155px,#f8511c 156px,#e68d05 157px,#e6d046 158px,#ffffff 159px,#ffffff 172px,#e6d759 173px,#e68602 174px,#fd4028 175px,#a83572 176px,#742d9e 177px,#4f27bd 178px,#2b2687 181px,#151545 185px,#09091e 190px,#020207 200px,#000000 303px,#000000 332px)"></i><i style="height:1px;background:linear-gradient(90deg,#000000 0px,#020205 127px,#0a0a20 138px,#17174b 144px,#2f268f 149px,#4c26bf 152px,#8a318c 154px,#be385f 155px,#fd4523 156px,#e67e01 157px,#e6c62a 158px,#f8f8de 159px,#ffffff 160px,#ffffff 172px,#e6c832 173px,#eb7109 174px,#e23c40 175px,#933284 176px,#662aaa 177px,#4826b7 178px,#20206c 182px,#13133f 185px,#08081b 190px,#020205 201px,#000000 332px)"></i><i style="height:1px;background:linear-gradient(90deg,#000000 0px,#020205 127px,#09091e 138px,#151547 144px,#2d268a 149px,#4826b8 152px,#5e29b1 153px,#7f2f95 154px,#ad356e 155px,#f23e32 156px,#ec6f0a 157px,#e6b817 158px,#f0f0b5 159px,#ffffff 160px,#ffffff 171px,#fbfbe9 172px,#e6b616 173px,#f35d15 174px,#c73957 175px,#832f92 176px,#5828b6 177px,#4226ae 178px,#1d1d62 182px,#111139 185px,#060615 191px,#010103 205px,#000000 332px)"></i><i style="height:1px;background:linear-gradient(90deg,#000000 0px,#010105 127px,#08081c 138px,#141443 144px,#312692 150px,#4426b1 152px,#5428b9 153px,#9b337e 155px,#dd3b44 156px,#f26013 157px,#e6a60f 158px,#e8e88a 159px,#ffffff 160px,#ffffff 171px,#efefad 172px,#e69d0c 173px,#fb4921 174px,#ac356f 175px,#722da0 176px,#4b26be 177px,#312691 179px,#161649 183px,#0b0b24 187px,#03030a 195px,#000000 233px,#000000 332px)"></i><i style="height:1px;background:linear-gradient(90deg,#000000 0px,#020205 128px,#09091e 139px,#161648 145px,#2e268c 150px,#4c26be 153px,#8d318a 155px,#c73957 156px,#f9501d 157px,#e69308 158px,#e6db64 159px,#ffffff 160px,#ffffff 171px,#e6e174 172px,#e68502 173px,#ee3e35 174px,#943284 175px,#622aad 176px,#4526b3 177px,#1d1d61 181px,#101037 184px,#070717 189px,#010103 201px,#000000 332px)"></i><i style="height:1px;background:linear-gradient(90deg,#000000 0px,#020205 128px,#08081c 139px,#141443 145px,#322694 151px,#4726b6 153px,#5d29b2 154px,#7f2f95 155px,#b2366a 156px,#ff4026 157px,#e68000 158px,#e6cd3f 159px,#ffffff 160px,#ffffff 171px,#e6cf43 172px,#ed6c0b 173px,#ce3a51 174px,#812f93 175px,#5327ba 176px,#322693 178px,#161648 182px,#0a0a22 186px,#030309 194px,#000000 239px,#000000 332px)"></i><i style="height:1px;background:linear-gradient(90deg,#000000 0px,#020206 129px,#09091e 140px,#161648 146px,#2f268e 151px,#5127bb 154px,#722ca0 155px,#9c337c 156px,#e53d3d 157px,#ed6c0c 158px,#e6bf1a 159px,#fbfbeb 160px,#ffffff 161px,#ffffff 171px,#e6bb18 172px,#f7541a 173px,#b0366b 174px,#6f2ca2 175px,#4926b9 176px,#242478 179px,#131340 182px,#09091e 186px,#020206 195px,#000000 320px,#000000 332px)"></i><i style="height:1px;background:linear-gradient(90deg,#000000 0px,#020205 129px,#08081c 140px,#141443 146px,#332695 152px,#4926ba 154px,#642aab 155px,#8b318b 156px,#cb3954 157px,#f55917 158px,#e6a710 159px,#efefb1 160px,#ffffff 161px,#ffffff 170px,#f9f9e2 171px,#e69d0c 172px,#fb3f2a 173px,#943283 174px,#5e29b1 175px,#4226ad 176px,#20206b 179px,#111139 182px,#070716 187px,#010103 199px,#000000 332px)"></i><i style="height:1px;background:linear-gradient(90deg,#000000 0px,#020206 130px,#09091e 141px,#151547 147px,#2f268f 152px,#4426b0 154px,#5728b6 155px,#7c2e98 156px,#b2366a 157px,#fd4523 158px,#e68f06 159px,#e6e277 160px,#ffffff 161px,#ffffff 170px,#eaea96 171px,#e68000 172px,#d63b4a 173px,#7f2f95 174px,#4d26bf 175px,#2e268c 177px,#17174c 180px,#0a0a21 184px,#020208 192px,#000000 248px,#000000 332px)"></i><i style="height:1px;background:linear-gradient(90deg,#000000 0px,#020205 130px,#08081b 141px,#141441 147px,#1f1f68 150px,#3e26a7 154px,#4b26bd 155px,#6c2ba5 156px,#983380 157px,#e83d3a 158px,#e97705 159px,#e5d047 160px,#ffffff 161px,#ffffff 170px,#e5d555 171px,#f16311 172px,#b33668 173px,#6b2ba6 174px,#4526b2 175px,#20206b 178px,#101036 181px,#060614 186px,#010102 198px,#000000 332px)"></i><i style="height:1px;background:linear-gradient(90deg,#000000 0px,#020205 131px,#09091c 142px,#151545 148px,#2f268f 153px,#4526b3 155px,#5d29b2 156px,#863090 157px,#c93955 158px,#f35f14 159px,#e6bd19 160px,#ffffff 161px,#ffffff 170px,#e6bf19 171px,#fc4722 172px,#943284 173px,#5828b6 174px,#3d26a6 175px,#1c1c5e 178px,#0e0e2f 181px,#050511 186px,#000001 200px,#000000 332px)"></i><i style="height:1px;background:linear-gradient(90deg,#000000 0px,#020206 132px,#09091e 143px,#13133f 148px,#1e1e66 151px,#3f26a8 155px,#4e26be 156px,#732d9f 157px,#ab3570 158px,#fc4722 159px,#e69e0c 160px,#f5f5cb 161px,#ffffff 162px,#ffffff 170px,#e69a0b 171px,#e03c41 172px,#7c2e98 173px,#4926b9 174px,#20206a 177px,#131341 179px,#08081b 183px,#010105 192px,#000000 332px)"></i><i style="height:1px;background:linear-gradient(90deg,#000000 0px,#020205 132px,#08081b 143px,#141442 149px,#21216d 152px,#4626b4 156px,#612aae 157px,#903287 158px,#e53c3d 159px,#e68000 160px,#e6e47c 161px,#ffffff 162px,#ffffff 169px,#f4f4c6 170px,#e97705 171px,#b73765 172px,#652aab 173px,#4026ab 174px,#1c1c5c 177px,#0d0d2c 180px,#05050f 185px,#000001 200px,#000000 332px)"></i><i style="height:1px;background:linear-gradient(90deg,#000000 0px,#020205 133px,#08081c 144px,#12123b 149px,#1d1d62 152px,#3f26a9 156px,#5027bc 157px,#7b2e99 158px,#c0385d 159px,#f16211 160px,#e6cd3d 161px,#ffffff 162px,#ffffff 169px,#e6de6a 170px,#f65519 171px,#933285 172px,#5027bc 173px,#2a2685 175px,#181850 177px,#0b0b26 180px,#03030a 186px,#000000 212px,#000000 332px)"></i><i style="height:1px;background:linear-gradient(90deg,#000000 0px,#020206 134px,#09091d 145px,#13133e 150px,#1f1f68 153px,#38269d 156px,#4626b5 157px,#662baa 158px,#9d347c 159px,#fd4623 160px,#e6af13 161px,#ffffff 162px,#ffffff 169px,#e6c11f 170px,#ee3e35 171px,#782d9b 172px,#4426b2 173px,#242479 175px,#151545 177px,#0a0a20 180px,#030309 186px,#000000 222px,#000000 332px)"></i><i style="height:1px;background:linear-gradient(90deg,#000000 0px,#020206 135px,#09091d 146px,#141441 151px,#21216f 154px,#3e26a8 157px,#5227ba 158px,#832f92 159px,#dc3b45 160px,#e68904 161px,#f8f8da 162px,#ffffff 163px,#ffffff 169px,#e69609 170px,#be385f 171px,#5e29b0 172px,#3b26a3 173px,#17174e 176px,#0b0b23 179px,#030309 185px,#000000 218px,#000000 332px)"></i><i style="height:1px;background:linear-gradient(90deg,#000000 0px,#020205 135px,#08081a 146px,#111139 151px,#1d1d62 154px,#37269c 157px,#4626b5 158px,#6b2ba6 159px,#b2366a 160px,#f06510 161px,#e6e275 162px,#ffffff 163px,#ffffff 169px,#ed6c0c 170px,#933285 171px,#4a26bb 172px,#332695 173px,#1b1b58 175px,#0f0f32 177px,#050512 181px,#010102 192px,#000000 332px)"></i><i style="height:1px;background:linear-gradient(90deg,#000000 0px,#020205 136px,#08081a 147px,#12123b 152px,#1f1f68 155px,#3e26a6 158px,#5428b9 159px,#8d3189 160px,#fe4225 161px,#e6c425 162px,#ffffff 163px,#ffffff 168px,#ebeb9a 169px,#fd4424 170px,#742d9f 171px,#3f26a9 172px,#1f1f67 174px,#111137 176px,#070718 179px,#010105 186px,#000000 332px)"></i><i style="height:1px;background:linear-gradient(90deg,#000000 0px,#020205 137px,#08081a 148px,#12123d 153px,#21216f 156px,#4626b4 159px,#712ca1 160px,#ce3a51 161px,#e69609 162px,#ffffff 163px,#ffffff 168px,#e6c933 169px,#cb3954 170px,#5728b6 171px,#362699 172px,#1a1a56 174px,#0e0e2e 176px,#050510 180px,#000001 192px,#000000 332px)"></i><i style="height:1px;background:linear-gradient(90deg,#000000 0px,#020206 139px,#08081b 149px,#131340 154px,#1d1d60 156px,#3c26a4 159px,#5728b6 160px,#9e347b 161px,#ee690d 162px,#fdfdf3 163px,#ffffff 164px,#ffffff 168px,#e69709 169px,#963382 170px,#4526b3 171px,#1f1f66 173px,#161648 174px,#0b0b26 176px,#04040d 180px,#000000 195px,#000000 332px)"></i><i style="height:1px;background:linear-gradient(90deg,#000000 0px,#020206 140px,#08081b 150px,#101036 154px,#1f1f66 157px,#332695 159px,#4626b4 160px,#7b2e99 161px,#fe4027 162px,#e6df6f 163px,#ffffff 164px,#ffffff 168px,#f16211 169px,#722ca0 170px,#3a26a0 171px,#25257c 172px,#191954 173px,#0d0d2a 175px,#04040d 179px,#000000 193px,#000000 332px)"></i><i style="height:1px;background:linear-gradient(90deg,#000000 0px,#020206 141px,#08081a 151px,#111138 155px,#1a1a56 157px,#3b26a2 160px,#5c29b2 161px,#c0385d 162px,#e6b515 163px,#ffffff 164px,#ffffff 168px,#eb3d38 169px,#5227bb 170px,#30268f 171px,#151545 173px,#0a0a22 175px,#03030a 179px,#000000 198px,#000000 332px)"></i><i style="height:1px;background:linear-gradient(90deg,#000000 0px,#020205 142px,#08081a 152px,#111139 156px,#1c1c5c 158px,#312692 160px,#4626b5 161px,#8d318a 162px,#e87a03 163px,#ffffff 164px,#ffffff 167px,#e6e57e 168px,#a73573 169px,#4126ac 170px,#272680 171px,#191953 172px,#111138 173px,#08081b 175px,#020206 180px,#000000 264px,#000000 332px)"></i><i style="height:1px;background:linear-gradient(90deg,#000000 0px,#020206 144px,#08081a 153px,#12123b 157px,#1e1e63 159px,#3a26a1 161px,#672ba9 162px,#fd4523 163px,#ffffff 164px,#ffffff 167px,#e6b013 168px,#772d9c 169px,#342697 170px,#141442 172px,#09091f 174px,#030308 178px,#000000 205px,#000000 332px)"></i><i style="height:1px;background:linear-gradient(90deg,#000000 0px,#020206 145px,#080819 154px,#0e0e30 157px,#181851 159px,#2f268f 161px,#4926ba 162px,#bc3761 163px,#ededa4 164px,#ffffff 165px,#ffffff 167px,#ee6b0c 168px,#5127bc 169px,#2a2685 170px,#191952 171px,#101034 172px,#070718 174px,#010105 179px,#000000 332px)"></i><i style="height:1px;background:linear-gradient(90deg,#000000 0px,#020206 147px,#070719 155px,#0f0f31 158px,#1b1b58 160px,#26267f 161px,#3b26a2 162px,#812f93 163px,#e6ba17 164px,#ffffff 165px,#ffffff 167px,#e43c3e 168px,#3e26a7 169px,#21216d 170px,#131340 171px,#08081b 173px,#020207 177px,#000000 232px,#000000 332px)"></i><i style="height:1px;background:linear-gradient(90deg,#000000 0px,#020206 148px,#070718 156px,#0f0f33 159px,#151546 160px,#1e1e64 161px,#2f268d 162px,#5728b7 163px,#ed6d0b 164px,#ffffff 165px,#ffffff 167px,#933284 168px,#302690 169px,#191954 170px,#0f0f31 171px,#060614 173px,#010103 179px,#000000 332px)"></i><i style="height:1px;background:linear-gradient(90deg,#000000 0px,#020206 150px,#070718 157px,#101036 160px,#17174e 161px,#242479 162px,#3f26a9 163px,#df3c42 164px,#ffffff 165px,#ffffff 167px,#6029af 168px,#25257a 169px,#131340 170px,#0b0b25 171px,#05050f 173px,#000001 181px,#000000 332px)"></i><i style="height:1px;background:linear-gradient(90deg,#000000 0px,#020205 151px,#070717 158px,#0c0c29 160px,#12123b 161px,#1c1c5c 162px,#302690 163px,#8c318b 164px,#ffffff 165px,#ffffff 166px,#e5cc3c 167px,#4126ac 168px,#1b1b5c 169px,#0e0e2f 170px,#050511 172px,#010102 178px,#000000 332px)"></i><i style="height:1px;background:linear-gradient(90deg,#000000 0px,#020206 153px,#070717 159px,#0d0d2c 161px,#151545 162px,#242479 163px,#5528b8 164px,#ffffff 165px,#ffffff 166px,#ec6f0a 167px,#30268f 168px,#141443 169px,#0a0a22 170px,#04040c 172px,#000000 181px,#000000 332px)"></i><i style="height:1px;background:linear-gradient(90deg,#000000 0px,#020205 154px,#070717 160px,#0f0f32 162px,#1a1a58 163px,#3b26a3 164px,#e6d24c 165px,#ffffff 166px,#c83956 167px,#222273 168px,#0e0e30 169px,#070718 170px,#020205 173px,#000000 332px)"></i><i style="height:1px;background:linear-gradient(90deg,#000000 0px,#020206 156px,#070717 161px,#0b0b24 162px,#13133f 163px,#2a2686 164px,#ee6b0c 165px,#ffffff 166px,#6f2ca2 167px,#181850 168px,#0a0a21 169px,#03030a 171px,#000000 183px,#000000 332px)"></i><i style="height:1px;background:linear-gradient(90deg,#000000 0px,#010105 157px,#050510 161px,#0d0d2c 163px,#1d1d62 164px,#b43668 165px,#ffffff 166px,#4126ac 167px,#101037 168px,#070717 169px,#010104 172px,#000000 332px)"></i><i style="height:1px;background:linear-gradient(90deg,#000000 0px,#020206 159px,#050511 162px,#09091e 163px,#141442 164px,#5c29b2 165px,#ffffff 166px,#2b2688 167px,#0b0b24 168px,#04040f 169px,#000002 173px,#000000 332px)"></i><i style="height:1px;background:linear-gradient(90deg,#000000 0px,#010105 160px,#060613 163px,#0d0d2b 164px,#37269b 165px,#ffffff 166px,#1c1c5d 167px,#070717 168px,#010105 170px,#000000 332px)"></i><i style="height:1px;background:linear-gradient(90deg,#000000 0px,#010104 161px,#04040c 163px,#08081b 164px,#222273 165px,#ffffff 166px,#111139 167px,#04040e 168px,#000002 171px,#000000 332px)"></i><i style="height:1px;background:linear-gradient(90deg,#000000 0px,#010104 162px,#050510 164px,#151545 165px,#ffffff 166px,#0a0a22 167px,#030308 168px,#000000 177px,#000000 332px)"></i><i style="height:1px;background:linear-gradient(90deg,#000000 0px,#010104 163px,#030309 164px,#0c0c27 165px,#ffffff 166px,#060613 167px,#010105 168px,#000000 332px)"></i><i style="height:1px;background:linear-gradient(90deg,#000000 0px,#020205 164px,#060615 165px,#eaea98 166px,#03030a 167px,#000000 170px,#000000 332px)"></i><i style="height:1px;background:linear-gradient(90deg,#000000 0px,#010103 164px,#03030b 165px,#df3c42 166px,#020205 167px,#000000 332px)"></i><i style="height:1px;background:linear-gradient(90deg,#000000 0px,#020205 165px,#4326af 166px,#010102 167px,#000000 332px)"></i><i style="height:1px;background:linear-gradient(90deg,#000000 0px,#010102 165px,#1d1d61 166px,#000001 167px,#000000 332px)"></i><i style="height:1px;background:linear-gradient(90deg,#000000 0px,#000001 165px,#0b0b26 166px,#000000 167px,#000000 332px)"></i><i style="height:1px;background:linear-gradient(90deg,#000000 0px,#000000 165px,#04040d 166px,#000000 167px,#000000 332px)"></i><i style="height:1px;background:linear-gradient(90deg,#000000 0px,#000000 332px)"></i><i style="height:1px;background:linear-gradient(90deg,#000000 0px,#000000 332px)"></i><i style="height:1px;background:linear-gradient(90deg,#000000 0px,#000000 332px)"></i><i style="height:1px;background:linear-gradient(90deg,#000000 0px,#000000 332px)"></i><i style="height:1px;background:linear-gradient(90deg,#000000 0px,#000000 332px)"></i><i style="height:1px;background:linear-gradient(90deg,#000000 0px,#000000 332px)"></i><i style="height:1px;background:linear-gradient(90deg,#000000 0px,#000000 332px)"></i><i style="height:1px;background:linear-gradient(90deg,#000000 0px,#000000 332px)"></i><i style="height:1px;background:linear-gradient(90deg,#000000 0px,#000000 332px)"></i><i style="height:1px;background:linear-gradient(90deg,#000000 0px,#000000 332px)"></i><i style="height:1px;background:linear-gradient(90deg,#000000 0px,#000000 332px)"></i><i style="height:1px;background:linear-gradient(90deg,#000000 0px,#000000 332px)"></i><i style="height:1px;background:linear-gradient(90deg,#000000 0px,#000000 332px)"></i><i style="height:1px;background:linear-gradient(90deg,#000000 0px,#000000 332px)"></i><i style="height:1px;background:linear-gradient(90deg,#000000 0px,#000000 332px)"></i><i style="height:1px;background:linear-gradient(90deg,#000000 0px,#000000 332px)"></i><i style="height:1px;background:linear-gradient(90deg,#000000 0px,#000000 332px)"></i></div><div class="fr" style="left:691.25px;top:581.30px;width:336.25px;height:370.60px"></div><div class="cb" style="left:1046.10px;top:582.40px;height:368.20px"></div><div class="t yt" style="right:448.5px;top:934.1px">0.0</div><div class="t yt" style="right:448.5px;top:750.4px">0.5</div><div class="t yt" style="right:448.5px;top:566.7px">1.0</div><div class="t xt" style="left:592.9px;width:200px;text-align:center;top:963.5px">−2</div><div class="t xt" style="left:703.9px;width:200px;text-align:center;top:963.5px">0</div><div class="t xt" style="left:814.9px;width:200px;text-align:center;top:963.5px">2</div><div class="t xt" style="left:925.9px;width:200px;text-align:center;top:963.5px">4</div><div class="t ct" style="left:1082.5px;top:935.3px">0</div><div style="position:absolute;left:1064.6px;top:766.1px;width:2px;height:1px;background:#666"></div><div class="t ct" style="left:1082.5px;top:751.6px">1</div><div class="t ct" style="left:1082.5px;top:567.9px">2</div><div class="t pl" style="left:693.0px;top:508.0px">(d)</div><div class="t al" style="left:830.0px;top:1010.0px">K<span class="sl">/</span>B</div><div class="t al" style="left:569.5px;top:748.5px;transform:rotate(-90deg);transform-origin:50% 50%">T<span class="sl">/</span>B</div><svg class="q" style="left:985.4px;top:529.0px" width="28" height="34" viewBox="0 0 28 34"><path d="M15.8,21.0C13.5,22.6 10.5,23.4 7.6,22.9C4.5,22.4 2.6,20 3.0,16.8C3.4,11.5 8.5,5.6 15.5,4.9C20.8,4.4 24.3,7.5 24.0,12.2C23.7,17 20.6,22.6 15.3,26.3L13.8,25.1C17.6,21.9 20.0,17.3 20.2,12.6C20.4,9 18.3,7.3 15.3,7.4C10.5,7.6 7.0,12.5 6.8,16.6C6.6,19.6 8.6,21.2 11.3,21.2C12.8,21.2 14.4,21.0 15.8,21.0Z"/><path d="M3.4,27.9C6.5,24.8 10.5,24.7 15.0,26.9C18.5,28.6 21.6,28.0 23.8,25.6L24.1,26.0C22.2,29.0 18.8,30.2 15.0,29.1C10.8,27.8 7.0,27.1 3.4,27.9Z"/></svg><div class="t ti" style="left:1010.1px;top:526.5px"><span class="sb">MP</span><span class="pa">(</span><i>K</i><span class="cm">,</span><i>K</i><span class="pc">)</span></div></body></html>
